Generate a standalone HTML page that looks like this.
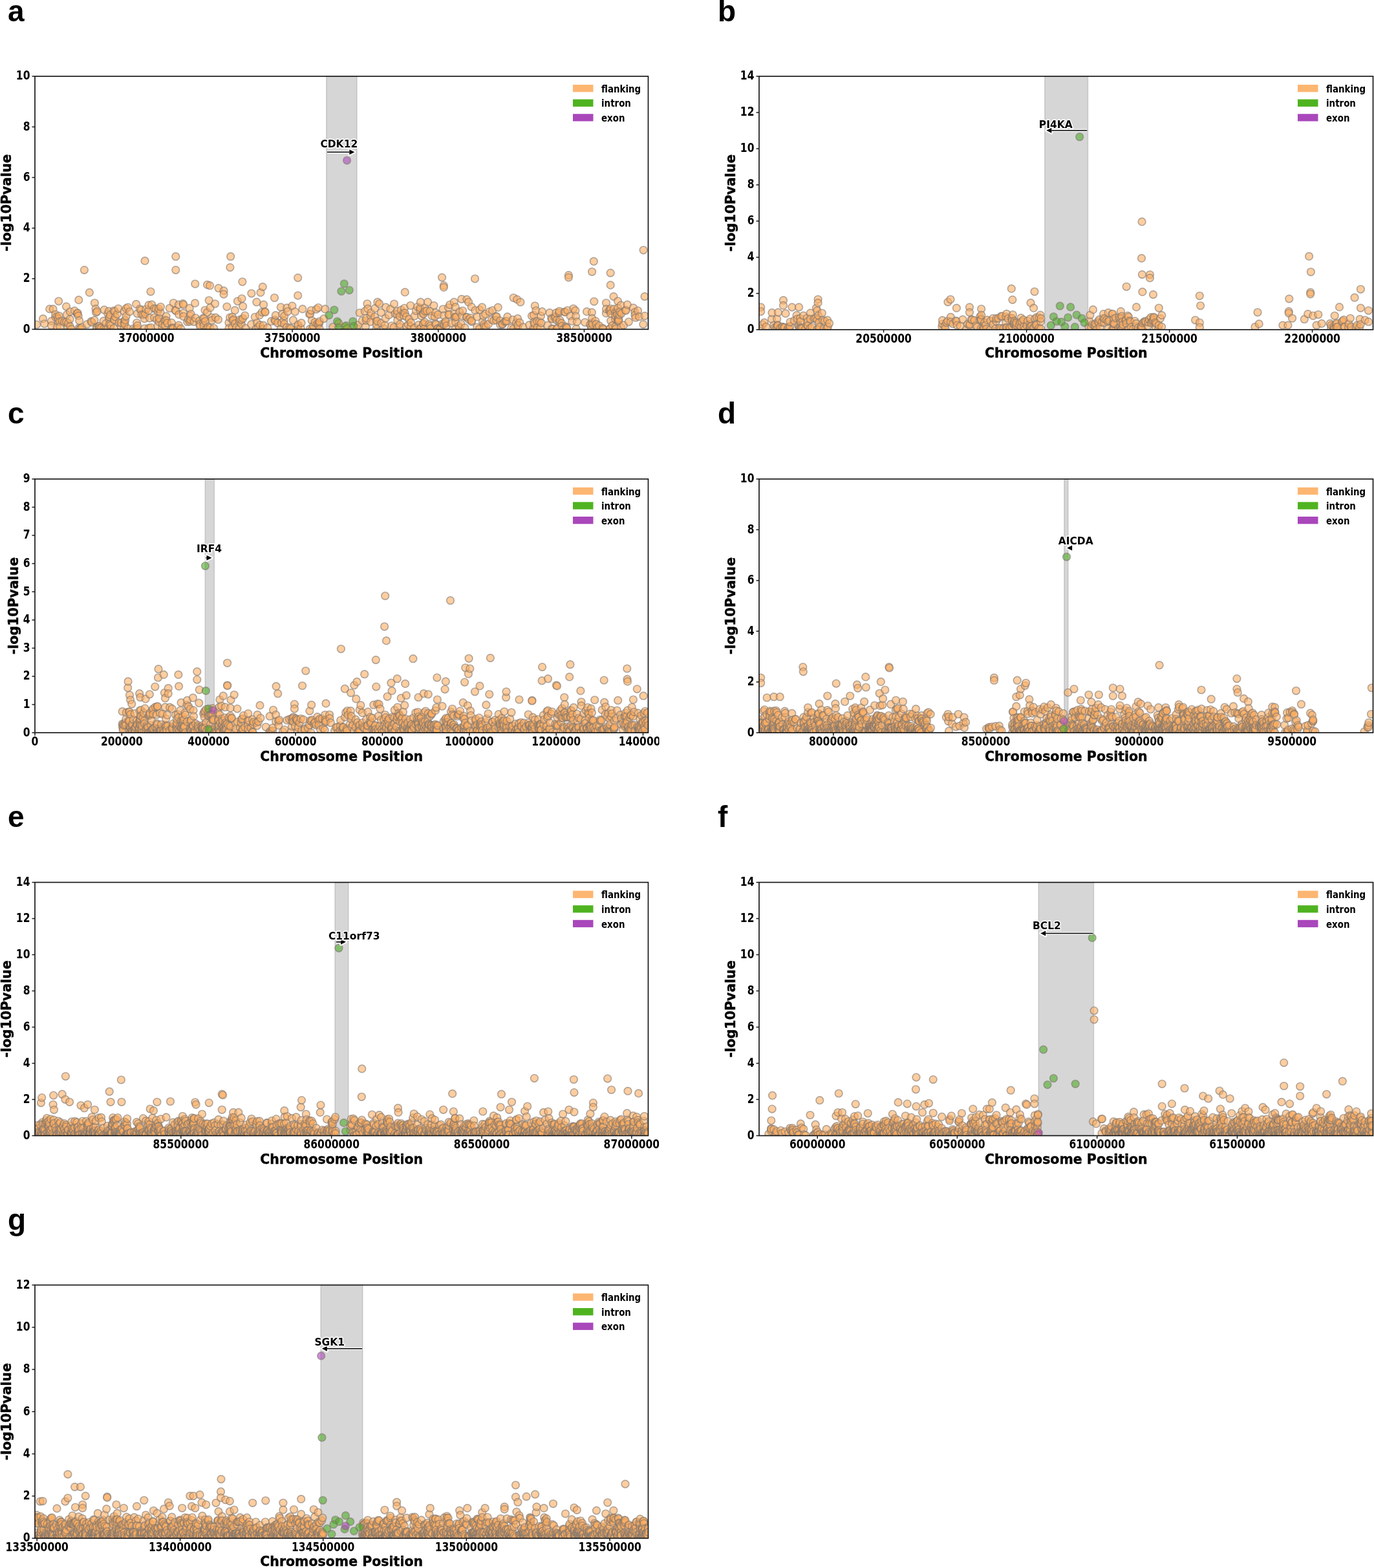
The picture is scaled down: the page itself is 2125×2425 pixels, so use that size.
<!DOCTYPE html>
<html><head><meta charset="utf-8"><title>Regional association plots</title>
<style>html,body{margin:0;padding:0;background:#fff;} svg{display:block;}</style>
</head><body>
<svg width="2125" height="2425" viewBox="0 0 2125 2425">
<defs>
<clipPath id="clipa"><rect x="54" y="118" width="948.5" height="391.3"/></clipPath>
<clipPath id="clipb"><rect x="1174" y="118" width="949.5" height="391.8"/></clipPath>
<clipPath id="clipc"><rect x="54" y="740.8" width="948.5" height="392.4"/></clipPath>
<clipPath id="clipd"><rect x="1174" y="740.8" width="949.5" height="392.4"/></clipPath>
<clipPath id="clipe"><rect x="54" y="1364.6" width="948.5" height="391.8"/></clipPath>
<clipPath id="clipf"><rect x="1174" y="1364.6" width="949.5" height="391.8"/></clipPath>
<clipPath id="clipg"><rect x="54" y="1987.4" width="948.5" height="391.6"/></clipPath>
<clipPath id="clipL"><rect x="0" y="0" width="1019.5" height="2425"/></clipPath>
</defs>
<rect width="2125" height="2425" fill="#fff"/>
<g id="panel-a">
<rect x="504.8" y="118.0" width="47.2" height="391.3" fill="rgb(128,128,128)" fill-opacity="0.32" stroke="rgb(128,128,128)" stroke-opacity="0.32" stroke-width="1.5"/>
<g clip-path="url(#clipa)" stroke="rgb(128,118,110)" stroke-opacity="0.6" stroke-width="1.65">
<g fill="#fdae61" fill-opacity="0.6">
<circle cx="56.7" cy="502" r="5.8"/>
<circle cx="66.5" cy="492.9" r="5.8"/>
<circle cx="68.8" cy="500.8" r="5.8"/>
<circle cx="76.8" cy="477.9" r="5.8"/>
<circle cx="79.5" cy="496.6" r="5.8"/>
<circle cx="79.6" cy="503.5" r="5.8"/>
<circle cx="82.1" cy="477.9" r="5.8"/>
<circle cx="85.7" cy="490.4" r="5.8"/>
<circle cx="85.8" cy="486.3" r="5.8"/>
<circle cx="88.2" cy="506" r="5.8"/>
<circle cx="88.6" cy="489.8" r="5.8"/>
<circle cx="89.9" cy="496.9" r="5.8"/>
<circle cx="90" cy="492.7" r="5.8"/>
<circle cx="90.7" cy="465.8" r="5.8"/>
<circle cx="91.4" cy="488.5" r="5.8"/>
<circle cx="92.3" cy="497.4" r="5.8"/>
<circle cx="92.9" cy="505.3" r="5.8"/>
<circle cx="96.2" cy="496.4" r="5.8"/>
<circle cx="99.6" cy="498.2" r="5.8"/>
<circle cx="102.5" cy="474.1" r="5.8"/>
<circle cx="102.7" cy="498.1" r="5.8"/>
<circle cx="103.4" cy="486.7" r="5.8"/>
<circle cx="105.1" cy="505.3" r="5.8"/>
<circle cx="105.6" cy="499.7" r="5.8"/>
<circle cx="108.1" cy="493.7" r="5.8"/>
<circle cx="108.4" cy="482" r="5.8"/>
<circle cx="108.4" cy="504.9" r="5.8"/>
<circle cx="110.3" cy="509.1" r="5.8"/>
<circle cx="115.3" cy="480.6" r="5.8"/>
<circle cx="119.4" cy="485.2" r="5.8"/>
<circle cx="119.5" cy="484.9" r="5.8"/>
<circle cx="120.1" cy="484.1" r="5.8"/>
<circle cx="121.1" cy="488.4" r="5.8"/>
<circle cx="121.8" cy="463.9" r="5.8"/>
<circle cx="122" cy="507.2" r="5.8"/>
<circle cx="122.7" cy="496" r="5.8"/>
<circle cx="123.5" cy="509" r="5.8"/>
<circle cx="124.3" cy="508" r="5.8"/>
<circle cx="126.9" cy="506.5" r="5.8"/>
<circle cx="130.4" cy="417.6" r="5.8"/>
<circle cx="134.6" cy="501.5" r="5.8"/>
<circle cx="138.4" cy="452.4" r="5.8"/>
<circle cx="140.8" cy="497.1" r="5.8"/>
<circle cx="142" cy="498.3" r="5.8"/>
<circle cx="146" cy="495.3" r="5.8"/>
<circle cx="146.4" cy="468.5" r="5.8"/>
<circle cx="148" cy="477.6" r="5.8"/>
<circle cx="148.4" cy="483.1" r="5.8"/>
<circle cx="149.5" cy="507.2" r="5.8"/>
<circle cx="149.8" cy="506.5" r="5.8"/>
<circle cx="150.2" cy="481.7" r="5.8"/>
<circle cx="152.3" cy="504.8" r="5.8"/>
<circle cx="153.7" cy="504.5" r="5.8"/>
<circle cx="154.4" cy="507" r="5.8"/>
<circle cx="156.8" cy="506.9" r="5.8"/>
<circle cx="160.1" cy="496.4" r="5.8"/>
<circle cx="160.5" cy="508.3" r="5.8"/>
<circle cx="161.2" cy="479.2" r="5.8"/>
<circle cx="163.7" cy="508.3" r="5.8"/>
<circle cx="164" cy="500.1" r="5.8"/>
<circle cx="166.5" cy="508.3" r="5.8"/>
<circle cx="166.8" cy="485.4" r="5.8"/>
<circle cx="168.2" cy="481.4" r="5.8"/>
<circle cx="168.6" cy="493.3" r="5.8"/>
<circle cx="169.2" cy="490.1" r="5.8"/>
<circle cx="169.6" cy="501.3" r="5.8"/>
<circle cx="170.4" cy="487.2" r="5.8"/>
<circle cx="171.1" cy="508.4" r="5.8"/>
<circle cx="171.4" cy="502.8" r="5.8"/>
<circle cx="175.9" cy="480.5" r="5.8"/>
<circle cx="176.1" cy="507.8" r="5.8"/>
<circle cx="176.4" cy="494" r="5.8"/>
<circle cx="176.9" cy="495.1" r="5.8"/>
<circle cx="177.4" cy="481.7" r="5.8"/>
<circle cx="178.4" cy="490.1" r="5.8"/>
<circle cx="181.3" cy="485.9" r="5.8"/>
<circle cx="183" cy="477.3" r="5.8"/>
<circle cx="184.1" cy="498.8" r="5.8"/>
<circle cx="187.1" cy="504.2" r="5.8"/>
<circle cx="187.5" cy="499.2" r="5.8"/>
<circle cx="191.8" cy="508.3" r="5.8"/>
<circle cx="192" cy="481.5" r="5.8"/>
<circle cx="192.5" cy="496.2" r="5.8"/>
<circle cx="192.6" cy="499.8" r="5.8"/>
<circle cx="192.9" cy="501.7" r="5.8"/>
<circle cx="193.8" cy="494.9" r="5.8"/>
<circle cx="195.1" cy="489" r="5.8"/>
<circle cx="195.1" cy="476.9" r="5.8"/>
<circle cx="197.7" cy="508.1" r="5.8"/>
<circle cx="197.9" cy="475.3" r="5.8"/>
<circle cx="200.4" cy="482" r="5.8"/>
<circle cx="206.2" cy="508.4" r="5.8"/>
<circle cx="209.5" cy="509.3" r="5.8"/>
<circle cx="210.7" cy="470.4" r="5.8"/>
<circle cx="211.6" cy="499.3" r="5.8"/>
<circle cx="212.1" cy="507.9" r="5.8"/>
<circle cx="212.4" cy="485" r="5.8"/>
<circle cx="212.6" cy="503.6" r="5.8"/>
<circle cx="216.3" cy="477.8" r="5.8"/>
<circle cx="218.2" cy="479.7" r="5.8"/>
<circle cx="218.9" cy="486.6" r="5.8"/>
<circle cx="221.6" cy="487" r="5.8"/>
<circle cx="223.4" cy="492.8" r="5.8"/>
<circle cx="223.6" cy="508" r="5.8"/>
<circle cx="224.1" cy="403.4" r="5.8"/>
<circle cx="224.8" cy="485.6" r="5.8"/>
<circle cx="225.9" cy="478" r="5.8"/>
<circle cx="230" cy="480.2" r="5.8"/>
<circle cx="230" cy="471.9" r="5.8"/>
<circle cx="230.1" cy="507.4" r="5.8"/>
<circle cx="231.5" cy="492" r="5.8"/>
<circle cx="233" cy="451" r="5.8"/>
<circle cx="233.2" cy="506.6" r="5.8"/>
<circle cx="234.8" cy="471.2" r="5.8"/>
<circle cx="238.5" cy="477.1" r="5.8"/>
<circle cx="238.6" cy="491.2" r="5.8"/>
<circle cx="241.2" cy="477.9" r="5.8"/>
<circle cx="242.6" cy="494.1" r="5.8"/>
<circle cx="243.8" cy="504.5" r="5.8"/>
<circle cx="244.2" cy="481.4" r="5.8"/>
<circle cx="245.4" cy="477.5" r="5.8"/>
<circle cx="245.8" cy="497.5" r="5.8"/>
<circle cx="246.1" cy="492.2" r="5.8"/>
<circle cx="248" cy="483.1" r="5.8"/>
<circle cx="248.4" cy="474.5" r="5.8"/>
<circle cx="251" cy="506.2" r="5.8"/>
<circle cx="251.3" cy="501" r="5.8"/>
<circle cx="254.7" cy="494.6" r="5.8"/>
<circle cx="254.9" cy="496.2" r="5.8"/>
<circle cx="255.3" cy="503.2" r="5.8"/>
<circle cx="257.1" cy="489.2" r="5.8"/>
<circle cx="257.4" cy="495.8" r="5.8"/>
<circle cx="258.7" cy="499.5" r="5.8"/>
<circle cx="262.3" cy="476.7" r="5.8"/>
<circle cx="264.8" cy="508.4" r="5.8"/>
<circle cx="265.4" cy="499.1" r="5.8"/>
<circle cx="266" cy="507.4" r="5.8"/>
<circle cx="267.5" cy="507.2" r="5.8"/>
<circle cx="267.8" cy="508.1" r="5.8"/>
<circle cx="268.3" cy="468.5" r="5.8"/>
<circle cx="271.2" cy="480" r="5.8"/>
<circle cx="271.8" cy="396.7" r="5.8"/>
<circle cx="271.8" cy="417.6" r="5.8"/>
<circle cx="272" cy="480.5" r="5.8"/>
<circle cx="274.6" cy="506.7" r="5.8"/>
<circle cx="276.3" cy="503.1" r="5.8"/>
<circle cx="276.4" cy="471.2" r="5.8"/>
<circle cx="276.7" cy="486.4" r="5.8"/>
<circle cx="279.7" cy="508.4" r="5.8"/>
<circle cx="282.8" cy="469.6" r="5.8"/>
<circle cx="283.5" cy="484.2" r="5.8"/>
<circle cx="283.7" cy="489.3" r="5.8"/>
<circle cx="283.8" cy="471.2" r="5.8"/>
<circle cx="289.7" cy="497.7" r="5.8"/>
<circle cx="291.2" cy="494.1" r="5.8"/>
<circle cx="293.1" cy="476.7" r="5.8"/>
<circle cx="293.4" cy="497.4" r="5.8"/>
<circle cx="294.2" cy="488.8" r="5.8"/>
<circle cx="294.7" cy="494.7" r="5.8"/>
<circle cx="295.3" cy="485.8" r="5.8"/>
<circle cx="299.9" cy="497.6" r="5.8"/>
<circle cx="301.6" cy="468.9" r="5.8"/>
<circle cx="301.8" cy="439" r="5.8"/>
<circle cx="302.4" cy="491.8" r="5.8"/>
<circle cx="308.4" cy="496" r="5.8"/>
<circle cx="308.8" cy="501.8" r="5.8"/>
<circle cx="309.4" cy="504.3" r="5.8"/>
<circle cx="314.1" cy="492.1" r="5.8"/>
<circle cx="314.6" cy="499" r="5.8"/>
<circle cx="315.1" cy="503.7" r="5.8"/>
<circle cx="315.6" cy="492.6" r="5.8"/>
<circle cx="317" cy="479.8" r="5.8"/>
<circle cx="317.4" cy="496.8" r="5.8"/>
<circle cx="319.4" cy="509.1" r="5.8"/>
<circle cx="320.6" cy="440.4" r="5.8"/>
<circle cx="320.7" cy="483" r="5.8"/>
<circle cx="321.7" cy="505.9" r="5.8"/>
<circle cx="323.2" cy="464.5" r="5.8"/>
<circle cx="324.6" cy="441.7" r="5.8"/>
<circle cx="324.7" cy="507.3" r="5.8"/>
<circle cx="325.1" cy="475.9" r="5.8"/>
<circle cx="327.5" cy="491.2" r="5.8"/>
<circle cx="327.8" cy="495.2" r="5.8"/>
<circle cx="330.6" cy="507.5" r="5.8"/>
<circle cx="332.6" cy="469.8" r="5.8"/>
<circle cx="333.4" cy="491.1" r="5.8"/>
<circle cx="337.5" cy="494.2" r="5.8"/>
<circle cx="338" cy="445.7" r="5.8"/>
<circle cx="346" cy="449.7" r="5.8"/>
<circle cx="346" cy="455" r="5.8"/>
<circle cx="350.9" cy="474.3" r="5.8"/>
<circle cx="353.9" cy="499" r="5.8"/>
<circle cx="354" cy="507.7" r="5.8"/>
<circle cx="355.6" cy="491" r="5.8"/>
<circle cx="355.9" cy="413.6" r="5.8"/>
<circle cx="356.7" cy="396.7" r="5.8"/>
<circle cx="359.2" cy="506.1" r="5.8"/>
<circle cx="359.4" cy="490.2" r="5.8"/>
<circle cx="360" cy="495.9" r="5.8"/>
<circle cx="360.9" cy="494.4" r="5.8"/>
<circle cx="363.3" cy="479.9" r="5.8"/>
<circle cx="363.6" cy="500.4" r="5.8"/>
<circle cx="365.5" cy="506.7" r="5.8"/>
<circle cx="367.4" cy="465.8" r="5.8"/>
<circle cx="370.1" cy="507.6" r="5.8"/>
<circle cx="370.4" cy="497.5" r="5.8"/>
<circle cx="370.9" cy="494.3" r="5.8"/>
<circle cx="373.3" cy="501" r="5.8"/>
<circle cx="373.7" cy="494.6" r="5.8"/>
<circle cx="374" cy="461.8" r="5.8"/>
<circle cx="374.9" cy="435.8" r="5.8"/>
<circle cx="375.7" cy="492.4" r="5.8"/>
<circle cx="375.7" cy="473.8" r="5.8"/>
<circle cx="378.8" cy="488" r="5.8"/>
<circle cx="379.7" cy="507.7" r="5.8"/>
<circle cx="388.7" cy="501.7" r="5.8"/>
<circle cx="388.9" cy="453.8" r="5.8"/>
<circle cx="394.3" cy="490.3" r="5.8"/>
<circle cx="396.1" cy="508.2" r="5.8"/>
<circle cx="396.9" cy="467.2" r="5.8"/>
<circle cx="397.5" cy="499.3" r="5.8"/>
<circle cx="399.7" cy="505.7" r="5.8"/>
<circle cx="401.5" cy="487.4" r="5.8"/>
<circle cx="401.9" cy="502.7" r="5.8"/>
<circle cx="403" cy="452.4" r="5.8"/>
<circle cx="405.3" cy="482.8" r="5.8"/>
<circle cx="406" cy="508.8" r="5.8"/>
<circle cx="406.3" cy="443.6" r="5.8"/>
<circle cx="407.1" cy="503.2" r="5.8"/>
<circle cx="407.6" cy="471.2" r="5.8"/>
<circle cx="409.6" cy="481.9" r="5.8"/>
<circle cx="410.2" cy="482.8" r="5.8"/>
<circle cx="413.8" cy="507.1" r="5.8"/>
<circle cx="419.5" cy="496.9" r="5.8"/>
<circle cx="424.5" cy="460.5" r="5.8"/>
<circle cx="424.9" cy="494.6" r="5.8"/>
<circle cx="425.9" cy="496.6" r="5.8"/>
<circle cx="426.3" cy="487.7" r="5.8"/>
<circle cx="429.4" cy="499.6" r="5.8"/>
<circle cx="434.1" cy="508.5" r="5.8"/>
<circle cx="434.3" cy="475" r="5.8"/>
<circle cx="435.5" cy="499.1" r="5.8"/>
<circle cx="436.6" cy="485.9" r="5.8"/>
<circle cx="438.9" cy="495.5" r="5.8"/>
<circle cx="439.6" cy="501" r="5.8"/>
<circle cx="439.8" cy="488.6" r="5.8"/>
<circle cx="443.3" cy="506.5" r="5.8"/>
<circle cx="443.8" cy="476.1" r="5.8"/>
<circle cx="444.8" cy="481.8" r="5.8"/>
<circle cx="447.8" cy="506.6" r="5.8"/>
<circle cx="449.6" cy="508.2" r="5.8"/>
<circle cx="451.9" cy="473.1" r="5.8"/>
<circle cx="453.4" cy="495.2" r="5.8"/>
<circle cx="456.3" cy="482" r="5.8"/>
<circle cx="460.6" cy="504.4" r="5.8"/>
<circle cx="460.7" cy="429.6" r="5.8"/>
<circle cx="460.7" cy="457" r="5.8"/>
<circle cx="460.9" cy="509.2" r="5.8"/>
<circle cx="460.9" cy="502.1" r="5.8"/>
<circle cx="465.2" cy="507.7" r="5.8"/>
<circle cx="466.1" cy="499.4" r="5.8"/>
<circle cx="467.9" cy="477.9" r="5.8"/>
<circle cx="478.6" cy="485.9" r="5.8"/>
<circle cx="479.3" cy="508.7" r="5.8"/>
<circle cx="479.8" cy="485.6" r="5.8"/>
<circle cx="481.2" cy="480" r="5.8"/>
<circle cx="482.3" cy="495.8" r="5.8"/>
<circle cx="482.6" cy="509.2" r="5.8"/>
<circle cx="484.6" cy="503.9" r="5.8"/>
<circle cx="487.1" cy="498.3" r="5.8"/>
<circle cx="489.2" cy="478.3" r="5.8"/>
<circle cx="490.4" cy="500.9" r="5.8"/>
<circle cx="492.3" cy="475.8" r="5.8"/>
<circle cx="492.5" cy="502.3" r="5.8"/>
<circle cx="493.6" cy="499.8" r="5.8"/>
<circle cx="494.3" cy="497.2" r="5.8"/>
<circle cx="494.3" cy="508.8" r="5.8"/>
<circle cx="501" cy="492.8" r="5.8"/>
<circle cx="502.7" cy="477.9" r="5.8"/>
<circle cx="515" cy="505.8" r="5.8"/>
<circle cx="523.8" cy="499.9" r="5.8"/>
<circle cx="533.2" cy="505" r="5.8"/>
<circle cx="536.3" cy="508.3" r="5.8"/>
<circle cx="537.2" cy="507.7" r="5.8"/>
<circle cx="552" cy="507.5" r="5.8"/>
<circle cx="553.7" cy="502.8" r="5.8"/>
<circle cx="556.2" cy="483.8" r="5.8"/>
<circle cx="560.2" cy="496" r="5.8"/>
<circle cx="564.2" cy="481.4" r="5.8"/>
<circle cx="565.4" cy="505.1" r="5.8"/>
<circle cx="566.1" cy="495.5" r="5.8"/>
<circle cx="566.6" cy="492.2" r="5.8"/>
<circle cx="567.9" cy="469.8" r="5.8"/>
<circle cx="568.7" cy="477.4" r="5.8"/>
<circle cx="573.3" cy="488.7" r="5.8"/>
<circle cx="573.3" cy="497.5" r="5.8"/>
<circle cx="573.9" cy="483.6" r="5.8"/>
<circle cx="579.7" cy="490" r="5.8"/>
<circle cx="579.9" cy="476.9" r="5.8"/>
<circle cx="581.8" cy="509" r="5.8"/>
<circle cx="582" cy="496.8" r="5.8"/>
<circle cx="582.3" cy="502.2" r="5.8"/>
<circle cx="583.5" cy="496.4" r="5.8"/>
<circle cx="583.9" cy="467.2" r="5.8"/>
<circle cx="586.6" cy="469.8" r="5.8"/>
<circle cx="589.4" cy="483.2" r="5.8"/>
<circle cx="589.7" cy="499.7" r="5.8"/>
<circle cx="593.5" cy="508.4" r="5.8"/>
<circle cx="595.2" cy="503.1" r="5.8"/>
<circle cx="596.2" cy="492.4" r="5.8"/>
<circle cx="596.8" cy="475.2" r="5.8"/>
<circle cx="601.3" cy="487.3" r="5.8"/>
<circle cx="603.9" cy="477.9" r="5.8"/>
<circle cx="605.7" cy="503.8" r="5.8"/>
<circle cx="609.2" cy="506.2" r="5.8"/>
<circle cx="609.6" cy="470" r="5.8"/>
<circle cx="611.1" cy="485.2" r="5.8"/>
<circle cx="614.2" cy="486.3" r="5.8"/>
<circle cx="614.5" cy="481.3" r="5.8"/>
<circle cx="614.9" cy="495.2" r="5.8"/>
<circle cx="618.2" cy="489.1" r="5.8"/>
<circle cx="618.4" cy="505.9" r="5.8"/>
<circle cx="618.6" cy="501.6" r="5.8"/>
<circle cx="620.3" cy="479.4" r="5.8"/>
<circle cx="624.1" cy="483.7" r="5.8"/>
<circle cx="624.3" cy="488" r="5.8"/>
<circle cx="625.5" cy="476.5" r="5.8"/>
<circle cx="626.2" cy="484.2" r="5.8"/>
<circle cx="626.3" cy="451.9" r="5.8"/>
<circle cx="628.4" cy="489.8" r="5.8"/>
<circle cx="628.6" cy="504.6" r="5.8"/>
<circle cx="631.5" cy="502.2" r="5.8"/>
<circle cx="632.7" cy="493.5" r="5.8"/>
<circle cx="634.8" cy="472.5" r="5.8"/>
<circle cx="635.2" cy="504.9" r="5.8"/>
<circle cx="635.6" cy="498.9" r="5.8"/>
<circle cx="641.1" cy="507.2" r="5.8"/>
<circle cx="641.2" cy="488.7" r="5.8"/>
<circle cx="643.4" cy="480.7" r="5.8"/>
<circle cx="645.7" cy="474.6" r="5.8"/>
<circle cx="647.6" cy="502.4" r="5.8"/>
<circle cx="648.7" cy="509.1" r="5.8"/>
<circle cx="649.6" cy="479.5" r="5.8"/>
<circle cx="649.9" cy="476.4" r="5.8"/>
<circle cx="650.4" cy="467.2" r="5.8"/>
<circle cx="651.5" cy="507" r="5.8"/>
<circle cx="651.6" cy="488.6" r="5.8"/>
<circle cx="654.2" cy="484.7" r="5.8"/>
<circle cx="654.7" cy="500.4" r="5.8"/>
<circle cx="654.8" cy="501.1" r="5.8"/>
<circle cx="655.2" cy="485.7" r="5.8"/>
<circle cx="655.9" cy="508.7" r="5.8"/>
<circle cx="656.9" cy="498.1" r="5.8"/>
<circle cx="657.4" cy="476.2" r="5.8"/>
<circle cx="657.4" cy="481.5" r="5.8"/>
<circle cx="660.1" cy="480.7" r="5.8"/>
<circle cx="661.6" cy="467.2" r="5.8"/>
<circle cx="663.5" cy="501.6" r="5.8"/>
<circle cx="665.1" cy="481.1" r="5.8"/>
<circle cx="665.6" cy="504.2" r="5.8"/>
<circle cx="665.9" cy="507.9" r="5.8"/>
<circle cx="668.1" cy="488.8" r="5.8"/>
<circle cx="671" cy="472.5" r="5.8"/>
<circle cx="672.3" cy="489.8" r="5.8"/>
<circle cx="673.6" cy="500.4" r="5.8"/>
<circle cx="673.6" cy="483.4" r="5.8"/>
<circle cx="674.3" cy="502.1" r="5.8"/>
<circle cx="676.7" cy="508.2" r="5.8"/>
<circle cx="676.9" cy="508.1" r="5.8"/>
<circle cx="677.4" cy="486.7" r="5.8"/>
<circle cx="679.7" cy="508.7" r="5.8"/>
<circle cx="680.7" cy="508.8" r="5.8"/>
<circle cx="683.6" cy="429.1" r="5.8"/>
<circle cx="684" cy="500.9" r="5.8"/>
<circle cx="685.1" cy="478" r="5.8"/>
<circle cx="686.3" cy="488.1" r="5.8"/>
<circle cx="686.3" cy="441.7" r="5.8"/>
<circle cx="686.3" cy="444.4" r="5.8"/>
<circle cx="686.4" cy="501.8" r="5.8"/>
<circle cx="686.7" cy="501.4" r="5.8"/>
<circle cx="688.8" cy="499.8" r="5.8"/>
<circle cx="689.3" cy="497.3" r="5.8"/>
<circle cx="690.7" cy="503.8" r="5.8"/>
<circle cx="693.5" cy="475.8" r="5.8"/>
<circle cx="694.1" cy="487.1" r="5.8"/>
<circle cx="694.3" cy="486.4" r="5.8"/>
<circle cx="695.8" cy="471.3" r="5.8"/>
<circle cx="698.5" cy="500" r="5.8"/>
<circle cx="702.3" cy="467.2" r="5.8"/>
<circle cx="703" cy="485.1" r="5.8"/>
<circle cx="703.1" cy="490.9" r="5.8"/>
<circle cx="704.2" cy="507.8" r="5.8"/>
<circle cx="704.3" cy="490" r="5.8"/>
<circle cx="704.4" cy="474.9" r="5.8"/>
<circle cx="704.5" cy="498.3" r="5.8"/>
<circle cx="705.9" cy="490.1" r="5.8"/>
<circle cx="709.5" cy="504.4" r="5.8"/>
<circle cx="710.7" cy="507.2" r="5.8"/>
<circle cx="710.8" cy="482.2" r="5.8"/>
<circle cx="713.1" cy="501.3" r="5.8"/>
<circle cx="713.9" cy="462.6" r="5.8"/>
<circle cx="714.5" cy="488.5" r="5.8"/>
<circle cx="715.6" cy="480.5" r="5.8"/>
<circle cx="718.9" cy="506.9" r="5.8"/>
<circle cx="721.3" cy="490.7" r="5.8"/>
<circle cx="721.9" cy="463.1" r="5.8"/>
<circle cx="722.2" cy="490.6" r="5.8"/>
<circle cx="724.6" cy="467.2" r="5.8"/>
<circle cx="725.2" cy="494.3" r="5.8"/>
<circle cx="727.4" cy="491.5" r="5.8"/>
<circle cx="729.2" cy="474.6" r="5.8"/>
<circle cx="729.4" cy="497.6" r="5.8"/>
<circle cx="729.5" cy="495.9" r="5.8"/>
<circle cx="734.5" cy="431" r="5.8"/>
<circle cx="734.9" cy="480" r="5.8"/>
<circle cx="737.8" cy="489.9" r="5.8"/>
<circle cx="737.8" cy="506.1" r="5.8"/>
<circle cx="741.3" cy="508.7" r="5.8"/>
<circle cx="741.8" cy="478.9" r="5.8"/>
<circle cx="745.5" cy="475.2" r="5.8"/>
<circle cx="746.4" cy="497.7" r="5.8"/>
<circle cx="747.6" cy="488.5" r="5.8"/>
<circle cx="748.2" cy="501.6" r="5.8"/>
<circle cx="749" cy="504.8" r="5.8"/>
<circle cx="750.8" cy="485.9" r="5.8"/>
<circle cx="751.7" cy="505.4" r="5.8"/>
<circle cx="755.2" cy="501.4" r="5.8"/>
<circle cx="757.1" cy="482" r="5.8"/>
<circle cx="760.4" cy="494.4" r="5.8"/>
<circle cx="761.6" cy="480" r="5.8"/>
<circle cx="763.4" cy="495.9" r="5.8"/>
<circle cx="767.1" cy="489.2" r="5.8"/>
<circle cx="767.6" cy="495.4" r="5.8"/>
<circle cx="768.1" cy="489.9" r="5.8"/>
<circle cx="770.2" cy="475.4" r="5.8"/>
<circle cx="773.4" cy="496" r="5.8"/>
<circle cx="773.8" cy="502.4" r="5.8"/>
<circle cx="776.9" cy="501.9" r="5.8"/>
<circle cx="777.2" cy="501" r="5.8"/>
<circle cx="780.5" cy="497.5" r="5.8"/>
<circle cx="782.2" cy="496.6" r="5.8"/>
<circle cx="783.6" cy="496.6" r="5.8"/>
<circle cx="784.8" cy="489.9" r="5.8"/>
<circle cx="790.9" cy="506.9" r="5.8"/>
<circle cx="793" cy="494.5" r="5.8"/>
<circle cx="794.1" cy="508.5" r="5.8"/>
<circle cx="794.2" cy="460.5" r="5.8"/>
<circle cx="798.5" cy="499.3" r="5.8"/>
<circle cx="799.6" cy="463.1" r="5.8"/>
<circle cx="800.6" cy="492.7" r="5.8"/>
<circle cx="800.8" cy="506.9" r="5.8"/>
<circle cx="801" cy="503" r="5.8"/>
<circle cx="803.8" cy="498.9" r="5.8"/>
<circle cx="804.9" cy="467.2" r="5.8"/>
<circle cx="809" cy="505.9" r="5.8"/>
<circle cx="818.6" cy="502.7" r="5.8"/>
<circle cx="822.4" cy="488.6" r="5.8"/>
<circle cx="824.2" cy="508.6" r="5.8"/>
<circle cx="825.5" cy="487.4" r="5.8"/>
<circle cx="825.7" cy="498.2" r="5.8"/>
<circle cx="826.7" cy="508" r="5.8"/>
<circle cx="826.8" cy="500.4" r="5.8"/>
<circle cx="827.3" cy="473" r="5.8"/>
<circle cx="829" cy="480.3" r="5.8"/>
<circle cx="830.6" cy="496.7" r="5.8"/>
<circle cx="831" cy="506.7" r="5.8"/>
<circle cx="834.2" cy="497.4" r="5.8"/>
<circle cx="835.7" cy="507.7" r="5.8"/>
<circle cx="836.5" cy="488.7" r="5.8"/>
<circle cx="837.1" cy="499.5" r="5.8"/>
<circle cx="838.4" cy="481.9" r="5.8"/>
<circle cx="847" cy="503.2" r="5.8"/>
<circle cx="850" cy="483.7" r="5.8"/>
<circle cx="852.7" cy="492.3" r="5.8"/>
<circle cx="853.5" cy="508.2" r="5.8"/>
<circle cx="853.9" cy="493.4" r="5.8"/>
<circle cx="854.8" cy="508.9" r="5.8"/>
<circle cx="857.9" cy="491" r="5.8"/>
<circle cx="859.2" cy="489.7" r="5.8"/>
<circle cx="859.9" cy="483.9" r="5.8"/>
<circle cx="860.9" cy="495.3" r="5.8"/>
<circle cx="861.1" cy="508.2" r="5.8"/>
<circle cx="862.2" cy="507.7" r="5.8"/>
<circle cx="864.5" cy="483.6" r="5.8"/>
<circle cx="865.1" cy="481.3" r="5.8"/>
<circle cx="865.2" cy="498.5" r="5.8"/>
<circle cx="865.8" cy="495.2" r="5.8"/>
<circle cx="868.5" cy="499.8" r="5.8"/>
<circle cx="869.1" cy="504.2" r="5.8"/>
<circle cx="871.3" cy="508.9" r="5.8"/>
<circle cx="872.9" cy="482.4" r="5.8"/>
<circle cx="874.2" cy="482.8" r="5.8"/>
<circle cx="875" cy="505" r="5.8"/>
<circle cx="876.1" cy="506.1" r="5.8"/>
<circle cx="876.5" cy="507.4" r="5.8"/>
<circle cx="877.8" cy="480" r="5.8"/>
<circle cx="879.4" cy="425.6" r="5.8"/>
<circle cx="879.4" cy="429.1" r="5.8"/>
<circle cx="882.1" cy="488.8" r="5.8"/>
<circle cx="884.8" cy="496.7" r="5.8"/>
<circle cx="886.8" cy="477.3" r="5.8"/>
<circle cx="889.9" cy="480.3" r="5.8"/>
<circle cx="890.6" cy="489" r="5.8"/>
<circle cx="891.1" cy="508.6" r="5.8"/>
<circle cx="892.4" cy="497.6" r="5.8"/>
<circle cx="904.6" cy="498.5" r="5.8"/>
<circle cx="907.5" cy="481.9" r="5.8"/>
<circle cx="912.6" cy="501.9" r="5.8"/>
<circle cx="914.1" cy="505.3" r="5.8"/>
<circle cx="914.6" cy="509.3" r="5.8"/>
<circle cx="915.4" cy="483.1" r="5.8"/>
<circle cx="915.5" cy="498.9" r="5.8"/>
<circle cx="915.6" cy="420.3" r="5.8"/>
<circle cx="915.7" cy="492.4" r="5.8"/>
<circle cx="916.2" cy="501.7" r="5.8"/>
<circle cx="918.3" cy="404.2" r="5.8"/>
<circle cx="918.8" cy="466.3" r="5.8"/>
<circle cx="920.9" cy="496.5" r="5.8"/>
<circle cx="922" cy="501.4" r="5.8"/>
<circle cx="923.4" cy="507" r="5.8"/>
<circle cx="926.6" cy="503.7" r="5.8"/>
<circle cx="932" cy="507.3" r="5.8"/>
<circle cx="932.6" cy="509.1" r="5.8"/>
<circle cx="937.4" cy="484.4" r="5.8"/>
<circle cx="937.5" cy="468.5" r="5.8"/>
<circle cx="937.5" cy="477.9" r="5.8"/>
<circle cx="942.2" cy="480.1" r="5.8"/>
<circle cx="943.2" cy="508.4" r="5.8"/>
<circle cx="943.7" cy="480.6" r="5.8"/>
<circle cx="943.7" cy="508.3" r="5.8"/>
<circle cx="944.2" cy="422.1" r="5.8"/>
<circle cx="944.2" cy="440.9" r="5.8"/>
<circle cx="944.3" cy="477.5" r="5.8"/>
<circle cx="944.7" cy="496.1" r="5.8"/>
<circle cx="944.8" cy="484.9" r="5.8"/>
<circle cx="947.1" cy="503.4" r="5.8"/>
<circle cx="949" cy="458.6" r="5.8"/>
<circle cx="949.3" cy="477.8" r="5.8"/>
<circle cx="951.7" cy="483.4" r="5.8"/>
<circle cx="951.7" cy="493.8" r="5.8"/>
<circle cx="951.8" cy="488.3" r="5.8"/>
<circle cx="951.9" cy="505.5" r="5.8"/>
<circle cx="952.4" cy="508.4" r="5.8"/>
<circle cx="954.4" cy="484" r="5.8"/>
<circle cx="954.7" cy="487.3" r="5.8"/>
<circle cx="955.2" cy="495.9" r="5.8"/>
<circle cx="955.5" cy="465.8" r="5.8"/>
<circle cx="955.7" cy="493.9" r="5.8"/>
<circle cx="955.7" cy="476.5" r="5.8"/>
<circle cx="956.3" cy="495.8" r="5.8"/>
<circle cx="956.6" cy="493.3" r="5.8"/>
<circle cx="956.9" cy="496.1" r="5.8"/>
<circle cx="958" cy="487.1" r="5.8"/>
<circle cx="958.7" cy="482" r="5.8"/>
<circle cx="960.3" cy="472.1" r="5.8"/>
<circle cx="960.4" cy="506.3" r="5.8"/>
<circle cx="961.1" cy="484.7" r="5.8"/>
<circle cx="964.5" cy="502.9" r="5.8"/>
<circle cx="967.6" cy="479.6" r="5.8"/>
<circle cx="968" cy="480.2" r="5.8"/>
<circle cx="970.2" cy="471.2" r="5.8"/>
<circle cx="972.3" cy="497.8" r="5.8"/>
<circle cx="979.6" cy="476.1" r="5.8"/>
<circle cx="981.8" cy="482.9" r="5.8"/>
<circle cx="982" cy="487.7" r="5.8"/>
<circle cx="983" cy="491.2" r="5.8"/>
<circle cx="986.5" cy="480.5" r="5.8"/>
<circle cx="988.6" cy="489.7" r="5.8"/>
<circle cx="994.8" cy="501.6" r="5.8"/>
<circle cx="995.1" cy="386.8" r="5.8"/>
<circle cx="997" cy="458.6" r="5.8"/>
<circle cx="997" cy="488.6" r="5.8"/>
</g>
<g fill="#4dac26" fill-opacity="0.6">
<circle cx="532.3" cy="438.8" r="5.8"/>
<circle cx="527.9" cy="450.5" r="5.8"/>
<circle cx="540.3" cy="448.8" r="5.8"/>
<circle cx="516.9" cy="479.3" r="5.8"/>
<circle cx="508.8" cy="487.6" r="5.8"/>
<circle cx="521.6" cy="497" r="5.8"/>
<circle cx="535.3" cy="503.7" r="5.8"/>
<circle cx="545.7" cy="497" r="5.8"/>
<circle cx="523.6" cy="506.4" r="5.8"/>
<circle cx="547" cy="504.4" r="5.8"/>
</g>
<g fill="#ab47bc" fill-opacity="0.6">
<circle cx="536.6" cy="248" r="5.8"/>
</g>
</g>
<rect x="54" y="118" width="948.5" height="391.3" fill="none" stroke="#1a1a1a" stroke-width="1.7"/>
<line x1="49.5" y1="509.3" x2="54" y2="509.3" stroke="#1a1a1a" stroke-width="1.5"/>
<line x1="49.5" y1="431.0" x2="54" y2="431.0" stroke="#1a1a1a" stroke-width="1.5"/>
<line x1="49.5" y1="352.8" x2="54" y2="352.8" stroke="#1a1a1a" stroke-width="1.5"/>
<line x1="49.5" y1="274.5" x2="54" y2="274.5" stroke="#1a1a1a" stroke-width="1.5"/>
<line x1="49.5" y1="196.3" x2="54" y2="196.3" stroke="#1a1a1a" stroke-width="1.5"/>
<line x1="49.5" y1="118.0" x2="54" y2="118.0" stroke="#1a1a1a" stroke-width="1.5"/>
<line x1="226.4" y1="509.3" x2="226.4" y2="513.8" stroke="#1a1a1a" stroke-width="1.5"/>
<line x1="452.1" y1="509.3" x2="452.1" y2="513.8" stroke="#1a1a1a" stroke-width="1.5"/>
<line x1="677.8" y1="509.3" x2="677.8" y2="513.8" stroke="#1a1a1a" stroke-width="1.5"/>
<line x1="903.5" y1="509.3" x2="903.5" y2="513.8" stroke="#1a1a1a" stroke-width="1.5"/>
<g font-family="DejaVu Sans Condensed, DejaVu Sans, sans-serif" font-weight="bold" font-stretch="condensed" font-size="17.3" fill="#000" clip-path="url(#clipL)"><text transform="translate(46.5,514.7) scale(1,1.1)" text-anchor="end">0</text><text transform="translate(46.5,436.4) scale(1,1.1)" text-anchor="end">2</text><text transform="translate(46.5,358.2) scale(1,1.1)" text-anchor="end">4</text><text transform="translate(46.5,279.9) scale(1,1.1)" text-anchor="end">6</text><text transform="translate(46.5,201.7) scale(1,1.1)" text-anchor="end">8</text><text transform="translate(46.5,123.4) scale(1,1.1)" text-anchor="end">10</text><text transform="translate(226.4,529.3) scale(1,1.1)" text-anchor="middle">37000000</text><text transform="translate(452.1,529.3) scale(1,1.1)" text-anchor="middle">37500000</text><text transform="translate(677.8,529.3) scale(1,1.1)" text-anchor="middle">38000000</text><text transform="translate(903.5,529.3) scale(1,1.1)" text-anchor="middle">38500000</text></g>
<text font-family="DejaVu Sans, sans-serif" font-weight="bold" font-size="20.5" x="528.2" y="552.6" text-anchor="middle" stroke="#000" stroke-width="0.4">Chromosome Position</text>
<text font-family="DejaVu Sans, sans-serif" font-weight="bold" font-size="20.5" transform="translate(17.0,313.6) rotate(-90)" text-anchor="middle" stroke="#000" stroke-width="0.4">-log10Pvalue</text>
<rect x="886.0" y="131.0" width="31.5" height="11.3" fill="#fdb672"/>
<text font-family="DejaVu Sans Condensed, DejaVu Sans, sans-serif" font-weight="bold" font-stretch="condensed" font-size="14.9" transform="translate(930.0,142.8) scale(1,1.1)">flanking</text>
<rect x="886.0" y="153.6" width="31.5" height="11.3" fill="#4fb320"/>
<text font-family="DejaVu Sans Condensed, DejaVu Sans, sans-serif" font-weight="bold" font-stretch="condensed" font-size="14.9" transform="translate(930.0,165.4) scale(1,1.1)">intron</text>
<rect x="886.0" y="176.2" width="31.5" height="11.3" fill="#a947bb"/>
<text font-family="DejaVu Sans Condensed, DejaVu Sans, sans-serif" font-weight="bold" font-stretch="condensed" font-size="14.9" transform="translate(930.0,188.0) scale(1,1.1)">exon</text>
<g stroke="#fff" stroke-width="4" fill="#fff" stroke-linejoin="round"><line x1="506.0" y1="235.2" x2="540.4" y2="235.2"/><path d="M548.4,235.2 L540.4,231.2 L540.4,239.2 Z"/></g>
<line x1="506.0" y1="235.2" x2="540.4" y2="235.2" stroke="#000" stroke-width="1.6"/>
<path d="M548.4,235.2 L540.4,231.2 L540.4,239.2 Z" fill="#000"/>
<text font-family="DejaVu Sans, sans-serif" font-weight="bold" font-size="15.5" x="524.3" y="228.0" text-anchor="middle" stroke="#fff" stroke-width="3" paint-order="stroke" stroke-linejoin="round">CDK12</text>
<text font-family="Liberation Sans, Arial, sans-serif" font-weight="bold" font-size="46" x="12" y="33.2">a</text>
</g>
<g id="panel-b">
<rect x="1615.8" y="118.0" width="66.7" height="391.8" fill="rgb(128,128,128)" fill-opacity="0.32" stroke="rgb(128,128,128)" stroke-opacity="0.32" stroke-width="1.5"/>
<g clip-path="url(#clipb)" stroke="rgb(128,118,110)" stroke-opacity="0.6" stroke-width="1.65">
<g fill="#fdae61" fill-opacity="0.6">
<circle cx="1176.7" cy="475.1" r="5.8"/>
<circle cx="1176.7" cy="481.8" r="5.8"/>
<circle cx="1177.3" cy="508.4" r="5.8"/>
<circle cx="1179.4" cy="501.9" r="5.8"/>
<circle cx="1182" cy="498.9" r="5.8"/>
<circle cx="1184.9" cy="505.4" r="5.8"/>
<circle cx="1193.5" cy="493.5" r="5.8"/>
<circle cx="1194" cy="483.7" r="5.8"/>
<circle cx="1196.7" cy="503" r="5.8"/>
<circle cx="1197.8" cy="506.9" r="5.8"/>
<circle cx="1199.9" cy="508.6" r="5.8"/>
<circle cx="1201.5" cy="505.5" r="5.8"/>
<circle cx="1201.7" cy="493.5" r="5.8"/>
<circle cx="1202.7" cy="502.5" r="5.8"/>
<circle cx="1203" cy="503.7" r="5.8"/>
<circle cx="1203.5" cy="483.1" r="5.8"/>
<circle cx="1206.9" cy="507.2" r="5.8"/>
<circle cx="1209.7" cy="505.6" r="5.8"/>
<circle cx="1210.1" cy="505.5" r="5.8"/>
<circle cx="1211.5" cy="464.4" r="5.8"/>
<circle cx="1211.5" cy="472.4" r="5.8"/>
<circle cx="1212.4" cy="506.3" r="5.8"/>
<circle cx="1213.4" cy="506.5" r="5.8"/>
<circle cx="1215" cy="484.9" r="5.8"/>
<circle cx="1217.9" cy="509.8" r="5.8"/>
<circle cx="1219.5" cy="505.9" r="5.8"/>
<circle cx="1221.1" cy="509.1" r="5.8"/>
<circle cx="1221.9" cy="504.6" r="5.8"/>
<circle cx="1222.1" cy="498" r="5.8"/>
<circle cx="1224.9" cy="475.1" r="5.8"/>
<circle cx="1228.3" cy="495.9" r="5.8"/>
<circle cx="1232.1" cy="487.6" r="5.8"/>
<circle cx="1233.2" cy="493.1" r="5.8"/>
<circle cx="1234.7" cy="502.8" r="5.8"/>
<circle cx="1235.4" cy="504.9" r="5.8"/>
<circle cx="1235.6" cy="475.1" r="5.8"/>
<circle cx="1237.1" cy="506.4" r="5.8"/>
<circle cx="1237.4" cy="492.4" r="5.8"/>
<circle cx="1238" cy="497.1" r="5.8"/>
<circle cx="1238.4" cy="506.9" r="5.8"/>
<circle cx="1238.8" cy="508.5" r="5.8"/>
<circle cx="1241" cy="507.5" r="5.8"/>
<circle cx="1242.5" cy="488.2" r="5.8"/>
<circle cx="1245.3" cy="509.1" r="5.8"/>
<circle cx="1248.1" cy="502.6" r="5.8"/>
<circle cx="1248.2" cy="492" r="5.8"/>
<circle cx="1249.1" cy="497.8" r="5.8"/>
<circle cx="1249.5" cy="504" r="5.8"/>
<circle cx="1253.1" cy="507.4" r="5.8"/>
<circle cx="1253.3" cy="484.1" r="5.8"/>
<circle cx="1253.4" cy="493.5" r="5.8"/>
<circle cx="1255.8" cy="505.8" r="5.8"/>
<circle cx="1259.1" cy="492.7" r="5.8"/>
<circle cx="1261.3" cy="492.4" r="5.8"/>
<circle cx="1262.4" cy="476.4" r="5.8"/>
<circle cx="1263.7" cy="509.5" r="5.8"/>
<circle cx="1263.8" cy="480.5" r="5.8"/>
<circle cx="1263.8" cy="494.5" r="5.8"/>
<circle cx="1265.1" cy="463" r="5.8"/>
<circle cx="1265.1" cy="468.4" r="5.8"/>
<circle cx="1265.6" cy="488.1" r="5.8"/>
<circle cx="1266.3" cy="509.4" r="5.8"/>
<circle cx="1266.4" cy="498.9" r="5.8"/>
<circle cx="1267.3" cy="506.2" r="5.8"/>
<circle cx="1271.3" cy="484.3" r="5.8"/>
<circle cx="1272.4" cy="495.1" r="5.8"/>
<circle cx="1274.1" cy="508.5" r="5.8"/>
<circle cx="1275.5" cy="496.8" r="5.8"/>
<circle cx="1278.8" cy="508.2" r="5.8"/>
<circle cx="1279.6" cy="495.2" r="5.8"/>
<circle cx="1280.4" cy="505.4" r="5.8"/>
<circle cx="1282.6" cy="500" r="5.8"/>
<circle cx="1457" cy="505.2" r="5.8"/>
<circle cx="1457.4" cy="501" r="5.8"/>
<circle cx="1457.5" cy="495.4" r="5.8"/>
<circle cx="1461" cy="504.4" r="5.8"/>
<circle cx="1461.9" cy="508.1" r="5.8"/>
<circle cx="1463.8" cy="499" r="5.8"/>
<circle cx="1465.7" cy="496.4" r="5.8"/>
<circle cx="1466" cy="467.1" r="5.8"/>
<circle cx="1470" cy="463" r="5.8"/>
<circle cx="1470.3" cy="490.4" r="5.8"/>
<circle cx="1470.4" cy="497.9" r="5.8"/>
<circle cx="1473.6" cy="500.7" r="5.8"/>
<circle cx="1478.1" cy="496" r="5.8"/>
<circle cx="1479.4" cy="476.4" r="5.8"/>
<circle cx="1479.5" cy="497" r="5.8"/>
<circle cx="1480.1" cy="503" r="5.8"/>
<circle cx="1485.2" cy="504.1" r="5.8"/>
<circle cx="1488.9" cy="494.1" r="5.8"/>
<circle cx="1494.6" cy="509.1" r="5.8"/>
<circle cx="1496.6" cy="501.2" r="5.8"/>
<circle cx="1499.5" cy="475.1" r="5.8"/>
<circle cx="1499.5" cy="483.1" r="5.8"/>
<circle cx="1499.5" cy="503.2" r="5.8"/>
<circle cx="1499.8" cy="501.4" r="5.8"/>
<circle cx="1502.2" cy="494.1" r="5.8"/>
<circle cx="1503.4" cy="494.8" r="5.8"/>
<circle cx="1506.9" cy="495.5" r="5.8"/>
<circle cx="1509.3" cy="504" r="5.8"/>
<circle cx="1511.6" cy="505.5" r="5.8"/>
<circle cx="1515.5" cy="490" r="5.8"/>
<circle cx="1515.7" cy="495.1" r="5.8"/>
<circle cx="1517.1" cy="493.1" r="5.8"/>
<circle cx="1517.3" cy="507.6" r="5.8"/>
<circle cx="1517.5" cy="494.6" r="5.8"/>
<circle cx="1517.7" cy="477.8" r="5.8"/>
<circle cx="1517.7" cy="487.2" r="5.8"/>
<circle cx="1520.5" cy="508.1" r="5.8"/>
<circle cx="1520.8" cy="507.4" r="5.8"/>
<circle cx="1521.3" cy="509.5" r="5.8"/>
<circle cx="1522.8" cy="499" r="5.8"/>
<circle cx="1524.5" cy="502.7" r="5.8"/>
<circle cx="1525.5" cy="508.5" r="5.8"/>
<circle cx="1527" cy="494.9" r="5.8"/>
<circle cx="1531.9" cy="496.3" r="5.8"/>
<circle cx="1532" cy="509.3" r="5.8"/>
<circle cx="1535.9" cy="501.7" r="5.8"/>
<circle cx="1535.9" cy="492.3" r="5.8"/>
<circle cx="1539.5" cy="508.4" r="5.8"/>
<circle cx="1540.7" cy="496.7" r="5.8"/>
<circle cx="1541" cy="492.5" r="5.8"/>
<circle cx="1544.1" cy="492.2" r="5.8"/>
<circle cx="1545.9" cy="507.3" r="5.8"/>
<circle cx="1547.9" cy="508.3" r="5.8"/>
<circle cx="1548.1" cy="489.2" r="5.8"/>
<circle cx="1550" cy="489" r="5.8"/>
<circle cx="1552.1" cy="507.4" r="5.8"/>
<circle cx="1555.7" cy="489.8" r="5.8"/>
<circle cx="1555.7" cy="499.2" r="5.8"/>
<circle cx="1555.9" cy="506.6" r="5.8"/>
<circle cx="1556.8" cy="485.4" r="5.8"/>
<circle cx="1557.3" cy="506.7" r="5.8"/>
<circle cx="1559" cy="492.7" r="5.8"/>
<circle cx="1561.1" cy="508.1" r="5.8"/>
<circle cx="1561.8" cy="506.3" r="5.8"/>
<circle cx="1564.3" cy="446.4" r="5.8"/>
<circle cx="1564.9" cy="492.2" r="5.8"/>
<circle cx="1564.9" cy="504.8" r="5.8"/>
<circle cx="1565" cy="492.4" r="5.8"/>
<circle cx="1565.2" cy="496.5" r="5.8"/>
<circle cx="1565.9" cy="463.6" r="5.8"/>
<circle cx="1566.4" cy="486.8" r="5.8"/>
<circle cx="1567.8" cy="501.3" r="5.8"/>
<circle cx="1568.1" cy="501.2" r="5.8"/>
<circle cx="1568.7" cy="496.4" r="5.8"/>
<circle cx="1568.8" cy="499.3" r="5.8"/>
<circle cx="1570.1" cy="501.8" r="5.8"/>
<circle cx="1571.1" cy="506.8" r="5.8"/>
<circle cx="1571.9" cy="502.8" r="5.8"/>
<circle cx="1571.9" cy="499.2" r="5.8"/>
<circle cx="1576.3" cy="502.8" r="5.8"/>
<circle cx="1577.7" cy="498.4" r="5.8"/>
<circle cx="1579" cy="491.7" r="5.8"/>
<circle cx="1579.1" cy="505.5" r="5.8"/>
<circle cx="1580.4" cy="497.3" r="5.8"/>
<circle cx="1582.9" cy="494.6" r="5.8"/>
<circle cx="1583.6" cy="505.1" r="5.8"/>
<circle cx="1585" cy="509.2" r="5.8"/>
<circle cx="1588.1" cy="503.4" r="5.8"/>
<circle cx="1589.4" cy="496.4" r="5.8"/>
<circle cx="1592.6" cy="507.6" r="5.8"/>
<circle cx="1593" cy="505" r="5.8"/>
<circle cx="1593.3" cy="500.9" r="5.8"/>
<circle cx="1593.3" cy="493.1" r="5.8"/>
<circle cx="1593.6" cy="505" r="5.8"/>
<circle cx="1594" cy="468.4" r="5.8"/>
<circle cx="1595.7" cy="504" r="5.8"/>
<circle cx="1597.3" cy="508.3" r="5.8"/>
<circle cx="1598.6" cy="476.4" r="5.8"/>
<circle cx="1599.1" cy="506.2" r="5.8"/>
<circle cx="1600" cy="451" r="5.8"/>
<circle cx="1600.8" cy="492.8" r="5.8"/>
<circle cx="1601.5" cy="502.7" r="5.8"/>
<circle cx="1603.2" cy="502.2" r="5.8"/>
<circle cx="1603.2" cy="490.9" r="5.8"/>
<circle cx="1606.6" cy="491.1" r="5.8"/>
<circle cx="1606.7" cy="507.4" r="5.8"/>
<circle cx="1608.9" cy="487.2" r="5.8"/>
<circle cx="1609.5" cy="508.2" r="5.8"/>
<circle cx="1609.5" cy="497.4" r="5.8"/>
<circle cx="1609.8" cy="492.6" r="5.8"/>
<circle cx="1683.8" cy="505.2" r="5.8"/>
<circle cx="1684.8" cy="496.7" r="5.8"/>
<circle cx="1685.9" cy="487.2" r="5.8"/>
<circle cx="1687.8" cy="506.7" r="5.8"/>
<circle cx="1689.8" cy="501.8" r="5.8"/>
<circle cx="1690.5" cy="478.9" r="5.8"/>
<circle cx="1692.4" cy="502.7" r="5.8"/>
<circle cx="1694.1" cy="505.2" r="5.8"/>
<circle cx="1694.2" cy="500.6" r="5.8"/>
<circle cx="1696.1" cy="509.4" r="5.8"/>
<circle cx="1698" cy="497.1" r="5.8"/>
<circle cx="1699.4" cy="499.3" r="5.8"/>
<circle cx="1700.3" cy="494.1" r="5.8"/>
<circle cx="1701.2" cy="505.7" r="5.8"/>
<circle cx="1704" cy="498.6" r="5.8"/>
<circle cx="1706.5" cy="492.1" r="5.8"/>
<circle cx="1706.6" cy="485.6" r="5.8"/>
<circle cx="1707.5" cy="498.9" r="5.8"/>
<circle cx="1708.2" cy="492.9" r="5.8"/>
<circle cx="1711.3" cy="494.9" r="5.8"/>
<circle cx="1713.5" cy="497.5" r="5.8"/>
<circle cx="1713.9" cy="508.3" r="5.8"/>
<circle cx="1714.1" cy="483.6" r="5.8"/>
<circle cx="1715.5" cy="496" r="5.8"/>
<circle cx="1720" cy="485.6" r="5.8"/>
<circle cx="1720" cy="509.6" r="5.8"/>
<circle cx="1720.8" cy="485.5" r="5.8"/>
<circle cx="1721.3" cy="498.9" r="5.8"/>
<circle cx="1721.9" cy="509.3" r="5.8"/>
<circle cx="1722.4" cy="508.6" r="5.8"/>
<circle cx="1722.6" cy="501" r="5.8"/>
<circle cx="1722.7" cy="493.1" r="5.8"/>
<circle cx="1723.5" cy="500.2" r="5.8"/>
<circle cx="1725.5" cy="491.6" r="5.8"/>
<circle cx="1729.9" cy="507.2" r="5.8"/>
<circle cx="1730.8" cy="490.6" r="5.8"/>
<circle cx="1732" cy="492.7" r="5.8"/>
<circle cx="1732.5" cy="506.2" r="5.8"/>
<circle cx="1733.2" cy="498.2" r="5.8"/>
<circle cx="1733.4" cy="481.6" r="5.8"/>
<circle cx="1733.5" cy="509.1" r="5.8"/>
<circle cx="1734.3" cy="509.8" r="5.8"/>
<circle cx="1734.5" cy="492.7" r="5.8"/>
<circle cx="1735" cy="489.1" r="5.8"/>
<circle cx="1736.3" cy="505.3" r="5.8"/>
<circle cx="1736.5" cy="497.1" r="5.8"/>
<circle cx="1736.7" cy="502.1" r="5.8"/>
<circle cx="1740.7" cy="495.7" r="5.8"/>
<circle cx="1741.6" cy="494.9" r="5.8"/>
<circle cx="1742.1" cy="500.3" r="5.8"/>
<circle cx="1742.2" cy="443.3" r="5.8"/>
<circle cx="1744" cy="488.3" r="5.8"/>
<circle cx="1745.3" cy="509.3" r="5.8"/>
<circle cx="1745.4" cy="490.1" r="5.8"/>
<circle cx="1747.2" cy="496.2" r="5.8"/>
<circle cx="1748.4" cy="497.6" r="5.8"/>
<circle cx="1749.3" cy="505.9" r="5.8"/>
<circle cx="1752.3" cy="509.2" r="5.8"/>
<circle cx="1755.1" cy="496.5" r="5.8"/>
<circle cx="1757.2" cy="505" r="5.8"/>
<circle cx="1757.4" cy="500.4" r="5.8"/>
<circle cx="1757.5" cy="474.9" r="5.8"/>
<circle cx="1760.5" cy="506.8" r="5.8"/>
<circle cx="1764.3" cy="507" r="5.8"/>
<circle cx="1764.9" cy="506.3" r="5.8"/>
<circle cx="1765.1" cy="504.2" r="5.8"/>
<circle cx="1765.5" cy="399.4" r="5.8"/>
<circle cx="1766.1" cy="342.9" r="5.8"/>
<circle cx="1766.1" cy="506.8" r="5.8"/>
<circle cx="1766.4" cy="424.6" r="5.8"/>
<circle cx="1766.9" cy="451.4" r="5.8"/>
<circle cx="1767.4" cy="499.5" r="5.8"/>
<circle cx="1769.3" cy="497.9" r="5.8"/>
<circle cx="1770.8" cy="496.8" r="5.8"/>
<circle cx="1772.2" cy="497.8" r="5.8"/>
<circle cx="1775.5" cy="504" r="5.8"/>
<circle cx="1775.9" cy="498.3" r="5.8"/>
<circle cx="1777.1" cy="494" r="5.8"/>
<circle cx="1778.4" cy="424.8" r="5.8"/>
<circle cx="1778.4" cy="429.9" r="5.8"/>
<circle cx="1779.9" cy="490.9" r="5.8"/>
<circle cx="1780.2" cy="499.5" r="5.8"/>
<circle cx="1781.8" cy="497.4" r="5.8"/>
<circle cx="1782.9" cy="495.7" r="5.8"/>
<circle cx="1783.5" cy="455.6" r="5.8"/>
<circle cx="1784.2" cy="490.3" r="5.8"/>
<circle cx="1784.3" cy="494.6" r="5.8"/>
<circle cx="1784.6" cy="491.4" r="5.8"/>
<circle cx="1786.9" cy="498.5" r="5.8"/>
<circle cx="1787.7" cy="507.2" r="5.8"/>
<circle cx="1788.2" cy="500.2" r="5.8"/>
<circle cx="1791.7" cy="509.2" r="5.8"/>
<circle cx="1792.3" cy="476.3" r="5.8"/>
<circle cx="1792.3" cy="503" r="5.8"/>
<circle cx="1794.5" cy="492.6" r="5.8"/>
<circle cx="1796.6" cy="505.5" r="5.8"/>
<circle cx="1796.8" cy="487.6" r="5.8"/>
<circle cx="1848.6" cy="495" r="5.8"/>
<circle cx="1855.3" cy="457.5" r="5.8"/>
<circle cx="1855.3" cy="499" r="5.8"/>
<circle cx="1855.3" cy="506.3" r="5.8"/>
<circle cx="1856.6" cy="472.8" r="5.8"/>
<circle cx="1941" cy="505.7" r="5.8"/>
<circle cx="1945" cy="483" r="5.8"/>
<circle cx="1947.2" cy="500.9" r="5.8"/>
<circle cx="1983.9" cy="503.1" r="5.8"/>
<circle cx="1991.9" cy="503.1" r="5.8"/>
<circle cx="1993.2" cy="481.6" r="5.8"/>
<circle cx="1993.2" cy="484.3" r="5.8"/>
<circle cx="1993.8" cy="462.1" r="5.8"/>
<circle cx="1998.6" cy="492.3" r="5.8"/>
<circle cx="2017.3" cy="493.7" r="5.8"/>
<circle cx="2022.7" cy="485.6" r="5.8"/>
<circle cx="2024.6" cy="396.4" r="5.8"/>
<circle cx="2026.7" cy="452.2" r="5.8"/>
<circle cx="2026.7" cy="454.8" r="5.8"/>
<circle cx="2027.3" cy="420.5" r="5.8"/>
<circle cx="2030.7" cy="488.3" r="5.8"/>
<circle cx="2036.1" cy="503.1" r="5.8"/>
<circle cx="2038.8" cy="486.5" r="5.8"/>
<circle cx="2044.1" cy="500.4" r="5.8"/>
<circle cx="2057.1" cy="500.4" r="5.8"/>
<circle cx="2058.6" cy="507.5" r="5.8"/>
<circle cx="2058.9" cy="503.1" r="5.8"/>
<circle cx="2062.5" cy="507.4" r="5.8"/>
<circle cx="2062.7" cy="504.8" r="5.8"/>
<circle cx="2063.9" cy="507.9" r="5.8"/>
<circle cx="2064.2" cy="488.3" r="5.8"/>
<circle cx="2066.1" cy="501.4" r="5.8"/>
<circle cx="2066.5" cy="506" r="5.8"/>
<circle cx="2067.3" cy="499.9" r="5.8"/>
<circle cx="2068.3" cy="505.7" r="5.8"/>
<circle cx="2071.5" cy="474.9" r="5.8"/>
<circle cx="2075.5" cy="497.8" r="5.8"/>
<circle cx="2076.3" cy="496.4" r="5.8"/>
<circle cx="2078.2" cy="494.6" r="5.8"/>
<circle cx="2079" cy="505.7" r="5.8"/>
<circle cx="2079.8" cy="505.4" r="5.8"/>
<circle cx="2085.4" cy="505.9" r="5.8"/>
<circle cx="2086" cy="500.8" r="5.8"/>
<circle cx="2088.3" cy="492.3" r="5.8"/>
<circle cx="2089.7" cy="505.7" r="5.8"/>
<circle cx="2095" cy="460.2" r="5.8"/>
<circle cx="2097.4" cy="506" r="5.8"/>
<circle cx="2098.7" cy="503.1" r="5.8"/>
<circle cx="2102.5" cy="506.5" r="5.8"/>
<circle cx="2103.1" cy="493.7" r="5.8"/>
<circle cx="2104.3" cy="501.8" r="5.8"/>
<circle cx="2104.4" cy="447.3" r="5.8"/>
<circle cx="2104.4" cy="476.3" r="5.8"/>
<circle cx="2111.1" cy="495" r="5.8"/>
<circle cx="2116.5" cy="480.3" r="5.8"/>
<circle cx="2116.5" cy="497.7" r="5.8"/>
</g>
<g fill="#4dac26" fill-opacity="0.6">
<circle cx="1669.7" cy="211.7" r="5.8"/>
<circle cx="1639.3" cy="473.2" r="5.8"/>
<circle cx="1629.4" cy="489.8" r="5.8"/>
<circle cx="1625.4" cy="503.2" r="5.8"/>
<circle cx="1641.5" cy="497.9" r="5.8"/>
<circle cx="1655.7" cy="474.9" r="5.8"/>
<circle cx="1651.7" cy="491" r="5.8"/>
<circle cx="1665.1" cy="487" r="5.8"/>
<circle cx="1673.1" cy="492.3" r="5.8"/>
<circle cx="1677.1" cy="499" r="5.8"/>
<circle cx="1662.4" cy="505.7" r="5.8"/>
<circle cx="1634" cy="497" r="5.8"/>
<circle cx="1647" cy="505" r="5.8"/>
</g>
</g>
<rect x="1174" y="118" width="949.5" height="391.8" fill="none" stroke="#1a1a1a" stroke-width="1.7"/>
<line x1="1169.5" y1="509.8" x2="1174" y2="509.8" stroke="#1a1a1a" stroke-width="1.5"/>
<line x1="1169.5" y1="453.8" x2="1174" y2="453.8" stroke="#1a1a1a" stroke-width="1.5"/>
<line x1="1169.5" y1="397.9" x2="1174" y2="397.9" stroke="#1a1a1a" stroke-width="1.5"/>
<line x1="1169.5" y1="341.9" x2="1174" y2="341.9" stroke="#1a1a1a" stroke-width="1.5"/>
<line x1="1169.5" y1="285.9" x2="1174" y2="285.9" stroke="#1a1a1a" stroke-width="1.5"/>
<line x1="1169.5" y1="229.9" x2="1174" y2="229.9" stroke="#1a1a1a" stroke-width="1.5"/>
<line x1="1169.5" y1="174.0" x2="1174" y2="174.0" stroke="#1a1a1a" stroke-width="1.5"/>
<line x1="1169.5" y1="118.0" x2="1174" y2="118.0" stroke="#1a1a1a" stroke-width="1.5"/>
<line x1="1366.6" y1="509.8" x2="1366.6" y2="514.3" stroke="#1a1a1a" stroke-width="1.5"/>
<line x1="1587.6" y1="509.8" x2="1587.6" y2="514.3" stroke="#1a1a1a" stroke-width="1.5"/>
<line x1="1808.6" y1="509.8" x2="1808.6" y2="514.3" stroke="#1a1a1a" stroke-width="1.5"/>
<line x1="2029.6" y1="509.8" x2="2029.6" y2="514.3" stroke="#1a1a1a" stroke-width="1.5"/>
<g font-family="DejaVu Sans Condensed, DejaVu Sans, sans-serif" font-weight="bold" font-stretch="condensed" font-size="17.3" fill="#000"><text transform="translate(1166.5,515.2) scale(1,1.1)" text-anchor="end">0</text><text transform="translate(1166.5,459.2) scale(1,1.1)" text-anchor="end">2</text><text transform="translate(1166.5,403.3) scale(1,1.1)" text-anchor="end">4</text><text transform="translate(1166.5,347.3) scale(1,1.1)" text-anchor="end">6</text><text transform="translate(1166.5,291.3) scale(1,1.1)" text-anchor="end">8</text><text transform="translate(1166.5,235.3) scale(1,1.1)" text-anchor="end">10</text><text transform="translate(1166.5,179.4) scale(1,1.1)" text-anchor="end">12</text><text transform="translate(1166.5,123.4) scale(1,1.1)" text-anchor="end">14</text><text transform="translate(1366.6,529.8) scale(1,1.1)" text-anchor="middle">20500000</text><text transform="translate(1587.6,529.8) scale(1,1.1)" text-anchor="middle">21000000</text><text transform="translate(1808.6,529.8) scale(1,1.1)" text-anchor="middle">21500000</text><text transform="translate(2029.6,529.8) scale(1,1.1)" text-anchor="middle">22000000</text></g>
<text font-family="DejaVu Sans, sans-serif" font-weight="bold" font-size="20.5" x="1648.8" y="553.1" text-anchor="middle" stroke="#000" stroke-width="0.4">Chromosome Position</text>
<text font-family="DejaVu Sans, sans-serif" font-weight="bold" font-size="20.5" transform="translate(1137.0,313.9) rotate(-90)" text-anchor="middle" stroke="#000" stroke-width="0.4">-log10Pvalue</text>
<rect x="2007.0" y="131.0" width="31.5" height="11.3" fill="#fdb672"/>
<text font-family="DejaVu Sans Condensed, DejaVu Sans, sans-serif" font-weight="bold" font-stretch="condensed" font-size="14.9" transform="translate(2051.0,142.8) scale(1,1.1)">flanking</text>
<rect x="2007.0" y="153.6" width="31.5" height="11.3" fill="#4fb320"/>
<text font-family="DejaVu Sans Condensed, DejaVu Sans, sans-serif" font-weight="bold" font-stretch="condensed" font-size="14.9" transform="translate(2051.0,165.4) scale(1,1.1)">intron</text>
<rect x="2007.0" y="176.2" width="31.5" height="11.3" fill="#a947bb"/>
<text font-family="DejaVu Sans Condensed, DejaVu Sans, sans-serif" font-weight="bold" font-stretch="condensed" font-size="14.9" transform="translate(2051.0,188.0) scale(1,1.1)">exon</text>
<g stroke="#fff" stroke-width="4" fill="#fff" stroke-linejoin="round"><line x1="1681.4" y1="201.8" x2="1626.3" y2="201.8"/><path d="M1618.3,201.8 L1626.3,197.8 L1626.3,205.8 Z"/></g>
<line x1="1681.4" y1="201.8" x2="1626.3" y2="201.8" stroke="#000" stroke-width="1.6"/>
<path d="M1618.3,201.8 L1626.3,197.8 L1626.3,205.8 Z" fill="#000"/>
<text font-family="DejaVu Sans, sans-serif" font-weight="bold" font-size="15.5" x="1632.8" y="198.3" text-anchor="middle" stroke="#fff" stroke-width="3" paint-order="stroke" stroke-linejoin="round">PI4KA</text>
<text font-family="Liberation Sans, Arial, sans-serif" font-weight="bold" font-size="46" x="1110" y="33.2">b</text>
</g>
<g id="panel-c">
<rect x="317.3" y="740.8" width="14.1" height="392.4" fill="rgb(128,128,128)" fill-opacity="0.32" stroke="rgb(128,128,128)" stroke-opacity="0.32" stroke-width="1.5"/>
<g clip-path="url(#clipc)" stroke="rgb(128,118,110)" stroke-opacity="0.6" stroke-width="1.65">
<g fill="#fdae61" fill-opacity="0.6">
<circle cx="189.2" cy="1119.5" r="5.8"/>
<circle cx="189.2" cy="1100.4" r="5.8"/>
<circle cx="189.5" cy="1123.2" r="5.8"/>
<circle cx="190" cy="1126.2" r="5.8"/>
<circle cx="190.3" cy="1129.4" r="5.8"/>
<circle cx="190.6" cy="1120.4" r="5.8"/>
<circle cx="192.3" cy="1122" r="5.8"/>
<circle cx="193.8" cy="1117.7" r="5.8"/>
<circle cx="194.5" cy="1121.3" r="5.8"/>
<circle cx="194.8" cy="1112" r="5.8"/>
<circle cx="195.3" cy="1101.9" r="5.8"/>
<circle cx="197.7" cy="1063.7" r="5.8"/>
<circle cx="198.1" cy="1053.9" r="5.8"/>
<circle cx="198.9" cy="1114.6" r="5.8"/>
<circle cx="199.3" cy="1100.8" r="5.8"/>
<circle cx="199.6" cy="1128.3" r="5.8"/>
<circle cx="200.1" cy="1123.1" r="5.8"/>
<circle cx="200.2" cy="1115.3" r="5.8"/>
<circle cx="200.3" cy="1101.1" r="5.8"/>
<circle cx="200.5" cy="1075" r="5.8"/>
<circle cx="201.5" cy="1124.4" r="5.8"/>
<circle cx="201.6" cy="1082.5" r="5.8"/>
<circle cx="201.7" cy="1104.9" r="5.8"/>
<circle cx="202.1" cy="1131.2" r="5.8"/>
<circle cx="202.1" cy="1125.9" r="5.8"/>
<circle cx="203.8" cy="1088.8" r="5.8"/>
<circle cx="203.8" cy="1130.1" r="5.8"/>
<circle cx="204.4" cy="1128" r="5.8"/>
<circle cx="204.7" cy="1122.9" r="5.8"/>
<circle cx="204.7" cy="1120.1" r="5.8"/>
<circle cx="205.2" cy="1130.9" r="5.8"/>
<circle cx="206.2" cy="1112.7" r="5.8"/>
<circle cx="207.6" cy="1127.9" r="5.8"/>
<circle cx="208.2" cy="1103.6" r="5.8"/>
<circle cx="208.5" cy="1128.5" r="5.8"/>
<circle cx="208.6" cy="1127.4" r="5.8"/>
<circle cx="209.3" cy="1131.4" r="5.8"/>
<circle cx="209.9" cy="1123.6" r="5.8"/>
<circle cx="210.1" cy="1125.2" r="5.8"/>
<circle cx="211.7" cy="1114.6" r="5.8"/>
<circle cx="211.8" cy="1120.3" r="5.8"/>
<circle cx="212.4" cy="1121.7" r="5.8"/>
<circle cx="213.5" cy="1131.7" r="5.8"/>
<circle cx="214.6" cy="1126.3" r="5.8"/>
<circle cx="215.2" cy="1132.9" r="5.8"/>
<circle cx="215.7" cy="1125.9" r="5.8"/>
<circle cx="215.7" cy="1072.7" r="5.8"/>
<circle cx="216" cy="1099.2" r="5.8"/>
<circle cx="216.1" cy="1113.7" r="5.8"/>
<circle cx="216.2" cy="1120.1" r="5.8"/>
<circle cx="216.3" cy="1114.8" r="5.8"/>
<circle cx="216.8" cy="1121.5" r="5.8"/>
<circle cx="216.9" cy="1078.5" r="5.8"/>
<circle cx="217" cy="1111.7" r="5.8"/>
<circle cx="217.1" cy="1106.9" r="5.8"/>
<circle cx="218" cy="1098.1" r="5.8"/>
<circle cx="218.1" cy="1107.9" r="5.8"/>
<circle cx="218.4" cy="1121.9" r="5.8"/>
<circle cx="218.5" cy="1130.6" r="5.8"/>
<circle cx="219.2" cy="1127.7" r="5.8"/>
<circle cx="219.9" cy="1132.9" r="5.8"/>
<circle cx="220.2" cy="1122.9" r="5.8"/>
<circle cx="220.9" cy="1110.5" r="5.8"/>
<circle cx="222.2" cy="1102.7" r="5.8"/>
<circle cx="222.9" cy="1114.8" r="5.8"/>
<circle cx="223.4" cy="1119.2" r="5.8"/>
<circle cx="223.4" cy="1131.6" r="5.8"/>
<circle cx="224.2" cy="1095.6" r="5.8"/>
<circle cx="225.1" cy="1080.9" r="5.8"/>
<circle cx="226.2" cy="1130.9" r="5.8"/>
<circle cx="226.3" cy="1126.2" r="5.8"/>
<circle cx="227.1" cy="1122.3" r="5.8"/>
<circle cx="228" cy="1124.8" r="5.8"/>
<circle cx="229.2" cy="1125.2" r="5.8"/>
<circle cx="229.7" cy="1133.2" r="5.8"/>
<circle cx="229.8" cy="1133.1" r="5.8"/>
<circle cx="229.9" cy="1107.1" r="5.8"/>
<circle cx="231.4" cy="1073.8" r="5.8"/>
<circle cx="231.4" cy="1106" r="5.8"/>
<circle cx="231.7" cy="1105" r="5.8"/>
<circle cx="232" cy="1102.8" r="5.8"/>
<circle cx="232.6" cy="1131.8" r="5.8"/>
<circle cx="233.2" cy="1121.6" r="5.8"/>
<circle cx="233.7" cy="1132.5" r="5.8"/>
<circle cx="234.5" cy="1114.7" r="5.8"/>
<circle cx="234.8" cy="1129.4" r="5.8"/>
<circle cx="235.3" cy="1127.6" r="5.8"/>
<circle cx="235.7" cy="1098.3" r="5.8"/>
<circle cx="236.5" cy="1127.7" r="5.8"/>
<circle cx="236.8" cy="1096.1" r="5.8"/>
<circle cx="236.9" cy="1104.6" r="5.8"/>
<circle cx="237.4" cy="1127" r="5.8"/>
<circle cx="239.8" cy="1062.1" r="5.8"/>
<circle cx="239.9" cy="1125.7" r="5.8"/>
<circle cx="240.2" cy="1093.4" r="5.8"/>
<circle cx="242.2" cy="1105.4" r="5.8"/>
<circle cx="242.4" cy="1128" r="5.8"/>
<circle cx="242.5" cy="1118.8" r="5.8"/>
<circle cx="242.5" cy="1126.3" r="5.8"/>
<circle cx="242.9" cy="1133" r="5.8"/>
<circle cx="243" cy="1092.8" r="5.8"/>
<circle cx="243" cy="1120.7" r="5.8"/>
<circle cx="243.8" cy="1092.6" r="5.8"/>
<circle cx="244.5" cy="1048" r="5.8"/>
<circle cx="245" cy="1034.7" r="5.8"/>
<circle cx="245.1" cy="1127.6" r="5.8"/>
<circle cx="246.3" cy="1130.7" r="5.8"/>
<circle cx="247.5" cy="1103" r="5.8"/>
<circle cx="247.7" cy="1129" r="5.8"/>
<circle cx="248.3" cy="1132.9" r="5.8"/>
<circle cx="248.3" cy="1131.4" r="5.8"/>
<circle cx="248.4" cy="1128.8" r="5.8"/>
<circle cx="249.1" cy="1130" r="5.8"/>
<circle cx="249.6" cy="1120.5" r="5.8"/>
<circle cx="251" cy="1104.3" r="5.8"/>
<circle cx="251.8" cy="1129.9" r="5.8"/>
<circle cx="252.7" cy="1132.5" r="5.8"/>
<circle cx="253.2" cy="1043.4" r="5.8"/>
<circle cx="254.4" cy="1131.8" r="5.8"/>
<circle cx="254.4" cy="1071.5" r="5.8"/>
<circle cx="255.5" cy="1121.2" r="5.8"/>
<circle cx="255.5" cy="1079.7" r="5.8"/>
<circle cx="255.5" cy="1093.7" r="5.8"/>
<circle cx="256.3" cy="1123.8" r="5.8"/>
<circle cx="256.7" cy="1111.5" r="5.8"/>
<circle cx="257.3" cy="1132.4" r="5.8"/>
<circle cx="257.3" cy="1123" r="5.8"/>
<circle cx="257.5" cy="1129.3" r="5.8"/>
<circle cx="258.7" cy="1105.9" r="5.8"/>
<circle cx="259.4" cy="1122.4" r="5.8"/>
<circle cx="260.2" cy="1064.4" r="5.8"/>
<circle cx="260.2" cy="1072.7" r="5.8"/>
<circle cx="262.2" cy="1129.8" r="5.8"/>
<circle cx="262.6" cy="1093.9" r="5.8"/>
<circle cx="265.5" cy="1126.8" r="5.8"/>
<circle cx="266.1" cy="1096.2" r="5.8"/>
<circle cx="266.7" cy="1123.9" r="5.8"/>
<circle cx="266.8" cy="1126.9" r="5.8"/>
<circle cx="268" cy="1119.1" r="5.8"/>
<circle cx="271.7" cy="1105.5" r="5.8"/>
<circle cx="272.8" cy="1124.4" r="5.8"/>
<circle cx="272.9" cy="1125.5" r="5.8"/>
<circle cx="273.2" cy="1121.3" r="5.8"/>
<circle cx="273.3" cy="1129" r="5.8"/>
<circle cx="273.3" cy="1117.8" r="5.8"/>
<circle cx="273.4" cy="1111.9" r="5.8"/>
<circle cx="275.2" cy="1104.8" r="5.8"/>
<circle cx="275.8" cy="1127.7" r="5.8"/>
<circle cx="275.9" cy="1043.4" r="5.8"/>
<circle cx="276" cy="1109.8" r="5.8"/>
<circle cx="276.6" cy="1061.4" r="5.8"/>
<circle cx="277.6" cy="1129.9" r="5.8"/>
<circle cx="278.2" cy="1123.5" r="5.8"/>
<circle cx="278.9" cy="1098.8" r="5.8"/>
<circle cx="279.6" cy="1115.3" r="5.8"/>
<circle cx="280.1" cy="1125.8" r="5.8"/>
<circle cx="280.1" cy="1086.7" r="5.8"/>
<circle cx="280.3" cy="1128.8" r="5.8"/>
<circle cx="280.7" cy="1124.6" r="5.8"/>
<circle cx="280.9" cy="1126.3" r="5.8"/>
<circle cx="282" cy="1116.9" r="5.8"/>
<circle cx="282.2" cy="1120.6" r="5.8"/>
<circle cx="282.5" cy="1113.8" r="5.8"/>
<circle cx="282.6" cy="1108.6" r="5.8"/>
<circle cx="282.9" cy="1126.7" r="5.8"/>
<circle cx="283.3" cy="1127.9" r="5.8"/>
<circle cx="284.1" cy="1121.1" r="5.8"/>
<circle cx="284.4" cy="1126.8" r="5.8"/>
<circle cx="284.6" cy="1113.2" r="5.8"/>
<circle cx="285.2" cy="1123" r="5.8"/>
<circle cx="285.2" cy="1124.2" r="5.8"/>
<circle cx="286.1" cy="1102.4" r="5.8"/>
<circle cx="286.6" cy="1132.8" r="5.8"/>
<circle cx="286.7" cy="1105.5" r="5.8"/>
<circle cx="289" cy="1090.1" r="5.8"/>
<circle cx="289.3" cy="1116.2" r="5.8"/>
<circle cx="289.5" cy="1083.2" r="5.8"/>
<circle cx="291.5" cy="1092.4" r="5.8"/>
<circle cx="293.7" cy="1127.8" r="5.8"/>
<circle cx="294.1" cy="1096.6" r="5.8"/>
<circle cx="294.4" cy="1126.9" r="5.8"/>
<circle cx="295" cy="1115.1" r="5.8"/>
<circle cx="295.2" cy="1129.6" r="5.8"/>
<circle cx="295.6" cy="1130.3" r="5.8"/>
<circle cx="295.8" cy="1113.9" r="5.8"/>
<circle cx="297.3" cy="1126.2" r="5.8"/>
<circle cx="297.9" cy="1122.1" r="5.8"/>
<circle cx="297.9" cy="1133" r="5.8"/>
<circle cx="298.4" cy="1079.2" r="5.8"/>
<circle cx="298.9" cy="1123" r="5.8"/>
<circle cx="299" cy="1123.1" r="5.8"/>
<circle cx="299.1" cy="1098.6" r="5.8"/>
<circle cx="299.5" cy="1107.8" r="5.8"/>
<circle cx="300.3" cy="1132.5" r="5.8"/>
<circle cx="301" cy="1132" r="5.8"/>
<circle cx="301" cy="1130.1" r="5.8"/>
<circle cx="301.3" cy="1133" r="5.8"/>
<circle cx="302.4" cy="1119.2" r="5.8"/>
<circle cx="304.8" cy="1038.7" r="5.8"/>
<circle cx="304.8" cy="1051.1" r="5.8"/>
<circle cx="305.8" cy="1129.3" r="5.8"/>
<circle cx="305.8" cy="1121.5" r="5.8"/>
<circle cx="306.3" cy="1123.8" r="5.8"/>
<circle cx="307.1" cy="1126.2" r="5.8"/>
<circle cx="307.8" cy="1087.2" r="5.8"/>
<circle cx="308.3" cy="1066.8" r="5.8"/>
<circle cx="309.2" cy="1128.7" r="5.8"/>
<circle cx="311.2" cy="1124" r="5.8"/>
<circle cx="312.1" cy="1131.9" r="5.8"/>
<circle cx="312.3" cy="1127.6" r="5.8"/>
<circle cx="313.2" cy="1127.8" r="5.8"/>
<circle cx="313.3" cy="1126.1" r="5.8"/>
<circle cx="313.5" cy="1121.7" r="5.8"/>
<circle cx="313.7" cy="1125.2" r="5.8"/>
<circle cx="314.3" cy="1125.9" r="5.8"/>
<circle cx="314.6" cy="1103.8" r="5.8"/>
<circle cx="315.8" cy="1101.6" r="5.8"/>
<circle cx="316.2" cy="1109.3" r="5.8"/>
<circle cx="316.7" cy="1125.9" r="5.8"/>
<circle cx="316.8" cy="1099.7" r="5.8"/>
<circle cx="317" cy="1126.5" r="5.8"/>
<circle cx="318.7" cy="1117.4" r="5.8"/>
<circle cx="318.8" cy="1097.1" r="5.8"/>
<circle cx="319.8" cy="1129.4" r="5.8"/>
<circle cx="322.2" cy="1107.1" r="5.8"/>
<circle cx="322.3" cy="1101.9" r="5.8"/>
<circle cx="322.9" cy="1106.7" r="5.8"/>
<circle cx="323.6" cy="1132.8" r="5.8"/>
<circle cx="324.1" cy="1129.6" r="5.8"/>
<circle cx="324.1" cy="1131.5" r="5.8"/>
<circle cx="324.7" cy="1105.3" r="5.8"/>
<circle cx="325.3" cy="1127.3" r="5.8"/>
<circle cx="325.6" cy="1119.7" r="5.8"/>
<circle cx="326" cy="1105.5" r="5.8"/>
<circle cx="327.3" cy="1129" r="5.8"/>
<circle cx="327.4" cy="1105.5" r="5.8"/>
<circle cx="328.5" cy="1113" r="5.8"/>
<circle cx="328.7" cy="1095.4" r="5.8"/>
<circle cx="329.3" cy="1105.2" r="5.8"/>
<circle cx="329.7" cy="1111.9" r="5.8"/>
<circle cx="330.1" cy="1132.9" r="5.8"/>
<circle cx="330.2" cy="1113.7" r="5.8"/>
<circle cx="331.7" cy="1133.2" r="5.8"/>
<circle cx="333" cy="1124.8" r="5.8"/>
<circle cx="334.1" cy="1131.3" r="5.8"/>
<circle cx="335.3" cy="1132.2" r="5.8"/>
<circle cx="336.3" cy="1124.5" r="5.8"/>
<circle cx="337.1" cy="1101.5" r="5.8"/>
<circle cx="337.5" cy="1112.6" r="5.8"/>
<circle cx="338.1" cy="1113.9" r="5.8"/>
<circle cx="338.1" cy="1123.8" r="5.8"/>
<circle cx="338.4" cy="1128" r="5.8"/>
<circle cx="338.6" cy="1128.6" r="5.8"/>
<circle cx="338.7" cy="1121.9" r="5.8"/>
<circle cx="339.1" cy="1132.1" r="5.8"/>
<circle cx="339.2" cy="1093.4" r="5.8"/>
<circle cx="339.8" cy="1132.9" r="5.8"/>
<circle cx="339.9" cy="1105.3" r="5.8"/>
<circle cx="339.9" cy="1082" r="5.8"/>
<circle cx="340.8" cy="1117.7" r="5.8"/>
<circle cx="342.4" cy="1091.8" r="5.8"/>
<circle cx="342.7" cy="1122.8" r="5.8"/>
<circle cx="343.5" cy="1112.1" r="5.8"/>
<circle cx="343.7" cy="1126.7" r="5.8"/>
<circle cx="344.2" cy="1121.1" r="5.8"/>
<circle cx="344.3" cy="1115" r="5.8"/>
<circle cx="345.3" cy="1076.2" r="5.8"/>
<circle cx="345.6" cy="1125.2" r="5.8"/>
<circle cx="345.7" cy="1130.3" r="5.8"/>
<circle cx="345.8" cy="1133.2" r="5.8"/>
<circle cx="346.2" cy="1125.2" r="5.8"/>
<circle cx="347.2" cy="1128.2" r="5.8"/>
<circle cx="347.6" cy="1110" r="5.8"/>
<circle cx="348.1" cy="1093.7" r="5.8"/>
<circle cx="348.4" cy="1128.3" r="5.8"/>
<circle cx="348.6" cy="1117.9" r="5.8"/>
<circle cx="349.1" cy="1122" r="5.8"/>
<circle cx="349.4" cy="1120.8" r="5.8"/>
<circle cx="349.9" cy="1126" r="5.8"/>
<circle cx="350.2" cy="1128.1" r="5.8"/>
<circle cx="351.5" cy="1118.9" r="5.8"/>
<circle cx="351.6" cy="1025.3" r="5.8"/>
<circle cx="351.6" cy="1059.8" r="5.8"/>
<circle cx="351.6" cy="1060.5" r="5.8"/>
<circle cx="353.3" cy="1130.6" r="5.8"/>
<circle cx="353.4" cy="1121.9" r="5.8"/>
<circle cx="353.4" cy="1133" r="5.8"/>
<circle cx="354" cy="1109.4" r="5.8"/>
<circle cx="356.3" cy="1107.1" r="5.8"/>
<circle cx="356.3" cy="1094.9" r="5.8"/>
<circle cx="356.4" cy="1123.2" r="5.8"/>
<circle cx="357" cy="1082.5" r="5.8"/>
<circle cx="357.9" cy="1110.9" r="5.8"/>
<circle cx="358.5" cy="1110.5" r="5.8"/>
<circle cx="362.2" cy="1074.5" r="5.8"/>
<circle cx="362.7" cy="1133.1" r="5.8"/>
<circle cx="364.6" cy="1119" r="5.8"/>
<circle cx="364.8" cy="1127" r="5.8"/>
<circle cx="366.9" cy="1096.1" r="5.8"/>
<circle cx="367.3" cy="1116.4" r="5.8"/>
<circle cx="371.3" cy="1124.9" r="5.8"/>
<circle cx="372.9" cy="1117.7" r="5.8"/>
<circle cx="373.4" cy="1112.4" r="5.8"/>
<circle cx="373.5" cy="1131.3" r="5.8"/>
<circle cx="374.8" cy="1111.7" r="5.8"/>
<circle cx="375" cy="1128.9" r="5.8"/>
<circle cx="375.6" cy="1127.2" r="5.8"/>
<circle cx="376.5" cy="1106.6" r="5.8"/>
<circle cx="378.6" cy="1124.8" r="5.8"/>
<circle cx="383.3" cy="1114.8" r="5.8"/>
<circle cx="383.7" cy="1121.3" r="5.8"/>
<circle cx="383.8" cy="1103.6" r="5.8"/>
<circle cx="383.8" cy="1127.4" r="5.8"/>
<circle cx="385.3" cy="1114.6" r="5.8"/>
<circle cx="388.1" cy="1126.2" r="5.8"/>
<circle cx="390.2" cy="1132" r="5.8"/>
<circle cx="390.4" cy="1112.7" r="5.8"/>
<circle cx="391" cy="1132.4" r="5.8"/>
<circle cx="391.4" cy="1120" r="5.8"/>
<circle cx="392.2" cy="1116.9" r="5.8"/>
<circle cx="396.6" cy="1117.6" r="5.8"/>
<circle cx="397.7" cy="1122.3" r="5.8"/>
<circle cx="398.1" cy="1105.4" r="5.8"/>
<circle cx="399.6" cy="1116" r="5.8"/>
<circle cx="402" cy="1090.9" r="5.8"/>
<circle cx="402.9" cy="1110.5" r="5.8"/>
<circle cx="411.2" cy="1124.3" r="5.8"/>
<circle cx="416.4" cy="1132.7" r="5.8"/>
<circle cx="417.1" cy="1107.7" r="5.8"/>
<circle cx="418.2" cy="1130.6" r="5.8"/>
<circle cx="419.4" cy="1132.8" r="5.8"/>
<circle cx="421.6" cy="1130.2" r="5.8"/>
<circle cx="421.9" cy="1125.7" r="5.8"/>
<circle cx="422.6" cy="1098" r="5.8"/>
<circle cx="426.6" cy="1105.5" r="5.8"/>
<circle cx="426.7" cy="1115.9" r="5.8"/>
<circle cx="427.1" cy="1061.4" r="5.8"/>
<circle cx="429.7" cy="1072.7" r="5.8"/>
<circle cx="430.5" cy="1115" r="5.8"/>
<circle cx="430.8" cy="1121.9" r="5.8"/>
<circle cx="432" cy="1113.5" r="5.8"/>
<circle cx="437.5" cy="1131.5" r="5.8"/>
<circle cx="440.1" cy="1128.6" r="5.8"/>
<circle cx="443.8" cy="1113.9" r="5.8"/>
<circle cx="447.5" cy="1112.4" r="5.8"/>
<circle cx="449.9" cy="1132.3" r="5.8"/>
<circle cx="451.1" cy="1111.3" r="5.8"/>
<circle cx="451.5" cy="1123.4" r="5.8"/>
<circle cx="452" cy="1115.3" r="5.8"/>
<circle cx="453.6" cy="1109" r="5.8"/>
<circle cx="453.6" cy="1110.5" r="5.8"/>
<circle cx="453.7" cy="1116.1" r="5.8"/>
<circle cx="455.4" cy="1089.1" r="5.8"/>
<circle cx="455.4" cy="1096.1" r="5.8"/>
<circle cx="456.4" cy="1123.1" r="5.8"/>
<circle cx="457.9" cy="1112.2" r="5.8"/>
<circle cx="457.9" cy="1111.3" r="5.8"/>
<circle cx="459.2" cy="1114.6" r="5.8"/>
<circle cx="459.7" cy="1113.2" r="5.8"/>
<circle cx="459.9" cy="1132.2" r="5.8"/>
<circle cx="461.3" cy="1125.4" r="5.8"/>
<circle cx="463.1" cy="1117.6" r="5.8"/>
<circle cx="465.2" cy="1111.5" r="5.8"/>
<circle cx="466.7" cy="1130.1" r="5.8"/>
<circle cx="467.6" cy="1060.5" r="5.8"/>
<circle cx="469.1" cy="1112.9" r="5.8"/>
<circle cx="471.3" cy="1126.5" r="5.8"/>
<circle cx="471.4" cy="1128.2" r="5.8"/>
<circle cx="472.8" cy="1037.5" r="5.8"/>
<circle cx="476.4" cy="1126.1" r="5.8"/>
<circle cx="478.6" cy="1121.3" r="5.8"/>
<circle cx="478.9" cy="1099.6" r="5.8"/>
<circle cx="479.6" cy="1114.3" r="5.8"/>
<circle cx="481" cy="1133.1" r="5.8"/>
<circle cx="481.4" cy="1115.5" r="5.8"/>
<circle cx="481.7" cy="1090.2" r="5.8"/>
<circle cx="482.8" cy="1113.4" r="5.8"/>
<circle cx="485.2" cy="1119.6" r="5.8"/>
<circle cx="486.8" cy="1118.2" r="5.8"/>
<circle cx="487.2" cy="1116.7" r="5.8"/>
<circle cx="488.7" cy="1121.6" r="5.8"/>
<circle cx="490.8" cy="1108.7" r="5.8"/>
<circle cx="492.7" cy="1114" r="5.8"/>
<circle cx="493.2" cy="1121.1" r="5.8"/>
<circle cx="494.8" cy="1111.6" r="5.8"/>
<circle cx="495.6" cy="1128.2" r="5.8"/>
<circle cx="498.2" cy="1111.5" r="5.8"/>
<circle cx="499.8" cy="1126.4" r="5.8"/>
<circle cx="502.2" cy="1129.1" r="5.8"/>
<circle cx="502.8" cy="1105.5" r="5.8"/>
<circle cx="503" cy="1113.5" r="5.8"/>
<circle cx="503.1" cy="1117" r="5.8"/>
<circle cx="504" cy="1087.9" r="5.8"/>
<circle cx="504.1" cy="1115.5" r="5.8"/>
<circle cx="509.6" cy="1105.3" r="5.8"/>
<circle cx="510" cy="1110.9" r="5.8"/>
<circle cx="511.4" cy="1117.7" r="5.8"/>
<circle cx="517.6" cy="1130.3" r="5.8"/>
<circle cx="519.5" cy="1125" r="5.8"/>
<circle cx="521.7" cy="1124.4" r="5.8"/>
<circle cx="522.8" cy="1133" r="5.8"/>
<circle cx="526.3" cy="1122.5" r="5.8"/>
<circle cx="526.4" cy="1129.7" r="5.8"/>
<circle cx="526.7" cy="1114" r="5.8"/>
<circle cx="527.4" cy="1003.5" r="5.8"/>
<circle cx="529.4" cy="1129.7" r="5.8"/>
<circle cx="530.6" cy="1127.5" r="5.8"/>
<circle cx="530.7" cy="1124.8" r="5.8"/>
<circle cx="530.8" cy="1124.9" r="5.8"/>
<circle cx="533.3" cy="1065.2" r="5.8"/>
<circle cx="533.4" cy="1109.1" r="5.8"/>
<circle cx="533.7" cy="1132.9" r="5.8"/>
<circle cx="534.7" cy="1102" r="5.8"/>
<circle cx="536.1" cy="1127.4" r="5.8"/>
<circle cx="536.6" cy="1130" r="5.8"/>
<circle cx="537.2" cy="1099.3" r="5.8"/>
<circle cx="538.2" cy="1105.9" r="5.8"/>
<circle cx="541.3" cy="1120.1" r="5.8"/>
<circle cx="542.3" cy="1099.4" r="5.8"/>
<circle cx="542.6" cy="1071.5" r="5.8"/>
<circle cx="543.1" cy="1112" r="5.8"/>
<circle cx="543.4" cy="1107.4" r="5.8"/>
<circle cx="544" cy="1124.3" r="5.8"/>
<circle cx="545.8" cy="1120.9" r="5.8"/>
<circle cx="547.5" cy="1130.9" r="5.8"/>
<circle cx="547.8" cy="1059.8" r="5.8"/>
<circle cx="550.1" cy="1124.4" r="5.8"/>
<circle cx="550.1" cy="1112.9" r="5.8"/>
<circle cx="550.8" cy="1080.9" r="5.8"/>
<circle cx="552" cy="1054.4" r="5.8"/>
<circle cx="552.9" cy="1117.5" r="5.8"/>
<circle cx="553.3" cy="1132.2" r="5.8"/>
<circle cx="554.3" cy="1132.7" r="5.8"/>
<circle cx="555.8" cy="1122.6" r="5.8"/>
<circle cx="556.2" cy="1097.9" r="5.8"/>
<circle cx="556.2" cy="1121" r="5.8"/>
<circle cx="556.3" cy="1130.2" r="5.8"/>
<circle cx="557.9" cy="1090.7" r="5.8"/>
<circle cx="560.3" cy="1102.4" r="5.8"/>
<circle cx="560.4" cy="1123.4" r="5.8"/>
<circle cx="560.4" cy="1117.8" r="5.8"/>
<circle cx="562.2" cy="1124.9" r="5.8"/>
<circle cx="563.7" cy="1042.7" r="5.8"/>
<circle cx="563.9" cy="1127" r="5.8"/>
<circle cx="566.7" cy="1112.7" r="5.8"/>
<circle cx="567.4" cy="1129.1" r="5.8"/>
<circle cx="567.8" cy="1122.4" r="5.8"/>
<circle cx="568.7" cy="1121.9" r="5.8"/>
<circle cx="569" cy="1100.9" r="5.8"/>
<circle cx="572.5" cy="1115.2" r="5.8"/>
<circle cx="572.8" cy="1109.1" r="5.8"/>
<circle cx="573.1" cy="1119.6" r="5.8"/>
<circle cx="573.9" cy="1117.5" r="5.8"/>
<circle cx="575.6" cy="1128" r="5.8"/>
<circle cx="575.8" cy="1110.4" r="5.8"/>
<circle cx="577.4" cy="1127.5" r="5.8"/>
<circle cx="577.8" cy="1090.2" r="5.8"/>
<circle cx="578.8" cy="1130.3" r="5.8"/>
<circle cx="580" cy="1127" r="5.8"/>
<circle cx="580.1" cy="1122.5" r="5.8"/>
<circle cx="580.4" cy="1121.9" r="5.8"/>
<circle cx="580.7" cy="1132.9" r="5.8"/>
<circle cx="581.2" cy="1128.3" r="5.8"/>
<circle cx="581.2" cy="1133.2" r="5.8"/>
<circle cx="581.3" cy="1020.6" r="5.8"/>
<circle cx="581.8" cy="1062.1" r="5.8"/>
<circle cx="583.6" cy="1088.6" r="5.8"/>
<circle cx="584.8" cy="1128.2" r="5.8"/>
<circle cx="585.3" cy="1107.5" r="5.8"/>
<circle cx="585.7" cy="1133.1" r="5.8"/>
<circle cx="586.2" cy="1089.1" r="5.8"/>
<circle cx="587.2" cy="1122.8" r="5.8"/>
<circle cx="588" cy="1096.2" r="5.8"/>
<circle cx="589.4" cy="1113.3" r="5.8"/>
<circle cx="590.1" cy="1128.5" r="5.8"/>
<circle cx="591.5" cy="1131.9" r="5.8"/>
<circle cx="593.5" cy="1122.7" r="5.8"/>
<circle cx="593.6" cy="1113.1" r="5.8"/>
<circle cx="594.4" cy="1130.3" r="5.8"/>
<circle cx="594.6" cy="969" r="5.8"/>
<circle cx="595.7" cy="1119.5" r="5.8"/>
<circle cx="595.7" cy="1105.5" r="5.8"/>
<circle cx="595.7" cy="921.5" r="5.8"/>
<circle cx="596.4" cy="1109.7" r="5.8"/>
<circle cx="596.8" cy="1126.6" r="5.8"/>
<circle cx="597.4" cy="1124.4" r="5.8"/>
<circle cx="597.5" cy="990.9" r="5.8"/>
<circle cx="599.1" cy="1119" r="5.8"/>
<circle cx="599.1" cy="1077.3" r="5.8"/>
<circle cx="600.1" cy="1114.4" r="5.8"/>
<circle cx="601.1" cy="1128.4" r="5.8"/>
<circle cx="601.8" cy="1121.5" r="5.8"/>
<circle cx="601.8" cy="1111.4" r="5.8"/>
<circle cx="604.9" cy="1056.2" r="5.8"/>
<circle cx="604.9" cy="1126.7" r="5.8"/>
<circle cx="605.2" cy="1129.1" r="5.8"/>
<circle cx="605.6" cy="1123.4" r="5.8"/>
<circle cx="606.1" cy="1127.5" r="5.8"/>
<circle cx="606.1" cy="1068.4" r="5.8"/>
<circle cx="606.4" cy="1126.2" r="5.8"/>
<circle cx="607.4" cy="1108.5" r="5.8"/>
<circle cx="607.6" cy="1132.1" r="5.8"/>
<circle cx="609" cy="1132.8" r="5.8"/>
<circle cx="609.7" cy="1109.9" r="5.8"/>
<circle cx="609.8" cy="1119.4" r="5.8"/>
<circle cx="610.3" cy="1098.2" r="5.8"/>
<circle cx="611.1" cy="1129" r="5.8"/>
<circle cx="612.9" cy="1123.9" r="5.8"/>
<circle cx="613.7" cy="1113" r="5.8"/>
<circle cx="614" cy="1112.8" r="5.8"/>
<circle cx="614.3" cy="1049.7" r="5.8"/>
<circle cx="614.5" cy="1108.3" r="5.8"/>
<circle cx="614.8" cy="1093.8" r="5.8"/>
<circle cx="616.5" cy="1103.2" r="5.8"/>
<circle cx="617.6" cy="1106.2" r="5.8"/>
<circle cx="617.7" cy="1130.3" r="5.8"/>
<circle cx="618.2" cy="1115.9" r="5.8"/>
<circle cx="618.3" cy="1132.9" r="5.8"/>
<circle cx="618.3" cy="1107.2" r="5.8"/>
<circle cx="620.2" cy="1079.7" r="5.8"/>
<circle cx="620.6" cy="1112.5" r="5.8"/>
<circle cx="620.8" cy="1130.7" r="5.8"/>
<circle cx="622.2" cy="1110" r="5.8"/>
<circle cx="622.6" cy="1118" r="5.8"/>
<circle cx="623.2" cy="1125.8" r="5.8"/>
<circle cx="623.5" cy="1101" r="5.8"/>
<circle cx="623.9" cy="1124.7" r="5.8"/>
<circle cx="623.9" cy="1129.7" r="5.8"/>
<circle cx="625.1" cy="1127.9" r="5.8"/>
<circle cx="625.8" cy="1090.7" r="5.8"/>
<circle cx="626.2" cy="1123" r="5.8"/>
<circle cx="626.6" cy="1120.6" r="5.8"/>
<circle cx="626.7" cy="1057.4" r="5.8"/>
<circle cx="627.2" cy="1111.8" r="5.8"/>
<circle cx="628.4" cy="1075.5" r="5.8"/>
<circle cx="629.7" cy="1128.5" r="5.8"/>
<circle cx="630.3" cy="1125.2" r="5.8"/>
<circle cx="630.4" cy="1132.7" r="5.8"/>
<circle cx="630.5" cy="1118" r="5.8"/>
<circle cx="632.2" cy="1128.1" r="5.8"/>
<circle cx="632.5" cy="1127.5" r="5.8"/>
<circle cx="632.6" cy="1130.5" r="5.8"/>
<circle cx="634.5" cy="1112.6" r="5.8"/>
<circle cx="634.8" cy="1122.5" r="5.8"/>
<circle cx="634.8" cy="1128.9" r="5.8"/>
<circle cx="636.4" cy="1121.4" r="5.8"/>
<circle cx="636.4" cy="1120.1" r="5.8"/>
<circle cx="636.7" cy="1131.9" r="5.8"/>
<circle cx="636.9" cy="1129.1" r="5.8"/>
<circle cx="637" cy="1130.1" r="5.8"/>
<circle cx="638.9" cy="1018.7" r="5.8"/>
<circle cx="639.5" cy="1122.4" r="5.8"/>
<circle cx="639.6" cy="1109.8" r="5.8"/>
<circle cx="640.3" cy="1125.6" r="5.8"/>
<circle cx="642.9" cy="1102.3" r="5.8"/>
<circle cx="643.2" cy="1120.4" r="5.8"/>
<circle cx="645" cy="1112.7" r="5.8"/>
<circle cx="645.9" cy="1116.4" r="5.8"/>
<circle cx="646.3" cy="1119.2" r="5.8"/>
<circle cx="646.3" cy="1101.3" r="5.8"/>
<circle cx="646.8" cy="1125.2" r="5.8"/>
<circle cx="647.1" cy="1078.5" r="5.8"/>
<circle cx="647.3" cy="1108.3" r="5.8"/>
<circle cx="647.5" cy="1119" r="5.8"/>
<circle cx="648.6" cy="1127.2" r="5.8"/>
<circle cx="648.7" cy="1111.6" r="5.8"/>
<circle cx="648.7" cy="1124.9" r="5.8"/>
<circle cx="651.2" cy="1111.7" r="5.8"/>
<circle cx="651.4" cy="1109.4" r="5.8"/>
<circle cx="652.1" cy="1122.5" r="5.8"/>
<circle cx="652.4" cy="1124.5" r="5.8"/>
<circle cx="653.3" cy="1131.2" r="5.8"/>
<circle cx="653.5" cy="1116" r="5.8"/>
<circle cx="654.4" cy="1121.3" r="5.8"/>
<circle cx="654.6" cy="1118.1" r="5.8"/>
<circle cx="654.9" cy="1130.1" r="5.8"/>
<circle cx="655.3" cy="1072.7" r="5.8"/>
<circle cx="656" cy="1125.1" r="5.8"/>
<circle cx="656.1" cy="1102.1" r="5.8"/>
<circle cx="657.4" cy="1115.7" r="5.8"/>
<circle cx="658" cy="1128.5" r="5.8"/>
<circle cx="658.2" cy="1099.8" r="5.8"/>
<circle cx="658.2" cy="1121.9" r="5.8"/>
<circle cx="660.2" cy="1125.7" r="5.8"/>
<circle cx="661.3" cy="1129.4" r="5.8"/>
<circle cx="661.5" cy="1116" r="5.8"/>
<circle cx="662.3" cy="1103.2" r="5.8"/>
<circle cx="662.3" cy="1073.8" r="5.8"/>
<circle cx="662.5" cy="1126.3" r="5.8"/>
<circle cx="662.6" cy="1120.6" r="5.8"/>
<circle cx="663.6" cy="1119.8" r="5.8"/>
<circle cx="663.9" cy="1121.6" r="5.8"/>
<circle cx="664.9" cy="1107.8" r="5.8"/>
<circle cx="666.2" cy="1133.1" r="5.8"/>
<circle cx="666.7" cy="1121.6" r="5.8"/>
<circle cx="666.8" cy="1122.2" r="5.8"/>
<circle cx="667.5" cy="1104.8" r="5.8"/>
<circle cx="667.6" cy="1126.3" r="5.8"/>
<circle cx="667.8" cy="1103.5" r="5.8"/>
<circle cx="668.3" cy="1124.2" r="5.8"/>
<circle cx="670.7" cy="1125.9" r="5.8"/>
<circle cx="671.3" cy="1121" r="5.8"/>
<circle cx="672.3" cy="1127.8" r="5.8"/>
<circle cx="673.4" cy="1098.9" r="5.8"/>
<circle cx="673.7" cy="1120.4" r="5.8"/>
<circle cx="674.7" cy="1129.6" r="5.8"/>
<circle cx="674.9" cy="1094.2" r="5.8"/>
<circle cx="675" cy="1127.1" r="5.8"/>
<circle cx="675.3" cy="1128.4" r="5.8"/>
<circle cx="675.5" cy="1122.3" r="5.8"/>
<circle cx="675.7" cy="1129.4" r="5.8"/>
<circle cx="675.9" cy="1048" r="5.8"/>
<circle cx="676.4" cy="1082" r="5.8"/>
<circle cx="677.1" cy="1121.9" r="5.8"/>
<circle cx="684" cy="1092.2" r="5.8"/>
<circle cx="685.8" cy="1126.1" r="5.8"/>
<circle cx="686.2" cy="1115.5" r="5.8"/>
<circle cx="688.1" cy="1066.1" r="5.8"/>
<circle cx="688.5" cy="1112.6" r="5.8"/>
<circle cx="688.6" cy="1123.9" r="5.8"/>
<circle cx="689.2" cy="1130.5" r="5.8"/>
<circle cx="689.3" cy="1053.9" r="5.8"/>
<circle cx="689.6" cy="1122.2" r="5.8"/>
<circle cx="689.8" cy="1128.8" r="5.8"/>
<circle cx="689.9" cy="1110.6" r="5.8"/>
<circle cx="690" cy="1123.9" r="5.8"/>
<circle cx="690.1" cy="1116.5" r="5.8"/>
<circle cx="690.6" cy="1131.6" r="5.8"/>
<circle cx="692.1" cy="1117.4" r="5.8"/>
<circle cx="692.5" cy="1120.9" r="5.8"/>
<circle cx="693" cy="1110.8" r="5.8"/>
<circle cx="695" cy="1124.7" r="5.8"/>
<circle cx="696.5" cy="928.7" r="5.8"/>
<circle cx="696.9" cy="1121.5" r="5.8"/>
<circle cx="697.3" cy="1123.1" r="5.8"/>
<circle cx="697.3" cy="1100.9" r="5.8"/>
<circle cx="697.3" cy="1131" r="5.8"/>
<circle cx="697.4" cy="1118.6" r="5.8"/>
<circle cx="698.1" cy="1118.4" r="5.8"/>
<circle cx="699.5" cy="1096.3" r="5.8"/>
<circle cx="699.7" cy="1105.2" r="5.8"/>
<circle cx="699.8" cy="1133" r="5.8"/>
<circle cx="700.7" cy="1121.8" r="5.8"/>
<circle cx="701.7" cy="1106.9" r="5.8"/>
<circle cx="702.2" cy="1120.5" r="5.8"/>
<circle cx="703.1" cy="1124.4" r="5.8"/>
<circle cx="705.7" cy="1126.3" r="5.8"/>
<circle cx="705.9" cy="1126.2" r="5.8"/>
<circle cx="707" cy="1131.3" r="5.8"/>
<circle cx="707.1" cy="1126.8" r="5.8"/>
<circle cx="707.4" cy="1107.7" r="5.8"/>
<circle cx="708.6" cy="1105" r="5.8"/>
<circle cx="709.1" cy="1128.6" r="5.8"/>
<circle cx="709.6" cy="1129.6" r="5.8"/>
<circle cx="710" cy="1105.2" r="5.8"/>
<circle cx="711.6" cy="1099.6" r="5.8"/>
<circle cx="712.6" cy="1132" r="5.8"/>
<circle cx="713.9" cy="1125.2" r="5.8"/>
<circle cx="716.2" cy="1086.7" r="5.8"/>
<circle cx="716.5" cy="1110.7" r="5.8"/>
<circle cx="716.8" cy="1133" r="5.8"/>
<circle cx="716.9" cy="1124.4" r="5.8"/>
<circle cx="717.1" cy="1107.3" r="5.8"/>
<circle cx="717.8" cy="1128.6" r="5.8"/>
<circle cx="718" cy="1123" r="5.8"/>
<circle cx="718.1" cy="1131.5" r="5.8"/>
<circle cx="718.3" cy="1121.8" r="5.8"/>
<circle cx="718.4" cy="1112" r="5.8"/>
<circle cx="718.6" cy="1055.1" r="5.8"/>
<circle cx="719.5" cy="1118.3" r="5.8"/>
<circle cx="719.8" cy="1032.8" r="5.8"/>
<circle cx="720.8" cy="1130.8" r="5.8"/>
<circle cx="721.5" cy="1132.7" r="5.8"/>
<circle cx="722.4" cy="1123.4" r="5.8"/>
<circle cx="723.3" cy="1121.9" r="5.8"/>
<circle cx="723.4" cy="1091.3" r="5.8"/>
<circle cx="723.9" cy="1133" r="5.8"/>
<circle cx="724.4" cy="1042.2" r="5.8"/>
<circle cx="725.1" cy="1018.3" r="5.8"/>
<circle cx="726.8" cy="1034" r="5.8"/>
<circle cx="727.4" cy="1130.2" r="5.8"/>
<circle cx="727.6" cy="1099.4" r="5.8"/>
<circle cx="728.1" cy="1106.5" r="5.8"/>
<circle cx="729" cy="1114.4" r="5.8"/>
<circle cx="731.9" cy="1130.8" r="5.8"/>
<circle cx="734.5" cy="1069.8" r="5.8"/>
<circle cx="734.5" cy="1122.9" r="5.8"/>
<circle cx="735.6" cy="1114.8" r="5.8"/>
<circle cx="735.6" cy="1112.1" r="5.8"/>
<circle cx="736.3" cy="1122.6" r="5.8"/>
<circle cx="736.5" cy="1131.4" r="5.8"/>
<circle cx="738.1" cy="1129.3" r="5.8"/>
<circle cx="738.3" cy="1129.5" r="5.8"/>
<circle cx="738.3" cy="1120.6" r="5.8"/>
<circle cx="741" cy="1110.1" r="5.8"/>
<circle cx="741.4" cy="1131.4" r="5.8"/>
<circle cx="742" cy="1060.9" r="5.8"/>
<circle cx="742" cy="1120.2" r="5.8"/>
<circle cx="742.5" cy="1123" r="5.8"/>
<circle cx="743.2" cy="1120.4" r="5.8"/>
<circle cx="744.2" cy="1116.2" r="5.8"/>
<circle cx="745" cy="1121" r="5.8"/>
<circle cx="745.8" cy="1130.4" r="5.8"/>
<circle cx="746" cy="1123.3" r="5.8"/>
<circle cx="746.1" cy="1129.5" r="5.8"/>
<circle cx="751" cy="1117" r="5.8"/>
<circle cx="751.8" cy="1127.5" r="5.8"/>
<circle cx="751.9" cy="1090.2" r="5.8"/>
<circle cx="752.7" cy="1111.5" r="5.8"/>
<circle cx="753" cy="1133" r="5.8"/>
<circle cx="753.3" cy="1129.2" r="5.8"/>
<circle cx="754.1" cy="1125.3" r="5.8"/>
<circle cx="755" cy="1103.8" r="5.8"/>
<circle cx="756.8" cy="1073.8" r="5.8"/>
<circle cx="757.4" cy="1128.4" r="5.8"/>
<circle cx="757.8" cy="1123.8" r="5.8"/>
<circle cx="758.3" cy="1132.9" r="5.8"/>
<circle cx="758.4" cy="1017.6" r="5.8"/>
<circle cx="760" cy="1130.9" r="5.8"/>
<circle cx="761.6" cy="1116.3" r="5.8"/>
<circle cx="761.9" cy="1116.7" r="5.8"/>
<circle cx="762.1" cy="1132.5" r="5.8"/>
<circle cx="765.5" cy="1122" r="5.8"/>
<circle cx="765.6" cy="1113.5" r="5.8"/>
<circle cx="765.8" cy="1126.9" r="5.8"/>
<circle cx="771.1" cy="1104.7" r="5.8"/>
<circle cx="771.2" cy="1124.7" r="5.8"/>
<circle cx="771.3" cy="1114" r="5.8"/>
<circle cx="772.8" cy="1118.4" r="5.8"/>
<circle cx="773.5" cy="1121.5" r="5.8"/>
<circle cx="773.9" cy="1124.1" r="5.8"/>
<circle cx="774" cy="1120.3" r="5.8"/>
<circle cx="775.1" cy="1132" r="5.8"/>
<circle cx="775.3" cy="1128.3" r="5.8"/>
<circle cx="775.8" cy="1110.7" r="5.8"/>
<circle cx="776.6" cy="1132.4" r="5.8"/>
<circle cx="776.7" cy="1120.7" r="5.8"/>
<circle cx="777.3" cy="1116.9" r="5.8"/>
<circle cx="778.2" cy="1115.1" r="5.8"/>
<circle cx="778.8" cy="1125.3" r="5.8"/>
<circle cx="779.1" cy="1122.1" r="5.8"/>
<circle cx="779.4" cy="1120.4" r="5.8"/>
<circle cx="779.8" cy="1100.5" r="5.8"/>
<circle cx="780.2" cy="1114" r="5.8"/>
<circle cx="782.1" cy="1132.8" r="5.8"/>
<circle cx="782.6" cy="1078.5" r="5.8"/>
<circle cx="783" cy="1122.8" r="5.8"/>
<circle cx="783" cy="1069.8" r="5.8"/>
<circle cx="783.4" cy="1126" r="5.8"/>
<circle cx="783.8" cy="1115.1" r="5.8"/>
<circle cx="784.8" cy="1131.7" r="5.8"/>
<circle cx="788" cy="1123.8" r="5.8"/>
<circle cx="788.8" cy="1111.9" r="5.8"/>
<circle cx="791" cy="1129" r="5.8"/>
<circle cx="791" cy="1101.8" r="5.8"/>
<circle cx="791.2" cy="1124.4" r="5.8"/>
<circle cx="792.6" cy="1129" r="5.8"/>
<circle cx="792.8" cy="1122.7" r="5.8"/>
<circle cx="796.2" cy="1132.6" r="5.8"/>
<circle cx="796.8" cy="1131" r="5.8"/>
<circle cx="797.4" cy="1119.5" r="5.8"/>
<circle cx="798.5" cy="1127.9" r="5.8"/>
<circle cx="800" cy="1131.5" r="5.8"/>
<circle cx="800.6" cy="1130.7" r="5.8"/>
<circle cx="801.2" cy="1125.6" r="5.8"/>
<circle cx="801.4" cy="1126.5" r="5.8"/>
<circle cx="802.1" cy="1132.3" r="5.8"/>
<circle cx="802.7" cy="1118.7" r="5.8"/>
<circle cx="803" cy="1082" r="5.8"/>
<circle cx="805.7" cy="1117.3" r="5.8"/>
<circle cx="806" cy="1124.1" r="5.8"/>
<circle cx="806.5" cy="1122.9" r="5.8"/>
<circle cx="810.3" cy="1118.2" r="5.8"/>
<circle cx="810.4" cy="1129.4" r="5.8"/>
<circle cx="810.7" cy="1127.2" r="5.8"/>
<circle cx="813.6" cy="1124.1" r="5.8"/>
<circle cx="815.3" cy="1133.1" r="5.8"/>
<circle cx="817.1" cy="1105" r="5.8"/>
<circle cx="817.8" cy="1117.8" r="5.8"/>
<circle cx="817.9" cy="1121.9" r="5.8"/>
<circle cx="818.9" cy="1122.2" r="5.8"/>
<circle cx="819.2" cy="1121" r="5.8"/>
<circle cx="820" cy="1131.3" r="5.8"/>
<circle cx="821.9" cy="1124.5" r="5.8"/>
<circle cx="822.5" cy="1126.5" r="5.8"/>
<circle cx="822.9" cy="1083.2" r="5.8"/>
<circle cx="822.9" cy="1084" r="5.8"/>
<circle cx="822.9" cy="1131.2" r="5.8"/>
<circle cx="823" cy="1125.6" r="5.8"/>
<circle cx="823.3" cy="1124.3" r="5.8"/>
<circle cx="823.4" cy="1120.1" r="5.8"/>
<circle cx="823.7" cy="1132.6" r="5.8"/>
<circle cx="824.2" cy="1109.4" r="5.8"/>
<circle cx="825.5" cy="1121.2" r="5.8"/>
<circle cx="827.1" cy="1126.6" r="5.8"/>
<circle cx="827.4" cy="1113.2" r="5.8"/>
<circle cx="831.6" cy="1121.2" r="5.8"/>
<circle cx="832.7" cy="1112.5" r="5.8"/>
<circle cx="833.1" cy="1126.9" r="5.8"/>
<circle cx="833.2" cy="1122.9" r="5.8"/>
<circle cx="833.9" cy="1121.7" r="5.8"/>
<circle cx="834.1" cy="1127.9" r="5.8"/>
<circle cx="835.7" cy="1119.9" r="5.8"/>
<circle cx="835.8" cy="1121.4" r="5.8"/>
<circle cx="836" cy="1120.2" r="5.8"/>
<circle cx="836.1" cy="1123.2" r="5.8"/>
<circle cx="836.2" cy="1130.3" r="5.8"/>
<circle cx="836.3" cy="1129.3" r="5.8"/>
<circle cx="836.9" cy="1128.2" r="5.8"/>
<circle cx="838.1" cy="1052.7" r="5.8"/>
<circle cx="838.6" cy="1031.6" r="5.8"/>
<circle cx="840.4" cy="1106.2" r="5.8"/>
<circle cx="841" cy="1121.1" r="5.8"/>
<circle cx="841.4" cy="1112.9" r="5.8"/>
<circle cx="843.6" cy="1129.8" r="5.8"/>
<circle cx="844.7" cy="1132.8" r="5.8"/>
<circle cx="845.3" cy="1123.3" r="5.8"/>
<circle cx="845.8" cy="1133" r="5.8"/>
<circle cx="845.8" cy="1100.2" r="5.8"/>
<circle cx="845.9" cy="1132.9" r="5.8"/>
<circle cx="846.5" cy="1109.9" r="5.8"/>
<circle cx="847.4" cy="1098.9" r="5.8"/>
<circle cx="847.5" cy="1049.7" r="5.8"/>
<circle cx="847.6" cy="1107.4" r="5.8"/>
<circle cx="849.7" cy="1128.1" r="5.8"/>
<circle cx="850.1" cy="1126.8" r="5.8"/>
<circle cx="850.3" cy="1117.7" r="5.8"/>
<circle cx="852.6" cy="1103.9" r="5.8"/>
<circle cx="853.6" cy="1100.8" r="5.8"/>
<circle cx="854.5" cy="1132.6" r="5.8"/>
<circle cx="858.8" cy="1119.9" r="5.8"/>
<circle cx="860.4" cy="1059.8" r="5.8"/>
<circle cx="861" cy="1122.6" r="5.8"/>
<circle cx="861.2" cy="1132.5" r="5.8"/>
<circle cx="861.3" cy="1120.6" r="5.8"/>
<circle cx="861.5" cy="1060.9" r="5.8"/>
<circle cx="862.1" cy="1110.3" r="5.8"/>
<circle cx="862.8" cy="1122.4" r="5.8"/>
<circle cx="863.6" cy="1104.2" r="5.8"/>
<circle cx="865.8" cy="1106.1" r="5.8"/>
<circle cx="866.5" cy="1099.2" r="5.8"/>
<circle cx="867.5" cy="1131.5" r="5.8"/>
<circle cx="867.6" cy="1117.1" r="5.8"/>
<circle cx="868.3" cy="1106.3" r="5.8"/>
<circle cx="868.8" cy="1110.3" r="5.8"/>
<circle cx="869.2" cy="1095.5" r="5.8"/>
<circle cx="870.8" cy="1131.8" r="5.8"/>
<circle cx="870.9" cy="1110.6" r="5.8"/>
<circle cx="871.3" cy="1124.4" r="5.8"/>
<circle cx="872.3" cy="1126.3" r="5.8"/>
<circle cx="872.8" cy="1078.5" r="5.8"/>
<circle cx="873.3" cy="1101.8" r="5.8"/>
<circle cx="873.3" cy="1102.8" r="5.8"/>
<circle cx="873.3" cy="1089.5" r="5.8"/>
<circle cx="874.1" cy="1109.1" r="5.8"/>
<circle cx="875.7" cy="1105.8" r="5.8"/>
<circle cx="876.2" cy="1109.3" r="5.8"/>
<circle cx="877.4" cy="1123.5" r="5.8"/>
<circle cx="877.5" cy="1128.9" r="5.8"/>
<circle cx="878.2" cy="1109" r="5.8"/>
<circle cx="879.4" cy="1125.5" r="5.8"/>
<circle cx="880.7" cy="1130.4" r="5.8"/>
<circle cx="880.7" cy="1046.9" r="5.8"/>
<circle cx="880.9" cy="1129.5" r="5.8"/>
<circle cx="881.1" cy="1131.5" r="5.8"/>
<circle cx="881.9" cy="1027.7" r="5.8"/>
<circle cx="881.9" cy="1106.2" r="5.8"/>
<circle cx="882.1" cy="1110.5" r="5.8"/>
<circle cx="882.5" cy="1103.6" r="5.8"/>
<circle cx="882.6" cy="1098.4" r="5.8"/>
<circle cx="882.8" cy="1109.3" r="5.8"/>
<circle cx="883" cy="1122.1" r="5.8"/>
<circle cx="883.9" cy="1099.3" r="5.8"/>
<circle cx="885.2" cy="1104.9" r="5.8"/>
<circle cx="885.3" cy="1124.6" r="5.8"/>
<circle cx="886.1" cy="1126.6" r="5.8"/>
<circle cx="886.4" cy="1113.5" r="5.8"/>
<circle cx="887.1" cy="1094.2" r="5.8"/>
<circle cx="887.8" cy="1133" r="5.8"/>
<circle cx="888" cy="1130.4" r="5.8"/>
<circle cx="888.4" cy="1131.5" r="5.8"/>
<circle cx="889.1" cy="1132.1" r="5.8"/>
<circle cx="889.6" cy="1132" r="5.8"/>
<circle cx="891.3" cy="1125.4" r="5.8"/>
<circle cx="891.4" cy="1127.9" r="5.8"/>
<circle cx="892.4" cy="1104.3" r="5.8"/>
<circle cx="893.2" cy="1115.1" r="5.8"/>
<circle cx="894.8" cy="1125.8" r="5.8"/>
<circle cx="894.9" cy="1132.7" r="5.8"/>
<circle cx="895.1" cy="1124.6" r="5.8"/>
<circle cx="895.2" cy="1110.5" r="5.8"/>
<circle cx="897.9" cy="1068.4" r="5.8"/>
<circle cx="898.2" cy="1111.9" r="5.8"/>
<circle cx="898.3" cy="1132.8" r="5.8"/>
<circle cx="898.7" cy="1133" r="5.8"/>
<circle cx="899" cy="1085.5" r="5.8"/>
<circle cx="899.1" cy="1091.4" r="5.8"/>
<circle cx="901.7" cy="1123.6" r="5.8"/>
<circle cx="902.2" cy="1127.6" r="5.8"/>
<circle cx="902.3" cy="1129" r="5.8"/>
<circle cx="902.8" cy="1103.8" r="5.8"/>
<circle cx="903" cy="1126.2" r="5.8"/>
<circle cx="905" cy="1114.1" r="5.8"/>
<circle cx="905.5" cy="1118.5" r="5.8"/>
<circle cx="906.3" cy="1099" r="5.8"/>
<circle cx="907.1" cy="1126.3" r="5.8"/>
<circle cx="908" cy="1126.4" r="5.8"/>
<circle cx="908.1" cy="1126" r="5.8"/>
<circle cx="908.8" cy="1094.2" r="5.8"/>
<circle cx="909.5" cy="1102.8" r="5.8"/>
<circle cx="909.7" cy="1132.4" r="5.8"/>
<circle cx="910.9" cy="1104.5" r="5.8"/>
<circle cx="911.2" cy="1122.3" r="5.8"/>
<circle cx="911.4" cy="1110.4" r="5.8"/>
<circle cx="911.7" cy="1126" r="5.8"/>
<circle cx="912.7" cy="1126.3" r="5.8"/>
<circle cx="912.9" cy="1122.1" r="5.8"/>
<circle cx="913.6" cy="1122.6" r="5.8"/>
<circle cx="914.1" cy="1095.9" r="5.8"/>
<circle cx="914.9" cy="1126" r="5.8"/>
<circle cx="915" cy="1113.8" r="5.8"/>
<circle cx="915.4" cy="1102.2" r="5.8"/>
<circle cx="916.8" cy="1115" r="5.8"/>
<circle cx="917.7" cy="1125.2" r="5.8"/>
<circle cx="918" cy="1114" r="5.8"/>
<circle cx="919.7" cy="1082.5" r="5.8"/>
<circle cx="919.7" cy="1128.1" r="5.8"/>
<circle cx="921.3" cy="1131" r="5.8"/>
<circle cx="922.5" cy="1122.5" r="5.8"/>
<circle cx="924.7" cy="1130.3" r="5.8"/>
<circle cx="926.7" cy="1124" r="5.8"/>
<circle cx="928" cy="1113" r="5.8"/>
<circle cx="928.7" cy="1115" r="5.8"/>
<circle cx="929" cy="1130" r="5.8"/>
<circle cx="930.3" cy="1113.9" r="5.8"/>
<circle cx="931.1" cy="1130.7" r="5.8"/>
<circle cx="931.2" cy="1097.9" r="5.8"/>
<circle cx="931.6" cy="1127.8" r="5.8"/>
<circle cx="932.8" cy="1128.5" r="5.8"/>
<circle cx="934.2" cy="1052" r="5.8"/>
<circle cx="934.3" cy="1127.2" r="5.8"/>
<circle cx="934.7" cy="1086.2" r="5.8"/>
<circle cx="936.1" cy="1104.9" r="5.8"/>
<circle cx="936.6" cy="1093" r="5.8"/>
<circle cx="938.1" cy="1124.3" r="5.8"/>
<circle cx="939.1" cy="1108.4" r="5.8"/>
<circle cx="939.4" cy="1126.1" r="5.8"/>
<circle cx="939.6" cy="1130.6" r="5.8"/>
<circle cx="939.8" cy="1133.1" r="5.8"/>
<circle cx="940.8" cy="1103.4" r="5.8"/>
<circle cx="941.4" cy="1132.1" r="5.8"/>
<circle cx="941.5" cy="1127.5" r="5.8"/>
<circle cx="942.2" cy="1130.8" r="5.8"/>
<circle cx="943.1" cy="1132.3" r="5.8"/>
<circle cx="943.1" cy="1112.5" r="5.8"/>
<circle cx="943.3" cy="1120.8" r="5.8"/>
<circle cx="945.2" cy="1108.3" r="5.8"/>
<circle cx="945.4" cy="1098.3" r="5.8"/>
<circle cx="945.8" cy="1131.5" r="5.8"/>
<circle cx="946.5" cy="1103.5" r="5.8"/>
<circle cx="949.1" cy="1127.2" r="5.8"/>
<circle cx="949.6" cy="1127.7" r="5.8"/>
<circle cx="949.8" cy="1126.2" r="5.8"/>
<circle cx="950" cy="1114.9" r="5.8"/>
<circle cx="950.4" cy="1124.3" r="5.8"/>
<circle cx="952.9" cy="1111" r="5.8"/>
<circle cx="954.4" cy="1098.8" r="5.8"/>
<circle cx="955.7" cy="1083.2" r="5.8"/>
<circle cx="959.4" cy="1105.7" r="5.8"/>
<circle cx="960.7" cy="1120.2" r="5.8"/>
<circle cx="960.9" cy="1111" r="5.8"/>
<circle cx="963.2" cy="1128.8" r="5.8"/>
<circle cx="963.2" cy="1118.3" r="5.8"/>
<circle cx="965.7" cy="1107.6" r="5.8"/>
<circle cx="966" cy="1122.8" r="5.8"/>
<circle cx="966" cy="1119.8" r="5.8"/>
<circle cx="967.2" cy="1107.2" r="5.8"/>
<circle cx="967.3" cy="1102.7" r="5.8"/>
<circle cx="968.6" cy="1119.3" r="5.8"/>
<circle cx="969" cy="1108" r="5.8"/>
<circle cx="969.8" cy="1034" r="5.8"/>
<circle cx="969.9" cy="1115.9" r="5.8"/>
<circle cx="970" cy="1050.4" r="5.8"/>
<circle cx="970.5" cy="1098.7" r="5.8"/>
<circle cx="970.5" cy="1053.9" r="5.8"/>
<circle cx="970.6" cy="1130" r="5.8"/>
<circle cx="971.6" cy="1127.4" r="5.8"/>
<circle cx="972" cy="1125.1" r="5.8"/>
<circle cx="972" cy="1123.5" r="5.8"/>
<circle cx="973" cy="1132.9" r="5.8"/>
<circle cx="973.9" cy="1128.2" r="5.8"/>
<circle cx="973.9" cy="1109.6" r="5.8"/>
<circle cx="975.4" cy="1124.3" r="5.8"/>
<circle cx="975.7" cy="1106.5" r="5.8"/>
<circle cx="976.1" cy="1105.9" r="5.8"/>
<circle cx="976.2" cy="1129" r="5.8"/>
<circle cx="976.8" cy="1121" r="5.8"/>
<circle cx="977.3" cy="1093.8" r="5.8"/>
<circle cx="978.7" cy="1122.1" r="5.8"/>
<circle cx="979.2" cy="1107.9" r="5.8"/>
<circle cx="979.4" cy="1082" r="5.8"/>
<circle cx="980.7" cy="1101" r="5.8"/>
<circle cx="981.7" cy="1121.3" r="5.8"/>
<circle cx="981.9" cy="1129.9" r="5.8"/>
<circle cx="985.3" cy="1065.6" r="5.8"/>
<circle cx="985.7" cy="1123.7" r="5.8"/>
<circle cx="987" cy="1102.9" r="5.8"/>
<circle cx="987" cy="1125.1" r="5.8"/>
<circle cx="987.2" cy="1129.1" r="5.8"/>
<circle cx="988.3" cy="1125.4" r="5.8"/>
<circle cx="988.5" cy="1129.2" r="5.8"/>
<circle cx="988.6" cy="1132.3" r="5.8"/>
<circle cx="989.5" cy="1127.7" r="5.8"/>
<circle cx="989.8" cy="1111.9" r="5.8"/>
<circle cx="990.2" cy="1130" r="5.8"/>
<circle cx="991.2" cy="1125.5" r="5.8"/>
<circle cx="991.9" cy="1106.3" r="5.8"/>
<circle cx="992.5" cy="1118.5" r="5.8"/>
<circle cx="992.9" cy="1131.7" r="5.8"/>
<circle cx="994.1" cy="1115.7" r="5.8"/>
<circle cx="994.2" cy="1129.4" r="5.8"/>
<circle cx="994.5" cy="1117.8" r="5.8"/>
<circle cx="995.1" cy="1076.2" r="5.8"/>
<circle cx="995.9" cy="1103.2" r="5.8"/>
<circle cx="996.5" cy="1124.6" r="5.8"/>
<circle cx="997.1" cy="1128.1" r="5.8"/>
<circle cx="997.8" cy="1114.9" r="5.8"/>
<circle cx="997.8" cy="1100" r="5.8"/>
<circle cx="999.4" cy="1118.6" r="5.8"/>
<circle cx="1001.2" cy="1102.4" r="5.8"/>
<circle cx="1001.8" cy="1115.6" r="5.8"/>
<circle cx="1002.3" cy="1121.8" r="5.8"/>
</g>
<g fill="#4dac26" fill-opacity="0.6">
<circle cx="317.5" cy="875.3" r="5.8"/>
<circle cx="318.3" cy="1068.4" r="5.8"/>
<circle cx="322.3" cy="1096.1" r="5.8"/>
<circle cx="322.3" cy="1127.7" r="5.8"/>
</g>
<g fill="#ab47bc" fill-opacity="0.6">
<circle cx="329.4" cy="1098.4" r="5.8"/>
</g>
</g>
<rect x="54" y="740.8" width="948.5" height="392.4" fill="none" stroke="#1a1a1a" stroke-width="1.7"/>
<line x1="49.5" y1="1133.2" x2="54" y2="1133.2" stroke="#1a1a1a" stroke-width="1.5"/>
<line x1="49.5" y1="1089.6" x2="54" y2="1089.6" stroke="#1a1a1a" stroke-width="1.5"/>
<line x1="49.5" y1="1046.0" x2="54" y2="1046.0" stroke="#1a1a1a" stroke-width="1.5"/>
<line x1="49.5" y1="1002.4" x2="54" y2="1002.4" stroke="#1a1a1a" stroke-width="1.5"/>
<line x1="49.5" y1="958.8" x2="54" y2="958.8" stroke="#1a1a1a" stroke-width="1.5"/>
<line x1="49.5" y1="915.2" x2="54" y2="915.2" stroke="#1a1a1a" stroke-width="1.5"/>
<line x1="49.5" y1="871.6" x2="54" y2="871.6" stroke="#1a1a1a" stroke-width="1.5"/>
<line x1="49.5" y1="828.0" x2="54" y2="828.0" stroke="#1a1a1a" stroke-width="1.5"/>
<line x1="49.5" y1="784.4" x2="54" y2="784.4" stroke="#1a1a1a" stroke-width="1.5"/>
<line x1="49.5" y1="740.8" x2="54" y2="740.8" stroke="#1a1a1a" stroke-width="1.5"/>
<line x1="54.0" y1="1133.2" x2="54.0" y2="1137.7" stroke="#1a1a1a" stroke-width="1.5"/>
<line x1="188.4" y1="1133.2" x2="188.4" y2="1137.7" stroke="#1a1a1a" stroke-width="1.5"/>
<line x1="322.7" y1="1133.2" x2="322.7" y2="1137.7" stroke="#1a1a1a" stroke-width="1.5"/>
<line x1="457.1" y1="1133.2" x2="457.1" y2="1137.7" stroke="#1a1a1a" stroke-width="1.5"/>
<line x1="591.4" y1="1133.2" x2="591.4" y2="1137.7" stroke="#1a1a1a" stroke-width="1.5"/>
<line x1="725.8" y1="1133.2" x2="725.8" y2="1137.7" stroke="#1a1a1a" stroke-width="1.5"/>
<line x1="860.2" y1="1133.2" x2="860.2" y2="1137.7" stroke="#1a1a1a" stroke-width="1.5"/>
<line x1="994.5" y1="1133.2" x2="994.5" y2="1137.7" stroke="#1a1a1a" stroke-width="1.5"/>
<g font-family="DejaVu Sans Condensed, DejaVu Sans, sans-serif" font-weight="bold" font-stretch="condensed" font-size="17.3" fill="#000" clip-path="url(#clipL)"><text transform="translate(46.5,1138.6) scale(1,1.1)" text-anchor="end">0</text><text transform="translate(46.5,1095.0) scale(1,1.1)" text-anchor="end">1</text><text transform="translate(46.5,1051.4) scale(1,1.1)" text-anchor="end">2</text><text transform="translate(46.5,1007.8) scale(1,1.1)" text-anchor="end">3</text><text transform="translate(46.5,964.2) scale(1,1.1)" text-anchor="end">4</text><text transform="translate(46.5,920.6) scale(1,1.1)" text-anchor="end">5</text><text transform="translate(46.5,877.0) scale(1,1.1)" text-anchor="end">6</text><text transform="translate(46.5,833.4) scale(1,1.1)" text-anchor="end">7</text><text transform="translate(46.5,789.8) scale(1,1.1)" text-anchor="end">8</text><text transform="translate(46.5,746.2) scale(1,1.1)" text-anchor="end">9</text><text transform="translate(54.0,1153.2) scale(1,1.1)" text-anchor="middle">0</text><text transform="translate(188.4,1153.2) scale(1,1.1)" text-anchor="middle">200000</text><text transform="translate(322.7,1153.2) scale(1,1.1)" text-anchor="middle">400000</text><text transform="translate(457.1,1153.2) scale(1,1.1)" text-anchor="middle">600000</text><text transform="translate(591.4,1153.2) scale(1,1.1)" text-anchor="middle">800000</text><text transform="translate(725.8,1153.2) scale(1,1.1)" text-anchor="middle">1000000</text><text transform="translate(860.2,1153.2) scale(1,1.1)" text-anchor="middle">1200000</text><text transform="translate(994.5,1153.2) scale(1,1.1)" text-anchor="middle">1400000</text></g>
<text font-family="DejaVu Sans, sans-serif" font-weight="bold" font-size="20.5" x="528.2" y="1176.5" text-anchor="middle" stroke="#000" stroke-width="0.4">Chromosome Position</text>
<text font-family="DejaVu Sans, sans-serif" font-weight="bold" font-size="20.5" transform="translate(27.7,937.0) rotate(-90)" text-anchor="middle" stroke="#000" stroke-width="0.4">-log10Pvalue</text>
<rect x="886.0" y="753.8" width="31.5" height="11.3" fill="#fdb672"/>
<text font-family="DejaVu Sans Condensed, DejaVu Sans, sans-serif" font-weight="bold" font-stretch="condensed" font-size="14.9" transform="translate(930.0,765.6) scale(1,1.1)">flanking</text>
<rect x="886.0" y="776.4" width="31.5" height="11.3" fill="#4fb320"/>
<text font-family="DejaVu Sans Condensed, DejaVu Sans, sans-serif" font-weight="bold" font-stretch="condensed" font-size="14.9" transform="translate(930.0,788.2) scale(1,1.1)">intron</text>
<rect x="886.0" y="799.0" width="31.5" height="11.3" fill="#a947bb"/>
<text font-family="DejaVu Sans Condensed, DejaVu Sans, sans-serif" font-weight="bold" font-stretch="condensed" font-size="14.9" transform="translate(930.0,810.8) scale(1,1.1)">exon</text>
<g stroke="#fff" stroke-width="4" fill="#fff" stroke-linejoin="round"><line x1="318.3" y1="862.8" x2="319.5" y2="862.8"/><path d="M327.5,862.8 L319.5,858.8 L319.5,866.8 Z"/></g>
<line x1="318.3" y1="862.8" x2="319.5" y2="862.8" stroke="#000" stroke-width="1.6"/>
<path d="M327.5,862.8 L319.5,858.8 L319.5,866.8 Z" fill="#000"/>
<text font-family="DejaVu Sans, sans-serif" font-weight="bold" font-size="15.5" x="323.5" y="854.4" text-anchor="middle" stroke="#fff" stroke-width="3" paint-order="stroke" stroke-linejoin="round">IRF4</text>
<text font-family="Liberation Sans, Arial, sans-serif" font-weight="bold" font-size="46" x="12" y="655.3">c</text>
</g>
<g id="panel-d">
<rect x="1645.9" y="740.8" width="6.0" height="392.4" fill="rgb(128,128,128)" fill-opacity="0.32" stroke="rgb(128,128,128)" stroke-opacity="0.32" stroke-width="1.5"/>
<g clip-path="url(#clipd)" stroke="rgb(128,118,110)" stroke-opacity="0.6" stroke-width="1.65">
<g fill="#fdae61" fill-opacity="0.6">
<circle cx="1174.3" cy="1112.7" r="5.8"/>
<circle cx="1174.7" cy="1132.9" r="5.8"/>
<circle cx="1174.9" cy="1130.3" r="5.8"/>
<circle cx="1175.4" cy="1125.7" r="5.8"/>
<circle cx="1175.6" cy="1131.7" r="5.8"/>
<circle cx="1176" cy="1131.4" r="5.8"/>
<circle cx="1176" cy="1131.9" r="5.8"/>
<circle cx="1176.1" cy="1117.2" r="5.8"/>
<circle cx="1176.7" cy="1048.2" r="5.8"/>
<circle cx="1176.7" cy="1056.3" r="5.8"/>
<circle cx="1176.7" cy="1118.5" r="5.8"/>
<circle cx="1178.1" cy="1131.3" r="5.8"/>
<circle cx="1178.2" cy="1128.9" r="5.8"/>
<circle cx="1179.3" cy="1129.8" r="5.8"/>
<circle cx="1179.8" cy="1117.5" r="5.8"/>
<circle cx="1179.8" cy="1127.4" r="5.8"/>
<circle cx="1180.7" cy="1099.9" r="5.8"/>
<circle cx="1180.9" cy="1126.6" r="5.8"/>
<circle cx="1181" cy="1123.4" r="5.8"/>
<circle cx="1181.2" cy="1122.5" r="5.8"/>
<circle cx="1182.3" cy="1097.6" r="5.8"/>
<circle cx="1182.4" cy="1131.9" r="5.8"/>
<circle cx="1182.4" cy="1108.9" r="5.8"/>
<circle cx="1183" cy="1117.7" r="5.8"/>
<circle cx="1183.2" cy="1128.5" r="5.8"/>
<circle cx="1183.5" cy="1131.1" r="5.8"/>
<circle cx="1183.6" cy="1118.2" r="5.8"/>
<circle cx="1185.6" cy="1133" r="5.8"/>
<circle cx="1185.6" cy="1116.9" r="5.8"/>
<circle cx="1185.8" cy="1105.1" r="5.8"/>
<circle cx="1186.1" cy="1079" r="5.8"/>
<circle cx="1187.2" cy="1130.4" r="5.8"/>
<circle cx="1188.4" cy="1128.3" r="5.8"/>
<circle cx="1188.9" cy="1127.2" r="5.8"/>
<circle cx="1189.7" cy="1112.1" r="5.8"/>
<circle cx="1190" cy="1102.1" r="5.8"/>
<circle cx="1190.4" cy="1107.2" r="5.8"/>
<circle cx="1190.7" cy="1132.7" r="5.8"/>
<circle cx="1190.8" cy="1099.6" r="5.8"/>
<circle cx="1191.5" cy="1131" r="5.8"/>
<circle cx="1192.4" cy="1101.1" r="5.8"/>
<circle cx="1193.1" cy="1125.6" r="5.8"/>
<circle cx="1193.1" cy="1130.6" r="5.8"/>
<circle cx="1194.2" cy="1110.2" r="5.8"/>
<circle cx="1194.3" cy="1128.4" r="5.8"/>
<circle cx="1194.4" cy="1131.6" r="5.8"/>
<circle cx="1195" cy="1122.4" r="5.8"/>
<circle cx="1195.1" cy="1112.4" r="5.8"/>
<circle cx="1195.4" cy="1129" r="5.8"/>
<circle cx="1195.7" cy="1123.5" r="5.8"/>
<circle cx="1195.7" cy="1130.8" r="5.8"/>
<circle cx="1195.9" cy="1128.3" r="5.8"/>
<circle cx="1196.3" cy="1125.9" r="5.8"/>
<circle cx="1196.5" cy="1120.2" r="5.8"/>
<circle cx="1196.8" cy="1077.7" r="5.8"/>
<circle cx="1196.9" cy="1126.2" r="5.8"/>
<circle cx="1197.2" cy="1128" r="5.8"/>
<circle cx="1197.4" cy="1116.4" r="5.8"/>
<circle cx="1197.5" cy="1099.4" r="5.8"/>
<circle cx="1197.5" cy="1130.6" r="5.8"/>
<circle cx="1197.7" cy="1112.3" r="5.8"/>
<circle cx="1198.3" cy="1132.7" r="5.8"/>
<circle cx="1200.4" cy="1099.1" r="5.8"/>
<circle cx="1200.9" cy="1114.6" r="5.8"/>
<circle cx="1201.3" cy="1101.9" r="5.8"/>
<circle cx="1202" cy="1121.4" r="5.8"/>
<circle cx="1202.4" cy="1132.6" r="5.8"/>
<circle cx="1203.5" cy="1106.1" r="5.8"/>
<circle cx="1204" cy="1120.4" r="5.8"/>
<circle cx="1204.1" cy="1121.9" r="5.8"/>
<circle cx="1204.3" cy="1117.3" r="5.8"/>
<circle cx="1204.6" cy="1127.9" r="5.8"/>
<circle cx="1204.8" cy="1129.9" r="5.8"/>
<circle cx="1205.2" cy="1117.7" r="5.8"/>
<circle cx="1205.7" cy="1124.2" r="5.8"/>
<circle cx="1205.9" cy="1131.7" r="5.8"/>
<circle cx="1206.2" cy="1077.7" r="5.8"/>
<circle cx="1206.4" cy="1123.5" r="5.8"/>
<circle cx="1209.5" cy="1109.9" r="5.8"/>
<circle cx="1210.1" cy="1120.4" r="5.8"/>
<circle cx="1211.3" cy="1128.2" r="5.8"/>
<circle cx="1212" cy="1128" r="5.8"/>
<circle cx="1212.6" cy="1129.4" r="5.8"/>
<circle cx="1213.7" cy="1099.9" r="5.8"/>
<circle cx="1213.8" cy="1132.7" r="5.8"/>
<circle cx="1214.2" cy="1109.1" r="5.8"/>
<circle cx="1214.4" cy="1102.9" r="5.8"/>
<circle cx="1215.6" cy="1131.3" r="5.8"/>
<circle cx="1216" cy="1132.4" r="5.8"/>
<circle cx="1216.4" cy="1128.3" r="5.8"/>
<circle cx="1216.6" cy="1131.7" r="5.8"/>
<circle cx="1216.9" cy="1132.6" r="5.8"/>
<circle cx="1217" cy="1120.8" r="5.8"/>
<circle cx="1217.4" cy="1132" r="5.8"/>
<circle cx="1217.4" cy="1124.9" r="5.8"/>
<circle cx="1218.8" cy="1119" r="5.8"/>
<circle cx="1219.9" cy="1115.8" r="5.8"/>
<circle cx="1220" cy="1128.2" r="5.8"/>
<circle cx="1221" cy="1123.9" r="5.8"/>
<circle cx="1221.5" cy="1119.5" r="5.8"/>
<circle cx="1223.2" cy="1124.4" r="5.8"/>
<circle cx="1223.8" cy="1131.2" r="5.8"/>
<circle cx="1224.5" cy="1116" r="5.8"/>
<circle cx="1224.8" cy="1103.2" r="5.8"/>
<circle cx="1225.2" cy="1128.6" r="5.8"/>
<circle cx="1225.9" cy="1113.3" r="5.8"/>
<circle cx="1228.1" cy="1116.9" r="5.8"/>
<circle cx="1230.1" cy="1112" r="5.8"/>
<circle cx="1230.6" cy="1112.6" r="5.8"/>
<circle cx="1232.9" cy="1126.4" r="5.8"/>
<circle cx="1236.6" cy="1128.4" r="5.8"/>
<circle cx="1237.2" cy="1126.6" r="5.8"/>
<circle cx="1238.7" cy="1118" r="5.8"/>
<circle cx="1240.5" cy="1131.8" r="5.8"/>
<circle cx="1241.8" cy="1031.6" r="5.8"/>
<circle cx="1242.3" cy="1038.8" r="5.8"/>
<circle cx="1242.9" cy="1119.2" r="5.8"/>
<circle cx="1242.9" cy="1129.1" r="5.8"/>
<circle cx="1242.9" cy="1109.1" r="5.8"/>
<circle cx="1243.2" cy="1115.5" r="5.8"/>
<circle cx="1243.3" cy="1117.6" r="5.8"/>
<circle cx="1244.2" cy="1125" r="5.8"/>
<circle cx="1245.9" cy="1124" r="5.8"/>
<circle cx="1246" cy="1113.7" r="5.8"/>
<circle cx="1247.2" cy="1131.7" r="5.8"/>
<circle cx="1247.4" cy="1108.7" r="5.8"/>
<circle cx="1248" cy="1131.7" r="5.8"/>
<circle cx="1248.7" cy="1123.4" r="5.8"/>
<circle cx="1249.5" cy="1128" r="5.8"/>
<circle cx="1249.5" cy="1101.6" r="5.8"/>
<circle cx="1249.6" cy="1128" r="5.8"/>
<circle cx="1249.6" cy="1094.3" r="5.8"/>
<circle cx="1249.8" cy="1133" r="5.8"/>
<circle cx="1250" cy="1121.4" r="5.8"/>
<circle cx="1250.1" cy="1130.2" r="5.8"/>
<circle cx="1251.3" cy="1131" r="5.8"/>
<circle cx="1251.5" cy="1132.8" r="5.8"/>
<circle cx="1252.3" cy="1125.2" r="5.8"/>
<circle cx="1252.7" cy="1131" r="5.8"/>
<circle cx="1252.7" cy="1117" r="5.8"/>
<circle cx="1253.9" cy="1122.8" r="5.8"/>
<circle cx="1254" cy="1118.4" r="5.8"/>
<circle cx="1254" cy="1129.2" r="5.8"/>
<circle cx="1254.2" cy="1103" r="5.8"/>
<circle cx="1254.4" cy="1128.1" r="5.8"/>
<circle cx="1255.4" cy="1129.4" r="5.8"/>
<circle cx="1255.4" cy="1125.7" r="5.8"/>
<circle cx="1255.7" cy="1101.9" r="5.8"/>
<circle cx="1255.9" cy="1131.8" r="5.8"/>
<circle cx="1256.1" cy="1129" r="5.8"/>
<circle cx="1256.4" cy="1133.2" r="5.8"/>
<circle cx="1257.2" cy="1132.2" r="5.8"/>
<circle cx="1258.7" cy="1110.5" r="5.8"/>
<circle cx="1258.9" cy="1132.4" r="5.8"/>
<circle cx="1259.4" cy="1116.4" r="5.8"/>
<circle cx="1261" cy="1121.9" r="5.8"/>
<circle cx="1262.6" cy="1129.5" r="5.8"/>
<circle cx="1263.5" cy="1112.8" r="5.8"/>
<circle cx="1264.4" cy="1109.9" r="5.8"/>
<circle cx="1265" cy="1114.4" r="5.8"/>
<circle cx="1265.6" cy="1103.3" r="5.8"/>
<circle cx="1265.6" cy="1115" r="5.8"/>
<circle cx="1266" cy="1104.3" r="5.8"/>
<circle cx="1266.7" cy="1117.8" r="5.8"/>
<circle cx="1266.8" cy="1120.2" r="5.8"/>
<circle cx="1267" cy="1088.4" r="5.8"/>
<circle cx="1267.5" cy="1128" r="5.8"/>
<circle cx="1267.9" cy="1130.2" r="5.8"/>
<circle cx="1268.5" cy="1119.3" r="5.8"/>
<circle cx="1268.7" cy="1132.3" r="5.8"/>
<circle cx="1269" cy="1130.2" r="5.8"/>
<circle cx="1269.8" cy="1129.5" r="5.8"/>
<circle cx="1270.3" cy="1097.8" r="5.8"/>
<circle cx="1270.4" cy="1133" r="5.8"/>
<circle cx="1271.1" cy="1126" r="5.8"/>
<circle cx="1271.7" cy="1132.9" r="5.8"/>
<circle cx="1272.3" cy="1106.4" r="5.8"/>
<circle cx="1273.9" cy="1106.4" r="5.8"/>
<circle cx="1274.1" cy="1125.1" r="5.8"/>
<circle cx="1274.9" cy="1123.4" r="5.8"/>
<circle cx="1276.1" cy="1131.2" r="5.8"/>
<circle cx="1277.4" cy="1125.8" r="5.8"/>
<circle cx="1277.4" cy="1118" r="5.8"/>
<circle cx="1278.2" cy="1133" r="5.8"/>
<circle cx="1278.4" cy="1111.7" r="5.8"/>
<circle cx="1279.1" cy="1121.6" r="5.8"/>
<circle cx="1279.3" cy="1132.9" r="5.8"/>
<circle cx="1279.6" cy="1098.4" r="5.8"/>
<circle cx="1279.8" cy="1125.4" r="5.8"/>
<circle cx="1279.8" cy="1076.3" r="5.8"/>
<circle cx="1281.3" cy="1101" r="5.8"/>
<circle cx="1282.1" cy="1126.8" r="5.8"/>
<circle cx="1282.2" cy="1130.9" r="5.8"/>
<circle cx="1283.9" cy="1131.9" r="5.8"/>
<circle cx="1284.5" cy="1129.2" r="5.8"/>
<circle cx="1285.1" cy="1114.4" r="5.8"/>
<circle cx="1286" cy="1132.8" r="5.8"/>
<circle cx="1286" cy="1125.8" r="5.8"/>
<circle cx="1286.3" cy="1111.4" r="5.8"/>
<circle cx="1286.6" cy="1131.3" r="5.8"/>
<circle cx="1286.7" cy="1112.6" r="5.8"/>
<circle cx="1287.9" cy="1124.8" r="5.8"/>
<circle cx="1288.1" cy="1109.3" r="5.8"/>
<circle cx="1289" cy="1127.5" r="5.8"/>
<circle cx="1289.6" cy="1128.2" r="5.8"/>
<circle cx="1290.3" cy="1123.7" r="5.8"/>
<circle cx="1290.6" cy="1124.9" r="5.8"/>
<circle cx="1290.8" cy="1121.7" r="5.8"/>
<circle cx="1291.4" cy="1112.1" r="5.8"/>
<circle cx="1291.5" cy="1131" r="5.8"/>
<circle cx="1291.9" cy="1088.4" r="5.8"/>
<circle cx="1292.3" cy="1095.4" r="5.8"/>
<circle cx="1292.6" cy="1128.2" r="5.8"/>
<circle cx="1293.2" cy="1106.5" r="5.8"/>
<circle cx="1293.2" cy="1057.1" r="5.8"/>
<circle cx="1293.4" cy="1132.1" r="5.8"/>
<circle cx="1295.2" cy="1121.8" r="5.8"/>
<circle cx="1296.2" cy="1109.3" r="5.8"/>
<circle cx="1296.5" cy="1126.8" r="5.8"/>
<circle cx="1297.4" cy="1131.7" r="5.8"/>
<circle cx="1297.5" cy="1121.6" r="5.8"/>
<circle cx="1297.7" cy="1130" r="5.8"/>
<circle cx="1298.1" cy="1121.6" r="5.8"/>
<circle cx="1298.8" cy="1125.5" r="5.8"/>
<circle cx="1299.1" cy="1133.1" r="5.8"/>
<circle cx="1299.6" cy="1122.6" r="5.8"/>
<circle cx="1299.7" cy="1128.2" r="5.8"/>
<circle cx="1299.7" cy="1127.5" r="5.8"/>
<circle cx="1300.3" cy="1132.4" r="5.8"/>
<circle cx="1300.6" cy="1125.8" r="5.8"/>
<circle cx="1300.8" cy="1122.9" r="5.8"/>
<circle cx="1301.9" cy="1123.9" r="5.8"/>
<circle cx="1302.2" cy="1126.8" r="5.8"/>
<circle cx="1302.3" cy="1120.5" r="5.8"/>
<circle cx="1302.7" cy="1111.2" r="5.8"/>
<circle cx="1303.3" cy="1131.1" r="5.8"/>
<circle cx="1303.8" cy="1128.6" r="5.8"/>
<circle cx="1304.8" cy="1131.2" r="5.8"/>
<circle cx="1305.7" cy="1116.1" r="5.8"/>
<circle cx="1306.6" cy="1085.2" r="5.8"/>
<circle cx="1307" cy="1121.7" r="5.8"/>
<circle cx="1307.7" cy="1128.5" r="5.8"/>
<circle cx="1308.5" cy="1130.4" r="5.8"/>
<circle cx="1308.9" cy="1122.8" r="5.8"/>
<circle cx="1309.3" cy="1115.2" r="5.8"/>
<circle cx="1309.7" cy="1118.7" r="5.8"/>
<circle cx="1310.2" cy="1130.1" r="5.8"/>
<circle cx="1310.8" cy="1106.7" r="5.8"/>
<circle cx="1312.7" cy="1120.5" r="5.8"/>
<circle cx="1313.7" cy="1126.4" r="5.8"/>
<circle cx="1313.7" cy="1122.9" r="5.8"/>
<circle cx="1314.7" cy="1122.5" r="5.8"/>
<circle cx="1314.7" cy="1076.3" r="5.8"/>
<circle cx="1314.7" cy="1131.6" r="5.8"/>
<circle cx="1315.1" cy="1126.8" r="5.8"/>
<circle cx="1315.5" cy="1132.9" r="5.8"/>
<circle cx="1316.6" cy="1130.7" r="5.8"/>
<circle cx="1318" cy="1117.5" r="5.8"/>
<circle cx="1318" cy="1120.7" r="5.8"/>
<circle cx="1318.4" cy="1131" r="5.8"/>
<circle cx="1318.6" cy="1096.6" r="5.8"/>
<circle cx="1318.9" cy="1127.8" r="5.8"/>
<circle cx="1318.9" cy="1131.2" r="5.8"/>
<circle cx="1319.5" cy="1132.2" r="5.8"/>
<circle cx="1319.7" cy="1132.8" r="5.8"/>
<circle cx="1320.7" cy="1107.8" r="5.8"/>
<circle cx="1321.1" cy="1103.3" r="5.8"/>
<circle cx="1321.1" cy="1132.5" r="5.8"/>
<circle cx="1321.5" cy="1133.2" r="5.8"/>
<circle cx="1321.7" cy="1120.8" r="5.8"/>
<circle cx="1321.8" cy="1124.4" r="5.8"/>
<circle cx="1322.3" cy="1116.9" r="5.8"/>
<circle cx="1322.7" cy="1094.4" r="5.8"/>
<circle cx="1322.7" cy="1129.1" r="5.8"/>
<circle cx="1323.3" cy="1120.4" r="5.8"/>
<circle cx="1323.8" cy="1113.8" r="5.8"/>
<circle cx="1324" cy="1131.4" r="5.8"/>
<circle cx="1324.1" cy="1097.8" r="5.8"/>
<circle cx="1324.4" cy="1111.1" r="5.8"/>
<circle cx="1324.9" cy="1124.5" r="5.8"/>
<circle cx="1325.4" cy="1058.9" r="5.8"/>
<circle cx="1325.5" cy="1133.2" r="5.8"/>
<circle cx="1325.9" cy="1130.9" r="5.8"/>
<circle cx="1326.7" cy="1064.3" r="5.8"/>
<circle cx="1326.8" cy="1133.1" r="5.8"/>
<circle cx="1326.9" cy="1105.9" r="5.8"/>
<circle cx="1327.6" cy="1108.4" r="5.8"/>
<circle cx="1327.6" cy="1131.1" r="5.8"/>
<circle cx="1328.3" cy="1123.8" r="5.8"/>
<circle cx="1328.3" cy="1109.1" r="5.8"/>
<circle cx="1329.1" cy="1125" r="5.8"/>
<circle cx="1331.3" cy="1114.2" r="5.8"/>
<circle cx="1331.9" cy="1094.6" r="5.8"/>
<circle cx="1332.1" cy="1114.1" r="5.8"/>
<circle cx="1332.8" cy="1119.7" r="5.8"/>
<circle cx="1333.5" cy="1130.6" r="5.8"/>
<circle cx="1334.4" cy="1100.6" r="5.8"/>
<circle cx="1334.5" cy="1103.3" r="5.8"/>
<circle cx="1335.2" cy="1101.5" r="5.8"/>
<circle cx="1335.8" cy="1132.1" r="5.8"/>
<circle cx="1336.2" cy="1132.6" r="5.8"/>
<circle cx="1336.6" cy="1085.2" r="5.8"/>
<circle cx="1337" cy="1114.4" r="5.8"/>
<circle cx="1337.9" cy="1132.8" r="5.8"/>
<circle cx="1338.7" cy="1130.4" r="5.8"/>
<circle cx="1338.8" cy="1046.9" r="5.8"/>
<circle cx="1339.3" cy="1063" r="5.8"/>
<circle cx="1339.3" cy="1131.6" r="5.8"/>
<circle cx="1339.5" cy="1120.7" r="5.8"/>
<circle cx="1340.3" cy="1113.4" r="5.8"/>
<circle cx="1340.8" cy="1110.2" r="5.8"/>
<circle cx="1342.9" cy="1127.9" r="5.8"/>
<circle cx="1343.2" cy="1129.6" r="5.8"/>
<circle cx="1344.2" cy="1123.3" r="5.8"/>
<circle cx="1344.6" cy="1130.8" r="5.8"/>
<circle cx="1344.7" cy="1124.6" r="5.8"/>
<circle cx="1345.4" cy="1097.9" r="5.8"/>
<circle cx="1345.6" cy="1122.6" r="5.8"/>
<circle cx="1345.7" cy="1129.9" r="5.8"/>
<circle cx="1345.7" cy="1124.1" r="5.8"/>
<circle cx="1345.7" cy="1130.1" r="5.8"/>
<circle cx="1345.9" cy="1119.5" r="5.8"/>
<circle cx="1346.2" cy="1131" r="5.8"/>
<circle cx="1346.9" cy="1122.9" r="5.8"/>
<circle cx="1347.2" cy="1127" r="5.8"/>
<circle cx="1347.6" cy="1126.9" r="5.8"/>
<circle cx="1347.8" cy="1129.6" r="5.8"/>
<circle cx="1348.1" cy="1131.3" r="5.8"/>
<circle cx="1348.5" cy="1116.4" r="5.8"/>
<circle cx="1348.7" cy="1122.8" r="5.8"/>
<circle cx="1349.3" cy="1128.5" r="5.8"/>
<circle cx="1349.7" cy="1123" r="5.8"/>
<circle cx="1349.9" cy="1112" r="5.8"/>
<circle cx="1350.5" cy="1123.3" r="5.8"/>
<circle cx="1351.4" cy="1124.4" r="5.8"/>
<circle cx="1351.6" cy="1122.2" r="5.8"/>
<circle cx="1352" cy="1133.2" r="5.8"/>
<circle cx="1352.3" cy="1133.1" r="5.8"/>
<circle cx="1352.7" cy="1091" r="5.8"/>
<circle cx="1352.9" cy="1121.7" r="5.8"/>
<circle cx="1352.9" cy="1126.3" r="5.8"/>
<circle cx="1353.9" cy="1117.3" r="5.8"/>
<circle cx="1354.6" cy="1111.5" r="5.8"/>
<circle cx="1355" cy="1132.2" r="5.8"/>
<circle cx="1355" cy="1120.8" r="5.8"/>
<circle cx="1355.2" cy="1121.5" r="5.8"/>
<circle cx="1355.6" cy="1122.4" r="5.8"/>
<circle cx="1355.8" cy="1109.4" r="5.8"/>
<circle cx="1356" cy="1130.3" r="5.8"/>
<circle cx="1356.1" cy="1127.9" r="5.8"/>
<circle cx="1356.5" cy="1113.8" r="5.8"/>
<circle cx="1356.8" cy="1106.4" r="5.8"/>
<circle cx="1357.3" cy="1107.3" r="5.8"/>
<circle cx="1357.8" cy="1131.5" r="5.8"/>
<circle cx="1358.4" cy="1124.4" r="5.8"/>
<circle cx="1358.4" cy="1125.2" r="5.8"/>
<circle cx="1358.4" cy="1130.1" r="5.8"/>
<circle cx="1358.6" cy="1115.5" r="5.8"/>
<circle cx="1359.3" cy="1123.1" r="5.8"/>
<circle cx="1359.5" cy="1111.2" r="5.8"/>
<circle cx="1359.6" cy="1126.1" r="5.8"/>
<circle cx="1360.2" cy="1072.3" r="5.8"/>
<circle cx="1361.1" cy="1091.4" r="5.8"/>
<circle cx="1361.6" cy="1107.9" r="5.8"/>
<circle cx="1361.9" cy="1129.5" r="5.8"/>
<circle cx="1362.3" cy="1054.4" r="5.8"/>
<circle cx="1362.9" cy="1107.5" r="5.8"/>
<circle cx="1363.3" cy="1133.1" r="5.8"/>
<circle cx="1364.1" cy="1121.8" r="5.8"/>
<circle cx="1364.6" cy="1090.5" r="5.8"/>
<circle cx="1365.6" cy="1080.4" r="5.8"/>
<circle cx="1365.8" cy="1111.9" r="5.8"/>
<circle cx="1366.6" cy="1109.5" r="5.8"/>
<circle cx="1368.1" cy="1113.1" r="5.8"/>
<circle cx="1368.8" cy="1067" r="5.8"/>
<circle cx="1368.9" cy="1132.8" r="5.8"/>
<circle cx="1369.6" cy="1132.1" r="5.8"/>
<circle cx="1369.8" cy="1130.7" r="5.8"/>
<circle cx="1371.7" cy="1133.1" r="5.8"/>
<circle cx="1373" cy="1121.2" r="5.8"/>
<circle cx="1373.2" cy="1133.2" r="5.8"/>
<circle cx="1373.3" cy="1117.3" r="5.8"/>
<circle cx="1373.3" cy="1124.5" r="5.8"/>
<circle cx="1374.6" cy="1106.5" r="5.8"/>
<circle cx="1374.8" cy="1129.3" r="5.8"/>
<circle cx="1374.9" cy="1031.6" r="5.8"/>
<circle cx="1375" cy="1119.1" r="5.8"/>
<circle cx="1375.5" cy="1125.1" r="5.8"/>
<circle cx="1375.5" cy="1033" r="5.8"/>
<circle cx="1375.6" cy="1125.1" r="5.8"/>
<circle cx="1377" cy="1131.4" r="5.8"/>
<circle cx="1377.5" cy="1128.4" r="5.8"/>
<circle cx="1377.6" cy="1089.2" r="5.8"/>
<circle cx="1377.8" cy="1125.5" r="5.8"/>
<circle cx="1378.4" cy="1125.3" r="5.8"/>
<circle cx="1378.7" cy="1126" r="5.8"/>
<circle cx="1379" cy="1126" r="5.8"/>
<circle cx="1379.6" cy="1129.6" r="5.8"/>
<circle cx="1380.6" cy="1132.4" r="5.8"/>
<circle cx="1380.8" cy="1109.4" r="5.8"/>
<circle cx="1383" cy="1116.1" r="5.8"/>
<circle cx="1383.7" cy="1123.1" r="5.8"/>
<circle cx="1384" cy="1131.8" r="5.8"/>
<circle cx="1384.1" cy="1123.4" r="5.8"/>
<circle cx="1384.5" cy="1131.2" r="5.8"/>
<circle cx="1385" cy="1129.8" r="5.8"/>
<circle cx="1385.2" cy="1098.3" r="5.8"/>
<circle cx="1385.2" cy="1126.2" r="5.8"/>
<circle cx="1385.6" cy="1083" r="5.8"/>
<circle cx="1385.8" cy="1108.4" r="5.8"/>
<circle cx="1387.1" cy="1096.3" r="5.8"/>
<circle cx="1387.5" cy="1125.5" r="5.8"/>
<circle cx="1387.7" cy="1116.7" r="5.8"/>
<circle cx="1388" cy="1127.1" r="5.8"/>
<circle cx="1388.7" cy="1095.5" r="5.8"/>
<circle cx="1389.1" cy="1127.4" r="5.8"/>
<circle cx="1389.8" cy="1123.8" r="5.8"/>
<circle cx="1389.9" cy="1121.5" r="5.8"/>
<circle cx="1390.1" cy="1109.7" r="5.8"/>
<circle cx="1392.2" cy="1131.5" r="5.8"/>
<circle cx="1392.2" cy="1129" r="5.8"/>
<circle cx="1393.4" cy="1126.6" r="5.8"/>
<circle cx="1394.1" cy="1103.8" r="5.8"/>
<circle cx="1394.3" cy="1127.3" r="5.8"/>
<circle cx="1394.6" cy="1120.7" r="5.8"/>
<circle cx="1395" cy="1121.5" r="5.8"/>
<circle cx="1396.4" cy="1085.2" r="5.8"/>
<circle cx="1396.7" cy="1126.8" r="5.8"/>
<circle cx="1397.2" cy="1096.4" r="5.8"/>
<circle cx="1398.3" cy="1113" r="5.8"/>
<circle cx="1398.6" cy="1129.1" r="5.8"/>
<circle cx="1398.7" cy="1116.4" r="5.8"/>
<circle cx="1400.3" cy="1108.6" r="5.8"/>
<circle cx="1400.7" cy="1115.2" r="5.8"/>
<circle cx="1400.7" cy="1110.7" r="5.8"/>
<circle cx="1400.8" cy="1122.8" r="5.8"/>
<circle cx="1401.8" cy="1110.1" r="5.8"/>
<circle cx="1404.1" cy="1124.3" r="5.8"/>
<circle cx="1404.5" cy="1128.4" r="5.8"/>
<circle cx="1405.3" cy="1122.4" r="5.8"/>
<circle cx="1406.5" cy="1126.8" r="5.8"/>
<circle cx="1407.1" cy="1104" r="5.8"/>
<circle cx="1407.9" cy="1127.8" r="5.8"/>
<circle cx="1408.1" cy="1131.4" r="5.8"/>
<circle cx="1408.4" cy="1108.7" r="5.8"/>
<circle cx="1408.8" cy="1132.3" r="5.8"/>
<circle cx="1409.1" cy="1123.2" r="5.8"/>
<circle cx="1409.2" cy="1131.2" r="5.8"/>
<circle cx="1409.6" cy="1127.1" r="5.8"/>
<circle cx="1410.7" cy="1128.8" r="5.8"/>
<circle cx="1411" cy="1104.4" r="5.8"/>
<circle cx="1411.7" cy="1129.5" r="5.8"/>
<circle cx="1412.1" cy="1126.5" r="5.8"/>
<circle cx="1414.7" cy="1130" r="5.8"/>
<circle cx="1414.7" cy="1128.6" r="5.8"/>
<circle cx="1415.7" cy="1111.6" r="5.8"/>
<circle cx="1416.1" cy="1131" r="5.8"/>
<circle cx="1416.2" cy="1131.5" r="5.8"/>
<circle cx="1416.4" cy="1096.4" r="5.8"/>
<circle cx="1416.7" cy="1131.6" r="5.8"/>
<circle cx="1418" cy="1132.5" r="5.8"/>
<circle cx="1418" cy="1131.9" r="5.8"/>
<circle cx="1418.5" cy="1107.1" r="5.8"/>
<circle cx="1418.9" cy="1122.2" r="5.8"/>
<circle cx="1419.2" cy="1128.3" r="5.8"/>
<circle cx="1419.3" cy="1110.9" r="5.8"/>
<circle cx="1420.2" cy="1127" r="5.8"/>
<circle cx="1420.7" cy="1114.8" r="5.8"/>
<circle cx="1421.2" cy="1130.5" r="5.8"/>
<circle cx="1421.5" cy="1115.1" r="5.8"/>
<circle cx="1421.9" cy="1129.3" r="5.8"/>
<circle cx="1424.6" cy="1111.7" r="5.8"/>
<circle cx="1424.8" cy="1132.7" r="5.8"/>
<circle cx="1425.2" cy="1106.7" r="5.8"/>
<circle cx="1425.5" cy="1111.4" r="5.8"/>
<circle cx="1426.6" cy="1115.1" r="5.8"/>
<circle cx="1426.9" cy="1117.5" r="5.8"/>
<circle cx="1428.7" cy="1116.1" r="5.8"/>
<circle cx="1430" cy="1122.5" r="5.8"/>
<circle cx="1430.6" cy="1119.3" r="5.8"/>
<circle cx="1432.6" cy="1126.3" r="5.8"/>
<circle cx="1432.8" cy="1111.1" r="5.8"/>
<circle cx="1432.8" cy="1128.6" r="5.8"/>
<circle cx="1433" cy="1121.7" r="5.8"/>
<circle cx="1433.1" cy="1127.1" r="5.8"/>
<circle cx="1433.4" cy="1115" r="5.8"/>
<circle cx="1433.9" cy="1103.1" r="5.8"/>
<circle cx="1434.5" cy="1124.6" r="5.8"/>
<circle cx="1435.2" cy="1130.7" r="5.8"/>
<circle cx="1435.9" cy="1101.5" r="5.8"/>
<circle cx="1436" cy="1131.1" r="5.8"/>
<circle cx="1437.2" cy="1129.5" r="5.8"/>
<circle cx="1439.1" cy="1104.5" r="5.8"/>
<circle cx="1439.5" cy="1125.8" r="5.8"/>
<circle cx="1463.4" cy="1109.2" r="5.8"/>
<circle cx="1466" cy="1104.5" r="5.8"/>
<circle cx="1466.7" cy="1115.5" r="5.8"/>
<circle cx="1467.3" cy="1108.5" r="5.8"/>
<circle cx="1467.5" cy="1130.7" r="5.8"/>
<circle cx="1472.3" cy="1119.4" r="5.8"/>
<circle cx="1473.2" cy="1109.3" r="5.8"/>
<circle cx="1478.3" cy="1124" r="5.8"/>
<circle cx="1482.1" cy="1104.5" r="5.8"/>
<circle cx="1484" cy="1122.7" r="5.8"/>
<circle cx="1490.1" cy="1118.2" r="5.8"/>
<circle cx="1490.9" cy="1109.3" r="5.8"/>
<circle cx="1491.4" cy="1125.4" r="5.8"/>
<circle cx="1493.6" cy="1116.9" r="5.8"/>
<circle cx="1525.6" cy="1127.1" r="5.8"/>
<circle cx="1529" cy="1125.9" r="5.8"/>
<circle cx="1529.8" cy="1124.5" r="5.8"/>
<circle cx="1530.3" cy="1127" r="5.8"/>
<circle cx="1534.1" cy="1124.1" r="5.8"/>
<circle cx="1537.5" cy="1048.2" r="5.8"/>
<circle cx="1537.5" cy="1052.2" r="5.8"/>
<circle cx="1539.7" cy="1123.2" r="5.8"/>
<circle cx="1545.4" cy="1122.7" r="5.8"/>
<circle cx="1546.2" cy="1128.6" r="5.8"/>
<circle cx="1549" cy="1130" r="5.8"/>
<circle cx="1565.6" cy="1123.5" r="5.8"/>
<circle cx="1565.7" cy="1132.7" r="5.8"/>
<circle cx="1565.9" cy="1119.9" r="5.8"/>
<circle cx="1566.4" cy="1100.8" r="5.8"/>
<circle cx="1566.8" cy="1101.1" r="5.8"/>
<circle cx="1566.8" cy="1126.7" r="5.8"/>
<circle cx="1567.9" cy="1110.7" r="5.8"/>
<circle cx="1569" cy="1128.6" r="5.8"/>
<circle cx="1569.2" cy="1127" r="5.8"/>
<circle cx="1569.2" cy="1117.1" r="5.8"/>
<circle cx="1569.2" cy="1122.1" r="5.8"/>
<circle cx="1569.5" cy="1128" r="5.8"/>
<circle cx="1571.3" cy="1132.3" r="5.8"/>
<circle cx="1571.8" cy="1077.7" r="5.8"/>
<circle cx="1571.8" cy="1092.4" r="5.8"/>
<circle cx="1572.4" cy="1109.9" r="5.8"/>
<circle cx="1572.7" cy="1129.1" r="5.8"/>
<circle cx="1572.8" cy="1115.1" r="5.8"/>
<circle cx="1572.9" cy="1123.4" r="5.8"/>
<circle cx="1572.9" cy="1122.5" r="5.8"/>
<circle cx="1573" cy="1119.2" r="5.8"/>
<circle cx="1573.2" cy="1052.2" r="5.8"/>
<circle cx="1573.2" cy="1124.6" r="5.8"/>
<circle cx="1574.5" cy="1121" r="5.8"/>
<circle cx="1574.5" cy="1109.9" r="5.8"/>
<circle cx="1575.2" cy="1115.9" r="5.8"/>
<circle cx="1575.2" cy="1128.5" r="5.8"/>
<circle cx="1575.3" cy="1113.5" r="5.8"/>
<circle cx="1575.4" cy="1123" r="5.8"/>
<circle cx="1576.7" cy="1129.8" r="5.8"/>
<circle cx="1576.7" cy="1131.1" r="5.8"/>
<circle cx="1577.2" cy="1075" r="5.8"/>
<circle cx="1577.4" cy="1130.8" r="5.8"/>
<circle cx="1577.8" cy="1129.4" r="5.8"/>
<circle cx="1578.3" cy="1109.2" r="5.8"/>
<circle cx="1578.5" cy="1065.6" r="5.8"/>
<circle cx="1578.7" cy="1109.5" r="5.8"/>
<circle cx="1579.1" cy="1131.1" r="5.8"/>
<circle cx="1579.5" cy="1130.3" r="5.8"/>
<circle cx="1581.4" cy="1122.4" r="5.8"/>
<circle cx="1581.4" cy="1127.4" r="5.8"/>
<circle cx="1582.6" cy="1126.7" r="5.8"/>
<circle cx="1583.9" cy="1123.5" r="5.8"/>
<circle cx="1583.9" cy="1127.8" r="5.8"/>
<circle cx="1584.1" cy="1128.9" r="5.8"/>
<circle cx="1584.3" cy="1115.2" r="5.8"/>
<circle cx="1584.3" cy="1128.7" r="5.8"/>
<circle cx="1584.3" cy="1100.5" r="5.8"/>
<circle cx="1584.9" cy="1118.4" r="5.8"/>
<circle cx="1585.2" cy="1060.3" r="5.8"/>
<circle cx="1586.3" cy="1118.4" r="5.8"/>
<circle cx="1586.6" cy="1056.3" r="5.8"/>
<circle cx="1587" cy="1131.5" r="5.8"/>
<circle cx="1587.2" cy="1131.7" r="5.8"/>
<circle cx="1588" cy="1127" r="5.8"/>
<circle cx="1588.9" cy="1128.4" r="5.8"/>
<circle cx="1589.2" cy="1099.9" r="5.8"/>
<circle cx="1589.6" cy="1126.2" r="5.8"/>
<circle cx="1589.6" cy="1103.7" r="5.8"/>
<circle cx="1590.3" cy="1124.6" r="5.8"/>
<circle cx="1590.7" cy="1131" r="5.8"/>
<circle cx="1591.9" cy="1081.7" r="5.8"/>
<circle cx="1592.7" cy="1091.1" r="5.8"/>
<circle cx="1592.8" cy="1129.7" r="5.8"/>
<circle cx="1594" cy="1117.8" r="5.8"/>
<circle cx="1594.8" cy="1123.1" r="5.8"/>
<circle cx="1595.5" cy="1122.7" r="5.8"/>
<circle cx="1596.1" cy="1131.4" r="5.8"/>
<circle cx="1596.1" cy="1131.2" r="5.8"/>
<circle cx="1596.2" cy="1099.4" r="5.8"/>
<circle cx="1596.5" cy="1103.1" r="5.8"/>
<circle cx="1598.3" cy="1093.5" r="5.8"/>
<circle cx="1598.9" cy="1129.8" r="5.8"/>
<circle cx="1600.7" cy="1123.3" r="5.8"/>
<circle cx="1601.3" cy="1101.5" r="5.8"/>
<circle cx="1602.2" cy="1128.1" r="5.8"/>
<circle cx="1602.7" cy="1125.4" r="5.8"/>
<circle cx="1604" cy="1121.8" r="5.8"/>
<circle cx="1604.2" cy="1113.8" r="5.8"/>
<circle cx="1605.9" cy="1132.1" r="5.8"/>
<circle cx="1606.3" cy="1131.7" r="5.8"/>
<circle cx="1607.6" cy="1132.5" r="5.8"/>
<circle cx="1607.8" cy="1130.8" r="5.8"/>
<circle cx="1607.9" cy="1097.1" r="5.8"/>
<circle cx="1608.3" cy="1123.3" r="5.8"/>
<circle cx="1608.7" cy="1127" r="5.8"/>
<circle cx="1609.3" cy="1127" r="5.8"/>
<circle cx="1609.3" cy="1104.5" r="5.8"/>
<circle cx="1612.7" cy="1097.5" r="5.8"/>
<circle cx="1614.3" cy="1120.2" r="5.8"/>
<circle cx="1614.5" cy="1125.5" r="5.8"/>
<circle cx="1614.7" cy="1093.2" r="5.8"/>
<circle cx="1614.8" cy="1127.3" r="5.8"/>
<circle cx="1616.4" cy="1124.1" r="5.8"/>
<circle cx="1616.5" cy="1128.7" r="5.8"/>
<circle cx="1616.6" cy="1100.3" r="5.8"/>
<circle cx="1617.4" cy="1118.3" r="5.8"/>
<circle cx="1618.1" cy="1117.4" r="5.8"/>
<circle cx="1618.1" cy="1121.7" r="5.8"/>
<circle cx="1618.9" cy="1111" r="5.8"/>
<circle cx="1620.3" cy="1094.5" r="5.8"/>
<circle cx="1621.7" cy="1125.5" r="5.8"/>
<circle cx="1622" cy="1112.9" r="5.8"/>
<circle cx="1622.1" cy="1131.1" r="5.8"/>
<circle cx="1623.3" cy="1114.8" r="5.8"/>
<circle cx="1623.3" cy="1130.6" r="5.8"/>
<circle cx="1623.6" cy="1126.5" r="5.8"/>
<circle cx="1623.9" cy="1129.8" r="5.8"/>
<circle cx="1624.7" cy="1115" r="5.8"/>
<circle cx="1625.1" cy="1105.6" r="5.8"/>
<circle cx="1625.4" cy="1089.7" r="5.8"/>
<circle cx="1625.9" cy="1108.2" r="5.8"/>
<circle cx="1627.6" cy="1114.5" r="5.8"/>
<circle cx="1627.9" cy="1128.2" r="5.8"/>
<circle cx="1628" cy="1122.8" r="5.8"/>
<circle cx="1628.5" cy="1131" r="5.8"/>
<circle cx="1630.1" cy="1126" r="5.8"/>
<circle cx="1631.3" cy="1120.9" r="5.8"/>
<circle cx="1631.8" cy="1105.2" r="5.8"/>
<circle cx="1632.2" cy="1125.5" r="5.8"/>
<circle cx="1632.6" cy="1106.3" r="5.8"/>
<circle cx="1633.4" cy="1130" r="5.8"/>
<circle cx="1633.4" cy="1095.1" r="5.8"/>
<circle cx="1633.7" cy="1119.3" r="5.8"/>
<circle cx="1633.8" cy="1130.1" r="5.8"/>
<circle cx="1633.8" cy="1099.2" r="5.8"/>
<circle cx="1633.8" cy="1125.4" r="5.8"/>
<circle cx="1634.6" cy="1132.4" r="5.8"/>
<circle cx="1634.8" cy="1122.3" r="5.8"/>
<circle cx="1635.1" cy="1131" r="5.8"/>
<circle cx="1635.2" cy="1111.5" r="5.8"/>
<circle cx="1636.7" cy="1129.3" r="5.8"/>
<circle cx="1637.5" cy="1100.5" r="5.8"/>
<circle cx="1638.1" cy="1131.3" r="5.8"/>
<circle cx="1639.9" cy="1121.6" r="5.8"/>
<circle cx="1640.6" cy="1120.4" r="5.8"/>
<circle cx="1641.2" cy="1111" r="5.8"/>
<circle cx="1642.2" cy="1131.1" r="5.8"/>
<circle cx="1644.4" cy="1103.3" r="5.8"/>
<circle cx="1644.4" cy="1112.9" r="5.8"/>
<circle cx="1644.5" cy="1127.6" r="5.8"/>
<circle cx="1651.7" cy="1071" r="5.8"/>
<circle cx="1652" cy="1129.8" r="5.8"/>
<circle cx="1653.5" cy="1133" r="5.8"/>
<circle cx="1654.1" cy="1127.5" r="5.8"/>
<circle cx="1654.4" cy="1121.8" r="5.8"/>
<circle cx="1654.6" cy="1132.6" r="5.8"/>
<circle cx="1654.8" cy="1130.2" r="5.8"/>
<circle cx="1654.9" cy="1122.8" r="5.8"/>
<circle cx="1655" cy="1128.2" r="5.8"/>
<circle cx="1655.5" cy="1118.2" r="5.8"/>
<circle cx="1657.2" cy="1108.3" r="5.8"/>
<circle cx="1657.5" cy="1113.5" r="5.8"/>
<circle cx="1658.1" cy="1120.7" r="5.8"/>
<circle cx="1659" cy="1126.4" r="5.8"/>
<circle cx="1659.1" cy="1121.9" r="5.8"/>
<circle cx="1659.5" cy="1101.1" r="5.8"/>
<circle cx="1660.3" cy="1123.4" r="5.8"/>
<circle cx="1660.4" cy="1101" r="5.8"/>
<circle cx="1661.1" cy="1065.6" r="5.8"/>
<circle cx="1661.6" cy="1131" r="5.8"/>
<circle cx="1661.8" cy="1130.6" r="5.8"/>
<circle cx="1662.8" cy="1109.6" r="5.8"/>
<circle cx="1663.6" cy="1100" r="5.8"/>
<circle cx="1664.8" cy="1133.2" r="5.8"/>
<circle cx="1665.1" cy="1123.6" r="5.8"/>
<circle cx="1665.3" cy="1127.8" r="5.8"/>
<circle cx="1666.4" cy="1132.7" r="5.8"/>
<circle cx="1666.6" cy="1098.1" r="5.8"/>
<circle cx="1667.4" cy="1125.2" r="5.8"/>
<circle cx="1668.4" cy="1106.2" r="5.8"/>
<circle cx="1668.5" cy="1130.4" r="5.8"/>
<circle cx="1668.6" cy="1127.1" r="5.8"/>
<circle cx="1668.8" cy="1108.9" r="5.8"/>
<circle cx="1668.9" cy="1118.8" r="5.8"/>
<circle cx="1670.6" cy="1108.5" r="5.8"/>
<circle cx="1670.7" cy="1127.9" r="5.8"/>
<circle cx="1670.9" cy="1126.6" r="5.8"/>
<circle cx="1671.3" cy="1083" r="5.8"/>
<circle cx="1671.3" cy="1110.4" r="5.8"/>
<circle cx="1671.4" cy="1124.3" r="5.8"/>
<circle cx="1672" cy="1096.7" r="5.8"/>
<circle cx="1672.5" cy="1122.6" r="5.8"/>
<circle cx="1673.3" cy="1099.3" r="5.8"/>
<circle cx="1673.6" cy="1108.8" r="5.8"/>
<circle cx="1674.1" cy="1118.5" r="5.8"/>
<circle cx="1674.1" cy="1130.1" r="5.8"/>
<circle cx="1674.7" cy="1133.2" r="5.8"/>
<circle cx="1676" cy="1126.8" r="5.8"/>
<circle cx="1676.5" cy="1123" r="5.8"/>
<circle cx="1676.6" cy="1120.5" r="5.8"/>
<circle cx="1677.2" cy="1132.9" r="5.8"/>
<circle cx="1677.9" cy="1099.7" r="5.8"/>
<circle cx="1678.2" cy="1125.8" r="5.8"/>
<circle cx="1678.7" cy="1125.5" r="5.8"/>
<circle cx="1678.8" cy="1127.6" r="5.8"/>
<circle cx="1679.9" cy="1128.3" r="5.8"/>
<circle cx="1680.9" cy="1133" r="5.8"/>
<circle cx="1681.1" cy="1127.7" r="5.8"/>
<circle cx="1681.4" cy="1131.4" r="5.8"/>
<circle cx="1683.8" cy="1074.5" r="5.8"/>
<circle cx="1684" cy="1111" r="5.8"/>
<circle cx="1684.4" cy="1100.4" r="5.8"/>
<circle cx="1685.6" cy="1132.6" r="5.8"/>
<circle cx="1685.7" cy="1130.5" r="5.8"/>
<circle cx="1686.8" cy="1118.8" r="5.8"/>
<circle cx="1687" cy="1128.7" r="5.8"/>
<circle cx="1687.4" cy="1122.6" r="5.8"/>
<circle cx="1687.9" cy="1085.7" r="5.8"/>
<circle cx="1687.9" cy="1121.1" r="5.8"/>
<circle cx="1688" cy="1102.1" r="5.8"/>
<circle cx="1688.1" cy="1101.3" r="5.8"/>
<circle cx="1688.2" cy="1125.2" r="5.8"/>
<circle cx="1689.1" cy="1096.8" r="5.8"/>
<circle cx="1689.7" cy="1114.9" r="5.8"/>
<circle cx="1690.4" cy="1125.6" r="5.8"/>
<circle cx="1690.8" cy="1113.1" r="5.8"/>
<circle cx="1691.9" cy="1128.2" r="5.8"/>
<circle cx="1692.1" cy="1105.9" r="5.8"/>
<circle cx="1692.2" cy="1130.3" r="5.8"/>
<circle cx="1692.8" cy="1106" r="5.8"/>
<circle cx="1693.8" cy="1101.1" r="5.8"/>
<circle cx="1695" cy="1095.1" r="5.8"/>
<circle cx="1695.5" cy="1130.4" r="5.8"/>
<circle cx="1695.7" cy="1132.4" r="5.8"/>
<circle cx="1696.5" cy="1132.3" r="5.8"/>
<circle cx="1697.1" cy="1128.4" r="5.8"/>
<circle cx="1697.3" cy="1105.5" r="5.8"/>
<circle cx="1698.6" cy="1089.7" r="5.8"/>
<circle cx="1699.2" cy="1132.5" r="5.8"/>
<circle cx="1699.4" cy="1074.5" r="5.8"/>
<circle cx="1701.5" cy="1130.8" r="5.8"/>
<circle cx="1702.5" cy="1111.5" r="5.8"/>
<circle cx="1702.8" cy="1131" r="5.8"/>
<circle cx="1703" cy="1094.2" r="5.8"/>
<circle cx="1704" cy="1132.9" r="5.8"/>
<circle cx="1704.1" cy="1129.4" r="5.8"/>
<circle cx="1704.6" cy="1114.7" r="5.8"/>
<circle cx="1706.4" cy="1113.2" r="5.8"/>
<circle cx="1707.2" cy="1124.2" r="5.8"/>
<circle cx="1707.9" cy="1126.7" r="5.8"/>
<circle cx="1709.3" cy="1097" r="5.8"/>
<circle cx="1710.2" cy="1122.7" r="5.8"/>
<circle cx="1710.9" cy="1117.8" r="5.8"/>
<circle cx="1712.7" cy="1133" r="5.8"/>
<circle cx="1713.2" cy="1106.1" r="5.8"/>
<circle cx="1714" cy="1126.1" r="5.8"/>
<circle cx="1715.3" cy="1124.6" r="5.8"/>
<circle cx="1715.3" cy="1132.4" r="5.8"/>
<circle cx="1715.8" cy="1126.9" r="5.8"/>
<circle cx="1716.5" cy="1110.2" r="5.8"/>
<circle cx="1717" cy="1133" r="5.8"/>
<circle cx="1717.5" cy="1101" r="5.8"/>
<circle cx="1717.6" cy="1131.3" r="5.8"/>
<circle cx="1718.6" cy="1106.8" r="5.8"/>
<circle cx="1718.7" cy="1097" r="5.8"/>
<circle cx="1719.2" cy="1119.5" r="5.8"/>
<circle cx="1720" cy="1109" r="5.8"/>
<circle cx="1721.3" cy="1063.8" r="5.8"/>
<circle cx="1721.3" cy="1076.3" r="5.8"/>
<circle cx="1721.6" cy="1122.9" r="5.8"/>
<circle cx="1721.7" cy="1123.8" r="5.8"/>
<circle cx="1724" cy="1133.2" r="5.8"/>
<circle cx="1724.3" cy="1125.2" r="5.8"/>
<circle cx="1726.1" cy="1108.8" r="5.8"/>
<circle cx="1726.2" cy="1123.3" r="5.8"/>
<circle cx="1727.5" cy="1129.5" r="5.8"/>
<circle cx="1727.8" cy="1131.9" r="5.8"/>
<circle cx="1728.4" cy="1118.4" r="5.8"/>
<circle cx="1728.8" cy="1123.3" r="5.8"/>
<circle cx="1730.4" cy="1125.2" r="5.8"/>
<circle cx="1730.8" cy="1132.3" r="5.8"/>
<circle cx="1730.9" cy="1115.1" r="5.8"/>
<circle cx="1731.5" cy="1125.9" r="5.8"/>
<circle cx="1731.7" cy="1096.7" r="5.8"/>
<circle cx="1732.1" cy="1065.6" r="5.8"/>
<circle cx="1732.1" cy="1091.1" r="5.8"/>
<circle cx="1732.1" cy="1132.1" r="5.8"/>
<circle cx="1735.3" cy="1119.6" r="5.8"/>
<circle cx="1735.5" cy="1076.3" r="5.8"/>
<circle cx="1735.7" cy="1125" r="5.8"/>
<circle cx="1735.7" cy="1124.3" r="5.8"/>
<circle cx="1735.8" cy="1119.4" r="5.8"/>
<circle cx="1736.3" cy="1129.4" r="5.8"/>
<circle cx="1738.3" cy="1133" r="5.8"/>
<circle cx="1738.5" cy="1132.2" r="5.8"/>
<circle cx="1738.7" cy="1105.1" r="5.8"/>
<circle cx="1739" cy="1132.5" r="5.8"/>
<circle cx="1739.4" cy="1122.5" r="5.8"/>
<circle cx="1739.7" cy="1110.8" r="5.8"/>
<circle cx="1739.7" cy="1129.6" r="5.8"/>
<circle cx="1740.7" cy="1117.8" r="5.8"/>
<circle cx="1740.8" cy="1098.8" r="5.8"/>
<circle cx="1741.4" cy="1113.9" r="5.8"/>
<circle cx="1742.1" cy="1128.9" r="5.8"/>
<circle cx="1742.6" cy="1122.1" r="5.8"/>
<circle cx="1742.8" cy="1125.2" r="5.8"/>
<circle cx="1742.8" cy="1095.1" r="5.8"/>
<circle cx="1744.5" cy="1115.8" r="5.8"/>
<circle cx="1745" cy="1126.5" r="5.8"/>
<circle cx="1745.2" cy="1121.4" r="5.8"/>
<circle cx="1746" cy="1102.7" r="5.8"/>
<circle cx="1746.4" cy="1100.1" r="5.8"/>
<circle cx="1746.6" cy="1107.5" r="5.8"/>
<circle cx="1746.7" cy="1130.2" r="5.8"/>
<circle cx="1746.8" cy="1120.3" r="5.8"/>
<circle cx="1746.9" cy="1115.4" r="5.8"/>
<circle cx="1748.6" cy="1122" r="5.8"/>
<circle cx="1748.9" cy="1123.8" r="5.8"/>
<circle cx="1749.4" cy="1131.9" r="5.8"/>
<circle cx="1749.6" cy="1129.3" r="5.8"/>
<circle cx="1750.7" cy="1128.1" r="5.8"/>
<circle cx="1751" cy="1125.2" r="5.8"/>
<circle cx="1751.5" cy="1131.9" r="5.8"/>
<circle cx="1752.2" cy="1130.4" r="5.8"/>
<circle cx="1752.3" cy="1130.4" r="5.8"/>
<circle cx="1752.7" cy="1110.3" r="5.8"/>
<circle cx="1753.5" cy="1132.8" r="5.8"/>
<circle cx="1753.5" cy="1130.7" r="5.8"/>
<circle cx="1754.2" cy="1126.5" r="5.8"/>
<circle cx="1754.5" cy="1124" r="5.8"/>
<circle cx="1755.9" cy="1105.1" r="5.8"/>
<circle cx="1756.3" cy="1124.3" r="5.8"/>
<circle cx="1756.4" cy="1118" r="5.8"/>
<circle cx="1756.7" cy="1108.6" r="5.8"/>
<circle cx="1757" cy="1092.6" r="5.8"/>
<circle cx="1758.4" cy="1132.6" r="5.8"/>
<circle cx="1758.6" cy="1126.8" r="5.8"/>
<circle cx="1759.7" cy="1131" r="5.8"/>
<circle cx="1759.7" cy="1119.4" r="5.8"/>
<circle cx="1759.9" cy="1132.4" r="5.8"/>
<circle cx="1760.2" cy="1085.7" r="5.8"/>
<circle cx="1761" cy="1100.6" r="5.8"/>
<circle cx="1761.3" cy="1122.6" r="5.8"/>
<circle cx="1761.3" cy="1120.3" r="5.8"/>
<circle cx="1761.3" cy="1116.1" r="5.8"/>
<circle cx="1762.9" cy="1102.5" r="5.8"/>
<circle cx="1763.1" cy="1114.9" r="5.8"/>
<circle cx="1763.7" cy="1121.1" r="5.8"/>
<circle cx="1764.2" cy="1088.4" r="5.8"/>
<circle cx="1764.6" cy="1118.1" r="5.8"/>
<circle cx="1765.1" cy="1127.6" r="5.8"/>
<circle cx="1766.7" cy="1130.3" r="5.8"/>
<circle cx="1767.2" cy="1121.2" r="5.8"/>
<circle cx="1768.2" cy="1120.3" r="5.8"/>
<circle cx="1769" cy="1127" r="5.8"/>
<circle cx="1770.2" cy="1110.2" r="5.8"/>
<circle cx="1770.3" cy="1130.3" r="5.8"/>
<circle cx="1771.2" cy="1129.3" r="5.8"/>
<circle cx="1771.4" cy="1125.8" r="5.8"/>
<circle cx="1771.5" cy="1126.9" r="5.8"/>
<circle cx="1771.8" cy="1130.5" r="5.8"/>
<circle cx="1772.1" cy="1132.4" r="5.8"/>
<circle cx="1772.2" cy="1122.6" r="5.8"/>
<circle cx="1772.3" cy="1122" r="5.8"/>
<circle cx="1772.5" cy="1109.1" r="5.8"/>
<circle cx="1773.6" cy="1133.1" r="5.8"/>
<circle cx="1773.7" cy="1129.6" r="5.8"/>
<circle cx="1774.4" cy="1122" r="5.8"/>
<circle cx="1775.1" cy="1091.5" r="5.8"/>
<circle cx="1775.1" cy="1127.4" r="5.8"/>
<circle cx="1775.3" cy="1121.7" r="5.8"/>
<circle cx="1776.4" cy="1125.2" r="5.8"/>
<circle cx="1776.5" cy="1130.9" r="5.8"/>
<circle cx="1776.7" cy="1131.9" r="5.8"/>
<circle cx="1776.9" cy="1131.9" r="5.8"/>
<circle cx="1777.1" cy="1133.2" r="5.8"/>
<circle cx="1777.2" cy="1121.1" r="5.8"/>
<circle cx="1777.4" cy="1115.1" r="5.8"/>
<circle cx="1777.5" cy="1120.6" r="5.8"/>
<circle cx="1777.6" cy="1121.6" r="5.8"/>
<circle cx="1778.5" cy="1130.6" r="5.8"/>
<circle cx="1779.2" cy="1119.1" r="5.8"/>
<circle cx="1779.6" cy="1097" r="5.8"/>
<circle cx="1779.7" cy="1132.3" r="5.8"/>
<circle cx="1780.2" cy="1132.7" r="5.8"/>
<circle cx="1781" cy="1133.1" r="5.8"/>
<circle cx="1781.8" cy="1122.3" r="5.8"/>
<circle cx="1782.9" cy="1123.8" r="5.8"/>
<circle cx="1784.2" cy="1132" r="5.8"/>
<circle cx="1786.2" cy="1127.1" r="5.8"/>
<circle cx="1786.9" cy="1129.2" r="5.8"/>
<circle cx="1786.9" cy="1125.5" r="5.8"/>
<circle cx="1787.3" cy="1123.8" r="5.8"/>
<circle cx="1788.3" cy="1132.6" r="5.8"/>
<circle cx="1789.3" cy="1128.3" r="5.8"/>
<circle cx="1790.2" cy="1106.1" r="5.8"/>
<circle cx="1790.3" cy="1123.1" r="5.8"/>
<circle cx="1790.7" cy="1126.1" r="5.8"/>
<circle cx="1791.3" cy="1110.2" r="5.8"/>
<circle cx="1791.6" cy="1124" r="5.8"/>
<circle cx="1791.7" cy="1094.2" r="5.8"/>
<circle cx="1791.9" cy="1132.4" r="5.8"/>
<circle cx="1792.2" cy="1116.2" r="5.8"/>
<circle cx="1792.3" cy="1126.9" r="5.8"/>
<circle cx="1792.3" cy="1127.5" r="5.8"/>
<circle cx="1792.5" cy="1115.4" r="5.8"/>
<circle cx="1793.1" cy="1028.7" r="5.8"/>
<circle cx="1793.2" cy="1128.6" r="5.8"/>
<circle cx="1793.4" cy="1130.1" r="5.8"/>
<circle cx="1793.5" cy="1119.6" r="5.8"/>
<circle cx="1794.8" cy="1130.7" r="5.8"/>
<circle cx="1794.8" cy="1128.9" r="5.8"/>
<circle cx="1795.2" cy="1127" r="5.8"/>
<circle cx="1795.6" cy="1111.2" r="5.8"/>
<circle cx="1795.9" cy="1108" r="5.8"/>
<circle cx="1796.6" cy="1123.6" r="5.8"/>
<circle cx="1796.6" cy="1130.8" r="5.8"/>
<circle cx="1797.7" cy="1124.6" r="5.8"/>
<circle cx="1797.8" cy="1131.6" r="5.8"/>
<circle cx="1797.8" cy="1110.7" r="5.8"/>
<circle cx="1797.9" cy="1126.2" r="5.8"/>
<circle cx="1798.3" cy="1126.7" r="5.8"/>
<circle cx="1798.6" cy="1102.7" r="5.8"/>
<circle cx="1798.6" cy="1127.3" r="5.8"/>
<circle cx="1799" cy="1103.4" r="5.8"/>
<circle cx="1799.6" cy="1132.5" r="5.8"/>
<circle cx="1800.3" cy="1120.1" r="5.8"/>
<circle cx="1800.7" cy="1126.9" r="5.8"/>
<circle cx="1800.7" cy="1123.1" r="5.8"/>
<circle cx="1800.9" cy="1123.7" r="5.8"/>
<circle cx="1801.7" cy="1100.5" r="5.8"/>
<circle cx="1802" cy="1118.4" r="5.8"/>
<circle cx="1802.1" cy="1122.5" r="5.8"/>
<circle cx="1802.4" cy="1114.3" r="5.8"/>
<circle cx="1802.5" cy="1113.8" r="5.8"/>
<circle cx="1802.5" cy="1131.7" r="5.8"/>
<circle cx="1802.8" cy="1094.3" r="5.8"/>
<circle cx="1802.9" cy="1127.6" r="5.8"/>
<circle cx="1802.9" cy="1125.9" r="5.8"/>
<circle cx="1803.5" cy="1116.3" r="5.8"/>
<circle cx="1803.6" cy="1124.9" r="5.8"/>
<circle cx="1804" cy="1132.5" r="5.8"/>
<circle cx="1804.1" cy="1098.7" r="5.8"/>
<circle cx="1804.2" cy="1110.1" r="5.8"/>
<circle cx="1804.4" cy="1099.5" r="5.8"/>
<circle cx="1804.5" cy="1112.1" r="5.8"/>
<circle cx="1804.6" cy="1132.5" r="5.8"/>
<circle cx="1805.3" cy="1121.7" r="5.8"/>
<circle cx="1807.3" cy="1123.7" r="5.8"/>
<circle cx="1808.4" cy="1129.7" r="5.8"/>
<circle cx="1808.9" cy="1131.6" r="5.8"/>
<circle cx="1809.7" cy="1114.9" r="5.8"/>
<circle cx="1810.2" cy="1123.2" r="5.8"/>
<circle cx="1810.4" cy="1127.9" r="5.8"/>
<circle cx="1811.4" cy="1130.9" r="5.8"/>
<circle cx="1812.6" cy="1110.8" r="5.8"/>
<circle cx="1812.8" cy="1127.8" r="5.8"/>
<circle cx="1813.1" cy="1132.6" r="5.8"/>
<circle cx="1813.5" cy="1124.7" r="5.8"/>
<circle cx="1813.9" cy="1128.9" r="5.8"/>
<circle cx="1814.6" cy="1132.2" r="5.8"/>
<circle cx="1814.6" cy="1127.6" r="5.8"/>
<circle cx="1816.1" cy="1122.5" r="5.8"/>
<circle cx="1817" cy="1127.2" r="5.8"/>
<circle cx="1817" cy="1126.7" r="5.8"/>
<circle cx="1817.5" cy="1132.2" r="5.8"/>
<circle cx="1817.9" cy="1121.7" r="5.8"/>
<circle cx="1818.2" cy="1123.1" r="5.8"/>
<circle cx="1818.7" cy="1128.7" r="5.8"/>
<circle cx="1819" cy="1121" r="5.8"/>
<circle cx="1819" cy="1128.2" r="5.8"/>
<circle cx="1819" cy="1104.9" r="5.8"/>
<circle cx="1819.1" cy="1131.5" r="5.8"/>
<circle cx="1819.2" cy="1112.1" r="5.8"/>
<circle cx="1819.6" cy="1126.4" r="5.8"/>
<circle cx="1821.9" cy="1114.7" r="5.8"/>
<circle cx="1822.4" cy="1097.1" r="5.8"/>
<circle cx="1823.1" cy="1089.7" r="5.8"/>
<circle cx="1823.4" cy="1115.4" r="5.8"/>
<circle cx="1823.7" cy="1093.5" r="5.8"/>
<circle cx="1824.7" cy="1132.1" r="5.8"/>
<circle cx="1825.1" cy="1131.1" r="5.8"/>
<circle cx="1826.1" cy="1126" r="5.8"/>
<circle cx="1826.9" cy="1124.9" r="5.8"/>
<circle cx="1827.3" cy="1133.2" r="5.8"/>
<circle cx="1828.6" cy="1095.7" r="5.8"/>
<circle cx="1829.6" cy="1105.2" r="5.8"/>
<circle cx="1829.8" cy="1093.8" r="5.8"/>
<circle cx="1830.9" cy="1103.7" r="5.8"/>
<circle cx="1830.9" cy="1106" r="5.8"/>
<circle cx="1831.1" cy="1119.5" r="5.8"/>
<circle cx="1831.1" cy="1126" r="5.8"/>
<circle cx="1831.2" cy="1129.8" r="5.8"/>
<circle cx="1831.4" cy="1114" r="5.8"/>
<circle cx="1832.1" cy="1110.4" r="5.8"/>
<circle cx="1832.1" cy="1127.1" r="5.8"/>
<circle cx="1832.3" cy="1112.2" r="5.8"/>
<circle cx="1835.5" cy="1102" r="5.8"/>
<circle cx="1836" cy="1104.8" r="5.8"/>
<circle cx="1836.4" cy="1126.3" r="5.8"/>
<circle cx="1836.5" cy="1133" r="5.8"/>
<circle cx="1836.8" cy="1124.5" r="5.8"/>
<circle cx="1837.3" cy="1132.4" r="5.8"/>
<circle cx="1837.4" cy="1105.9" r="5.8"/>
<circle cx="1837.5" cy="1123" r="5.8"/>
<circle cx="1837.7" cy="1100.5" r="5.8"/>
<circle cx="1837.7" cy="1106" r="5.8"/>
<circle cx="1837.9" cy="1116.3" r="5.8"/>
<circle cx="1839.1" cy="1110.7" r="5.8"/>
<circle cx="1839.2" cy="1101.5" r="5.8"/>
<circle cx="1839.5" cy="1127.5" r="5.8"/>
<circle cx="1840" cy="1124.8" r="5.8"/>
<circle cx="1840.4" cy="1130" r="5.8"/>
<circle cx="1841.4" cy="1128.4" r="5.8"/>
<circle cx="1842.5" cy="1125.9" r="5.8"/>
<circle cx="1842.5" cy="1125.1" r="5.8"/>
<circle cx="1843.2" cy="1097" r="5.8"/>
<circle cx="1843.3" cy="1125.5" r="5.8"/>
<circle cx="1845.3" cy="1128.6" r="5.8"/>
<circle cx="1845.6" cy="1129.8" r="5.8"/>
<circle cx="1846.2" cy="1119.4" r="5.8"/>
<circle cx="1846.2" cy="1106.8" r="5.8"/>
<circle cx="1846.4" cy="1126.7" r="5.8"/>
<circle cx="1847.4" cy="1113.8" r="5.8"/>
<circle cx="1847.4" cy="1132.4" r="5.8"/>
<circle cx="1848.2" cy="1125.4" r="5.8"/>
<circle cx="1848.8" cy="1116.3" r="5.8"/>
<circle cx="1848.8" cy="1100.1" r="5.8"/>
<circle cx="1848.9" cy="1132.6" r="5.8"/>
<circle cx="1849" cy="1109.4" r="5.8"/>
<circle cx="1849.8" cy="1114" r="5.8"/>
<circle cx="1850.1" cy="1126.5" r="5.8"/>
<circle cx="1850.8" cy="1099.8" r="5.8"/>
<circle cx="1852.2" cy="1132" r="5.8"/>
<circle cx="1852.2" cy="1122.3" r="5.8"/>
<circle cx="1852.4" cy="1106.1" r="5.8"/>
<circle cx="1852.9" cy="1098.2" r="5.8"/>
<circle cx="1853" cy="1121.4" r="5.8"/>
<circle cx="1853" cy="1131.8" r="5.8"/>
<circle cx="1853.1" cy="1112.7" r="5.8"/>
<circle cx="1853.7" cy="1131.3" r="5.8"/>
<circle cx="1853.8" cy="1114.5" r="5.8"/>
<circle cx="1855.4" cy="1132.2" r="5.8"/>
<circle cx="1855.8" cy="1124.5" r="5.8"/>
<circle cx="1856" cy="1108.7" r="5.8"/>
<circle cx="1856.4" cy="1129.5" r="5.8"/>
<circle cx="1857.5" cy="1106.8" r="5.8"/>
<circle cx="1857.6" cy="1108.7" r="5.8"/>
<circle cx="1858" cy="1067" r="5.8"/>
<circle cx="1858" cy="1131.4" r="5.8"/>
<circle cx="1858.2" cy="1116.5" r="5.8"/>
<circle cx="1858.2" cy="1096.2" r="5.8"/>
<circle cx="1859.3" cy="1122.2" r="5.8"/>
<circle cx="1859.4" cy="1132.3" r="5.8"/>
<circle cx="1859.4" cy="1124.3" r="5.8"/>
<circle cx="1859.6" cy="1119.6" r="5.8"/>
<circle cx="1860.6" cy="1114.6" r="5.8"/>
<circle cx="1861.4" cy="1120" r="5.8"/>
<circle cx="1863.5" cy="1129.3" r="5.8"/>
<circle cx="1864.7" cy="1129.1" r="5.8"/>
<circle cx="1864.8" cy="1118.5" r="5.8"/>
<circle cx="1864.8" cy="1132.9" r="5.8"/>
<circle cx="1865.3" cy="1122.4" r="5.8"/>
<circle cx="1866.3" cy="1130.7" r="5.8"/>
<circle cx="1866.9" cy="1098.5" r="5.8"/>
<circle cx="1866.9" cy="1133.1" r="5.8"/>
<circle cx="1867" cy="1107.3" r="5.8"/>
<circle cx="1867.9" cy="1121.5" r="5.8"/>
<circle cx="1867.9" cy="1131" r="5.8"/>
<circle cx="1868.2" cy="1112.9" r="5.8"/>
<circle cx="1869.3" cy="1132.9" r="5.8"/>
<circle cx="1869.7" cy="1107.4" r="5.8"/>
<circle cx="1869.8" cy="1132" r="5.8"/>
<circle cx="1870.2" cy="1126.1" r="5.8"/>
<circle cx="1870.5" cy="1129.9" r="5.8"/>
<circle cx="1870.7" cy="1106.4" r="5.8"/>
<circle cx="1871" cy="1127.1" r="5.8"/>
<circle cx="1871.4" cy="1128.5" r="5.8"/>
<circle cx="1871.9" cy="1131.7" r="5.8"/>
<circle cx="1872.2" cy="1097.6" r="5.8"/>
<circle cx="1872.4" cy="1132.4" r="5.8"/>
<circle cx="1873.2" cy="1081.2" r="5.8"/>
<circle cx="1873.3" cy="1122.2" r="5.8"/>
<circle cx="1874" cy="1112.5" r="5.8"/>
<circle cx="1874.2" cy="1130.3" r="5.8"/>
<circle cx="1874.3" cy="1126.4" r="5.8"/>
<circle cx="1874.5" cy="1125.9" r="5.8"/>
<circle cx="1874.6" cy="1126.4" r="5.8"/>
<circle cx="1875" cy="1123.7" r="5.8"/>
<circle cx="1875.3" cy="1132.9" r="5.8"/>
<circle cx="1875.7" cy="1132.1" r="5.8"/>
<circle cx="1876.7" cy="1100" r="5.8"/>
<circle cx="1877.1" cy="1122.8" r="5.8"/>
<circle cx="1877.4" cy="1108.5" r="5.8"/>
<circle cx="1877.9" cy="1132.6" r="5.8"/>
<circle cx="1878.1" cy="1130.9" r="5.8"/>
<circle cx="1879.5" cy="1119.4" r="5.8"/>
<circle cx="1879.9" cy="1124.8" r="5.8"/>
<circle cx="1881.3" cy="1128.8" r="5.8"/>
<circle cx="1881.5" cy="1131" r="5.8"/>
<circle cx="1881.6" cy="1118.1" r="5.8"/>
<circle cx="1881.9" cy="1114.3" r="5.8"/>
<circle cx="1882.1" cy="1130.2" r="5.8"/>
<circle cx="1882.2" cy="1126.3" r="5.8"/>
<circle cx="1882.5" cy="1114.5" r="5.8"/>
<circle cx="1882.7" cy="1129.3" r="5.8"/>
<circle cx="1882.8" cy="1109.4" r="5.8"/>
<circle cx="1883.3" cy="1109.4" r="5.8"/>
<circle cx="1885.4" cy="1125.6" r="5.8"/>
<circle cx="1885.5" cy="1132.7" r="5.8"/>
<circle cx="1885.8" cy="1127.7" r="5.8"/>
<circle cx="1885.9" cy="1123.1" r="5.8"/>
<circle cx="1888.3" cy="1103.2" r="5.8"/>
<circle cx="1888.9" cy="1109" r="5.8"/>
<circle cx="1889.4" cy="1126.9" r="5.8"/>
<circle cx="1890.6" cy="1133.2" r="5.8"/>
<circle cx="1891.1" cy="1125.3" r="5.8"/>
<circle cx="1892" cy="1131.2" r="5.8"/>
<circle cx="1892.9" cy="1110" r="5.8"/>
<circle cx="1893.7" cy="1128.5" r="5.8"/>
<circle cx="1894" cy="1125.4" r="5.8"/>
<circle cx="1894.1" cy="1093.8" r="5.8"/>
<circle cx="1894.2" cy="1116.6" r="5.8"/>
<circle cx="1895" cy="1116.3" r="5.8"/>
<circle cx="1895" cy="1118.9" r="5.8"/>
<circle cx="1895.5" cy="1115.5" r="5.8"/>
<circle cx="1895.9" cy="1123.6" r="5.8"/>
<circle cx="1896" cy="1128.4" r="5.8"/>
<circle cx="1896.3" cy="1120.3" r="5.8"/>
<circle cx="1896.4" cy="1126.4" r="5.8"/>
<circle cx="1897.2" cy="1096.9" r="5.8"/>
<circle cx="1897.8" cy="1118.5" r="5.8"/>
<circle cx="1898" cy="1126.4" r="5.8"/>
<circle cx="1898.6" cy="1123.7" r="5.8"/>
<circle cx="1898.6" cy="1132.9" r="5.8"/>
<circle cx="1898.8" cy="1123.2" r="5.8"/>
<circle cx="1900.8" cy="1130.1" r="5.8"/>
<circle cx="1901.2" cy="1122" r="5.8"/>
<circle cx="1901.8" cy="1132.8" r="5.8"/>
<circle cx="1904.3" cy="1103" r="5.8"/>
<circle cx="1905.1" cy="1131.4" r="5.8"/>
<circle cx="1907.5" cy="1092.4" r="5.8"/>
<circle cx="1908.2" cy="1123.7" r="5.8"/>
<circle cx="1908.6" cy="1128" r="5.8"/>
<circle cx="1909.7" cy="1102.1" r="5.8"/>
<circle cx="1911.2" cy="1126.6" r="5.8"/>
<circle cx="1912.8" cy="1130.3" r="5.8"/>
<circle cx="1912.9" cy="1049.6" r="5.8"/>
<circle cx="1912.9" cy="1065.6" r="5.8"/>
<circle cx="1913.2" cy="1103.2" r="5.8"/>
<circle cx="1913.3" cy="1128.4" r="5.8"/>
<circle cx="1914.2" cy="1071" r="5.8"/>
<circle cx="1914.5" cy="1130.4" r="5.8"/>
<circle cx="1915.4" cy="1104.2" r="5.8"/>
<circle cx="1915.9" cy="1111.4" r="5.8"/>
<circle cx="1916.2" cy="1128.8" r="5.8"/>
<circle cx="1917.4" cy="1130.6" r="5.8"/>
<circle cx="1918.1" cy="1124.2" r="5.8"/>
<circle cx="1919" cy="1132" r="5.8"/>
<circle cx="1920.4" cy="1120.4" r="5.8"/>
<circle cx="1920.7" cy="1125.2" r="5.8"/>
<circle cx="1920.9" cy="1101.6" r="5.8"/>
<circle cx="1921.7" cy="1123.5" r="5.8"/>
<circle cx="1922.6" cy="1100.1" r="5.8"/>
<circle cx="1923.6" cy="1080.4" r="5.8"/>
<circle cx="1923.9" cy="1104.2" r="5.8"/>
<circle cx="1925.5" cy="1125.8" r="5.8"/>
<circle cx="1925.8" cy="1129.7" r="5.8"/>
<circle cx="1926.1" cy="1132.3" r="5.8"/>
<circle cx="1926.6" cy="1113.8" r="5.8"/>
<circle cx="1926.6" cy="1114.6" r="5.8"/>
<circle cx="1926.9" cy="1132" r="5.8"/>
<circle cx="1927.1" cy="1110.2" r="5.8"/>
<circle cx="1927.7" cy="1124.5" r="5.8"/>
<circle cx="1928.3" cy="1121.8" r="5.8"/>
<circle cx="1928.6" cy="1131.2" r="5.8"/>
<circle cx="1929" cy="1130.5" r="5.8"/>
<circle cx="1929.5" cy="1129.5" r="5.8"/>
<circle cx="1930.3" cy="1085.2" r="5.8"/>
<circle cx="1930.3" cy="1123.8" r="5.8"/>
<circle cx="1930.4" cy="1114.5" r="5.8"/>
<circle cx="1930.9" cy="1128.7" r="5.8"/>
<circle cx="1931.1" cy="1095.5" r="5.8"/>
<circle cx="1931.4" cy="1120.5" r="5.8"/>
<circle cx="1932.3" cy="1124.3" r="5.8"/>
<circle cx="1932.7" cy="1112.3" r="5.8"/>
<circle cx="1933.6" cy="1122.7" r="5.8"/>
<circle cx="1934" cy="1127.8" r="5.8"/>
<circle cx="1934.2" cy="1114.6" r="5.8"/>
<circle cx="1934.4" cy="1107.9" r="5.8"/>
<circle cx="1934.9" cy="1125.8" r="5.8"/>
<circle cx="1935.4" cy="1104.1" r="5.8"/>
<circle cx="1936.4" cy="1113.8" r="5.8"/>
<circle cx="1937" cy="1119.4" r="5.8"/>
<circle cx="1937.2" cy="1124.4" r="5.8"/>
<circle cx="1937.3" cy="1133" r="5.8"/>
<circle cx="1937.3" cy="1102.7" r="5.8"/>
<circle cx="1937.5" cy="1125.1" r="5.8"/>
<circle cx="1937.8" cy="1129.4" r="5.8"/>
<circle cx="1938.1" cy="1115.9" r="5.8"/>
<circle cx="1938.6" cy="1127.1" r="5.8"/>
<circle cx="1939.2" cy="1124.8" r="5.8"/>
<circle cx="1939.6" cy="1126.9" r="5.8"/>
<circle cx="1939.6" cy="1105.9" r="5.8"/>
<circle cx="1940.6" cy="1125.8" r="5.8"/>
<circle cx="1941.7" cy="1128.2" r="5.8"/>
<circle cx="1941.8" cy="1128.4" r="5.8"/>
<circle cx="1942.9" cy="1112.9" r="5.8"/>
<circle cx="1942.9" cy="1121.4" r="5.8"/>
<circle cx="1947" cy="1122.1" r="5.8"/>
<circle cx="1947.9" cy="1124.6" r="5.8"/>
<circle cx="1949.3" cy="1120.8" r="5.8"/>
<circle cx="1950.1" cy="1122.2" r="5.8"/>
<circle cx="1950.2" cy="1124.5" r="5.8"/>
<circle cx="1950.5" cy="1131.1" r="5.8"/>
<circle cx="1950.5" cy="1123.9" r="5.8"/>
<circle cx="1951" cy="1105.7" r="5.8"/>
<circle cx="1951.1" cy="1123.2" r="5.8"/>
<circle cx="1951.4" cy="1112.6" r="5.8"/>
<circle cx="1951.5" cy="1126.3" r="5.8"/>
<circle cx="1951.8" cy="1116.1" r="5.8"/>
<circle cx="1952.7" cy="1128.8" r="5.8"/>
<circle cx="1952.7" cy="1116.1" r="5.8"/>
<circle cx="1952.9" cy="1127.8" r="5.8"/>
<circle cx="1953.7" cy="1131.6" r="5.8"/>
<circle cx="1953.9" cy="1121.9" r="5.8"/>
<circle cx="1954.2" cy="1118.6" r="5.8"/>
<circle cx="1955.1" cy="1124.6" r="5.8"/>
<circle cx="1955.6" cy="1130.8" r="5.8"/>
<circle cx="1957.7" cy="1123" r="5.8"/>
<circle cx="1958.1" cy="1123.5" r="5.8"/>
<circle cx="1958.3" cy="1131.6" r="5.8"/>
<circle cx="1959" cy="1114.9" r="5.8"/>
<circle cx="1960.3" cy="1121.9" r="5.8"/>
<circle cx="1961" cy="1109.5" r="5.8"/>
<circle cx="1961.4" cy="1130.2" r="5.8"/>
<circle cx="1961.8" cy="1102.6" r="5.8"/>
<circle cx="1962.8" cy="1114.2" r="5.8"/>
<circle cx="1963.3" cy="1133.2" r="5.8"/>
<circle cx="1964" cy="1131" r="5.8"/>
<circle cx="1964.6" cy="1125.2" r="5.8"/>
<circle cx="1965.3" cy="1128.9" r="5.8"/>
<circle cx="1966.1" cy="1128.9" r="5.8"/>
<circle cx="1966.7" cy="1115.3" r="5.8"/>
<circle cx="1966.8" cy="1123.3" r="5.8"/>
<circle cx="1966.8" cy="1112" r="5.8"/>
<circle cx="1967.8" cy="1093.2" r="5.8"/>
<circle cx="1967.8" cy="1103.1" r="5.8"/>
<circle cx="1967.8" cy="1123.5" r="5.8"/>
<circle cx="1969.2" cy="1120.3" r="5.8"/>
<circle cx="1969.5" cy="1129.3" r="5.8"/>
<circle cx="1969.8" cy="1121.7" r="5.8"/>
<circle cx="1970.5" cy="1103" r="5.8"/>
<circle cx="1971.6" cy="1132.7" r="5.8"/>
<circle cx="1971.6" cy="1093.8" r="5.8"/>
<circle cx="1971.6" cy="1100.7" r="5.8"/>
<circle cx="1971.8" cy="1119.5" r="5.8"/>
<circle cx="1972" cy="1102.1" r="5.8"/>
<circle cx="1974.3" cy="1108.4" r="5.8"/>
<circle cx="1974.7" cy="1120.3" r="5.8"/>
<circle cx="1986.5" cy="1121.5" r="5.8"/>
<circle cx="1987.4" cy="1133" r="5.8"/>
<circle cx="1990" cy="1111.2" r="5.8"/>
<circle cx="1990.6" cy="1102.2" r="5.8"/>
<circle cx="1990.8" cy="1131.4" r="5.8"/>
<circle cx="1991.1" cy="1132.3" r="5.8"/>
<circle cx="1992.2" cy="1128.8" r="5.8"/>
<circle cx="1992.6" cy="1110.2" r="5.8"/>
<circle cx="1995" cy="1101.2" r="5.8"/>
<circle cx="1997.8" cy="1126.9" r="5.8"/>
<circle cx="1998.6" cy="1099.1" r="5.8"/>
<circle cx="1998.6" cy="1101.8" r="5.8"/>
<circle cx="2000.6" cy="1128.4" r="5.8"/>
<circle cx="2001.5" cy="1104" r="5.8"/>
<circle cx="2001.5" cy="1105.2" r="5.8"/>
<circle cx="2002.9" cy="1130" r="5.8"/>
<circle cx="2003.6" cy="1116.6" r="5.8"/>
<circle cx="2004.5" cy="1068.3" r="5.8"/>
<circle cx="2005.1" cy="1114.2" r="5.8"/>
<circle cx="2006.5" cy="1128.5" r="5.8"/>
<circle cx="2007.4" cy="1121.6" r="5.8"/>
<circle cx="2008.3" cy="1124.2" r="5.8"/>
<circle cx="2012.5" cy="1089.2" r="5.8"/>
<circle cx="2018.9" cy="1123.1" r="5.8"/>
<circle cx="2020.9" cy="1132.9" r="5.8"/>
<circle cx="2022" cy="1129.5" r="5.8"/>
<circle cx="2022.8" cy="1121.7" r="5.8"/>
<circle cx="2026.6" cy="1102.9" r="5.8"/>
<circle cx="2028.4" cy="1118.7" r="5.8"/>
<circle cx="2029.4" cy="1105.8" r="5.8"/>
<circle cx="2030.5" cy="1115.3" r="5.8"/>
<circle cx="2030.7" cy="1115.2" r="5.8"/>
<circle cx="2030.7" cy="1130.5" r="5.8"/>
<circle cx="2030.7" cy="1113" r="5.8"/>
<circle cx="2033.9" cy="1131.4" r="5.8"/>
<circle cx="2110.1" cy="1131.5" r="5.8"/>
<circle cx="2114.7" cy="1124.8" r="5.8"/>
<circle cx="2115.9" cy="1121.5" r="5.8"/>
<circle cx="2116.5" cy="1124.6" r="5.8"/>
<circle cx="2116.9" cy="1117.5" r="5.8"/>
<circle cx="2120.5" cy="1104.5" r="5.8"/>
<circle cx="2121.3" cy="1063.8" r="5.8"/>
</g>
<g fill="#4dac26" fill-opacity="0.6">
<circle cx="1649.6" cy="861.2" r="5.8"/>
<circle cx="1645.5" cy="1127.2" r="5.8"/>
</g>
<g fill="#ab47bc" fill-opacity="0.6">
<circle cx="1645.5" cy="1115.2" r="5.8"/>
</g>
</g>
<rect x="1174" y="740.8" width="949.5" height="392.4" fill="none" stroke="#1a1a1a" stroke-width="1.7"/>
<line x1="1169.5" y1="1133.2" x2="1174" y2="1133.2" stroke="#1a1a1a" stroke-width="1.5"/>
<line x1="1169.5" y1="1054.7" x2="1174" y2="1054.7" stroke="#1a1a1a" stroke-width="1.5"/>
<line x1="1169.5" y1="976.2" x2="1174" y2="976.2" stroke="#1a1a1a" stroke-width="1.5"/>
<line x1="1169.5" y1="897.8" x2="1174" y2="897.8" stroke="#1a1a1a" stroke-width="1.5"/>
<line x1="1169.5" y1="819.3" x2="1174" y2="819.3" stroke="#1a1a1a" stroke-width="1.5"/>
<line x1="1169.5" y1="740.8" x2="1174" y2="740.8" stroke="#1a1a1a" stroke-width="1.5"/>
<line x1="1288.8" y1="1133.2" x2="1288.8" y2="1137.7" stroke="#1a1a1a" stroke-width="1.5"/>
<line x1="1524.5" y1="1133.2" x2="1524.5" y2="1137.7" stroke="#1a1a1a" stroke-width="1.5"/>
<line x1="1761.9" y1="1133.2" x2="1761.9" y2="1137.7" stroke="#1a1a1a" stroke-width="1.5"/>
<line x1="1998.2" y1="1133.2" x2="1998.2" y2="1137.7" stroke="#1a1a1a" stroke-width="1.5"/>
<g font-family="DejaVu Sans Condensed, DejaVu Sans, sans-serif" font-weight="bold" font-stretch="condensed" font-size="17.3" fill="#000"><text transform="translate(1166.5,1138.6) scale(1,1.1)" text-anchor="end">0</text><text transform="translate(1166.5,1060.1) scale(1,1.1)" text-anchor="end">2</text><text transform="translate(1166.5,981.6) scale(1,1.1)" text-anchor="end">4</text><text transform="translate(1166.5,903.2) scale(1,1.1)" text-anchor="end">6</text><text transform="translate(1166.5,824.7) scale(1,1.1)" text-anchor="end">8</text><text transform="translate(1166.5,746.2) scale(1,1.1)" text-anchor="end">10</text><text transform="translate(1288.8,1153.2) scale(1,1.1)" text-anchor="middle">8000000</text><text transform="translate(1524.5,1153.2) scale(1,1.1)" text-anchor="middle">8500000</text><text transform="translate(1761.9,1153.2) scale(1,1.1)" text-anchor="middle">9000000</text><text transform="translate(1998.2,1153.2) scale(1,1.1)" text-anchor="middle">9500000</text></g>
<text font-family="DejaVu Sans, sans-serif" font-weight="bold" font-size="20.5" x="1648.8" y="1176.5" text-anchor="middle" stroke="#000" stroke-width="0.4">Chromosome Position</text>
<text font-family="DejaVu Sans, sans-serif" font-weight="bold" font-size="20.5" transform="translate(1137.0,937.0) rotate(-90)" text-anchor="middle" stroke="#000" stroke-width="0.4">-log10Pvalue</text>
<rect x="2007.0" y="753.8" width="31.5" height="11.3" fill="#fdb672"/>
<text font-family="DejaVu Sans Condensed, DejaVu Sans, sans-serif" font-weight="bold" font-stretch="condensed" font-size="14.9" transform="translate(2051.0,765.6) scale(1,1.1)">flanking</text>
<rect x="2007.0" y="776.4" width="31.5" height="11.3" fill="#4fb320"/>
<text font-family="DejaVu Sans Condensed, DejaVu Sans, sans-serif" font-weight="bold" font-stretch="condensed" font-size="14.9" transform="translate(2051.0,788.2) scale(1,1.1)">intron</text>
<rect x="2007.0" y="799.0" width="31.5" height="11.3" fill="#a947bb"/>
<text font-family="DejaVu Sans Condensed, DejaVu Sans, sans-serif" font-weight="bold" font-stretch="condensed" font-size="14.9" transform="translate(2051.0,810.8) scale(1,1.1)">exon</text>
<g stroke="#fff" stroke-width="4" fill="#fff" stroke-linejoin="round"><line x1="1657.7" y1="847.4" x2="1658.1" y2="847.4"/><path d="M1650.1,847.4 L1658.1,843.4 L1658.1,851.4 Z"/></g>
<line x1="1657.7" y1="847.4" x2="1658.1" y2="847.4" stroke="#000" stroke-width="1.6"/>
<path d="M1650.1,847.4 L1658.1,843.4 L1658.1,851.4 Z" fill="#000"/>
<text font-family="DejaVu Sans, sans-serif" font-weight="bold" font-size="15.5" x="1663.7" y="842.4" text-anchor="middle" stroke="#fff" stroke-width="3" paint-order="stroke" stroke-linejoin="round">AICDA</text>
<text font-family="Liberation Sans, Arial, sans-serif" font-weight="bold" font-size="46" x="1110" y="655.3">d</text>
</g>
<g id="panel-e">
<rect x="518.1" y="1364.6" width="20.7" height="391.8" fill="rgb(128,128,128)" fill-opacity="0.32" stroke="rgb(128,128,128)" stroke-opacity="0.32" stroke-width="1.5"/>
<g clip-path="url(#clipe)" stroke="rgb(128,118,110)" stroke-opacity="0.6" stroke-width="1.65">
<g fill="#fdae61" fill-opacity="0.6">
<circle cx="54.5" cy="1753.5" r="5.8"/>
<circle cx="54.5" cy="1748.9" r="5.8"/>
<circle cx="54.9" cy="1749.1" r="5.8"/>
<circle cx="56.4" cy="1740.8" r="5.8"/>
<circle cx="56.5" cy="1751.5" r="5.8"/>
<circle cx="56.5" cy="1753.9" r="5.8"/>
<circle cx="56.7" cy="1748.4" r="5.8"/>
<circle cx="57.6" cy="1753.6" r="5.8"/>
<circle cx="58.5" cy="1745.8" r="5.8"/>
<circle cx="58.5" cy="1752.2" r="5.8"/>
<circle cx="58.8" cy="1745.2" r="5.8"/>
<circle cx="58.9" cy="1754.5" r="5.8"/>
<circle cx="59.1" cy="1750.5" r="5.8"/>
<circle cx="59.9" cy="1752.7" r="5.8"/>
<circle cx="61.3" cy="1751.4" r="5.8"/>
<circle cx="61.9" cy="1755.9" r="5.8"/>
<circle cx="62.1" cy="1738.9" r="5.8"/>
<circle cx="63.4" cy="1705.6" r="5.8"/>
<circle cx="63.6" cy="1753.3" r="5.8"/>
<circle cx="64.3" cy="1753.9" r="5.8"/>
<circle cx="64.6" cy="1750.1" r="5.8"/>
<circle cx="64.7" cy="1697.6" r="5.8"/>
<circle cx="65.8" cy="1754.5" r="5.8"/>
<circle cx="65.9" cy="1735.5" r="5.8"/>
<circle cx="66" cy="1738.7" r="5.8"/>
<circle cx="66.5" cy="1748" r="5.8"/>
<circle cx="66.9" cy="1748.7" r="5.8"/>
<circle cx="66.9" cy="1746" r="5.8"/>
<circle cx="67.4" cy="1746.6" r="5.8"/>
<circle cx="68.5" cy="1754.5" r="5.8"/>
<circle cx="69" cy="1750.2" r="5.8"/>
<circle cx="69.1" cy="1756.2" r="5.8"/>
<circle cx="69.2" cy="1747.1" r="5.8"/>
<circle cx="69.3" cy="1737.9" r="5.8"/>
<circle cx="69.9" cy="1754.3" r="5.8"/>
<circle cx="71.4" cy="1737.2" r="5.8"/>
<circle cx="71.4" cy="1732.8" r="5.8"/>
<circle cx="72.5" cy="1729.3" r="5.8"/>
<circle cx="72.6" cy="1751.6" r="5.8"/>
<circle cx="72.7" cy="1736.1" r="5.8"/>
<circle cx="74" cy="1751.9" r="5.8"/>
<circle cx="74.3" cy="1756.2" r="5.8"/>
<circle cx="74.8" cy="1738.2" r="5.8"/>
<circle cx="74.8" cy="1734.3" r="5.8"/>
<circle cx="75" cy="1743.4" r="5.8"/>
<circle cx="76" cy="1741.9" r="5.8"/>
<circle cx="76.1" cy="1748.4" r="5.8"/>
<circle cx="76.1" cy="1754.6" r="5.8"/>
<circle cx="76.5" cy="1737.1" r="5.8"/>
<circle cx="77.3" cy="1748.1" r="5.8"/>
<circle cx="77.5" cy="1754.1" r="5.8"/>
<circle cx="77.8" cy="1756.4" r="5.8"/>
<circle cx="78" cy="1751.3" r="5.8"/>
<circle cx="78.5" cy="1730.8" r="5.8"/>
<circle cx="79.2" cy="1748.3" r="5.8"/>
<circle cx="80.9" cy="1744.2" r="5.8"/>
<circle cx="81" cy="1753.7" r="5.8"/>
<circle cx="82.1" cy="1708.3" r="5.8"/>
<circle cx="82.5" cy="1756.4" r="5.8"/>
<circle cx="82.7" cy="1737.2" r="5.8"/>
<circle cx="82.7" cy="1694.1" r="5.8"/>
<circle cx="83.2" cy="1732" r="5.8"/>
<circle cx="83.4" cy="1737.6" r="5.8"/>
<circle cx="83.5" cy="1716.3" r="5.8"/>
<circle cx="85.8" cy="1744.3" r="5.8"/>
<circle cx="86.7" cy="1754.4" r="5.8"/>
<circle cx="87.4" cy="1748" r="5.8"/>
<circle cx="88" cy="1755.8" r="5.8"/>
<circle cx="88.6" cy="1755.2" r="5.8"/>
<circle cx="90.2" cy="1733.8" r="5.8"/>
<circle cx="90.7" cy="1747.2" r="5.8"/>
<circle cx="91.3" cy="1752" r="5.8"/>
<circle cx="91.4" cy="1752.5" r="5.8"/>
<circle cx="91.5" cy="1738.4" r="5.8"/>
<circle cx="92" cy="1756.1" r="5.8"/>
<circle cx="92.7" cy="1746.1" r="5.8"/>
<circle cx="93.1" cy="1736" r="5.8"/>
<circle cx="93.1" cy="1749.1" r="5.8"/>
<circle cx="93.6" cy="1753.2" r="5.8"/>
<circle cx="94.5" cy="1751.1" r="5.8"/>
<circle cx="94.6" cy="1746.3" r="5.8"/>
<circle cx="96.1" cy="1692.2" r="5.8"/>
<circle cx="97.3" cy="1752.6" r="5.8"/>
<circle cx="97.6" cy="1742.8" r="5.8"/>
<circle cx="97.7" cy="1740.4" r="5.8"/>
<circle cx="98.4" cy="1755.8" r="5.8"/>
<circle cx="99.2" cy="1753.4" r="5.8"/>
<circle cx="99.5" cy="1737.6" r="5.8"/>
<circle cx="99.7" cy="1746.5" r="5.8"/>
<circle cx="100.9" cy="1700.3" r="5.8"/>
<circle cx="101.4" cy="1751.8" r="5.8"/>
<circle cx="101.4" cy="1664.6" r="5.8"/>
<circle cx="101.4" cy="1756.3" r="5.8"/>
<circle cx="102.3" cy="1739.9" r="5.8"/>
<circle cx="102.8" cy="1742.6" r="5.8"/>
<circle cx="104.1" cy="1753.2" r="5.8"/>
<circle cx="104.6" cy="1752.4" r="5.8"/>
<circle cx="104.9" cy="1752.7" r="5.8"/>
<circle cx="105.3" cy="1747.7" r="5.8"/>
<circle cx="105.8" cy="1746.9" r="5.8"/>
<circle cx="107.6" cy="1704.3" r="5.8"/>
<circle cx="109.1" cy="1752" r="5.8"/>
<circle cx="109.4" cy="1754.8" r="5.8"/>
<circle cx="109.7" cy="1741" r="5.8"/>
<circle cx="109.7" cy="1755.5" r="5.8"/>
<circle cx="110.7" cy="1756.2" r="5.8"/>
<circle cx="110.9" cy="1751.8" r="5.8"/>
<circle cx="111" cy="1734.8" r="5.8"/>
<circle cx="111" cy="1754.9" r="5.8"/>
<circle cx="111.3" cy="1752.2" r="5.8"/>
<circle cx="111.4" cy="1745.5" r="5.8"/>
<circle cx="113.1" cy="1746.9" r="5.8"/>
<circle cx="113.8" cy="1749.9" r="5.8"/>
<circle cx="114.2" cy="1754.4" r="5.8"/>
<circle cx="115.3" cy="1743.8" r="5.8"/>
<circle cx="115.8" cy="1755.3" r="5.8"/>
<circle cx="115.9" cy="1734.2" r="5.8"/>
<circle cx="116.1" cy="1753.1" r="5.8"/>
<circle cx="117.8" cy="1755.8" r="5.8"/>
<circle cx="118.7" cy="1735.7" r="5.8"/>
<circle cx="119.8" cy="1743.5" r="5.8"/>
<circle cx="120.5" cy="1749" r="5.8"/>
<circle cx="120.5" cy="1751.9" r="5.8"/>
<circle cx="120.7" cy="1753.6" r="5.8"/>
<circle cx="121" cy="1742.8" r="5.8"/>
<circle cx="121.2" cy="1756.2" r="5.8"/>
<circle cx="121.8" cy="1749.3" r="5.8"/>
<circle cx="121.9" cy="1747.2" r="5.8"/>
<circle cx="122.1" cy="1754.8" r="5.8"/>
<circle cx="123.7" cy="1754.9" r="5.8"/>
<circle cx="125" cy="1709.6" r="5.8"/>
<circle cx="125.3" cy="1737.6" r="5.8"/>
<circle cx="126.1" cy="1744.2" r="5.8"/>
<circle cx="127" cy="1756.1" r="5.8"/>
<circle cx="127.3" cy="1754.1" r="5.8"/>
<circle cx="127.6" cy="1734" r="5.8"/>
<circle cx="127.6" cy="1753.5" r="5.8"/>
<circle cx="128.9" cy="1744.8" r="5.8"/>
<circle cx="129.9" cy="1755.3" r="5.8"/>
<circle cx="130.1" cy="1755.3" r="5.8"/>
<circle cx="130.4" cy="1713.7" r="5.8"/>
<circle cx="130.8" cy="1752.8" r="5.8"/>
<circle cx="131.1" cy="1750.6" r="5.8"/>
<circle cx="131.9" cy="1753.5" r="5.8"/>
<circle cx="132" cy="1754.7" r="5.8"/>
<circle cx="132.4" cy="1755.5" r="5.8"/>
<circle cx="133.3" cy="1734.2" r="5.8"/>
<circle cx="134.1" cy="1756.2" r="5.8"/>
<circle cx="134.6" cy="1739.8" r="5.8"/>
<circle cx="134.7" cy="1749.7" r="5.8"/>
<circle cx="135.3" cy="1744" r="5.8"/>
<circle cx="135.7" cy="1708.3" r="5.8"/>
<circle cx="136.1" cy="1750.7" r="5.8"/>
<circle cx="136.1" cy="1740.4" r="5.8"/>
<circle cx="136.8" cy="1739" r="5.8"/>
<circle cx="137" cy="1736.7" r="5.8"/>
<circle cx="137.6" cy="1756" r="5.8"/>
<circle cx="138.2" cy="1755.1" r="5.8"/>
<circle cx="138.4" cy="1750.5" r="5.8"/>
<circle cx="138.4" cy="1753.7" r="5.8"/>
<circle cx="138.8" cy="1750.2" r="5.8"/>
<circle cx="139.1" cy="1755" r="5.8"/>
<circle cx="139.3" cy="1747.7" r="5.8"/>
<circle cx="139.9" cy="1750.4" r="5.8"/>
<circle cx="140.1" cy="1752.5" r="5.8"/>
<circle cx="140.2" cy="1754.1" r="5.8"/>
<circle cx="140.2" cy="1753" r="5.8"/>
<circle cx="140.3" cy="1746" r="5.8"/>
<circle cx="141.9" cy="1756.1" r="5.8"/>
<circle cx="142.1" cy="1727.6" r="5.8"/>
<circle cx="143.5" cy="1731.8" r="5.8"/>
<circle cx="143.6" cy="1749.1" r="5.8"/>
<circle cx="143.7" cy="1750" r="5.8"/>
<circle cx="144.1" cy="1753.2" r="5.8"/>
<circle cx="144.3" cy="1751.8" r="5.8"/>
<circle cx="144.8" cy="1743.7" r="5.8"/>
<circle cx="144.9" cy="1751" r="5.8"/>
<circle cx="146.2" cy="1748.6" r="5.8"/>
<circle cx="146.4" cy="1716.3" r="5.8"/>
<circle cx="146.5" cy="1751.8" r="5.8"/>
<circle cx="146.8" cy="1749.2" r="5.8"/>
<circle cx="147.2" cy="1754" r="5.8"/>
<circle cx="147.9" cy="1755.1" r="5.8"/>
<circle cx="147.9" cy="1743" r="5.8"/>
<circle cx="147.9" cy="1753.6" r="5.8"/>
<circle cx="148.4" cy="1733.5" r="5.8"/>
<circle cx="150.8" cy="1755.2" r="5.8"/>
<circle cx="151.3" cy="1750.9" r="5.8"/>
<circle cx="151.3" cy="1753.7" r="5.8"/>
<circle cx="151.6" cy="1754.6" r="5.8"/>
<circle cx="151.6" cy="1748.9" r="5.8"/>
<circle cx="152.9" cy="1753.8" r="5.8"/>
<circle cx="152.9" cy="1728.9" r="5.8"/>
<circle cx="153" cy="1747" r="5.8"/>
<circle cx="153.3" cy="1755.1" r="5.8"/>
<circle cx="153.7" cy="1752.3" r="5.8"/>
<circle cx="154" cy="1754" r="5.8"/>
<circle cx="155.8" cy="1749.3" r="5.8"/>
<circle cx="156.5" cy="1728.2" r="5.8"/>
<circle cx="157.3" cy="1734.5" r="5.8"/>
<circle cx="157.4" cy="1752.4" r="5.8"/>
<circle cx="158.8" cy="1756.4" r="5.8"/>
<circle cx="159.8" cy="1744.6" r="5.8"/>
<circle cx="160.6" cy="1754.9" r="5.8"/>
<circle cx="163.2" cy="1754.2" r="5.8"/>
<circle cx="164.2" cy="1752.9" r="5.8"/>
<circle cx="166" cy="1751.1" r="5.8"/>
<circle cx="166.2" cy="1753.2" r="5.8"/>
<circle cx="166.3" cy="1741.4" r="5.8"/>
<circle cx="166.6" cy="1755.6" r="5.8"/>
<circle cx="167.1" cy="1753.1" r="5.8"/>
<circle cx="167.1" cy="1748.6" r="5.8"/>
<circle cx="167.5" cy="1755.6" r="5.8"/>
<circle cx="169.2" cy="1688.2" r="5.8"/>
<circle cx="169.3" cy="1755.6" r="5.8"/>
<circle cx="169.6" cy="1752.9" r="5.8"/>
<circle cx="169.9" cy="1748.6" r="5.8"/>
<circle cx="170.4" cy="1754.5" r="5.8"/>
<circle cx="170.6" cy="1754.9" r="5.8"/>
<circle cx="171.1" cy="1704.3" r="5.8"/>
<circle cx="171.5" cy="1754.7" r="5.8"/>
<circle cx="172.3" cy="1750.3" r="5.8"/>
<circle cx="172.5" cy="1755.2" r="5.8"/>
<circle cx="172.6" cy="1741.7" r="5.8"/>
<circle cx="172.6" cy="1752.5" r="5.8"/>
<circle cx="173" cy="1751.9" r="5.8"/>
<circle cx="173.6" cy="1741.7" r="5.8"/>
<circle cx="173.7" cy="1741.3" r="5.8"/>
<circle cx="173.9" cy="1737.9" r="5.8"/>
<circle cx="174.4" cy="1738.1" r="5.8"/>
<circle cx="174.6" cy="1728.6" r="5.8"/>
<circle cx="175.3" cy="1733.1" r="5.8"/>
<circle cx="176.7" cy="1735.3" r="5.8"/>
<circle cx="176.8" cy="1732.1" r="5.8"/>
<circle cx="177.1" cy="1754.6" r="5.8"/>
<circle cx="177.3" cy="1744.7" r="5.8"/>
<circle cx="177.7" cy="1750.1" r="5.8"/>
<circle cx="178.2" cy="1751.6" r="5.8"/>
<circle cx="178.4" cy="1744.5" r="5.8"/>
<circle cx="178.5" cy="1750.1" r="5.8"/>
<circle cx="178.5" cy="1731.6" r="5.8"/>
<circle cx="178.6" cy="1744.1" r="5.8"/>
<circle cx="179.4" cy="1755.4" r="5.8"/>
<circle cx="179.5" cy="1750.5" r="5.8"/>
<circle cx="179.8" cy="1731.3" r="5.8"/>
<circle cx="180" cy="1753" r="5.8"/>
<circle cx="180.8" cy="1740.7" r="5.8"/>
<circle cx="181" cy="1751.4" r="5.8"/>
<circle cx="181.3" cy="1753.7" r="5.8"/>
<circle cx="181.3" cy="1755.7" r="5.8"/>
<circle cx="181.9" cy="1728.5" r="5.8"/>
<circle cx="182.4" cy="1755.7" r="5.8"/>
<circle cx="182.9" cy="1756.2" r="5.8"/>
<circle cx="183.7" cy="1751.8" r="5.8"/>
<circle cx="184.6" cy="1756.2" r="5.8"/>
<circle cx="184.6" cy="1753.6" r="5.8"/>
<circle cx="185.3" cy="1753.5" r="5.8"/>
<circle cx="185.3" cy="1755.6" r="5.8"/>
<circle cx="186" cy="1747" r="5.8"/>
<circle cx="186.5" cy="1754.4" r="5.8"/>
<circle cx="186.9" cy="1752.7" r="5.8"/>
<circle cx="187.4" cy="1748.7" r="5.8"/>
<circle cx="187.4" cy="1670" r="5.8"/>
<circle cx="188" cy="1704.3" r="5.8"/>
<circle cx="188.6" cy="1747.3" r="5.8"/>
<circle cx="188.7" cy="1745.4" r="5.8"/>
<circle cx="190.6" cy="1749.7" r="5.8"/>
<circle cx="192.2" cy="1740.5" r="5.8"/>
<circle cx="192.4" cy="1734.6" r="5.8"/>
<circle cx="193.7" cy="1739.9" r="5.8"/>
<circle cx="194.3" cy="1736.2" r="5.8"/>
<circle cx="194.8" cy="1755.2" r="5.8"/>
<circle cx="195.8" cy="1754.6" r="5.8"/>
<circle cx="196.2" cy="1754.8" r="5.8"/>
<circle cx="196.5" cy="1738.1" r="5.8"/>
<circle cx="196.7" cy="1730.1" r="5.8"/>
<circle cx="196.8" cy="1750.7" r="5.8"/>
<circle cx="196.8" cy="1746.2" r="5.8"/>
<circle cx="197.2" cy="1744.9" r="5.8"/>
<circle cx="197.5" cy="1753.4" r="5.8"/>
<circle cx="197.6" cy="1754.7" r="5.8"/>
<circle cx="199" cy="1752.5" r="5.8"/>
<circle cx="201.5" cy="1753.4" r="5.8"/>
<circle cx="201.9" cy="1751.9" r="5.8"/>
<circle cx="203" cy="1751" r="5.8"/>
<circle cx="206.7" cy="1751" r="5.8"/>
<circle cx="207.8" cy="1754.9" r="5.8"/>
<circle cx="209.2" cy="1756.1" r="5.8"/>
<circle cx="209.5" cy="1749.8" r="5.8"/>
<circle cx="210.5" cy="1756.3" r="5.8"/>
<circle cx="211.4" cy="1735.4" r="5.8"/>
<circle cx="211.8" cy="1748.6" r="5.8"/>
<circle cx="211.8" cy="1751.7" r="5.8"/>
<circle cx="213.7" cy="1737.8" r="5.8"/>
<circle cx="213.7" cy="1746.9" r="5.8"/>
<circle cx="215.4" cy="1756" r="5.8"/>
<circle cx="215.6" cy="1741.8" r="5.8"/>
<circle cx="215.8" cy="1749.4" r="5.8"/>
<circle cx="216" cy="1750.3" r="5.8"/>
<circle cx="216" cy="1755.7" r="5.8"/>
<circle cx="216.1" cy="1746" r="5.8"/>
<circle cx="216.4" cy="1743.7" r="5.8"/>
<circle cx="217" cy="1753.1" r="5.8"/>
<circle cx="218.7" cy="1755.7" r="5.8"/>
<circle cx="219.5" cy="1752.5" r="5.8"/>
<circle cx="220" cy="1752.9" r="5.8"/>
<circle cx="221.3" cy="1751.4" r="5.8"/>
<circle cx="221.4" cy="1729.6" r="5.8"/>
<circle cx="221.8" cy="1755.7" r="5.8"/>
<circle cx="222.4" cy="1754" r="5.8"/>
<circle cx="225.1" cy="1754.1" r="5.8"/>
<circle cx="225.1" cy="1755.3" r="5.8"/>
<circle cx="225.7" cy="1733.4" r="5.8"/>
<circle cx="225.7" cy="1755" r="5.8"/>
<circle cx="225.9" cy="1754.7" r="5.8"/>
<circle cx="228.5" cy="1741.9" r="5.8"/>
<circle cx="228.7" cy="1747.8" r="5.8"/>
<circle cx="228.8" cy="1738.7" r="5.8"/>
<circle cx="229.9" cy="1755.4" r="5.8"/>
<circle cx="230" cy="1747.8" r="5.8"/>
<circle cx="230" cy="1734.3" r="5.8"/>
<circle cx="230.8" cy="1748.3" r="5.8"/>
<circle cx="231.5" cy="1739.4" r="5.8"/>
<circle cx="232.2" cy="1752.7" r="5.8"/>
<circle cx="232.2" cy="1715" r="5.8"/>
<circle cx="232.7" cy="1744.1" r="5.8"/>
<circle cx="233" cy="1754.7" r="5.8"/>
<circle cx="233.8" cy="1751.7" r="5.8"/>
<circle cx="234.4" cy="1752.4" r="5.8"/>
<circle cx="234.4" cy="1745.7" r="5.8"/>
<circle cx="235" cy="1756.2" r="5.8"/>
<circle cx="235.7" cy="1729.2" r="5.8"/>
<circle cx="237.4" cy="1754.7" r="5.8"/>
<circle cx="237.5" cy="1717.7" r="5.8"/>
<circle cx="237.9" cy="1748.5" r="5.8"/>
<circle cx="238.6" cy="1748.7" r="5.8"/>
<circle cx="239.1" cy="1745.4" r="5.8"/>
<circle cx="239.2" cy="1747.8" r="5.8"/>
<circle cx="239.6" cy="1744.7" r="5.8"/>
<circle cx="239.7" cy="1752.6" r="5.8"/>
<circle cx="241.2" cy="1745.2" r="5.8"/>
<circle cx="241.4" cy="1740.3" r="5.8"/>
<circle cx="241.8" cy="1732.3" r="5.8"/>
<circle cx="242.5" cy="1742.1" r="5.8"/>
<circle cx="242.9" cy="1704.3" r="5.8"/>
<circle cx="244.3" cy="1737.2" r="5.8"/>
<circle cx="244.6" cy="1748.3" r="5.8"/>
<circle cx="245" cy="1741.8" r="5.8"/>
<circle cx="245.3" cy="1749" r="5.8"/>
<circle cx="245.3" cy="1749.6" r="5.8"/>
<circle cx="245.4" cy="1742.8" r="5.8"/>
<circle cx="245.6" cy="1749.8" r="5.8"/>
<circle cx="246.9" cy="1753.9" r="5.8"/>
<circle cx="246.9" cy="1745.6" r="5.8"/>
<circle cx="246.9" cy="1754.9" r="5.8"/>
<circle cx="247.8" cy="1752.1" r="5.8"/>
<circle cx="248.4" cy="1756.3" r="5.8"/>
<circle cx="248.5" cy="1747.5" r="5.8"/>
<circle cx="248.7" cy="1730.6" r="5.8"/>
<circle cx="249.9" cy="1754.9" r="5.8"/>
<circle cx="252.9" cy="1749.7" r="5.8"/>
<circle cx="254.1" cy="1749" r="5.8"/>
<circle cx="254.6" cy="1754" r="5.8"/>
<circle cx="257" cy="1727.9" r="5.8"/>
<circle cx="260.8" cy="1750.2" r="5.8"/>
<circle cx="260.9" cy="1744.3" r="5.8"/>
<circle cx="261" cy="1752.3" r="5.8"/>
<circle cx="261.1" cy="1750.4" r="5.8"/>
<circle cx="261.9" cy="1746.7" r="5.8"/>
<circle cx="262.3" cy="1753.2" r="5.8"/>
<circle cx="263.5" cy="1703.5" r="5.8"/>
<circle cx="263.9" cy="1749.4" r="5.8"/>
<circle cx="264.2" cy="1753.3" r="5.8"/>
<circle cx="264.6" cy="1752.3" r="5.8"/>
<circle cx="264.9" cy="1754.3" r="5.8"/>
<circle cx="265" cy="1745.1" r="5.8"/>
<circle cx="265.3" cy="1749.1" r="5.8"/>
<circle cx="267.3" cy="1735.9" r="5.8"/>
<circle cx="267.4" cy="1751.4" r="5.8"/>
<circle cx="268.4" cy="1750.5" r="5.8"/>
<circle cx="270.1" cy="1739" r="5.8"/>
<circle cx="270.9" cy="1749.9" r="5.8"/>
<circle cx="271.1" cy="1750.5" r="5.8"/>
<circle cx="272.2" cy="1754" r="5.8"/>
<circle cx="272.4" cy="1749.3" r="5.8"/>
<circle cx="272.6" cy="1751.5" r="5.8"/>
<circle cx="272.9" cy="1756.4" r="5.8"/>
<circle cx="273.2" cy="1755.1" r="5.8"/>
<circle cx="273.5" cy="1752" r="5.8"/>
<circle cx="273.9" cy="1755.3" r="5.8"/>
<circle cx="274.4" cy="1734.9" r="5.8"/>
<circle cx="275.2" cy="1739.8" r="5.8"/>
<circle cx="275.5" cy="1749.9" r="5.8"/>
<circle cx="275.7" cy="1753.6" r="5.8"/>
<circle cx="276.3" cy="1733.7" r="5.8"/>
<circle cx="276.7" cy="1751.4" r="5.8"/>
<circle cx="276.8" cy="1746.7" r="5.8"/>
<circle cx="277.7" cy="1744.7" r="5.8"/>
<circle cx="278.8" cy="1755.7" r="5.8"/>
<circle cx="279.3" cy="1752.5" r="5.8"/>
<circle cx="279.6" cy="1752.4" r="5.8"/>
<circle cx="279.8" cy="1733.2" r="5.8"/>
<circle cx="280.4" cy="1735.4" r="5.8"/>
<circle cx="281.7" cy="1749.2" r="5.8"/>
<circle cx="281.9" cy="1738.1" r="5.8"/>
<circle cx="282.4" cy="1726.3" r="5.8"/>
<circle cx="282.5" cy="1752" r="5.8"/>
<circle cx="282.5" cy="1754.9" r="5.8"/>
<circle cx="282.6" cy="1737.8" r="5.8"/>
<circle cx="282.9" cy="1743.5" r="5.8"/>
<circle cx="283.7" cy="1751" r="5.8"/>
<circle cx="284.1" cy="1742.6" r="5.8"/>
<circle cx="284.2" cy="1749.3" r="5.8"/>
<circle cx="284.7" cy="1753.2" r="5.8"/>
<circle cx="285.5" cy="1749.5" r="5.8"/>
<circle cx="285.8" cy="1739.6" r="5.8"/>
<circle cx="285.8" cy="1749.7" r="5.8"/>
<circle cx="286" cy="1731" r="5.8"/>
<circle cx="286.2" cy="1754.5" r="5.8"/>
<circle cx="286.3" cy="1753.1" r="5.8"/>
<circle cx="286.4" cy="1755.9" r="5.8"/>
<circle cx="287.1" cy="1733.8" r="5.8"/>
<circle cx="287.3" cy="1753" r="5.8"/>
<circle cx="287.7" cy="1753" r="5.8"/>
<circle cx="287.7" cy="1750.1" r="5.8"/>
<circle cx="289.7" cy="1739" r="5.8"/>
<circle cx="289.9" cy="1753.4" r="5.8"/>
<circle cx="290.7" cy="1754.6" r="5.8"/>
<circle cx="291.5" cy="1737.6" r="5.8"/>
<circle cx="292.8" cy="1753.6" r="5.8"/>
<circle cx="293.1" cy="1749.6" r="5.8"/>
<circle cx="293.6" cy="1753.4" r="5.8"/>
<circle cx="294" cy="1751.6" r="5.8"/>
<circle cx="294" cy="1751.5" r="5.8"/>
<circle cx="294.8" cy="1735.5" r="5.8"/>
<circle cx="295.9" cy="1755.1" r="5.8"/>
<circle cx="295.9" cy="1754.2" r="5.8"/>
<circle cx="296" cy="1754.1" r="5.8"/>
<circle cx="296" cy="1756.1" r="5.8"/>
<circle cx="296.3" cy="1741" r="5.8"/>
<circle cx="296.6" cy="1755.4" r="5.8"/>
<circle cx="296.7" cy="1754.7" r="5.8"/>
<circle cx="296.8" cy="1731.8" r="5.8"/>
<circle cx="297.1" cy="1728.7" r="5.8"/>
<circle cx="297.9" cy="1754.4" r="5.8"/>
<circle cx="298.3" cy="1739" r="5.8"/>
<circle cx="298.7" cy="1733.6" r="5.8"/>
<circle cx="299" cy="1749.2" r="5.8"/>
<circle cx="299.2" cy="1740" r="5.8"/>
<circle cx="299.2" cy="1750.8" r="5.8"/>
<circle cx="299.7" cy="1730.3" r="5.8"/>
<circle cx="299.7" cy="1752" r="5.8"/>
<circle cx="299.8" cy="1737.3" r="5.8"/>
<circle cx="300.4" cy="1744.8" r="5.8"/>
<circle cx="300.5" cy="1729.7" r="5.8"/>
<circle cx="300.6" cy="1746.8" r="5.8"/>
<circle cx="300.6" cy="1752.4" r="5.8"/>
<circle cx="301.8" cy="1704.8" r="5.8"/>
<circle cx="303.1" cy="1708.3" r="5.8"/>
<circle cx="303.1" cy="1754.8" r="5.8"/>
<circle cx="303.2" cy="1756.3" r="5.8"/>
<circle cx="304.2" cy="1755.5" r="5.8"/>
<circle cx="304.2" cy="1754.5" r="5.8"/>
<circle cx="304.5" cy="1749.2" r="5.8"/>
<circle cx="305.4" cy="1751.5" r="5.8"/>
<circle cx="305.9" cy="1743.9" r="5.8"/>
<circle cx="306.6" cy="1753.9" r="5.8"/>
<circle cx="306.6" cy="1729.9" r="5.8"/>
<circle cx="306.9" cy="1749.6" r="5.8"/>
<circle cx="308.5" cy="1743" r="5.8"/>
<circle cx="308.6" cy="1746.7" r="5.8"/>
<circle cx="310" cy="1748.8" r="5.8"/>
<circle cx="310.4" cy="1734.1" r="5.8"/>
<circle cx="310.8" cy="1736.8" r="5.8"/>
<circle cx="311.4" cy="1750.9" r="5.8"/>
<circle cx="311.8" cy="1754.5" r="5.8"/>
<circle cx="312.5" cy="1723" r="5.8"/>
<circle cx="313" cy="1755.6" r="5.8"/>
<circle cx="313.7" cy="1738.5" r="5.8"/>
<circle cx="316.6" cy="1740.1" r="5.8"/>
<circle cx="317.2" cy="1753.3" r="5.8"/>
<circle cx="317.2" cy="1748.6" r="5.8"/>
<circle cx="318" cy="1747.4" r="5.8"/>
<circle cx="318.3" cy="1749.4" r="5.8"/>
<circle cx="318.7" cy="1756.1" r="5.8"/>
<circle cx="319" cy="1737.8" r="5.8"/>
<circle cx="319.1" cy="1750" r="5.8"/>
<circle cx="319.9" cy="1743.3" r="5.8"/>
<circle cx="321.3" cy="1738" r="5.8"/>
<circle cx="321.5" cy="1748.4" r="5.8"/>
<circle cx="321.6" cy="1752.4" r="5.8"/>
<circle cx="322" cy="1750.2" r="5.8"/>
<circle cx="322.1" cy="1748.3" r="5.8"/>
<circle cx="322.8" cy="1748" r="5.8"/>
<circle cx="323.1" cy="1746.7" r="5.8"/>
<circle cx="323.2" cy="1705.6" r="5.8"/>
<circle cx="323.4" cy="1749.3" r="5.8"/>
<circle cx="323.8" cy="1753.8" r="5.8"/>
<circle cx="323.8" cy="1751.2" r="5.8"/>
<circle cx="323.9" cy="1745" r="5.8"/>
<circle cx="325.4" cy="1755.8" r="5.8"/>
<circle cx="325.6" cy="1741.7" r="5.8"/>
<circle cx="327.1" cy="1756.4" r="5.8"/>
<circle cx="327.6" cy="1737.7" r="5.8"/>
<circle cx="329.4" cy="1751.8" r="5.8"/>
<circle cx="331.1" cy="1736.2" r="5.8"/>
<circle cx="332.5" cy="1740.7" r="5.8"/>
<circle cx="332.9" cy="1755.4" r="5.8"/>
<circle cx="332.9" cy="1748.6" r="5.8"/>
<circle cx="335.1" cy="1752.8" r="5.8"/>
<circle cx="336.9" cy="1738.5" r="5.8"/>
<circle cx="337.6" cy="1753.5" r="5.8"/>
<circle cx="337.9" cy="1731.4" r="5.8"/>
<circle cx="339" cy="1749.8" r="5.8"/>
<circle cx="339.6" cy="1756.3" r="5.8"/>
<circle cx="340.4" cy="1753.4" r="5.8"/>
<circle cx="341.3" cy="1756.2" r="5.8"/>
<circle cx="341.5" cy="1755.6" r="5.8"/>
<circle cx="341.6" cy="1739.4" r="5.8"/>
<circle cx="343.3" cy="1692.2" r="5.8"/>
<circle cx="343.3" cy="1716.3" r="5.8"/>
<circle cx="343.7" cy="1749.9" r="5.8"/>
<circle cx="344.6" cy="1751.7" r="5.8"/>
<circle cx="344.7" cy="1693.6" r="5.8"/>
<circle cx="345.3" cy="1739.3" r="5.8"/>
<circle cx="345.6" cy="1749.1" r="5.8"/>
<circle cx="345.7" cy="1733.5" r="5.8"/>
<circle cx="345.8" cy="1756.3" r="5.8"/>
<circle cx="348.1" cy="1746.3" r="5.8"/>
<circle cx="349.4" cy="1746.5" r="5.8"/>
<circle cx="349.6" cy="1747.2" r="5.8"/>
<circle cx="349.7" cy="1745.4" r="5.8"/>
<circle cx="350.8" cy="1740.7" r="5.8"/>
<circle cx="352.6" cy="1750.6" r="5.8"/>
<circle cx="353.1" cy="1754.8" r="5.8"/>
<circle cx="353.4" cy="1753.5" r="5.8"/>
<circle cx="353.6" cy="1744.8" r="5.8"/>
<circle cx="353.8" cy="1754.7" r="5.8"/>
<circle cx="354.3" cy="1754.1" r="5.8"/>
<circle cx="354.7" cy="1740.9" r="5.8"/>
<circle cx="354.8" cy="1750.3" r="5.8"/>
<circle cx="355.5" cy="1741.9" r="5.8"/>
<circle cx="356.2" cy="1750.3" r="5.8"/>
<circle cx="356.3" cy="1740.4" r="5.8"/>
<circle cx="356.5" cy="1749.6" r="5.8"/>
<circle cx="356.7" cy="1733.6" r="5.8"/>
<circle cx="356.8" cy="1741.1" r="5.8"/>
<circle cx="357" cy="1745.9" r="5.8"/>
<circle cx="357.2" cy="1752.2" r="5.8"/>
<circle cx="357.5" cy="1751.4" r="5.8"/>
<circle cx="357.8" cy="1749.4" r="5.8"/>
<circle cx="358.5" cy="1731.8" r="5.8"/>
<circle cx="358.9" cy="1732.3" r="5.8"/>
<circle cx="359.1" cy="1727.9" r="5.8"/>
<circle cx="359.9" cy="1739.5" r="5.8"/>
<circle cx="360.7" cy="1720.4" r="5.8"/>
<circle cx="361" cy="1733.1" r="5.8"/>
<circle cx="361.7" cy="1728.4" r="5.8"/>
<circle cx="362.5" cy="1738.1" r="5.8"/>
<circle cx="362.8" cy="1753.3" r="5.8"/>
<circle cx="362.8" cy="1740.2" r="5.8"/>
<circle cx="364" cy="1749.6" r="5.8"/>
<circle cx="364.8" cy="1733" r="5.8"/>
<circle cx="364.8" cy="1751.9" r="5.8"/>
<circle cx="364.8" cy="1747.7" r="5.8"/>
<circle cx="365.2" cy="1745.3" r="5.8"/>
<circle cx="366.2" cy="1739.4" r="5.8"/>
<circle cx="366.2" cy="1749.7" r="5.8"/>
<circle cx="367.6" cy="1749.6" r="5.8"/>
<circle cx="368.8" cy="1720.4" r="5.8"/>
<circle cx="370.7" cy="1747.5" r="5.8"/>
<circle cx="371.2" cy="1749.6" r="5.8"/>
<circle cx="371.5" cy="1736.2" r="5.8"/>
<circle cx="373.2" cy="1728.9" r="5.8"/>
<circle cx="374" cy="1748.8" r="5.8"/>
<circle cx="374.7" cy="1754.8" r="5.8"/>
<circle cx="374.8" cy="1754.2" r="5.8"/>
<circle cx="375.3" cy="1748.6" r="5.8"/>
<circle cx="375.8" cy="1750.4" r="5.8"/>
<circle cx="376.2" cy="1745.5" r="5.8"/>
<circle cx="376.8" cy="1756.4" r="5.8"/>
<circle cx="377.4" cy="1756.2" r="5.8"/>
<circle cx="378" cy="1754" r="5.8"/>
<circle cx="378.4" cy="1744.7" r="5.8"/>
<circle cx="378.8" cy="1751.5" r="5.8"/>
<circle cx="379.4" cy="1749.1" r="5.8"/>
<circle cx="379.7" cy="1747.8" r="5.8"/>
<circle cx="380.3" cy="1739.8" r="5.8"/>
<circle cx="381.8" cy="1755.2" r="5.8"/>
<circle cx="382.4" cy="1748.3" r="5.8"/>
<circle cx="382.9" cy="1756" r="5.8"/>
<circle cx="382.9" cy="1754.5" r="5.8"/>
<circle cx="383.6" cy="1753.2" r="5.8"/>
<circle cx="383.7" cy="1756" r="5.8"/>
<circle cx="385.3" cy="1742" r="5.8"/>
<circle cx="386.9" cy="1735.7" r="5.8"/>
<circle cx="387.4" cy="1754.8" r="5.8"/>
<circle cx="387.5" cy="1748.5" r="5.8"/>
<circle cx="388.2" cy="1749.4" r="5.8"/>
<circle cx="389" cy="1730.3" r="5.8"/>
<circle cx="390.7" cy="1734.5" r="5.8"/>
<circle cx="390.7" cy="1750.1" r="5.8"/>
<circle cx="392.5" cy="1751.8" r="5.8"/>
<circle cx="392.9" cy="1752.8" r="5.8"/>
<circle cx="394.4" cy="1755.9" r="5.8"/>
<circle cx="394.5" cy="1749.3" r="5.8"/>
<circle cx="395.8" cy="1737.6" r="5.8"/>
<circle cx="397.1" cy="1740" r="5.8"/>
<circle cx="397.4" cy="1754.8" r="5.8"/>
<circle cx="397.9" cy="1734.2" r="5.8"/>
<circle cx="398.9" cy="1751.3" r="5.8"/>
<circle cx="399.7" cy="1755.8" r="5.8"/>
<circle cx="400.1" cy="1752.1" r="5.8"/>
<circle cx="400.7" cy="1752.7" r="5.8"/>
<circle cx="400.9" cy="1755.7" r="5.8"/>
<circle cx="401.2" cy="1741.4" r="5.8"/>
<circle cx="401.4" cy="1733.9" r="5.8"/>
<circle cx="401.8" cy="1740.6" r="5.8"/>
<circle cx="402.5" cy="1747.1" r="5.8"/>
<circle cx="402.9" cy="1753.8" r="5.8"/>
<circle cx="405.7" cy="1744.8" r="5.8"/>
<circle cx="405.7" cy="1755" r="5.8"/>
<circle cx="407" cy="1754.1" r="5.8"/>
<circle cx="407.5" cy="1748.1" r="5.8"/>
<circle cx="407.6" cy="1751.2" r="5.8"/>
<circle cx="407.9" cy="1745.5" r="5.8"/>
<circle cx="409.2" cy="1748.5" r="5.8"/>
<circle cx="409.7" cy="1756.4" r="5.8"/>
<circle cx="411.3" cy="1752.1" r="5.8"/>
<circle cx="412.2" cy="1754.2" r="5.8"/>
<circle cx="412.5" cy="1748.8" r="5.8"/>
<circle cx="412.7" cy="1736.4" r="5.8"/>
<circle cx="413.2" cy="1736.9" r="5.8"/>
<circle cx="413.2" cy="1749.4" r="5.8"/>
<circle cx="414.3" cy="1748.1" r="5.8"/>
<circle cx="415.4" cy="1752" r="5.8"/>
<circle cx="416.4" cy="1751.4" r="5.8"/>
<circle cx="416.4" cy="1750.4" r="5.8"/>
<circle cx="417.4" cy="1755" r="5.8"/>
<circle cx="418.5" cy="1749.2" r="5.8"/>
<circle cx="420.1" cy="1755" r="5.8"/>
<circle cx="420.2" cy="1738.2" r="5.8"/>
<circle cx="420.3" cy="1743" r="5.8"/>
<circle cx="420.4" cy="1733.3" r="5.8"/>
<circle cx="420.7" cy="1750.1" r="5.8"/>
<circle cx="421.1" cy="1755.7" r="5.8"/>
<circle cx="421.4" cy="1745.1" r="5.8"/>
<circle cx="422.1" cy="1743.1" r="5.8"/>
<circle cx="423" cy="1755.3" r="5.8"/>
<circle cx="423.9" cy="1749.6" r="5.8"/>
<circle cx="424.1" cy="1749.2" r="5.8"/>
<circle cx="424.9" cy="1753.2" r="5.8"/>
<circle cx="425.2" cy="1750.6" r="5.8"/>
<circle cx="426.5" cy="1748.8" r="5.8"/>
<circle cx="426.8" cy="1753" r="5.8"/>
<circle cx="427.1" cy="1730.6" r="5.8"/>
<circle cx="427.4" cy="1751.8" r="5.8"/>
<circle cx="427.8" cy="1752.5" r="5.8"/>
<circle cx="427.9" cy="1739.7" r="5.8"/>
<circle cx="429.3" cy="1755.9" r="5.8"/>
<circle cx="431.3" cy="1737.9" r="5.8"/>
<circle cx="433.6" cy="1737.4" r="5.8"/>
<circle cx="434.1" cy="1747.1" r="5.8"/>
<circle cx="434.6" cy="1750.2" r="5.8"/>
<circle cx="434.6" cy="1750.7" r="5.8"/>
<circle cx="434.7" cy="1753.2" r="5.8"/>
<circle cx="435.4" cy="1755.9" r="5.8"/>
<circle cx="435.5" cy="1748.6" r="5.8"/>
<circle cx="435.7" cy="1747.9" r="5.8"/>
<circle cx="435.7" cy="1737.5" r="5.8"/>
<circle cx="435.8" cy="1750.2" r="5.8"/>
<circle cx="436.2" cy="1751.9" r="5.8"/>
<circle cx="439.3" cy="1751.1" r="5.8"/>
<circle cx="439.5" cy="1737.8" r="5.8"/>
<circle cx="439.8" cy="1717.7" r="5.8"/>
<circle cx="440.2" cy="1727.4" r="5.8"/>
<circle cx="440.2" cy="1751.4" r="5.8"/>
<circle cx="440.3" cy="1754.5" r="5.8"/>
<circle cx="440.9" cy="1752.4" r="5.8"/>
<circle cx="441.4" cy="1755.8" r="5.8"/>
<circle cx="441.9" cy="1747.8" r="5.8"/>
<circle cx="442.4" cy="1736.5" r="5.8"/>
<circle cx="442.8" cy="1751.7" r="5.8"/>
<circle cx="443.6" cy="1745.2" r="5.8"/>
<circle cx="444" cy="1749.9" r="5.8"/>
<circle cx="444.2" cy="1726.5" r="5.8"/>
<circle cx="445" cy="1752.1" r="5.8"/>
<circle cx="445.4" cy="1749.2" r="5.8"/>
<circle cx="445.5" cy="1746.6" r="5.8"/>
<circle cx="446" cy="1746.8" r="5.8"/>
<circle cx="447.7" cy="1749.1" r="5.8"/>
<circle cx="448" cy="1745.4" r="5.8"/>
<circle cx="448.1" cy="1747.9" r="5.8"/>
<circle cx="448.4" cy="1742" r="5.8"/>
<circle cx="448.4" cy="1752.1" r="5.8"/>
<circle cx="449.1" cy="1752.2" r="5.8"/>
<circle cx="449.1" cy="1751.2" r="5.8"/>
<circle cx="451.5" cy="1729.4" r="5.8"/>
<circle cx="452.4" cy="1752.9" r="5.8"/>
<circle cx="454.2" cy="1739" r="5.8"/>
<circle cx="454.3" cy="1751.5" r="5.8"/>
<circle cx="454.4" cy="1755.2" r="5.8"/>
<circle cx="454.8" cy="1751.6" r="5.8"/>
<circle cx="455.8" cy="1740.9" r="5.8"/>
<circle cx="456.2" cy="1750.4" r="5.8"/>
<circle cx="458.1" cy="1727.7" r="5.8"/>
<circle cx="458.7" cy="1747.4" r="5.8"/>
<circle cx="460.5" cy="1740.5" r="5.8"/>
<circle cx="460.8" cy="1752.5" r="5.8"/>
<circle cx="461.6" cy="1749.2" r="5.8"/>
<circle cx="465" cy="1753.4" r="5.8"/>
<circle cx="465.1" cy="1751.1" r="5.8"/>
<circle cx="465.2" cy="1712.3" r="5.8"/>
<circle cx="465.3" cy="1738.5" r="5.8"/>
<circle cx="465.5" cy="1741.8" r="5.8"/>
<circle cx="465.9" cy="1732.7" r="5.8"/>
<circle cx="466" cy="1754.4" r="5.8"/>
<circle cx="466.5" cy="1701.6" r="5.8"/>
<circle cx="469.4" cy="1748" r="5.8"/>
<circle cx="469.5" cy="1756.4" r="5.8"/>
<circle cx="470.7" cy="1756.3" r="5.8"/>
<circle cx="470.8" cy="1752.9" r="5.8"/>
<circle cx="471.3" cy="1738.2" r="5.8"/>
<circle cx="471.6" cy="1742.4" r="5.8"/>
<circle cx="473.3" cy="1739.4" r="5.8"/>
<circle cx="473.3" cy="1723" r="5.8"/>
<circle cx="473.7" cy="1751.4" r="5.8"/>
<circle cx="473.9" cy="1756.2" r="5.8"/>
<circle cx="474.1" cy="1731.4" r="5.8"/>
<circle cx="474.1" cy="1749.1" r="5.8"/>
<circle cx="474.8" cy="1748.2" r="5.8"/>
<circle cx="475" cy="1752.7" r="5.8"/>
<circle cx="476.6" cy="1748.4" r="5.8"/>
<circle cx="476.7" cy="1752.1" r="5.8"/>
<circle cx="477.1" cy="1754.8" r="5.8"/>
<circle cx="478.6" cy="1732.9" r="5.8"/>
<circle cx="478.9" cy="1754.3" r="5.8"/>
<circle cx="479.1" cy="1738" r="5.8"/>
<circle cx="479.4" cy="1734.4" r="5.8"/>
<circle cx="479.9" cy="1754.3" r="5.8"/>
<circle cx="480.6" cy="1749.6" r="5.8"/>
<circle cx="481" cy="1748.2" r="5.8"/>
<circle cx="481.9" cy="1733.5" r="5.8"/>
<circle cx="483.4" cy="1750" r="5.8"/>
<circle cx="483.9" cy="1737.8" r="5.8"/>
<circle cx="484.9" cy="1755.2" r="5.8"/>
<circle cx="485" cy="1755.9" r="5.8"/>
<circle cx="485.7" cy="1749.7" r="5.8"/>
<circle cx="486.1" cy="1752.7" r="5.8"/>
<circle cx="489.2" cy="1744.7" r="5.8"/>
<circle cx="490.8" cy="1755.1" r="5.8"/>
<circle cx="491.7" cy="1753.6" r="5.8"/>
<circle cx="492.3" cy="1751.9" r="5.8"/>
<circle cx="494.3" cy="1754.9" r="5.8"/>
<circle cx="495.2" cy="1720.4" r="5.8"/>
<circle cx="495.6" cy="1753.5" r="5.8"/>
<circle cx="496" cy="1709.1" r="5.8"/>
<circle cx="496.9" cy="1751.7" r="5.8"/>
<circle cx="498.5" cy="1747.6" r="5.8"/>
<circle cx="500.9" cy="1754.3" r="5.8"/>
<circle cx="501.3" cy="1754.7" r="5.8"/>
<circle cx="501.5" cy="1748.7" r="5.8"/>
<circle cx="503.4" cy="1755" r="5.8"/>
<circle cx="505.3" cy="1748.2" r="5.8"/>
<circle cx="505.5" cy="1731" r="5.8"/>
<circle cx="505.9" cy="1752" r="5.8"/>
<circle cx="506.7" cy="1749.2" r="5.8"/>
<circle cx="507.8" cy="1745.8" r="5.8"/>
<circle cx="508.7" cy="1753.4" r="5.8"/>
<circle cx="509.1" cy="1750" r="5.8"/>
<circle cx="510.1" cy="1747.3" r="5.8"/>
<circle cx="513" cy="1735.9" r="5.8"/>
<circle cx="513.2" cy="1735.5" r="5.8"/>
<circle cx="513.7" cy="1743.5" r="5.8"/>
<circle cx="513.8" cy="1734.6" r="5.8"/>
<circle cx="513.9" cy="1749.9" r="5.8"/>
<circle cx="514.2" cy="1747.3" r="5.8"/>
<circle cx="514.4" cy="1738.5" r="5.8"/>
<circle cx="514.5" cy="1750.2" r="5.8"/>
<circle cx="517" cy="1752.6" r="5.8"/>
<circle cx="517.5" cy="1731.1" r="5.8"/>
<circle cx="518.6" cy="1727.6" r="5.8"/>
<circle cx="519" cy="1749.1" r="5.8"/>
<circle cx="519.1" cy="1753.1" r="5.8"/>
<circle cx="541.9" cy="1748.1" r="5.8"/>
<circle cx="542" cy="1741.3" r="5.8"/>
<circle cx="543.2" cy="1738.2" r="5.8"/>
<circle cx="543.2" cy="1730.6" r="5.8"/>
<circle cx="544.5" cy="1740" r="5.8"/>
<circle cx="545.8" cy="1750.9" r="5.8"/>
<circle cx="546.6" cy="1730.1" r="5.8"/>
<circle cx="547.3" cy="1755.9" r="5.8"/>
<circle cx="548" cy="1751.1" r="5.8"/>
<circle cx="548.2" cy="1732.7" r="5.8"/>
<circle cx="548.4" cy="1755.8" r="5.8"/>
<circle cx="550.8" cy="1750.3" r="5.8"/>
<circle cx="551.3" cy="1754.9" r="5.8"/>
<circle cx="551.8" cy="1755" r="5.8"/>
<circle cx="552.9" cy="1743.6" r="5.8"/>
<circle cx="554.3" cy="1743.9" r="5.8"/>
<circle cx="555.6" cy="1737.6" r="5.8"/>
<circle cx="556" cy="1751" r="5.8"/>
<circle cx="557.7" cy="1746" r="5.8"/>
<circle cx="557.8" cy="1735.7" r="5.8"/>
<circle cx="558.8" cy="1736.6" r="5.8"/>
<circle cx="559.3" cy="1696.3" r="5.8"/>
<circle cx="559.6" cy="1732.2" r="5.8"/>
<circle cx="559.8" cy="1652.9" r="5.8"/>
<circle cx="560.2" cy="1748.4" r="5.8"/>
<circle cx="561.1" cy="1753.1" r="5.8"/>
<circle cx="564.4" cy="1747.3" r="5.8"/>
<circle cx="565" cy="1737.8" r="5.8"/>
<circle cx="567" cy="1754.5" r="5.8"/>
<circle cx="567.2" cy="1740.6" r="5.8"/>
<circle cx="567.2" cy="1739" r="5.8"/>
<circle cx="567.3" cy="1744.5" r="5.8"/>
<circle cx="567.6" cy="1748.5" r="5.8"/>
<circle cx="568.3" cy="1753" r="5.8"/>
<circle cx="568.7" cy="1744.1" r="5.8"/>
<circle cx="569.5" cy="1756.2" r="5.8"/>
<circle cx="569.6" cy="1753.6" r="5.8"/>
<circle cx="570" cy="1751" r="5.8"/>
<circle cx="570.1" cy="1745.9" r="5.8"/>
<circle cx="574.2" cy="1755.4" r="5.8"/>
<circle cx="575.4" cy="1723.8" r="5.8"/>
<circle cx="576.1" cy="1753.3" r="5.8"/>
<circle cx="576.8" cy="1750.3" r="5.8"/>
<circle cx="577.5" cy="1755.1" r="5.8"/>
<circle cx="577.7" cy="1736.7" r="5.8"/>
<circle cx="578.1" cy="1750.2" r="5.8"/>
<circle cx="578.2" cy="1739" r="5.8"/>
<circle cx="578.9" cy="1751.6" r="5.8"/>
<circle cx="579.8" cy="1752.9" r="5.8"/>
<circle cx="580.1" cy="1750.5" r="5.8"/>
<circle cx="581.9" cy="1741.2" r="5.8"/>
<circle cx="582" cy="1755.5" r="5.8"/>
<circle cx="582.5" cy="1730.8" r="5.8"/>
<circle cx="583.7" cy="1755.1" r="5.8"/>
<circle cx="584" cy="1753.8" r="5.8"/>
<circle cx="585.1" cy="1738.9" r="5.8"/>
<circle cx="585.9" cy="1751.1" r="5.8"/>
<circle cx="586.6" cy="1724.4" r="5.8"/>
<circle cx="587.5" cy="1753.8" r="5.8"/>
<circle cx="587.8" cy="1755.8" r="5.8"/>
<circle cx="588.4" cy="1753.6" r="5.8"/>
<circle cx="589.1" cy="1754.5" r="5.8"/>
<circle cx="589.4" cy="1727.9" r="5.8"/>
<circle cx="589.7" cy="1751.3" r="5.8"/>
<circle cx="589.7" cy="1753" r="5.8"/>
<circle cx="589.9" cy="1755.3" r="5.8"/>
<circle cx="590.6" cy="1752.1" r="5.8"/>
<circle cx="591.2" cy="1742.3" r="5.8"/>
<circle cx="591.5" cy="1736.8" r="5.8"/>
<circle cx="591.7" cy="1743.4" r="5.8"/>
<circle cx="593.2" cy="1744.3" r="5.8"/>
<circle cx="593.5" cy="1749.5" r="5.8"/>
<circle cx="594.7" cy="1753.8" r="5.8"/>
<circle cx="594.9" cy="1753.7" r="5.8"/>
<circle cx="595" cy="1750.4" r="5.8"/>
<circle cx="595.1" cy="1753.6" r="5.8"/>
<circle cx="595.1" cy="1753.7" r="5.8"/>
<circle cx="595.8" cy="1753.7" r="5.8"/>
<circle cx="595.8" cy="1752.9" r="5.8"/>
<circle cx="596.6" cy="1750.8" r="5.8"/>
<circle cx="597.6" cy="1748.3" r="5.8"/>
<circle cx="597.8" cy="1755.1" r="5.8"/>
<circle cx="598.4" cy="1751.2" r="5.8"/>
<circle cx="598.5" cy="1736.6" r="5.8"/>
<circle cx="598.6" cy="1731" r="5.8"/>
<circle cx="599" cy="1734.2" r="5.8"/>
<circle cx="599.1" cy="1734.3" r="5.8"/>
<circle cx="599.3" cy="1751.6" r="5.8"/>
<circle cx="599.3" cy="1750.3" r="5.8"/>
<circle cx="599.9" cy="1737.1" r="5.8"/>
<circle cx="601.2" cy="1752.7" r="5.8"/>
<circle cx="601.6" cy="1730.3" r="5.8"/>
<circle cx="601.9" cy="1755.6" r="5.8"/>
<circle cx="602.6" cy="1748.8" r="5.8"/>
<circle cx="602.8" cy="1735.1" r="5.8"/>
<circle cx="603.2" cy="1747.9" r="5.8"/>
<circle cx="603.5" cy="1753" r="5.8"/>
<circle cx="603.6" cy="1753.3" r="5.8"/>
<circle cx="604" cy="1743" r="5.8"/>
<circle cx="604.3" cy="1750.8" r="5.8"/>
<circle cx="606.4" cy="1748.7" r="5.8"/>
<circle cx="609.6" cy="1755.9" r="5.8"/>
<circle cx="610.5" cy="1753.1" r="5.8"/>
<circle cx="611" cy="1741.4" r="5.8"/>
<circle cx="612.7" cy="1756.3" r="5.8"/>
<circle cx="613.2" cy="1741.6" r="5.8"/>
<circle cx="613.5" cy="1756.2" r="5.8"/>
<circle cx="614.3" cy="1754.4" r="5.8"/>
<circle cx="615.2" cy="1740" r="5.8"/>
<circle cx="615.3" cy="1737.2" r="5.8"/>
<circle cx="615.5" cy="1713.7" r="5.8"/>
<circle cx="615.6" cy="1754.3" r="5.8"/>
<circle cx="615.8" cy="1754.2" r="5.8"/>
<circle cx="616" cy="1742.9" r="5.8"/>
<circle cx="616.1" cy="1753.8" r="5.8"/>
<circle cx="616.1" cy="1720.4" r="5.8"/>
<circle cx="619.3" cy="1739.7" r="5.8"/>
<circle cx="619.3" cy="1752.1" r="5.8"/>
<circle cx="620.5" cy="1737.7" r="5.8"/>
<circle cx="621.8" cy="1741.1" r="5.8"/>
<circle cx="621.9" cy="1753.2" r="5.8"/>
<circle cx="622.2" cy="1756" r="5.8"/>
<circle cx="623.3" cy="1740.1" r="5.8"/>
<circle cx="623.4" cy="1756.2" r="5.8"/>
<circle cx="623.7" cy="1755.8" r="5.8"/>
<circle cx="624" cy="1744.2" r="5.8"/>
<circle cx="624.4" cy="1747.6" r="5.8"/>
<circle cx="626.1" cy="1755.7" r="5.8"/>
<circle cx="626.3" cy="1755.7" r="5.8"/>
<circle cx="626.3" cy="1752.8" r="5.8"/>
<circle cx="626.6" cy="1755.3" r="5.8"/>
<circle cx="626.9" cy="1751.1" r="5.8"/>
<circle cx="627.3" cy="1752" r="5.8"/>
<circle cx="627.4" cy="1748.2" r="5.8"/>
<circle cx="627.7" cy="1749.2" r="5.8"/>
<circle cx="627.7" cy="1756.3" r="5.8"/>
<circle cx="628.3" cy="1740.8" r="5.8"/>
<circle cx="628.5" cy="1747.2" r="5.8"/>
<circle cx="629" cy="1740.2" r="5.8"/>
<circle cx="629.6" cy="1743.2" r="5.8"/>
<circle cx="630.4" cy="1738.4" r="5.8"/>
<circle cx="630.6" cy="1755.5" r="5.8"/>
<circle cx="630.9" cy="1749.1" r="5.8"/>
<circle cx="631.3" cy="1755.3" r="5.8"/>
<circle cx="632.3" cy="1739.2" r="5.8"/>
<circle cx="632.9" cy="1748.6" r="5.8"/>
<circle cx="633.4" cy="1749" r="5.8"/>
<circle cx="633.6" cy="1748.5" r="5.8"/>
<circle cx="633.8" cy="1746.7" r="5.8"/>
<circle cx="633.9" cy="1741.2" r="5.8"/>
<circle cx="635.1" cy="1747.6" r="5.8"/>
<circle cx="635.3" cy="1750.3" r="5.8"/>
<circle cx="635.6" cy="1754.9" r="5.8"/>
<circle cx="636.4" cy="1735.8" r="5.8"/>
<circle cx="637.5" cy="1744" r="5.8"/>
<circle cx="638.7" cy="1728.6" r="5.8"/>
<circle cx="639.1" cy="1748.8" r="5.8"/>
<circle cx="639.3" cy="1756.2" r="5.8"/>
<circle cx="639.5" cy="1744.9" r="5.8"/>
<circle cx="639.7" cy="1752" r="5.8"/>
<circle cx="640.2" cy="1722.5" r="5.8"/>
<circle cx="640.5" cy="1755" r="5.8"/>
<circle cx="640.5" cy="1752.8" r="5.8"/>
<circle cx="642.8" cy="1756.2" r="5.8"/>
<circle cx="643.2" cy="1752" r="5.8"/>
<circle cx="643.5" cy="1749" r="5.8"/>
<circle cx="645.2" cy="1739.7" r="5.8"/>
<circle cx="645.5" cy="1727.1" r="5.8"/>
<circle cx="645.7" cy="1749.6" r="5.8"/>
<circle cx="645.8" cy="1750.2" r="5.8"/>
<circle cx="646.8" cy="1748.2" r="5.8"/>
<circle cx="647.2" cy="1746.4" r="5.8"/>
<circle cx="648.6" cy="1756.4" r="5.8"/>
<circle cx="650" cy="1749.5" r="5.8"/>
<circle cx="650.1" cy="1752.9" r="5.8"/>
<circle cx="650.4" cy="1745.1" r="5.8"/>
<circle cx="650.4" cy="1748.1" r="5.8"/>
<circle cx="652.1" cy="1731.3" r="5.8"/>
<circle cx="652.6" cy="1750.3" r="5.8"/>
<circle cx="656.1" cy="1753.9" r="5.8"/>
<circle cx="656.3" cy="1734.2" r="5.8"/>
<circle cx="657" cy="1752.1" r="5.8"/>
<circle cx="657.1" cy="1755" r="5.8"/>
<circle cx="657.9" cy="1744.7" r="5.8"/>
<circle cx="658.8" cy="1747.7" r="5.8"/>
<circle cx="659.9" cy="1749.5" r="5.8"/>
<circle cx="661.6" cy="1738.9" r="5.8"/>
<circle cx="662.3" cy="1750.9" r="5.8"/>
<circle cx="662.9" cy="1752.8" r="5.8"/>
<circle cx="663.1" cy="1750" r="5.8"/>
<circle cx="663.2" cy="1756.3" r="5.8"/>
<circle cx="663.6" cy="1747.7" r="5.8"/>
<circle cx="664.4" cy="1752.5" r="5.8"/>
<circle cx="664.8" cy="1744.7" r="5.8"/>
<circle cx="664.8" cy="1723.6" r="5.8"/>
<circle cx="665" cy="1752.9" r="5.8"/>
<circle cx="665.7" cy="1749.7" r="5.8"/>
<circle cx="666.5" cy="1752.5" r="5.8"/>
<circle cx="666.9" cy="1755.9" r="5.8"/>
<circle cx="667.4" cy="1739.2" r="5.8"/>
<circle cx="667.4" cy="1754.1" r="5.8"/>
<circle cx="668.2" cy="1729.7" r="5.8"/>
<circle cx="670" cy="1755.8" r="5.8"/>
<circle cx="670.2" cy="1755.5" r="5.8"/>
<circle cx="670.8" cy="1748.9" r="5.8"/>
<circle cx="671.1" cy="1747.2" r="5.8"/>
<circle cx="672.4" cy="1741.2" r="5.8"/>
<circle cx="672.5" cy="1732" r="5.8"/>
<circle cx="672.6" cy="1749.7" r="5.8"/>
<circle cx="673.2" cy="1756.1" r="5.8"/>
<circle cx="673.9" cy="1755.9" r="5.8"/>
<circle cx="674.1" cy="1752.5" r="5.8"/>
<circle cx="675.4" cy="1754.6" r="5.8"/>
<circle cx="675.5" cy="1748.8" r="5.8"/>
<circle cx="676.1" cy="1749.5" r="5.8"/>
<circle cx="676.4" cy="1751" r="5.8"/>
<circle cx="679" cy="1749.4" r="5.8"/>
<circle cx="679" cy="1754" r="5.8"/>
<circle cx="679.7" cy="1740.5" r="5.8"/>
<circle cx="680.7" cy="1754.6" r="5.8"/>
<circle cx="681.8" cy="1739" r="5.8"/>
<circle cx="683.5" cy="1751.5" r="5.8"/>
<circle cx="683.6" cy="1745.8" r="5.8"/>
<circle cx="684" cy="1754.4" r="5.8"/>
<circle cx="685.6" cy="1755.8" r="5.8"/>
<circle cx="685.7" cy="1716.3" r="5.8"/>
<circle cx="685.8" cy="1744.3" r="5.8"/>
<circle cx="686" cy="1755.5" r="5.8"/>
<circle cx="686.2" cy="1754.5" r="5.8"/>
<circle cx="686.4" cy="1752.1" r="5.8"/>
<circle cx="688.3" cy="1748.7" r="5.8"/>
<circle cx="688.6" cy="1752.4" r="5.8"/>
<circle cx="690.7" cy="1743.6" r="5.8"/>
<circle cx="691.7" cy="1753.8" r="5.8"/>
<circle cx="691.8" cy="1748.4" r="5.8"/>
<circle cx="693.4" cy="1750.7" r="5.8"/>
<circle cx="693.8" cy="1745.5" r="5.8"/>
<circle cx="693.8" cy="1748.6" r="5.8"/>
<circle cx="694" cy="1740.8" r="5.8"/>
<circle cx="694.3" cy="1735.3" r="5.8"/>
<circle cx="696.6" cy="1755.9" r="5.8"/>
<circle cx="697.1" cy="1736.5" r="5.8"/>
<circle cx="699.7" cy="1691.4" r="5.8"/>
<circle cx="700.7" cy="1745.1" r="5.8"/>
<circle cx="701" cy="1748.4" r="5.8"/>
<circle cx="701.3" cy="1719" r="5.8"/>
<circle cx="701.6" cy="1739.9" r="5.8"/>
<circle cx="701.7" cy="1739.6" r="5.8"/>
<circle cx="702.4" cy="1755.3" r="5.8"/>
<circle cx="702.6" cy="1735.8" r="5.8"/>
<circle cx="703" cy="1749.6" r="5.8"/>
<circle cx="703.3" cy="1753" r="5.8"/>
<circle cx="703.5" cy="1729.9" r="5.8"/>
<circle cx="703.7" cy="1749.3" r="5.8"/>
<circle cx="703.9" cy="1741.7" r="5.8"/>
<circle cx="704" cy="1729.2" r="5.8"/>
<circle cx="704.6" cy="1751.2" r="5.8"/>
<circle cx="704.9" cy="1751.8" r="5.8"/>
<circle cx="705" cy="1747.8" r="5.8"/>
<circle cx="705.5" cy="1748.8" r="5.8"/>
<circle cx="705.6" cy="1744" r="5.8"/>
<circle cx="707.6" cy="1753.5" r="5.8"/>
<circle cx="708.1" cy="1751.5" r="5.8"/>
<circle cx="708.6" cy="1749.8" r="5.8"/>
<circle cx="709.5" cy="1755.3" r="5.8"/>
<circle cx="710.8" cy="1729.9" r="5.8"/>
<circle cx="711.3" cy="1748.7" r="5.8"/>
<circle cx="712.8" cy="1738.9" r="5.8"/>
<circle cx="713.4" cy="1750.1" r="5.8"/>
<circle cx="714.1" cy="1751.2" r="5.8"/>
<circle cx="714.3" cy="1754.2" r="5.8"/>
<circle cx="714.8" cy="1748.1" r="5.8"/>
<circle cx="714.9" cy="1749.2" r="5.8"/>
<circle cx="715.9" cy="1751.9" r="5.8"/>
<circle cx="716.4" cy="1745.6" r="5.8"/>
<circle cx="716.6" cy="1753" r="5.8"/>
<circle cx="716.7" cy="1745.8" r="5.8"/>
<circle cx="716.7" cy="1751.5" r="5.8"/>
<circle cx="718.1" cy="1748.4" r="5.8"/>
<circle cx="718.3" cy="1753.6" r="5.8"/>
<circle cx="718.4" cy="1741.1" r="5.8"/>
<circle cx="719.3" cy="1749.9" r="5.8"/>
<circle cx="720.6" cy="1744.7" r="5.8"/>
<circle cx="721" cy="1743.1" r="5.8"/>
<circle cx="721.6" cy="1738.3" r="5.8"/>
<circle cx="721.7" cy="1752.5" r="5.8"/>
<circle cx="722.8" cy="1752.9" r="5.8"/>
<circle cx="722.9" cy="1754.4" r="5.8"/>
<circle cx="724.5" cy="1748.8" r="5.8"/>
<circle cx="724.5" cy="1737.5" r="5.8"/>
<circle cx="724.6" cy="1752.1" r="5.8"/>
<circle cx="725.4" cy="1754.2" r="5.8"/>
<circle cx="725.4" cy="1739.3" r="5.8"/>
<circle cx="726.8" cy="1755.3" r="5.8"/>
<circle cx="727.3" cy="1750.1" r="5.8"/>
<circle cx="727.4" cy="1739.5" r="5.8"/>
<circle cx="727.7" cy="1747.9" r="5.8"/>
<circle cx="728.9" cy="1741" r="5.8"/>
<circle cx="729.4" cy="1753.1" r="5.8"/>
<circle cx="729.9" cy="1753.8" r="5.8"/>
<circle cx="732.7" cy="1754.9" r="5.8"/>
<circle cx="732.9" cy="1733" r="5.8"/>
<circle cx="733.4" cy="1750.4" r="5.8"/>
<circle cx="733.4" cy="1750.4" r="5.8"/>
<circle cx="733.4" cy="1741.1" r="5.8"/>
<circle cx="733.7" cy="1754.5" r="5.8"/>
<circle cx="735" cy="1751.2" r="5.8"/>
<circle cx="735.4" cy="1751" r="5.8"/>
<circle cx="736.2" cy="1749.9" r="5.8"/>
<circle cx="738.8" cy="1750.1" r="5.8"/>
<circle cx="741.1" cy="1749" r="5.8"/>
<circle cx="742.4" cy="1753.4" r="5.8"/>
<circle cx="742.5" cy="1749.1" r="5.8"/>
<circle cx="743.4" cy="1753" r="5.8"/>
<circle cx="745.5" cy="1756.4" r="5.8"/>
<circle cx="745.6" cy="1755.7" r="5.8"/>
<circle cx="745.6" cy="1743.1" r="5.8"/>
<circle cx="746.2" cy="1738.4" r="5.8"/>
<circle cx="746.5" cy="1748.8" r="5.8"/>
<circle cx="746.8" cy="1719" r="5.8"/>
<circle cx="747.2" cy="1748.6" r="5.8"/>
<circle cx="747.3" cy="1753.9" r="5.8"/>
<circle cx="747.6" cy="1756" r="5.8"/>
<circle cx="748.1" cy="1749.4" r="5.8"/>
<circle cx="749.7" cy="1738.8" r="5.8"/>
<circle cx="750.5" cy="1747.9" r="5.8"/>
<circle cx="751.4" cy="1743.3" r="5.8"/>
<circle cx="752.2" cy="1755.7" r="5.8"/>
<circle cx="754.4" cy="1747.3" r="5.8"/>
<circle cx="754.6" cy="1750.5" r="5.8"/>
<circle cx="756.1" cy="1747.9" r="5.8"/>
<circle cx="756.2" cy="1740.4" r="5.8"/>
<circle cx="756.2" cy="1736.1" r="5.8"/>
<circle cx="757.1" cy="1733.9" r="5.8"/>
<circle cx="757.4" cy="1736.4" r="5.8"/>
<circle cx="758" cy="1744.8" r="5.8"/>
<circle cx="760.2" cy="1735.6" r="5.8"/>
<circle cx="760.5" cy="1743.7" r="5.8"/>
<circle cx="760.7" cy="1756.4" r="5.8"/>
<circle cx="761.8" cy="1756.1" r="5.8"/>
<circle cx="762.4" cy="1748.8" r="5.8"/>
<circle cx="763.4" cy="1725.7" r="5.8"/>
<circle cx="764.3" cy="1753.3" r="5.8"/>
<circle cx="765" cy="1739.4" r="5.8"/>
<circle cx="765.6" cy="1750.8" r="5.8"/>
<circle cx="766.5" cy="1754.9" r="5.8"/>
<circle cx="767.3" cy="1741.1" r="5.8"/>
<circle cx="767.9" cy="1753.6" r="5.8"/>
<circle cx="768" cy="1752.3" r="5.8"/>
<circle cx="768.6" cy="1753" r="5.8"/>
<circle cx="768.8" cy="1728.4" r="5.8"/>
<circle cx="769.2" cy="1735.6" r="5.8"/>
<circle cx="770.9" cy="1734.8" r="5.8"/>
<circle cx="771.7" cy="1755.9" r="5.8"/>
<circle cx="771.7" cy="1749.9" r="5.8"/>
<circle cx="771.8" cy="1739.3" r="5.8"/>
<circle cx="772.5" cy="1755.8" r="5.8"/>
<circle cx="772.9" cy="1755.3" r="5.8"/>
<circle cx="772.9" cy="1741.5" r="5.8"/>
<circle cx="774.1" cy="1712.3" r="5.8"/>
<circle cx="774.2" cy="1739.6" r="5.8"/>
<circle cx="774.5" cy="1746.4" r="5.8"/>
<circle cx="774.7" cy="1753.3" r="5.8"/>
<circle cx="775.5" cy="1692.2" r="5.8"/>
<circle cx="777.1" cy="1752.9" r="5.8"/>
<circle cx="778.5" cy="1755.3" r="5.8"/>
<circle cx="779.8" cy="1755.6" r="5.8"/>
<circle cx="781.9" cy="1748.9" r="5.8"/>
<circle cx="782.4" cy="1739" r="5.8"/>
<circle cx="782.7" cy="1737.3" r="5.8"/>
<circle cx="783" cy="1749.1" r="5.8"/>
<circle cx="783.2" cy="1753.5" r="5.8"/>
<circle cx="784.5" cy="1756.1" r="5.8"/>
<circle cx="785.9" cy="1747" r="5.8"/>
<circle cx="786" cy="1754.2" r="5.8"/>
<circle cx="786.5" cy="1747.4" r="5.8"/>
<circle cx="786.5" cy="1755.7" r="5.8"/>
<circle cx="786.9" cy="1755.3" r="5.8"/>
<circle cx="787.5" cy="1716.3" r="5.8"/>
<circle cx="787.8" cy="1737.3" r="5.8"/>
<circle cx="788.1" cy="1737.2" r="5.8"/>
<circle cx="789.2" cy="1733.1" r="5.8"/>
<circle cx="789.8" cy="1738.7" r="5.8"/>
<circle cx="791.5" cy="1704.3" r="5.8"/>
<circle cx="793.1" cy="1755.5" r="5.8"/>
<circle cx="793.5" cy="1753" r="5.8"/>
<circle cx="796.1" cy="1744.1" r="5.8"/>
<circle cx="796.5" cy="1744.7" r="5.8"/>
<circle cx="796.6" cy="1750.6" r="5.8"/>
<circle cx="796.8" cy="1749.7" r="5.8"/>
<circle cx="798" cy="1752.5" r="5.8"/>
<circle cx="798.3" cy="1732.5" r="5.8"/>
<circle cx="798.7" cy="1731.4" r="5.8"/>
<circle cx="799.7" cy="1742.8" r="5.8"/>
<circle cx="800" cy="1745.9" r="5.8"/>
<circle cx="801.3" cy="1752" r="5.8"/>
<circle cx="801.6" cy="1751.1" r="5.8"/>
<circle cx="802.5" cy="1729.6" r="5.8"/>
<circle cx="803.3" cy="1755.5" r="5.8"/>
<circle cx="803.9" cy="1748.2" r="5.8"/>
<circle cx="806" cy="1755.7" r="5.8"/>
<circle cx="806.8" cy="1754.8" r="5.8"/>
<circle cx="807.7" cy="1750.2" r="5.8"/>
<circle cx="808.5" cy="1756.4" r="5.8"/>
<circle cx="808.5" cy="1738.7" r="5.8"/>
<circle cx="809.7" cy="1756.2" r="5.8"/>
<circle cx="810.6" cy="1754.8" r="5.8"/>
<circle cx="810.7" cy="1755.4" r="5.8"/>
<circle cx="811.1" cy="1739.9" r="5.8"/>
<circle cx="811.2" cy="1754.7" r="5.8"/>
<circle cx="811.4" cy="1749.5" r="5.8"/>
<circle cx="811.6" cy="1718.5" r="5.8"/>
<circle cx="811.7" cy="1748.5" r="5.8"/>
<circle cx="812.2" cy="1750" r="5.8"/>
<circle cx="812.7" cy="1741.5" r="5.8"/>
<circle cx="813.8" cy="1740" r="5.8"/>
<circle cx="814" cy="1753.2" r="5.8"/>
<circle cx="814.3" cy="1727.1" r="5.8"/>
<circle cx="814.9" cy="1752.3" r="5.8"/>
<circle cx="815.1" cy="1752.9" r="5.8"/>
<circle cx="815.4" cy="1755.8" r="5.8"/>
<circle cx="815.7" cy="1711" r="5.8"/>
<circle cx="818.1" cy="1752.3" r="5.8"/>
<circle cx="818.8" cy="1755.1" r="5.8"/>
<circle cx="819.2" cy="1749.5" r="5.8"/>
<circle cx="819.7" cy="1755.2" r="5.8"/>
<circle cx="820.9" cy="1747.7" r="5.8"/>
<circle cx="821.4" cy="1737.1" r="5.8"/>
<circle cx="822.2" cy="1752.2" r="5.8"/>
<circle cx="824.1" cy="1747.4" r="5.8"/>
<circle cx="824.3" cy="1753.2" r="5.8"/>
<circle cx="824.7" cy="1748.2" r="5.8"/>
<circle cx="824.7" cy="1753.8" r="5.8"/>
<circle cx="825.4" cy="1745.7" r="5.8"/>
<circle cx="825.6" cy="1751.4" r="5.8"/>
<circle cx="825.8" cy="1734.8" r="5.8"/>
<circle cx="826.4" cy="1667.6" r="5.8"/>
<circle cx="827.4" cy="1754.5" r="5.8"/>
<circle cx="827.6" cy="1752" r="5.8"/>
<circle cx="828" cy="1738" r="5.8"/>
<circle cx="828.7" cy="1738.5" r="5.8"/>
<circle cx="829.2" cy="1751.2" r="5.8"/>
<circle cx="829.6" cy="1754" r="5.8"/>
<circle cx="829.6" cy="1733.3" r="5.8"/>
<circle cx="830.7" cy="1750.2" r="5.8"/>
<circle cx="833" cy="1747.2" r="5.8"/>
<circle cx="833.3" cy="1737.6" r="5.8"/>
<circle cx="834" cy="1753.2" r="5.8"/>
<circle cx="834.8" cy="1746.2" r="5.8"/>
<circle cx="835" cy="1755.7" r="5.8"/>
<circle cx="835.4" cy="1734.7" r="5.8"/>
<circle cx="836.3" cy="1750.2" r="5.8"/>
<circle cx="837.4" cy="1753.8" r="5.8"/>
<circle cx="837.6" cy="1752.4" r="5.8"/>
<circle cx="838.4" cy="1752.3" r="5.8"/>
<circle cx="839.9" cy="1745" r="5.8"/>
<circle cx="840.6" cy="1720.4" r="5.8"/>
<circle cx="842.9" cy="1732.3" r="5.8"/>
<circle cx="845.8" cy="1738" r="5.8"/>
<circle cx="846.6" cy="1753.9" r="5.8"/>
<circle cx="847.7" cy="1754" r="5.8"/>
<circle cx="847.8" cy="1719" r="5.8"/>
<circle cx="848" cy="1745.9" r="5.8"/>
<circle cx="848.7" cy="1748.4" r="5.8"/>
<circle cx="849.1" cy="1729.7" r="5.8"/>
<circle cx="849.2" cy="1755.7" r="5.8"/>
<circle cx="851.3" cy="1751" r="5.8"/>
<circle cx="853.3" cy="1736.4" r="5.8"/>
<circle cx="854" cy="1753.4" r="5.8"/>
<circle cx="854.4" cy="1755.8" r="5.8"/>
<circle cx="854.5" cy="1749" r="5.8"/>
<circle cx="855" cy="1739" r="5.8"/>
<circle cx="855.9" cy="1756.4" r="5.8"/>
<circle cx="856.7" cy="1739.9" r="5.8"/>
<circle cx="856.8" cy="1750.4" r="5.8"/>
<circle cx="857.7" cy="1738.3" r="5.8"/>
<circle cx="857.7" cy="1754" r="5.8"/>
<circle cx="858.1" cy="1750" r="5.8"/>
<circle cx="858.5" cy="1749.1" r="5.8"/>
<circle cx="859.1" cy="1755" r="5.8"/>
<circle cx="859.5" cy="1754" r="5.8"/>
<circle cx="859.6" cy="1747.1" r="5.8"/>
<circle cx="859.8" cy="1753.8" r="5.8"/>
<circle cx="860.6" cy="1753.7" r="5.8"/>
<circle cx="860.8" cy="1751.1" r="5.8"/>
<circle cx="861.5" cy="1743.5" r="5.8"/>
<circle cx="862.2" cy="1754.9" r="5.8"/>
<circle cx="863.5" cy="1744.3" r="5.8"/>
<circle cx="863.5" cy="1755.9" r="5.8"/>
<circle cx="863.9" cy="1737" r="5.8"/>
<circle cx="863.9" cy="1740.2" r="5.8"/>
<circle cx="864" cy="1752.4" r="5.8"/>
<circle cx="866.7" cy="1751.4" r="5.8"/>
<circle cx="867" cy="1752.9" r="5.8"/>
<circle cx="867.4" cy="1733.6" r="5.8"/>
<circle cx="868.4" cy="1743.5" r="5.8"/>
<circle cx="868.8" cy="1755.9" r="5.8"/>
<circle cx="868.8" cy="1754.8" r="5.8"/>
<circle cx="869.6" cy="1753.7" r="5.8"/>
<circle cx="870.6" cy="1723" r="5.8"/>
<circle cx="870.8" cy="1755.7" r="5.8"/>
<circle cx="871.7" cy="1751.9" r="5.8"/>
<circle cx="873" cy="1740.7" r="5.8"/>
<circle cx="873.3" cy="1748.6" r="5.8"/>
<circle cx="873.7" cy="1754.5" r="5.8"/>
<circle cx="874.4" cy="1749" r="5.8"/>
<circle cx="874.7" cy="1754" r="5.8"/>
<circle cx="874.9" cy="1734.2" r="5.8"/>
<circle cx="876.1" cy="1752.3" r="5.8"/>
<circle cx="876.4" cy="1747.5" r="5.8"/>
<circle cx="877.4" cy="1751.8" r="5.8"/>
<circle cx="877.9" cy="1751.8" r="5.8"/>
<circle cx="879.1" cy="1754.8" r="5.8"/>
<circle cx="879.4" cy="1755.1" r="5.8"/>
<circle cx="880" cy="1716.3" r="5.8"/>
<circle cx="880.2" cy="1755.2" r="5.8"/>
<circle cx="880.4" cy="1749.6" r="5.8"/>
<circle cx="880.4" cy="1755.9" r="5.8"/>
<circle cx="880.5" cy="1751.6" r="5.8"/>
<circle cx="881" cy="1748.1" r="5.8"/>
<circle cx="881" cy="1746" r="5.8"/>
<circle cx="882.1" cy="1755.1" r="5.8"/>
<circle cx="882.3" cy="1756.4" r="5.8"/>
<circle cx="884.5" cy="1756.3" r="5.8"/>
<circle cx="884.6" cy="1749.3" r="5.8"/>
<circle cx="885.4" cy="1742" r="5.8"/>
<circle cx="885.7" cy="1754.3" r="5.8"/>
<circle cx="886.9" cy="1742" r="5.8"/>
<circle cx="887.1" cy="1743.6" r="5.8"/>
<circle cx="887.1" cy="1754.5" r="5.8"/>
<circle cx="887.4" cy="1669.5" r="5.8"/>
<circle cx="888" cy="1689.6" r="5.8"/>
<circle cx="888" cy="1719.8" r="5.8"/>
<circle cx="888.2" cy="1742.4" r="5.8"/>
<circle cx="888.9" cy="1748.3" r="5.8"/>
<circle cx="889.4" cy="1755.3" r="5.8"/>
<circle cx="889.6" cy="1746.9" r="5.8"/>
<circle cx="891.4" cy="1750.2" r="5.8"/>
<circle cx="891.8" cy="1747.8" r="5.8"/>
<circle cx="892.6" cy="1746" r="5.8"/>
<circle cx="892.9" cy="1750" r="5.8"/>
<circle cx="894.1" cy="1755.7" r="5.8"/>
<circle cx="894.3" cy="1756.3" r="5.8"/>
<circle cx="894.3" cy="1742.4" r="5.8"/>
<circle cx="895.9" cy="1756" r="5.8"/>
<circle cx="896" cy="1748.7" r="5.8"/>
<circle cx="896.1" cy="1744.7" r="5.8"/>
<circle cx="896.4" cy="1740.1" r="5.8"/>
<circle cx="896.8" cy="1742.8" r="5.8"/>
<circle cx="897.5" cy="1739" r="5.8"/>
<circle cx="897.7" cy="1737.7" r="5.8"/>
<circle cx="899.1" cy="1747.4" r="5.8"/>
<circle cx="900" cy="1737.8" r="5.8"/>
<circle cx="900.2" cy="1756.2" r="5.8"/>
<circle cx="900.3" cy="1751.7" r="5.8"/>
<circle cx="900.5" cy="1745.3" r="5.8"/>
<circle cx="901.5" cy="1745.4" r="5.8"/>
<circle cx="901.8" cy="1749" r="5.8"/>
<circle cx="905.3" cy="1756.2" r="5.8"/>
<circle cx="905.6" cy="1753.5" r="5.8"/>
<circle cx="907.1" cy="1737.6" r="5.8"/>
<circle cx="908.2" cy="1751.5" r="5.8"/>
<circle cx="908.2" cy="1740.5" r="5.8"/>
<circle cx="908.9" cy="1750.1" r="5.8"/>
<circle cx="909.1" cy="1747.2" r="5.8"/>
<circle cx="909.2" cy="1738.5" r="5.8"/>
<circle cx="909.3" cy="1731.9" r="5.8"/>
<circle cx="909.4" cy="1741.1" r="5.8"/>
<circle cx="909.9" cy="1752.3" r="5.8"/>
<circle cx="910.9" cy="1734.4" r="5.8"/>
<circle cx="911.5" cy="1749.2" r="5.8"/>
<circle cx="911.8" cy="1738.7" r="5.8"/>
<circle cx="912.7" cy="1754.3" r="5.8"/>
<circle cx="912.9" cy="1722.5" r="5.8"/>
<circle cx="912.9" cy="1750.4" r="5.8"/>
<circle cx="915" cy="1750.2" r="5.8"/>
<circle cx="915.1" cy="1741" r="5.8"/>
<circle cx="915.3" cy="1737.6" r="5.8"/>
<circle cx="916.6" cy="1743.8" r="5.8"/>
<circle cx="917.2" cy="1755.5" r="5.8"/>
<circle cx="917.4" cy="1705.6" r="5.8"/>
<circle cx="917.4" cy="1712.3" r="5.8"/>
<circle cx="917.4" cy="1750.3" r="5.8"/>
<circle cx="918.5" cy="1745.9" r="5.8"/>
<circle cx="920.7" cy="1753.5" r="5.8"/>
<circle cx="920.7" cy="1751.9" r="5.8"/>
<circle cx="921.3" cy="1752.7" r="5.8"/>
<circle cx="921.5" cy="1751.9" r="5.8"/>
<circle cx="922.3" cy="1750.9" r="5.8"/>
<circle cx="923.4" cy="1747.9" r="5.8"/>
<circle cx="923.7" cy="1749.3" r="5.8"/>
<circle cx="924" cy="1738.9" r="5.8"/>
<circle cx="924.1" cy="1755.7" r="5.8"/>
<circle cx="925.6" cy="1755.6" r="5.8"/>
<circle cx="925.8" cy="1755.3" r="5.8"/>
<circle cx="926" cy="1735.2" r="5.8"/>
<circle cx="926.6" cy="1755.5" r="5.8"/>
<circle cx="927" cy="1745.1" r="5.8"/>
<circle cx="927.8" cy="1736.5" r="5.8"/>
<circle cx="928.2" cy="1737.8" r="5.8"/>
<circle cx="928.4" cy="1750.3" r="5.8"/>
<circle cx="930.7" cy="1750.7" r="5.8"/>
<circle cx="931.2" cy="1749.7" r="5.8"/>
<circle cx="932" cy="1742" r="5.8"/>
<circle cx="932.2" cy="1733.2" r="5.8"/>
<circle cx="932.4" cy="1755.2" r="5.8"/>
<circle cx="932.7" cy="1754.6" r="5.8"/>
<circle cx="932.8" cy="1748.4" r="5.8"/>
<circle cx="932.9" cy="1732.5" r="5.8"/>
<circle cx="933.2" cy="1748.8" r="5.8"/>
<circle cx="933.2" cy="1742.8" r="5.8"/>
<circle cx="934.9" cy="1727.1" r="5.8"/>
<circle cx="935.1" cy="1750.2" r="5.8"/>
<circle cx="935.2" cy="1755.1" r="5.8"/>
<circle cx="936.3" cy="1750" r="5.8"/>
<circle cx="936.6" cy="1756.1" r="5.8"/>
<circle cx="936.9" cy="1752.9" r="5.8"/>
<circle cx="937.5" cy="1754.8" r="5.8"/>
<circle cx="938.2" cy="1734.9" r="5.8"/>
<circle cx="939.1" cy="1751.7" r="5.8"/>
<circle cx="939.7" cy="1668.1" r="5.8"/>
<circle cx="939.9" cy="1755.2" r="5.8"/>
<circle cx="940.2" cy="1754.3" r="5.8"/>
<circle cx="940.7" cy="1748.8" r="5.8"/>
<circle cx="941.4" cy="1747.2" r="5.8"/>
<circle cx="941.5" cy="1752.3" r="5.8"/>
<circle cx="941.7" cy="1753.1" r="5.8"/>
<circle cx="942.5" cy="1747.5" r="5.8"/>
<circle cx="943.8" cy="1754.4" r="5.8"/>
<circle cx="944.2" cy="1732.4" r="5.8"/>
<circle cx="944.3" cy="1744" r="5.8"/>
<circle cx="944.7" cy="1739.8" r="5.8"/>
<circle cx="945.6" cy="1685.5" r="5.8"/>
<circle cx="946.3" cy="1752.6" r="5.8"/>
<circle cx="946.5" cy="1756.3" r="5.8"/>
<circle cx="947.4" cy="1737.6" r="5.8"/>
<circle cx="949.4" cy="1749.1" r="5.8"/>
<circle cx="949.6" cy="1752.1" r="5.8"/>
<circle cx="950.6" cy="1749.4" r="5.8"/>
<circle cx="951.3" cy="1756.4" r="5.8"/>
<circle cx="951.6" cy="1742.8" r="5.8"/>
<circle cx="951.9" cy="1754.5" r="5.8"/>
<circle cx="952.1" cy="1734.5" r="5.8"/>
<circle cx="952.8" cy="1755.7" r="5.8"/>
<circle cx="953" cy="1740.5" r="5.8"/>
<circle cx="953.4" cy="1755.5" r="5.8"/>
<circle cx="954.1" cy="1751.3" r="5.8"/>
<circle cx="954.1" cy="1752.7" r="5.8"/>
<circle cx="954.1" cy="1737" r="5.8"/>
<circle cx="955.3" cy="1754.1" r="5.8"/>
<circle cx="956.2" cy="1754.5" r="5.8"/>
<circle cx="956.4" cy="1751.6" r="5.8"/>
<circle cx="956.8" cy="1754.6" r="5.8"/>
<circle cx="957.4" cy="1751.3" r="5.8"/>
<circle cx="957.9" cy="1737.2" r="5.8"/>
<circle cx="959" cy="1732.4" r="5.8"/>
<circle cx="960.2" cy="1754.9" r="5.8"/>
<circle cx="961" cy="1731" r="5.8"/>
<circle cx="961.5" cy="1746.9" r="5.8"/>
<circle cx="961.6" cy="1748.4" r="5.8"/>
<circle cx="962.7" cy="1738.5" r="5.8"/>
<circle cx="962.9" cy="1750.3" r="5.8"/>
<circle cx="963.3" cy="1752.1" r="5.8"/>
<circle cx="963.3" cy="1750.8" r="5.8"/>
<circle cx="964.1" cy="1741.5" r="5.8"/>
<circle cx="964.2" cy="1739.6" r="5.8"/>
<circle cx="964.4" cy="1753.6" r="5.8"/>
<circle cx="964.8" cy="1736.7" r="5.8"/>
<circle cx="965.2" cy="1745.9" r="5.8"/>
<circle cx="965.9" cy="1750.7" r="5.8"/>
<circle cx="966.7" cy="1748.2" r="5.8"/>
<circle cx="966.8" cy="1746.4" r="5.8"/>
<circle cx="967.9" cy="1753.5" r="5.8"/>
<circle cx="968.3" cy="1756.2" r="5.8"/>
<circle cx="969.7" cy="1721.7" r="5.8"/>
<circle cx="970.2" cy="1731.8" r="5.8"/>
<circle cx="970.5" cy="1751.2" r="5.8"/>
<circle cx="971" cy="1687.4" r="5.8"/>
<circle cx="971.7" cy="1733.9" r="5.8"/>
<circle cx="972" cy="1738.8" r="5.8"/>
<circle cx="972" cy="1750.6" r="5.8"/>
<circle cx="972.6" cy="1745.8" r="5.8"/>
<circle cx="972.8" cy="1748" r="5.8"/>
<circle cx="973.4" cy="1751.5" r="5.8"/>
<circle cx="973.6" cy="1756.3" r="5.8"/>
<circle cx="973.6" cy="1745.6" r="5.8"/>
<circle cx="976" cy="1748.6" r="5.8"/>
<circle cx="976" cy="1749.6" r="5.8"/>
<circle cx="976.5" cy="1749.5" r="5.8"/>
<circle cx="977.4" cy="1752.2" r="5.8"/>
<circle cx="977.7" cy="1750.6" r="5.8"/>
<circle cx="978.9" cy="1749.6" r="5.8"/>
<circle cx="979.1" cy="1725.7" r="5.8"/>
<circle cx="979.3" cy="1735.1" r="5.8"/>
<circle cx="979.4" cy="1750" r="5.8"/>
<circle cx="979.9" cy="1740.2" r="5.8"/>
<circle cx="979.9" cy="1742.8" r="5.8"/>
<circle cx="980.4" cy="1734.8" r="5.8"/>
<circle cx="981.3" cy="1749" r="5.8"/>
<circle cx="982.8" cy="1752.2" r="5.8"/>
<circle cx="984.4" cy="1748.6" r="5.8"/>
<circle cx="984.4" cy="1750.1" r="5.8"/>
<circle cx="984.5" cy="1727.3" r="5.8"/>
<circle cx="984.8" cy="1752.5" r="5.8"/>
<circle cx="985.4" cy="1744.6" r="5.8"/>
<circle cx="986.4" cy="1732.4" r="5.8"/>
<circle cx="987" cy="1736.2" r="5.8"/>
<circle cx="987.1" cy="1755.8" r="5.8"/>
<circle cx="987.6" cy="1690.9" r="5.8"/>
<circle cx="988.8" cy="1752.1" r="5.8"/>
<circle cx="989.3" cy="1738.1" r="5.8"/>
<circle cx="989.9" cy="1739.4" r="5.8"/>
<circle cx="991" cy="1749.3" r="5.8"/>
<circle cx="991.1" cy="1756.1" r="5.8"/>
<circle cx="991.7" cy="1751.8" r="5.8"/>
<circle cx="993.7" cy="1750.8" r="5.8"/>
<circle cx="995.5" cy="1733.6" r="5.8"/>
<circle cx="996.2" cy="1752.9" r="5.8"/>
<circle cx="996.3" cy="1751.7" r="5.8"/>
<circle cx="996.3" cy="1747.5" r="5.8"/>
<circle cx="996.4" cy="1749.3" r="5.8"/>
<circle cx="996.5" cy="1726.3" r="5.8"/>
<circle cx="996.5" cy="1743.6" r="5.8"/>
<circle cx="996.5" cy="1748.7" r="5.8"/>
<circle cx="996.5" cy="1754.9" r="5.8"/>
<circle cx="996.8" cy="1749" r="5.8"/>
<circle cx="997.7" cy="1754.5" r="5.8"/>
<circle cx="998" cy="1752.3" r="5.8"/>
<circle cx="998" cy="1753.6" r="5.8"/>
<circle cx="998.3" cy="1756.1" r="5.8"/>
<circle cx="998.6" cy="1754.7" r="5.8"/>
<circle cx="998.7" cy="1748.7" r="5.8"/>
<circle cx="999.1" cy="1751.4" r="5.8"/>
<circle cx="1000.1" cy="1742.6" r="5.8"/>
<circle cx="1001.3" cy="1751.9" r="5.8"/>
<circle cx="1001.5" cy="1751.1" r="5.8"/>
<circle cx="1001.9" cy="1753.6" r="5.8"/>
</g>
<g fill="#4dac26" fill-opacity="0.6">
<circle cx="524" cy="1466.3" r="5.8"/>
<circle cx="531.7" cy="1736.4" r="5.8"/>
<circle cx="534.4" cy="1749.8" r="5.8"/>
</g>
</g>
<rect x="54" y="1364.6" width="948.5" height="391.8" fill="none" stroke="#1a1a1a" stroke-width="1.7"/>
<line x1="49.5" y1="1756.4" x2="54" y2="1756.4" stroke="#1a1a1a" stroke-width="1.5"/>
<line x1="49.5" y1="1700.4" x2="54" y2="1700.4" stroke="#1a1a1a" stroke-width="1.5"/>
<line x1="49.5" y1="1644.5" x2="54" y2="1644.5" stroke="#1a1a1a" stroke-width="1.5"/>
<line x1="49.5" y1="1588.5" x2="54" y2="1588.5" stroke="#1a1a1a" stroke-width="1.5"/>
<line x1="49.5" y1="1532.5" x2="54" y2="1532.5" stroke="#1a1a1a" stroke-width="1.5"/>
<line x1="49.5" y1="1476.5" x2="54" y2="1476.5" stroke="#1a1a1a" stroke-width="1.5"/>
<line x1="49.5" y1="1420.6" x2="54" y2="1420.6" stroke="#1a1a1a" stroke-width="1.5"/>
<line x1="49.5" y1="1364.6" x2="54" y2="1364.6" stroke="#1a1a1a" stroke-width="1.5"/>
<line x1="279.8" y1="1756.4" x2="279.8" y2="1760.9" stroke="#1a1a1a" stroke-width="1.5"/>
<line x1="512.7" y1="1756.4" x2="512.7" y2="1760.9" stroke="#1a1a1a" stroke-width="1.5"/>
<line x1="745.1" y1="1756.4" x2="745.1" y2="1760.9" stroke="#1a1a1a" stroke-width="1.5"/>
<line x1="976.9" y1="1756.4" x2="976.9" y2="1760.9" stroke="#1a1a1a" stroke-width="1.5"/>
<g font-family="DejaVu Sans Condensed, DejaVu Sans, sans-serif" font-weight="bold" font-stretch="condensed" font-size="17.3" fill="#000" clip-path="url(#clipL)"><text transform="translate(46.5,1761.8) scale(1,1.1)" text-anchor="end">0</text><text transform="translate(46.5,1705.8) scale(1,1.1)" text-anchor="end">2</text><text transform="translate(46.5,1649.9) scale(1,1.1)" text-anchor="end">4</text><text transform="translate(46.5,1593.9) scale(1,1.1)" text-anchor="end">6</text><text transform="translate(46.5,1537.9) scale(1,1.1)" text-anchor="end">8</text><text transform="translate(46.5,1481.9) scale(1,1.1)" text-anchor="end">10</text><text transform="translate(46.5,1426.0) scale(1,1.1)" text-anchor="end">12</text><text transform="translate(46.5,1370.0) scale(1,1.1)" text-anchor="end">14</text><text transform="translate(279.8,1776.4) scale(1,1.1)" text-anchor="middle">85500000</text><text transform="translate(512.7,1776.4) scale(1,1.1)" text-anchor="middle">86000000</text><text transform="translate(745.1,1776.4) scale(1,1.1)" text-anchor="middle">86500000</text><text transform="translate(976.9,1776.4) scale(1,1.1)" text-anchor="middle">87000000</text></g>
<text font-family="DejaVu Sans, sans-serif" font-weight="bold" font-size="20.5" x="528.2" y="1799.7" text-anchor="middle" stroke="#000" stroke-width="0.4">Chromosome Position</text>
<text font-family="DejaVu Sans, sans-serif" font-weight="bold" font-size="20.5" transform="translate(17.0,1560.5) rotate(-90)" text-anchor="middle" stroke="#000" stroke-width="0.4">-log10Pvalue</text>
<rect x="886.0" y="1377.6" width="31.5" height="11.3" fill="#fdb672"/>
<text font-family="DejaVu Sans Condensed, DejaVu Sans, sans-serif" font-weight="bold" font-stretch="condensed" font-size="14.9" transform="translate(930.0,1389.4) scale(1,1.1)">flanking</text>
<rect x="886.0" y="1400.2" width="31.5" height="11.3" fill="#4fb320"/>
<text font-family="DejaVu Sans Condensed, DejaVu Sans, sans-serif" font-weight="bold" font-stretch="condensed" font-size="14.9" transform="translate(930.0,1412.0) scale(1,1.1)">intron</text>
<rect x="886.0" y="1422.8" width="31.5" height="11.3" fill="#a947bb"/>
<text font-family="DejaVu Sans Condensed, DejaVu Sans, sans-serif" font-weight="bold" font-stretch="condensed" font-size="14.9" transform="translate(930.0,1434.6) scale(1,1.1)">exon</text>
<g stroke="#fff" stroke-width="4" fill="#fff" stroke-linejoin="round"><line x1="520.0" y1="1456.8" x2="527.0" y2="1456.8"/><path d="M535.0,1456.8 L527.0,1452.8 L527.0,1460.8 Z"/></g>
<line x1="520.0" y1="1456.8" x2="527.0" y2="1456.8" stroke="#000" stroke-width="1.6"/>
<path d="M535.0,1456.8 L527.0,1452.8 L527.0,1460.8 Z" fill="#000"/>
<text font-family="DejaVu Sans, sans-serif" font-weight="bold" font-size="15.5" x="547.7" y="1453.3" text-anchor="middle" stroke="#fff" stroke-width="3" paint-order="stroke" stroke-linejoin="round">C11orf73</text>
<text font-family="Liberation Sans, Arial, sans-serif" font-weight="bold" font-size="46" x="12" y="1279.2">e</text>
</g>
<g id="panel-f">
<rect x="1606.3" y="1364.6" width="85.2" height="391.8" fill="rgb(128,128,128)" fill-opacity="0.32" stroke="rgb(128,128,128)" stroke-opacity="0.32" stroke-width="1.5"/>
<g clip-path="url(#clipf)" stroke="rgb(128,118,110)" stroke-opacity="0.6" stroke-width="1.65">
<g fill="#fdae61" fill-opacity="0.6">
<circle cx="1188.9" cy="1753.7" r="5.8"/>
<circle cx="1192.5" cy="1745.4" r="5.8"/>
<circle cx="1192.7" cy="1749.2" r="5.8"/>
<circle cx="1192.8" cy="1733" r="5.8"/>
<circle cx="1192.9" cy="1746.2" r="5.8"/>
<circle cx="1194.1" cy="1715.1" r="5.8"/>
<circle cx="1194.6" cy="1694.2" r="5.8"/>
<circle cx="1196.7" cy="1746.7" r="5.8"/>
<circle cx="1198.6" cy="1755.7" r="5.8"/>
<circle cx="1200.5" cy="1752.7" r="5.8"/>
<circle cx="1201" cy="1749.8" r="5.8"/>
<circle cx="1207.6" cy="1748.3" r="5.8"/>
<circle cx="1209" cy="1752.7" r="5.8"/>
<circle cx="1214.1" cy="1750.2" r="5.8"/>
<circle cx="1219.5" cy="1751.6" r="5.8"/>
<circle cx="1221.7" cy="1744.9" r="5.8"/>
<circle cx="1222.8" cy="1747.8" r="5.8"/>
<circle cx="1224.4" cy="1749.5" r="5.8"/>
<circle cx="1225.7" cy="1744.6" r="5.8"/>
<circle cx="1226.1" cy="1751.8" r="5.8"/>
<circle cx="1226.2" cy="1753.2" r="5.8"/>
<circle cx="1226.3" cy="1747.3" r="5.8"/>
<circle cx="1227.1" cy="1751" r="5.8"/>
<circle cx="1231.8" cy="1747.8" r="5.8"/>
<circle cx="1232.8" cy="1751.4" r="5.8"/>
<circle cx="1234.3" cy="1754.9" r="5.8"/>
<circle cx="1235.6" cy="1755" r="5.8"/>
<circle cx="1238.3" cy="1737.9" r="5.8"/>
<circle cx="1239.7" cy="1744.2" r="5.8"/>
<circle cx="1242.7" cy="1746" r="5.8"/>
<circle cx="1243.6" cy="1754.8" r="5.8"/>
<circle cx="1245.9" cy="1755.7" r="5.8"/>
<circle cx="1253" cy="1724.5" r="5.8"/>
<circle cx="1257.7" cy="1755.6" r="5.8"/>
<circle cx="1259.2" cy="1755.5" r="5.8"/>
<circle cx="1261.1" cy="1739.2" r="5.8"/>
<circle cx="1261.1" cy="1752.7" r="5.8"/>
<circle cx="1262.5" cy="1747" r="5.8"/>
<circle cx="1263" cy="1753.2" r="5.8"/>
<circle cx="1264.6" cy="1751" r="5.8"/>
<circle cx="1265" cy="1755.6" r="5.8"/>
<circle cx="1267.8" cy="1701.7" r="5.8"/>
<circle cx="1268.4" cy="1754" r="5.8"/>
<circle cx="1272.5" cy="1755.4" r="5.8"/>
<circle cx="1276" cy="1754.5" r="5.8"/>
<circle cx="1278.2" cy="1746.4" r="5.8"/>
<circle cx="1281.3" cy="1756.1" r="5.8"/>
<circle cx="1285.4" cy="1752.8" r="5.8"/>
<circle cx="1287.2" cy="1753.9" r="5.8"/>
<circle cx="1290.6" cy="1746.3" r="5.8"/>
<circle cx="1291.2" cy="1756.2" r="5.8"/>
<circle cx="1292.5" cy="1753.7" r="5.8"/>
<circle cx="1292.6" cy="1743.3" r="5.8"/>
<circle cx="1293" cy="1725.8" r="5.8"/>
<circle cx="1293.7" cy="1756.1" r="5.8"/>
<circle cx="1294.5" cy="1741.5" r="5.8"/>
<circle cx="1295.2" cy="1752.1" r="5.8"/>
<circle cx="1295.3" cy="1745.8" r="5.8"/>
<circle cx="1295.7" cy="1744.5" r="5.8"/>
<circle cx="1295.9" cy="1720.5" r="5.8"/>
<circle cx="1297.2" cy="1691" r="5.8"/>
<circle cx="1298.1" cy="1755.8" r="5.8"/>
<circle cx="1298.2" cy="1747.7" r="5.8"/>
<circle cx="1299.6" cy="1755.2" r="5.8"/>
<circle cx="1299.9" cy="1750.3" r="5.8"/>
<circle cx="1301.5" cy="1729.9" r="5.8"/>
<circle cx="1302.6" cy="1720.5" r="5.8"/>
<circle cx="1302.7" cy="1749.4" r="5.8"/>
<circle cx="1302.8" cy="1744.7" r="5.8"/>
<circle cx="1303.2" cy="1756.3" r="5.8"/>
<circle cx="1303.2" cy="1749.3" r="5.8"/>
<circle cx="1303.4" cy="1742.4" r="5.8"/>
<circle cx="1304.8" cy="1739.1" r="5.8"/>
<circle cx="1307.4" cy="1755.4" r="5.8"/>
<circle cx="1307.4" cy="1737" r="5.8"/>
<circle cx="1307.4" cy="1730.6" r="5.8"/>
<circle cx="1308.4" cy="1743.8" r="5.8"/>
<circle cx="1309.5" cy="1751.4" r="5.8"/>
<circle cx="1309.8" cy="1752.9" r="5.8"/>
<circle cx="1311" cy="1751.6" r="5.8"/>
<circle cx="1311.8" cy="1755.1" r="5.8"/>
<circle cx="1312.1" cy="1734.5" r="5.8"/>
<circle cx="1312.4" cy="1748.9" r="5.8"/>
<circle cx="1313" cy="1756.3" r="5.8"/>
<circle cx="1313.2" cy="1746.8" r="5.8"/>
<circle cx="1313.2" cy="1748.4" r="5.8"/>
<circle cx="1314.7" cy="1747.9" r="5.8"/>
<circle cx="1315.2" cy="1749.8" r="5.8"/>
<circle cx="1316.2" cy="1737" r="5.8"/>
<circle cx="1316.3" cy="1754.1" r="5.8"/>
<circle cx="1317.8" cy="1752.7" r="5.8"/>
<circle cx="1318.4" cy="1754" r="5.8"/>
<circle cx="1319.1" cy="1731.9" r="5.8"/>
<circle cx="1319.8" cy="1752" r="5.8"/>
<circle cx="1320.4" cy="1737.3" r="5.8"/>
<circle cx="1320.8" cy="1740.1" r="5.8"/>
<circle cx="1321" cy="1746.9" r="5.8"/>
<circle cx="1321.4" cy="1726.6" r="5.8"/>
<circle cx="1321.5" cy="1752.4" r="5.8"/>
<circle cx="1322.1" cy="1737.8" r="5.8"/>
<circle cx="1323.2" cy="1707.6" r="5.8"/>
<circle cx="1323.6" cy="1742.4" r="5.8"/>
<circle cx="1323.8" cy="1747.8" r="5.8"/>
<circle cx="1324.7" cy="1756" r="5.8"/>
<circle cx="1326.1" cy="1750" r="5.8"/>
<circle cx="1326.8" cy="1725.6" r="5.8"/>
<circle cx="1327" cy="1752.7" r="5.8"/>
<circle cx="1328.6" cy="1751.8" r="5.8"/>
<circle cx="1328.7" cy="1754.9" r="5.8"/>
<circle cx="1329.7" cy="1750.3" r="5.8"/>
<circle cx="1330.1" cy="1743.1" r="5.8"/>
<circle cx="1330.4" cy="1749.4" r="5.8"/>
<circle cx="1330.5" cy="1749.4" r="5.8"/>
<circle cx="1330.7" cy="1744.7" r="5.8"/>
<circle cx="1330.8" cy="1753.6" r="5.8"/>
<circle cx="1331.4" cy="1752.2" r="5.8"/>
<circle cx="1331.4" cy="1755.1" r="5.8"/>
<circle cx="1333.6" cy="1755.6" r="5.8"/>
<circle cx="1334.2" cy="1745.3" r="5.8"/>
<circle cx="1334.6" cy="1735" r="5.8"/>
<circle cx="1334.7" cy="1738.3" r="5.8"/>
<circle cx="1335.7" cy="1755.2" r="5.8"/>
<circle cx="1336" cy="1755.8" r="5.8"/>
<circle cx="1336.2" cy="1751.7" r="5.8"/>
<circle cx="1338" cy="1749.2" r="5.8"/>
<circle cx="1338.9" cy="1749.9" r="5.8"/>
<circle cx="1339.8" cy="1754.2" r="5.8"/>
<circle cx="1341.2" cy="1739.2" r="5.8"/>
<circle cx="1341.4" cy="1746.9" r="5.8"/>
<circle cx="1342.2" cy="1721.8" r="5.8"/>
<circle cx="1343" cy="1737" r="5.8"/>
<circle cx="1343.2" cy="1742.5" r="5.8"/>
<circle cx="1343.4" cy="1753.2" r="5.8"/>
<circle cx="1344" cy="1749.9" r="5.8"/>
<circle cx="1344.7" cy="1741.7" r="5.8"/>
<circle cx="1345.3" cy="1749.8" r="5.8"/>
<circle cx="1346.1" cy="1748.6" r="5.8"/>
<circle cx="1347" cy="1752.5" r="5.8"/>
<circle cx="1347.2" cy="1748.2" r="5.8"/>
<circle cx="1347.4" cy="1747.6" r="5.8"/>
<circle cx="1348.4" cy="1752.4" r="5.8"/>
<circle cx="1348.8" cy="1739.7" r="5.8"/>
<circle cx="1351.4" cy="1751" r="5.8"/>
<circle cx="1351.6" cy="1751.4" r="5.8"/>
<circle cx="1351.8" cy="1752.7" r="5.8"/>
<circle cx="1354.2" cy="1743.2" r="5.8"/>
<circle cx="1354.4" cy="1741.3" r="5.8"/>
<circle cx="1355.7" cy="1744.4" r="5.8"/>
<circle cx="1357.2" cy="1756.3" r="5.8"/>
<circle cx="1357.7" cy="1739.6" r="5.8"/>
<circle cx="1360.1" cy="1746.1" r="5.8"/>
<circle cx="1360.6" cy="1755.2" r="5.8"/>
<circle cx="1360.7" cy="1752.6" r="5.8"/>
<circle cx="1361.2" cy="1749.3" r="5.8"/>
<circle cx="1362.9" cy="1753.2" r="5.8"/>
<circle cx="1363.1" cy="1756" r="5.8"/>
<circle cx="1363.4" cy="1741.9" r="5.8"/>
<circle cx="1364.2" cy="1754.8" r="5.8"/>
<circle cx="1365.1" cy="1753.7" r="5.8"/>
<circle cx="1365.2" cy="1754" r="5.8"/>
<circle cx="1366.1" cy="1739.9" r="5.8"/>
<circle cx="1366.3" cy="1754" r="5.8"/>
<circle cx="1366.9" cy="1755.8" r="5.8"/>
<circle cx="1367" cy="1738.6" r="5.8"/>
<circle cx="1367.4" cy="1734.5" r="5.8"/>
<circle cx="1367.4" cy="1751.9" r="5.8"/>
<circle cx="1367.5" cy="1740.6" r="5.8"/>
<circle cx="1369.7" cy="1737.8" r="5.8"/>
<circle cx="1369.8" cy="1746" r="5.8"/>
<circle cx="1370.4" cy="1733.7" r="5.8"/>
<circle cx="1370.8" cy="1751.5" r="5.8"/>
<circle cx="1372.3" cy="1749.1" r="5.8"/>
<circle cx="1373.6" cy="1736.1" r="5.8"/>
<circle cx="1374.5" cy="1744.8" r="5.8"/>
<circle cx="1376.1" cy="1755.2" r="5.8"/>
<circle cx="1376.5" cy="1749.6" r="5.8"/>
<circle cx="1378.3" cy="1756.3" r="5.8"/>
<circle cx="1379.7" cy="1744.5" r="5.8"/>
<circle cx="1380.3" cy="1723.1" r="5.8"/>
<circle cx="1380.4" cy="1736.4" r="5.8"/>
<circle cx="1381.9" cy="1736.5" r="5.8"/>
<circle cx="1382.6" cy="1733.3" r="5.8"/>
<circle cx="1383" cy="1755.9" r="5.8"/>
<circle cx="1383.2" cy="1747.9" r="5.8"/>
<circle cx="1383.3" cy="1744.1" r="5.8"/>
<circle cx="1383.6" cy="1750.7" r="5.8"/>
<circle cx="1384.3" cy="1729.8" r="5.8"/>
<circle cx="1384.3" cy="1755.9" r="5.8"/>
<circle cx="1384.5" cy="1740.9" r="5.8"/>
<circle cx="1384.6" cy="1744.2" r="5.8"/>
<circle cx="1385.4" cy="1753.3" r="5.8"/>
<circle cx="1386" cy="1748.5" r="5.8"/>
<circle cx="1386.6" cy="1741.4" r="5.8"/>
<circle cx="1386.6" cy="1754.1" r="5.8"/>
<circle cx="1387.6" cy="1742.1" r="5.8"/>
<circle cx="1388.6" cy="1732.6" r="5.8"/>
<circle cx="1389.1" cy="1704.9" r="5.8"/>
<circle cx="1390.7" cy="1741.3" r="5.8"/>
<circle cx="1392.1" cy="1746.6" r="5.8"/>
<circle cx="1393" cy="1750.8" r="5.8"/>
<circle cx="1393" cy="1744.2" r="5.8"/>
<circle cx="1394" cy="1751.8" r="5.8"/>
<circle cx="1395" cy="1738.6" r="5.8"/>
<circle cx="1395.2" cy="1747.3" r="5.8"/>
<circle cx="1395.6" cy="1748.6" r="5.8"/>
<circle cx="1397.7" cy="1738.3" r="5.8"/>
<circle cx="1398.3" cy="1749.9" r="5.8"/>
<circle cx="1398.6" cy="1754.1" r="5.8"/>
<circle cx="1399.9" cy="1742.2" r="5.8"/>
<circle cx="1400.1" cy="1745.8" r="5.8"/>
<circle cx="1400.4" cy="1725.8" r="5.8"/>
<circle cx="1401.4" cy="1750.7" r="5.8"/>
<circle cx="1401.6" cy="1742.5" r="5.8"/>
<circle cx="1402.3" cy="1740.8" r="5.8"/>
<circle cx="1403.1" cy="1707.1" r="5.8"/>
<circle cx="1403.5" cy="1738.3" r="5.8"/>
<circle cx="1403.8" cy="1751.8" r="5.8"/>
<circle cx="1403.9" cy="1736.1" r="5.8"/>
<circle cx="1404.5" cy="1736.7" r="5.8"/>
<circle cx="1404.8" cy="1741" r="5.8"/>
<circle cx="1405.4" cy="1751.3" r="5.8"/>
<circle cx="1406" cy="1748.2" r="5.8"/>
<circle cx="1407.7" cy="1745" r="5.8"/>
<circle cx="1408.6" cy="1752.3" r="5.8"/>
<circle cx="1409" cy="1748.1" r="5.8"/>
<circle cx="1409.2" cy="1728" r="5.8"/>
<circle cx="1410.6" cy="1742" r="5.8"/>
<circle cx="1410.6" cy="1749.4" r="5.8"/>
<circle cx="1411.9" cy="1753.2" r="5.8"/>
<circle cx="1412.7" cy="1740.3" r="5.8"/>
<circle cx="1413.3" cy="1753.2" r="5.8"/>
<circle cx="1414.3" cy="1745.5" r="5.8"/>
<circle cx="1416" cy="1743.4" r="5.8"/>
<circle cx="1416.3" cy="1750.1" r="5.8"/>
<circle cx="1416.3" cy="1736.1" r="5.8"/>
<circle cx="1416.4" cy="1684.8" r="5.8"/>
<circle cx="1417" cy="1666.1" r="5.8"/>
<circle cx="1417" cy="1711.1" r="5.8"/>
<circle cx="1417.2" cy="1755.3" r="5.8"/>
<circle cx="1417.3" cy="1750.1" r="5.8"/>
<circle cx="1417.4" cy="1748.7" r="5.8"/>
<circle cx="1417.8" cy="1731.2" r="5.8"/>
<circle cx="1418" cy="1747.3" r="5.8"/>
<circle cx="1418.1" cy="1755.8" r="5.8"/>
<circle cx="1418.2" cy="1744.7" r="5.8"/>
<circle cx="1418.9" cy="1743.9" r="5.8"/>
<circle cx="1420.7" cy="1753.6" r="5.8"/>
<circle cx="1422.2" cy="1742.5" r="5.8"/>
<circle cx="1422.9" cy="1740.7" r="5.8"/>
<circle cx="1424.3" cy="1752.1" r="5.8"/>
<circle cx="1426.1" cy="1753.4" r="5.8"/>
<circle cx="1426.2" cy="1743.7" r="5.8"/>
<circle cx="1426.6" cy="1720.5" r="5.8"/>
<circle cx="1427" cy="1752.6" r="5.8"/>
<circle cx="1427" cy="1755.9" r="5.8"/>
<circle cx="1427.4" cy="1751.1" r="5.8"/>
<circle cx="1429.3" cy="1756.4" r="5.8"/>
<circle cx="1429.8" cy="1748.4" r="5.8"/>
<circle cx="1429.8" cy="1708.4" r="5.8"/>
<circle cx="1430.9" cy="1755.8" r="5.8"/>
<circle cx="1431.1" cy="1741.6" r="5.8"/>
<circle cx="1431.6" cy="1754.9" r="5.8"/>
<circle cx="1432" cy="1749" r="5.8"/>
<circle cx="1432" cy="1755.6" r="5.8"/>
<circle cx="1432.9" cy="1755.2" r="5.8"/>
<circle cx="1433" cy="1752.2" r="5.8"/>
<circle cx="1434.2" cy="1734.1" r="5.8"/>
<circle cx="1434.7" cy="1751.6" r="5.8"/>
<circle cx="1435.2" cy="1741" r="5.8"/>
<circle cx="1435.8" cy="1731.3" r="5.8"/>
<circle cx="1435.9" cy="1751.8" r="5.8"/>
<circle cx="1436" cy="1741.6" r="5.8"/>
<circle cx="1436.5" cy="1706.3" r="5.8"/>
<circle cx="1436.6" cy="1755.6" r="5.8"/>
<circle cx="1439" cy="1751.8" r="5.8"/>
<circle cx="1439.7" cy="1750.4" r="5.8"/>
<circle cx="1440.3" cy="1756" r="5.8"/>
<circle cx="1442" cy="1737" r="5.8"/>
<circle cx="1442.6" cy="1741.3" r="5.8"/>
<circle cx="1443.1" cy="1753.5" r="5.8"/>
<circle cx="1443.2" cy="1669.6" r="5.8"/>
<circle cx="1443.2" cy="1721.3" r="5.8"/>
<circle cx="1443.2" cy="1739.9" r="5.8"/>
<circle cx="1443.6" cy="1752.7" r="5.8"/>
<circle cx="1443.9" cy="1754.1" r="5.8"/>
<circle cx="1444.6" cy="1751.9" r="5.8"/>
<circle cx="1445.4" cy="1755.5" r="5.8"/>
<circle cx="1446.2" cy="1752.2" r="5.8"/>
<circle cx="1446.9" cy="1749.7" r="5.8"/>
<circle cx="1447.1" cy="1738.1" r="5.8"/>
<circle cx="1449.1" cy="1753.4" r="5.8"/>
<circle cx="1450.9" cy="1743.1" r="5.8"/>
<circle cx="1451.2" cy="1749.7" r="5.8"/>
<circle cx="1451.8" cy="1738.8" r="5.8"/>
<circle cx="1452.2" cy="1752.5" r="5.8"/>
<circle cx="1452.4" cy="1754.5" r="5.8"/>
<circle cx="1452.4" cy="1751.8" r="5.8"/>
<circle cx="1453" cy="1755.7" r="5.8"/>
<circle cx="1455.6" cy="1756.3" r="5.8"/>
<circle cx="1455.9" cy="1756.3" r="5.8"/>
<circle cx="1456.4" cy="1744.8" r="5.8"/>
<circle cx="1456.6" cy="1727.2" r="5.8"/>
<circle cx="1456.9" cy="1752.8" r="5.8"/>
<circle cx="1459" cy="1753.6" r="5.8"/>
<circle cx="1460.2" cy="1749.9" r="5.8"/>
<circle cx="1462.7" cy="1749.9" r="5.8"/>
<circle cx="1462.9" cy="1749.5" r="5.8"/>
<circle cx="1464" cy="1753.7" r="5.8"/>
<circle cx="1464.7" cy="1753.5" r="5.8"/>
<circle cx="1465.7" cy="1750" r="5.8"/>
<circle cx="1468.4" cy="1751.3" r="5.8"/>
<circle cx="1468.5" cy="1730.8" r="5.8"/>
<circle cx="1468.6" cy="1733.2" r="5.8"/>
<circle cx="1469.5" cy="1755" r="5.8"/>
<circle cx="1470.7" cy="1756" r="5.8"/>
<circle cx="1471.4" cy="1725.8" r="5.8"/>
<circle cx="1472.2" cy="1755.7" r="5.8"/>
<circle cx="1472.5" cy="1753" r="5.8"/>
<circle cx="1473.2" cy="1746.6" r="5.8"/>
<circle cx="1474.1" cy="1749.9" r="5.8"/>
<circle cx="1474.2" cy="1748.5" r="5.8"/>
<circle cx="1474.7" cy="1752.8" r="5.8"/>
<circle cx="1474.8" cy="1756.2" r="5.8"/>
<circle cx="1475.9" cy="1751.8" r="5.8"/>
<circle cx="1476.3" cy="1754.6" r="5.8"/>
<circle cx="1476.7" cy="1751.9" r="5.8"/>
<circle cx="1480.8" cy="1750.8" r="5.8"/>
<circle cx="1482.1" cy="1750.9" r="5.8"/>
<circle cx="1482.4" cy="1734.7" r="5.8"/>
<circle cx="1482.9" cy="1734.8" r="5.8"/>
<circle cx="1483.7" cy="1731.6" r="5.8"/>
<circle cx="1483.8" cy="1745.7" r="5.8"/>
<circle cx="1487.2" cy="1749.7" r="5.8"/>
<circle cx="1487.4" cy="1748.7" r="5.8"/>
<circle cx="1487.4" cy="1721.8" r="5.8"/>
<circle cx="1487.4" cy="1753.2" r="5.8"/>
<circle cx="1488.4" cy="1740.8" r="5.8"/>
<circle cx="1489.7" cy="1755.6" r="5.8"/>
<circle cx="1491.8" cy="1753" r="5.8"/>
<circle cx="1493.4" cy="1751.9" r="5.8"/>
<circle cx="1493.9" cy="1743.9" r="5.8"/>
<circle cx="1494.2" cy="1749.9" r="5.8"/>
<circle cx="1494.4" cy="1747.3" r="5.8"/>
<circle cx="1494.7" cy="1755.3" r="5.8"/>
<circle cx="1500.1" cy="1756" r="5.8"/>
<circle cx="1501.1" cy="1738.4" r="5.8"/>
<circle cx="1502.1" cy="1738.2" r="5.8"/>
<circle cx="1502.2" cy="1751.2" r="5.8"/>
<circle cx="1502.3" cy="1738.2" r="5.8"/>
<circle cx="1502.6" cy="1728.8" r="5.8"/>
<circle cx="1503" cy="1755.7" r="5.8"/>
<circle cx="1503" cy="1754.1" r="5.8"/>
<circle cx="1503.1" cy="1747.3" r="5.8"/>
<circle cx="1504.7" cy="1733.6" r="5.8"/>
<circle cx="1504.8" cy="1753.4" r="5.8"/>
<circle cx="1504.8" cy="1715.1" r="5.8"/>
<circle cx="1504.9" cy="1736.9" r="5.8"/>
<circle cx="1505.4" cy="1756" r="5.8"/>
<circle cx="1506.3" cy="1738.5" r="5.8"/>
<circle cx="1507.7" cy="1754.6" r="5.8"/>
<circle cx="1507.8" cy="1748.1" r="5.8"/>
<circle cx="1508.3" cy="1734.7" r="5.8"/>
<circle cx="1508.5" cy="1748.5" r="5.8"/>
<circle cx="1509.3" cy="1727.8" r="5.8"/>
<circle cx="1509.6" cy="1741.5" r="5.8"/>
<circle cx="1509.8" cy="1750.3" r="5.8"/>
<circle cx="1510.7" cy="1749.2" r="5.8"/>
<circle cx="1511.5" cy="1750" r="5.8"/>
<circle cx="1512.2" cy="1749.9" r="5.8"/>
<circle cx="1513" cy="1750.7" r="5.8"/>
<circle cx="1513.3" cy="1744.5" r="5.8"/>
<circle cx="1514.6" cy="1751.4" r="5.8"/>
<circle cx="1514.8" cy="1723.9" r="5.8"/>
<circle cx="1515.3" cy="1736.6" r="5.8"/>
<circle cx="1516.7" cy="1755" r="5.8"/>
<circle cx="1517.1" cy="1750.6" r="5.8"/>
<circle cx="1517.3" cy="1753.1" r="5.8"/>
<circle cx="1517.8" cy="1751" r="5.8"/>
<circle cx="1518" cy="1748.3" r="5.8"/>
<circle cx="1518.4" cy="1751.7" r="5.8"/>
<circle cx="1519.6" cy="1754.9" r="5.8"/>
<circle cx="1520.5" cy="1724.6" r="5.8"/>
<circle cx="1520.8" cy="1755.1" r="5.8"/>
<circle cx="1523.2" cy="1731.2" r="5.8"/>
<circle cx="1523.6" cy="1739.7" r="5.8"/>
<circle cx="1523.9" cy="1753.1" r="5.8"/>
<circle cx="1524.8" cy="1751.1" r="5.8"/>
<circle cx="1524.9" cy="1747.2" r="5.8"/>
<circle cx="1526.2" cy="1751.5" r="5.8"/>
<circle cx="1526.3" cy="1738.2" r="5.8"/>
<circle cx="1526.3" cy="1715.1" r="5.8"/>
<circle cx="1529" cy="1754.7" r="5.8"/>
<circle cx="1530.3" cy="1715.1" r="5.8"/>
<circle cx="1530.3" cy="1731.6" r="5.8"/>
<circle cx="1530.6" cy="1731.6" r="5.8"/>
<circle cx="1531.4" cy="1752.7" r="5.8"/>
<circle cx="1531.8" cy="1752.2" r="5.8"/>
<circle cx="1532" cy="1755.2" r="5.8"/>
<circle cx="1532.9" cy="1746.9" r="5.8"/>
<circle cx="1533" cy="1736.5" r="5.8"/>
<circle cx="1533" cy="1750.1" r="5.8"/>
<circle cx="1534.1" cy="1754.1" r="5.8"/>
<circle cx="1534.3" cy="1705.2" r="5.8"/>
<circle cx="1534.9" cy="1736.9" r="5.8"/>
<circle cx="1535.1" cy="1749.1" r="5.8"/>
<circle cx="1535.2" cy="1733" r="5.8"/>
<circle cx="1535.2" cy="1746.1" r="5.8"/>
<circle cx="1535.4" cy="1730.7" r="5.8"/>
<circle cx="1535.6" cy="1754.9" r="5.8"/>
<circle cx="1535.7" cy="1743" r="5.8"/>
<circle cx="1536.4" cy="1755.6" r="5.8"/>
<circle cx="1536.8" cy="1755.6" r="5.8"/>
<circle cx="1539.2" cy="1729.6" r="5.8"/>
<circle cx="1540.7" cy="1737.4" r="5.8"/>
<circle cx="1541" cy="1724.5" r="5.8"/>
<circle cx="1542.2" cy="1754.9" r="5.8"/>
<circle cx="1542.4" cy="1737.8" r="5.8"/>
<circle cx="1544.7" cy="1745.2" r="5.8"/>
<circle cx="1545.4" cy="1753.6" r="5.8"/>
<circle cx="1546.3" cy="1748.6" r="5.8"/>
<circle cx="1546.7" cy="1755.9" r="5.8"/>
<circle cx="1546.8" cy="1755.9" r="5.8"/>
<circle cx="1547.1" cy="1748.8" r="5.8"/>
<circle cx="1548.8" cy="1734" r="5.8"/>
<circle cx="1549.5" cy="1735.7" r="5.8"/>
<circle cx="1550.4" cy="1752.8" r="5.8"/>
<circle cx="1550.7" cy="1736" r="5.8"/>
<circle cx="1551" cy="1755" r="5.8"/>
<circle cx="1551.8" cy="1753.8" r="5.8"/>
<circle cx="1552.2" cy="1743.4" r="5.8"/>
<circle cx="1553.9" cy="1733.4" r="5.8"/>
<circle cx="1554.6" cy="1748.6" r="5.8"/>
<circle cx="1555.2" cy="1713.2" r="5.8"/>
<circle cx="1556.6" cy="1730.9" r="5.8"/>
<circle cx="1556.6" cy="1755.3" r="5.8"/>
<circle cx="1556.8" cy="1756.4" r="5.8"/>
<circle cx="1558.9" cy="1741.4" r="5.8"/>
<circle cx="1560.6" cy="1731.2" r="5.8"/>
<circle cx="1561.4" cy="1753.2" r="5.8"/>
<circle cx="1562.3" cy="1737.7" r="5.8"/>
<circle cx="1562.3" cy="1739.7" r="5.8"/>
<circle cx="1562.4" cy="1720.5" r="5.8"/>
<circle cx="1562.6" cy="1751.9" r="5.8"/>
<circle cx="1562.8" cy="1747.9" r="5.8"/>
<circle cx="1563.2" cy="1686.2" r="5.8"/>
<circle cx="1564.1" cy="1732.6" r="5.8"/>
<circle cx="1564.4" cy="1737.6" r="5.8"/>
<circle cx="1565.3" cy="1753.9" r="5.8"/>
<circle cx="1565.5" cy="1751.8" r="5.8"/>
<circle cx="1566.1" cy="1751.4" r="5.8"/>
<circle cx="1566.3" cy="1755.3" r="5.8"/>
<circle cx="1568.7" cy="1749.3" r="5.8"/>
<circle cx="1568.7" cy="1754.4" r="5.8"/>
<circle cx="1569.2" cy="1750.7" r="5.8"/>
<circle cx="1569.5" cy="1754.5" r="5.8"/>
<circle cx="1570.2" cy="1749.3" r="5.8"/>
<circle cx="1570.7" cy="1749.5" r="5.8"/>
<circle cx="1571.8" cy="1715.9" r="5.8"/>
<circle cx="1572" cy="1737.7" r="5.8"/>
<circle cx="1572.5" cy="1755.8" r="5.8"/>
<circle cx="1572.8" cy="1741.5" r="5.8"/>
<circle cx="1573.5" cy="1753.1" r="5.8"/>
<circle cx="1574.7" cy="1746.2" r="5.8"/>
<circle cx="1574.8" cy="1751.5" r="5.8"/>
<circle cx="1574.9" cy="1755.5" r="5.8"/>
<circle cx="1575.1" cy="1737.1" r="5.8"/>
<circle cx="1575.8" cy="1750.9" r="5.8"/>
<circle cx="1576.9" cy="1729.5" r="5.8"/>
<circle cx="1577.5" cy="1723.8" r="5.8"/>
<circle cx="1577.6" cy="1752.8" r="5.8"/>
<circle cx="1578" cy="1753.5" r="5.8"/>
<circle cx="1578.2" cy="1749" r="5.8"/>
<circle cx="1579.5" cy="1730.8" r="5.8"/>
<circle cx="1579.8" cy="1748.7" r="5.8"/>
<circle cx="1580.2" cy="1755.9" r="5.8"/>
<circle cx="1583.3" cy="1753.2" r="5.8"/>
<circle cx="1584.6" cy="1750" r="5.8"/>
<circle cx="1586.6" cy="1707.1" r="5.8"/>
<circle cx="1587.3" cy="1754.1" r="5.8"/>
<circle cx="1587.9" cy="1708.4" r="5.8"/>
<circle cx="1588.9" cy="1745.8" r="5.8"/>
<circle cx="1589.3" cy="1751.8" r="5.8"/>
<circle cx="1590" cy="1756.2" r="5.8"/>
<circle cx="1590.8" cy="1734.9" r="5.8"/>
<circle cx="1590.8" cy="1744.1" r="5.8"/>
<circle cx="1592" cy="1737" r="5.8"/>
<circle cx="1592.7" cy="1744.1" r="5.8"/>
<circle cx="1594" cy="1756.1" r="5.8"/>
<circle cx="1594.6" cy="1741.7" r="5.8"/>
<circle cx="1594.6" cy="1742.5" r="5.8"/>
<circle cx="1596.8" cy="1755.5" r="5.8"/>
<circle cx="1597.7" cy="1749.1" r="5.8"/>
<circle cx="1599.9" cy="1699" r="5.8"/>
<circle cx="1599.9" cy="1707.1" r="5.8"/>
<circle cx="1600.1" cy="1754.3" r="5.8"/>
<circle cx="1600.2" cy="1734.5" r="5.8"/>
<circle cx="1600.3" cy="1725" r="5.8"/>
<circle cx="1601.1" cy="1741.2" r="5.8"/>
<circle cx="1601.5" cy="1748.3" r="5.8"/>
<circle cx="1601.7" cy="1750.8" r="5.8"/>
<circle cx="1603.1" cy="1730.5" r="5.8"/>
<circle cx="1603.7" cy="1738.2" r="5.8"/>
<circle cx="1603.8" cy="1755.8" r="5.8"/>
<circle cx="1604.3" cy="1750.8" r="5.8"/>
<circle cx="1604.4" cy="1744" r="5.8"/>
<circle cx="1604.5" cy="1755" r="5.8"/>
<circle cx="1604.7" cy="1756.2" r="5.8"/>
<circle cx="1604.9" cy="1750.9" r="5.8"/>
<circle cx="1605" cy="1737" r="5.8"/>
<circle cx="1605" cy="1735" r="5.8"/>
<circle cx="1605.1" cy="1755.3" r="5.8"/>
<circle cx="1605.3" cy="1723.1" r="5.8"/>
<circle cx="1605.3" cy="1724.5" r="5.8"/>
<circle cx="1690.4" cy="1734.7" r="5.8"/>
<circle cx="1692.1" cy="1563.1" r="5.8"/>
<circle cx="1692.1" cy="1576.8" r="5.8"/>
<circle cx="1695.4" cy="1737.9" r="5.8"/>
<circle cx="1703.5" cy="1730.7" r="5.8"/>
<circle cx="1704" cy="1752.6" r="5.8"/>
<circle cx="1704.5" cy="1730.4" r="5.8"/>
<circle cx="1707.3" cy="1745.4" r="5.8"/>
<circle cx="1709.5" cy="1749.2" r="5.8"/>
<circle cx="1710.4" cy="1750.5" r="5.8"/>
<circle cx="1714.7" cy="1745.9" r="5.8"/>
<circle cx="1714.8" cy="1751.8" r="5.8"/>
<circle cx="1716.3" cy="1752.5" r="5.8"/>
<circle cx="1716.4" cy="1748.3" r="5.8"/>
<circle cx="1717.8" cy="1751.7" r="5.8"/>
<circle cx="1718.3" cy="1747.1" r="5.8"/>
<circle cx="1718.7" cy="1742.3" r="5.8"/>
<circle cx="1720.6" cy="1755.6" r="5.8"/>
<circle cx="1720.7" cy="1754.1" r="5.8"/>
<circle cx="1722.1" cy="1734.7" r="5.8"/>
<circle cx="1722.2" cy="1755.4" r="5.8"/>
<circle cx="1722.7" cy="1751" r="5.8"/>
<circle cx="1723.9" cy="1748.8" r="5.8"/>
<circle cx="1724.4" cy="1754.7" r="5.8"/>
<circle cx="1724.8" cy="1749.8" r="5.8"/>
<circle cx="1724.9" cy="1747.6" r="5.8"/>
<circle cx="1725.6" cy="1740.9" r="5.8"/>
<circle cx="1725.7" cy="1749.4" r="5.8"/>
<circle cx="1725.9" cy="1737.3" r="5.8"/>
<circle cx="1726" cy="1756.1" r="5.8"/>
<circle cx="1726.2" cy="1753.3" r="5.8"/>
<circle cx="1726.7" cy="1754" r="5.8"/>
<circle cx="1727.1" cy="1735.9" r="5.8"/>
<circle cx="1727.6" cy="1748.3" r="5.8"/>
<circle cx="1727.9" cy="1747.7" r="5.8"/>
<circle cx="1729.3" cy="1754.1" r="5.8"/>
<circle cx="1729.7" cy="1749.9" r="5.8"/>
<circle cx="1730.1" cy="1752.8" r="5.8"/>
<circle cx="1730.1" cy="1748.1" r="5.8"/>
<circle cx="1731.3" cy="1738.4" r="5.8"/>
<circle cx="1731.3" cy="1754.6" r="5.8"/>
<circle cx="1731.4" cy="1754.6" r="5.8"/>
<circle cx="1731.5" cy="1754" r="5.8"/>
<circle cx="1731.8" cy="1735.4" r="5.8"/>
<circle cx="1733.1" cy="1750.2" r="5.8"/>
<circle cx="1734" cy="1752.5" r="5.8"/>
<circle cx="1734.8" cy="1751.6" r="5.8"/>
<circle cx="1734.9" cy="1743.8" r="5.8"/>
<circle cx="1735" cy="1741.9" r="5.8"/>
<circle cx="1735.2" cy="1751.4" r="5.8"/>
<circle cx="1735.6" cy="1750.9" r="5.8"/>
<circle cx="1735.8" cy="1740.5" r="5.8"/>
<circle cx="1736.2" cy="1748.8" r="5.8"/>
<circle cx="1736.3" cy="1737.9" r="5.8"/>
<circle cx="1736.3" cy="1746.6" r="5.8"/>
<circle cx="1736.7" cy="1751.3" r="5.8"/>
<circle cx="1736.9" cy="1748.4" r="5.8"/>
<circle cx="1737.1" cy="1754.5" r="5.8"/>
<circle cx="1737.1" cy="1753.2" r="5.8"/>
<circle cx="1737.3" cy="1746.4" r="5.8"/>
<circle cx="1738.5" cy="1746.2" r="5.8"/>
<circle cx="1739.7" cy="1752.9" r="5.8"/>
<circle cx="1740.4" cy="1754.9" r="5.8"/>
<circle cx="1740.5" cy="1748.8" r="5.8"/>
<circle cx="1741.2" cy="1753.2" r="5.8"/>
<circle cx="1741.6" cy="1734" r="5.8"/>
<circle cx="1742.3" cy="1754.3" r="5.8"/>
<circle cx="1742.4" cy="1756.3" r="5.8"/>
<circle cx="1743.7" cy="1750.2" r="5.8"/>
<circle cx="1743.8" cy="1744.8" r="5.8"/>
<circle cx="1743.9" cy="1740.3" r="5.8"/>
<circle cx="1743.9" cy="1739.5" r="5.8"/>
<circle cx="1744.1" cy="1733.7" r="5.8"/>
<circle cx="1744.2" cy="1748.4" r="5.8"/>
<circle cx="1744.4" cy="1750.5" r="5.8"/>
<circle cx="1745" cy="1727.2" r="5.8"/>
<circle cx="1745.4" cy="1755.4" r="5.8"/>
<circle cx="1745.8" cy="1752.8" r="5.8"/>
<circle cx="1745.9" cy="1748.4" r="5.8"/>
<circle cx="1746.5" cy="1729.3" r="5.8"/>
<circle cx="1746.5" cy="1750" r="5.8"/>
<circle cx="1747" cy="1756.4" r="5.8"/>
<circle cx="1747.2" cy="1755.4" r="5.8"/>
<circle cx="1748.3" cy="1737.1" r="5.8"/>
<circle cx="1748.9" cy="1741.8" r="5.8"/>
<circle cx="1748.9" cy="1732.2" r="5.8"/>
<circle cx="1749.1" cy="1743.2" r="5.8"/>
<circle cx="1749.1" cy="1755.5" r="5.8"/>
<circle cx="1749.2" cy="1753.4" r="5.8"/>
<circle cx="1749.3" cy="1753.6" r="5.8"/>
<circle cx="1749.3" cy="1751.7" r="5.8"/>
<circle cx="1750.3" cy="1744.4" r="5.8"/>
<circle cx="1750.6" cy="1752.7" r="5.8"/>
<circle cx="1751" cy="1745.5" r="5.8"/>
<circle cx="1751.3" cy="1753.2" r="5.8"/>
<circle cx="1752.1" cy="1748.5" r="5.8"/>
<circle cx="1752.7" cy="1749.1" r="5.8"/>
<circle cx="1752.7" cy="1754.9" r="5.8"/>
<circle cx="1752.9" cy="1752.9" r="5.8"/>
<circle cx="1753" cy="1748.2" r="5.8"/>
<circle cx="1753.5" cy="1719.7" r="5.8"/>
<circle cx="1753.6" cy="1746" r="5.8"/>
<circle cx="1753.7" cy="1728.3" r="5.8"/>
<circle cx="1754.1" cy="1745.8" r="5.8"/>
<circle cx="1754.4" cy="1746.3" r="5.8"/>
<circle cx="1754.9" cy="1738.3" r="5.8"/>
<circle cx="1755" cy="1746.8" r="5.8"/>
<circle cx="1755.1" cy="1751.5" r="5.8"/>
<circle cx="1756.9" cy="1756.1" r="5.8"/>
<circle cx="1757.5" cy="1753" r="5.8"/>
<circle cx="1758" cy="1745.1" r="5.8"/>
<circle cx="1758.4" cy="1752.7" r="5.8"/>
<circle cx="1758.5" cy="1735.5" r="5.8"/>
<circle cx="1759.3" cy="1736.5" r="5.8"/>
<circle cx="1759.7" cy="1751.7" r="5.8"/>
<circle cx="1760.4" cy="1734" r="5.8"/>
<circle cx="1761.2" cy="1743.7" r="5.8"/>
<circle cx="1761.3" cy="1743.5" r="5.8"/>
<circle cx="1761.5" cy="1736.4" r="5.8"/>
<circle cx="1762.3" cy="1755.9" r="5.8"/>
<circle cx="1763.5" cy="1744.2" r="5.8"/>
<circle cx="1764.3" cy="1746.7" r="5.8"/>
<circle cx="1765.6" cy="1749.3" r="5.8"/>
<circle cx="1765.8" cy="1736.8" r="5.8"/>
<circle cx="1765.9" cy="1745.9" r="5.8"/>
<circle cx="1766.2" cy="1751.9" r="5.8"/>
<circle cx="1767" cy="1749.5" r="5.8"/>
<circle cx="1767.7" cy="1751" r="5.8"/>
<circle cx="1768.3" cy="1751.8" r="5.8"/>
<circle cx="1768.4" cy="1733.1" r="5.8"/>
<circle cx="1769.1" cy="1723.7" r="5.8"/>
<circle cx="1769.2" cy="1753.2" r="5.8"/>
<circle cx="1769.5" cy="1750.9" r="5.8"/>
<circle cx="1771.3" cy="1756.1" r="5.8"/>
<circle cx="1772.3" cy="1749.4" r="5.8"/>
<circle cx="1772.4" cy="1753.5" r="5.8"/>
<circle cx="1772.5" cy="1748.5" r="5.8"/>
<circle cx="1773.1" cy="1723.8" r="5.8"/>
<circle cx="1773.3" cy="1751.8" r="5.8"/>
<circle cx="1773.3" cy="1748" r="5.8"/>
<circle cx="1773.5" cy="1753.6" r="5.8"/>
<circle cx="1773.6" cy="1746" r="5.8"/>
<circle cx="1773.7" cy="1754.3" r="5.8"/>
<circle cx="1774.5" cy="1736.6" r="5.8"/>
<circle cx="1775.4" cy="1755.2" r="5.8"/>
<circle cx="1776.3" cy="1722.3" r="5.8"/>
<circle cx="1776.7" cy="1752.8" r="5.8"/>
<circle cx="1777.4" cy="1750.5" r="5.8"/>
<circle cx="1777.5" cy="1731.6" r="5.8"/>
<circle cx="1777.8" cy="1736.9" r="5.8"/>
<circle cx="1779.4" cy="1756.2" r="5.8"/>
<circle cx="1780" cy="1729.9" r="5.8"/>
<circle cx="1780.7" cy="1751.2" r="5.8"/>
<circle cx="1781.2" cy="1737.3" r="5.8"/>
<circle cx="1781.5" cy="1749.9" r="5.8"/>
<circle cx="1781.8" cy="1755.7" r="5.8"/>
<circle cx="1782.1" cy="1752.1" r="5.8"/>
<circle cx="1783" cy="1729.8" r="5.8"/>
<circle cx="1783.9" cy="1756.1" r="5.8"/>
<circle cx="1784.6" cy="1748.9" r="5.8"/>
<circle cx="1784.9" cy="1746.4" r="5.8"/>
<circle cx="1785.9" cy="1737.9" r="5.8"/>
<circle cx="1785.9" cy="1736.5" r="5.8"/>
<circle cx="1786.5" cy="1753.5" r="5.8"/>
<circle cx="1786.5" cy="1742.6" r="5.8"/>
<circle cx="1786.7" cy="1748.5" r="5.8"/>
<circle cx="1786.7" cy="1751.4" r="5.8"/>
<circle cx="1786.7" cy="1734.8" r="5.8"/>
<circle cx="1787.8" cy="1735.5" r="5.8"/>
<circle cx="1788.3" cy="1740.6" r="5.8"/>
<circle cx="1788.6" cy="1735.3" r="5.8"/>
<circle cx="1790.3" cy="1752.9" r="5.8"/>
<circle cx="1790.5" cy="1749.4" r="5.8"/>
<circle cx="1790.7" cy="1749.6" r="5.8"/>
<circle cx="1790.9" cy="1748.4" r="5.8"/>
<circle cx="1790.9" cy="1738" r="5.8"/>
<circle cx="1791.3" cy="1749" r="5.8"/>
<circle cx="1792.2" cy="1749.7" r="5.8"/>
<circle cx="1792.3" cy="1755.8" r="5.8"/>
<circle cx="1792.3" cy="1737.7" r="5.8"/>
<circle cx="1792.5" cy="1748.1" r="5.8"/>
<circle cx="1792.9" cy="1756.2" r="5.8"/>
<circle cx="1793.1" cy="1750.9" r="5.8"/>
<circle cx="1794.1" cy="1756.4" r="5.8"/>
<circle cx="1794.6" cy="1755.3" r="5.8"/>
<circle cx="1794.7" cy="1751.7" r="5.8"/>
<circle cx="1796.4" cy="1732.9" r="5.8"/>
<circle cx="1797.2" cy="1676.3" r="5.8"/>
<circle cx="1797.2" cy="1711.1" r="5.8"/>
<circle cx="1799.4" cy="1752.9" r="5.8"/>
<circle cx="1799.9" cy="1752.5" r="5.8"/>
<circle cx="1799.9" cy="1752.7" r="5.8"/>
<circle cx="1800" cy="1750.6" r="5.8"/>
<circle cx="1800" cy="1750.4" r="5.8"/>
<circle cx="1800.7" cy="1754.2" r="5.8"/>
<circle cx="1801.7" cy="1755.5" r="5.8"/>
<circle cx="1801.7" cy="1723.1" r="5.8"/>
<circle cx="1803" cy="1729.1" r="5.8"/>
<circle cx="1804.7" cy="1731.4" r="5.8"/>
<circle cx="1804.8" cy="1724.7" r="5.8"/>
<circle cx="1805.3" cy="1733.2" r="5.8"/>
<circle cx="1806" cy="1750.2" r="5.8"/>
<circle cx="1806.8" cy="1754.3" r="5.8"/>
<circle cx="1807.8" cy="1739.3" r="5.8"/>
<circle cx="1808.3" cy="1751.5" r="5.8"/>
<circle cx="1808.7" cy="1748" r="5.8"/>
<circle cx="1809.1" cy="1749.4" r="5.8"/>
<circle cx="1809.1" cy="1755" r="5.8"/>
<circle cx="1809.3" cy="1721.7" r="5.8"/>
<circle cx="1810.7" cy="1755.5" r="5.8"/>
<circle cx="1810.9" cy="1751.4" r="5.8"/>
<circle cx="1811.8" cy="1731.1" r="5.8"/>
<circle cx="1811.8" cy="1751.6" r="5.8"/>
<circle cx="1812.4" cy="1707.1" r="5.8"/>
<circle cx="1812.5" cy="1738" r="5.8"/>
<circle cx="1813.1" cy="1729" r="5.8"/>
<circle cx="1813.6" cy="1755.2" r="5.8"/>
<circle cx="1814.6" cy="1751.8" r="5.8"/>
<circle cx="1814.8" cy="1728.7" r="5.8"/>
<circle cx="1815" cy="1744.9" r="5.8"/>
<circle cx="1815.4" cy="1749" r="5.8"/>
<circle cx="1815.7" cy="1742" r="5.8"/>
<circle cx="1816.1" cy="1751.5" r="5.8"/>
<circle cx="1816.3" cy="1748.9" r="5.8"/>
<circle cx="1816.9" cy="1750.9" r="5.8"/>
<circle cx="1817.3" cy="1751.6" r="5.8"/>
<circle cx="1817.9" cy="1748.1" r="5.8"/>
<circle cx="1818.3" cy="1756.4" r="5.8"/>
<circle cx="1820.4" cy="1753" r="5.8"/>
<circle cx="1820.4" cy="1737.8" r="5.8"/>
<circle cx="1821" cy="1755.2" r="5.8"/>
<circle cx="1821.5" cy="1732.8" r="5.8"/>
<circle cx="1821.8" cy="1748.2" r="5.8"/>
<circle cx="1822.4" cy="1750.5" r="5.8"/>
<circle cx="1822.5" cy="1751.5" r="5.8"/>
<circle cx="1822.7" cy="1752.3" r="5.8"/>
<circle cx="1823.6" cy="1728.5" r="5.8"/>
<circle cx="1824.4" cy="1751.3" r="5.8"/>
<circle cx="1824.8" cy="1756.3" r="5.8"/>
<circle cx="1825.1" cy="1752.8" r="5.8"/>
<circle cx="1826.4" cy="1749.1" r="5.8"/>
<circle cx="1826.6" cy="1730.8" r="5.8"/>
<circle cx="1826.7" cy="1746.3" r="5.8"/>
<circle cx="1828.2" cy="1738" r="5.8"/>
<circle cx="1829.9" cy="1755.5" r="5.8"/>
<circle cx="1830.3" cy="1755.2" r="5.8"/>
<circle cx="1831.3" cy="1755.2" r="5.8"/>
<circle cx="1831.4" cy="1750.6" r="5.8"/>
<circle cx="1831.6" cy="1740.6" r="5.8"/>
<circle cx="1831.8" cy="1732.3" r="5.8"/>
<circle cx="1831.9" cy="1746.8" r="5.8"/>
<circle cx="1832" cy="1752.4" r="5.8"/>
<circle cx="1832" cy="1683" r="5.8"/>
<circle cx="1832.1" cy="1756.4" r="5.8"/>
<circle cx="1832.5" cy="1716.4" r="5.8"/>
<circle cx="1832.8" cy="1756.4" r="5.8"/>
<circle cx="1833.3" cy="1751.9" r="5.8"/>
<circle cx="1833.8" cy="1749.1" r="5.8"/>
<circle cx="1833.9" cy="1755.1" r="5.8"/>
<circle cx="1834.4" cy="1751.2" r="5.8"/>
<circle cx="1835.1" cy="1729.4" r="5.8"/>
<circle cx="1836.3" cy="1746.4" r="5.8"/>
<circle cx="1836.6" cy="1752.7" r="5.8"/>
<circle cx="1836.9" cy="1756.1" r="5.8"/>
<circle cx="1837.1" cy="1726.1" r="5.8"/>
<circle cx="1837.8" cy="1737.8" r="5.8"/>
<circle cx="1838.1" cy="1754.4" r="5.8"/>
<circle cx="1838.5" cy="1744.6" r="5.8"/>
<circle cx="1839.1" cy="1754.1" r="5.8"/>
<circle cx="1839.1" cy="1741.4" r="5.8"/>
<circle cx="1839.3" cy="1748.4" r="5.8"/>
<circle cx="1840.1" cy="1737.1" r="5.8"/>
<circle cx="1840.5" cy="1751.5" r="5.8"/>
<circle cx="1840.6" cy="1718.6" r="5.8"/>
<circle cx="1841.1" cy="1752.5" r="5.8"/>
<circle cx="1842.2" cy="1747.4" r="5.8"/>
<circle cx="1843.3" cy="1748.3" r="5.8"/>
<circle cx="1843.5" cy="1748.1" r="5.8"/>
<circle cx="1843.5" cy="1752.7" r="5.8"/>
<circle cx="1844.5" cy="1745" r="5.8"/>
<circle cx="1845.1" cy="1741.6" r="5.8"/>
<circle cx="1845.7" cy="1752.5" r="5.8"/>
<circle cx="1845.7" cy="1755.1" r="5.8"/>
<circle cx="1845.9" cy="1743.5" r="5.8"/>
<circle cx="1846" cy="1755.5" r="5.8"/>
<circle cx="1846.2" cy="1739.1" r="5.8"/>
<circle cx="1846.8" cy="1741" r="5.8"/>
<circle cx="1847.1" cy="1732.6" r="5.8"/>
<circle cx="1847.3" cy="1745.8" r="5.8"/>
<circle cx="1848" cy="1734.4" r="5.8"/>
<circle cx="1848.2" cy="1726.7" r="5.8"/>
<circle cx="1848.5" cy="1753.7" r="5.8"/>
<circle cx="1848.6" cy="1748.4" r="5.8"/>
<circle cx="1848.7" cy="1743.3" r="5.8"/>
<circle cx="1849.1" cy="1739" r="5.8"/>
<circle cx="1849.4" cy="1739.2" r="5.8"/>
<circle cx="1849.6" cy="1749.8" r="5.8"/>
<circle cx="1850.6" cy="1754.9" r="5.8"/>
<circle cx="1851" cy="1748.5" r="5.8"/>
<circle cx="1851" cy="1749.7" r="5.8"/>
<circle cx="1851.3" cy="1750.8" r="5.8"/>
<circle cx="1851.5" cy="1753.8" r="5.8"/>
<circle cx="1851.5" cy="1731.8" r="5.8"/>
<circle cx="1851.7" cy="1747.3" r="5.8"/>
<circle cx="1851.9" cy="1749.1" r="5.8"/>
<circle cx="1852.2" cy="1750.1" r="5.8"/>
<circle cx="1852.5" cy="1741.5" r="5.8"/>
<circle cx="1852.8" cy="1751" r="5.8"/>
<circle cx="1853.8" cy="1740" r="5.8"/>
<circle cx="1854.5" cy="1737.2" r="5.8"/>
<circle cx="1854.8" cy="1755" r="5.8"/>
<circle cx="1854.8" cy="1751.1" r="5.8"/>
<circle cx="1855.3" cy="1742" r="5.8"/>
<circle cx="1856.8" cy="1740" r="5.8"/>
<circle cx="1857" cy="1745.8" r="5.8"/>
<circle cx="1857.8" cy="1746" r="5.8"/>
<circle cx="1858.3" cy="1734.2" r="5.8"/>
<circle cx="1858.7" cy="1723" r="5.8"/>
<circle cx="1859.1" cy="1753.9" r="5.8"/>
<circle cx="1860.2" cy="1752.6" r="5.8"/>
<circle cx="1860.6" cy="1695" r="5.8"/>
<circle cx="1860.8" cy="1725.6" r="5.8"/>
<circle cx="1861.8" cy="1733.6" r="5.8"/>
<circle cx="1862" cy="1753.6" r="5.8"/>
<circle cx="1862" cy="1717.8" r="5.8"/>
<circle cx="1862.3" cy="1745.9" r="5.8"/>
<circle cx="1862.5" cy="1732.1" r="5.8"/>
<circle cx="1862.6" cy="1748.9" r="5.8"/>
<circle cx="1863.3" cy="1745.5" r="5.8"/>
<circle cx="1863.9" cy="1750.9" r="5.8"/>
<circle cx="1865.4" cy="1755" r="5.8"/>
<circle cx="1866" cy="1740.9" r="5.8"/>
<circle cx="1866.9" cy="1749.6" r="5.8"/>
<circle cx="1867.2" cy="1749.8" r="5.8"/>
<circle cx="1867.7" cy="1741.3" r="5.8"/>
<circle cx="1868.1" cy="1733.8" r="5.8"/>
<circle cx="1868.5" cy="1744" r="5.8"/>
<circle cx="1868.7" cy="1699" r="5.8"/>
<circle cx="1869.8" cy="1751.3" r="5.8"/>
<circle cx="1870.1" cy="1753.8" r="5.8"/>
<circle cx="1870.1" cy="1733.2" r="5.8"/>
<circle cx="1870.5" cy="1756.1" r="5.8"/>
<circle cx="1871" cy="1755.8" r="5.8"/>
<circle cx="1872.2" cy="1749.9" r="5.8"/>
<circle cx="1874" cy="1742.4" r="5.8"/>
<circle cx="1874.2" cy="1755.9" r="5.8"/>
<circle cx="1875.2" cy="1750.5" r="5.8"/>
<circle cx="1875.6" cy="1751.7" r="5.8"/>
<circle cx="1875.6" cy="1747.2" r="5.8"/>
<circle cx="1875.7" cy="1728.2" r="5.8"/>
<circle cx="1876.6" cy="1755.5" r="5.8"/>
<circle cx="1876.7" cy="1752.8" r="5.8"/>
<circle cx="1877.3" cy="1748.4" r="5.8"/>
<circle cx="1877.4" cy="1750.6" r="5.8"/>
<circle cx="1878.3" cy="1751.3" r="5.8"/>
<circle cx="1879.9" cy="1753.9" r="5.8"/>
<circle cx="1880" cy="1743.5" r="5.8"/>
<circle cx="1880.5" cy="1752.1" r="5.8"/>
<circle cx="1880.9" cy="1746.7" r="5.8"/>
<circle cx="1881.1" cy="1750.5" r="5.8"/>
<circle cx="1881.5" cy="1737.9" r="5.8"/>
<circle cx="1881.9" cy="1745.4" r="5.8"/>
<circle cx="1881.9" cy="1729.9" r="5.8"/>
<circle cx="1882" cy="1750.3" r="5.8"/>
<circle cx="1882.3" cy="1755.5" r="5.8"/>
<circle cx="1883" cy="1750" r="5.8"/>
<circle cx="1883.8" cy="1751.1" r="5.8"/>
<circle cx="1884.6" cy="1752.4" r="5.8"/>
<circle cx="1886.1" cy="1687" r="5.8"/>
<circle cx="1887" cy="1739.5" r="5.8"/>
<circle cx="1887.2" cy="1746.2" r="5.8"/>
<circle cx="1887.4" cy="1715.1" r="5.8"/>
<circle cx="1887.5" cy="1729.8" r="5.8"/>
<circle cx="1887.6" cy="1750.1" r="5.8"/>
<circle cx="1888.5" cy="1734.2" r="5.8"/>
<circle cx="1888.8" cy="1731.1" r="5.8"/>
<circle cx="1888.9" cy="1736.8" r="5.8"/>
<circle cx="1889.4" cy="1755.4" r="5.8"/>
<circle cx="1890.2" cy="1743.6" r="5.8"/>
<circle cx="1890.8" cy="1754.2" r="5.8"/>
<circle cx="1890.9" cy="1749.7" r="5.8"/>
<circle cx="1890.9" cy="1724.1" r="5.8"/>
<circle cx="1891.2" cy="1755.4" r="5.8"/>
<circle cx="1891.4" cy="1692.9" r="5.8"/>
<circle cx="1891.5" cy="1728" r="5.8"/>
<circle cx="1892.8" cy="1732.2" r="5.8"/>
<circle cx="1892.8" cy="1755" r="5.8"/>
<circle cx="1893.8" cy="1749.5" r="5.8"/>
<circle cx="1894.8" cy="1752.2" r="5.8"/>
<circle cx="1894.8" cy="1753.4" r="5.8"/>
<circle cx="1895" cy="1748.6" r="5.8"/>
<circle cx="1895.1" cy="1754.6" r="5.8"/>
<circle cx="1895.5" cy="1742.5" r="5.8"/>
<circle cx="1896.1" cy="1755.1" r="5.8"/>
<circle cx="1896.9" cy="1748.1" r="5.8"/>
<circle cx="1897.2" cy="1753.4" r="5.8"/>
<circle cx="1898.1" cy="1751.6" r="5.8"/>
<circle cx="1898.2" cy="1747" r="5.8"/>
<circle cx="1899" cy="1734" r="5.8"/>
<circle cx="1901.4" cy="1754.8" r="5.8"/>
<circle cx="1902.2" cy="1755.7" r="5.8"/>
<circle cx="1902.2" cy="1699" r="5.8"/>
<circle cx="1902.3" cy="1754.4" r="5.8"/>
<circle cx="1903.3" cy="1748.7" r="5.8"/>
<circle cx="1904.6" cy="1751" r="5.8"/>
<circle cx="1904.7" cy="1750.5" r="5.8"/>
<circle cx="1904.8" cy="1721.8" r="5.8"/>
<circle cx="1905" cy="1751.4" r="5.8"/>
<circle cx="1905.7" cy="1747.8" r="5.8"/>
<circle cx="1905.7" cy="1742.3" r="5.8"/>
<circle cx="1905.9" cy="1749.3" r="5.8"/>
<circle cx="1906.1" cy="1738.4" r="5.8"/>
<circle cx="1906.2" cy="1751" r="5.8"/>
<circle cx="1906.2" cy="1749.3" r="5.8"/>
<circle cx="1906.4" cy="1750.3" r="5.8"/>
<circle cx="1906.4" cy="1749.9" r="5.8"/>
<circle cx="1907.8" cy="1735.7" r="5.8"/>
<circle cx="1907.9" cy="1749.6" r="5.8"/>
<circle cx="1908.3" cy="1745.7" r="5.8"/>
<circle cx="1909.1" cy="1748" r="5.8"/>
<circle cx="1909.4" cy="1753.5" r="5.8"/>
<circle cx="1909.7" cy="1736.8" r="5.8"/>
<circle cx="1910.3" cy="1751" r="5.8"/>
<circle cx="1910.6" cy="1755.6" r="5.8"/>
<circle cx="1911.3" cy="1752" r="5.8"/>
<circle cx="1911.7" cy="1753.7" r="5.8"/>
<circle cx="1912.2" cy="1734.3" r="5.8"/>
<circle cx="1912.5" cy="1743.7" r="5.8"/>
<circle cx="1913.2" cy="1748.5" r="5.8"/>
<circle cx="1913.8" cy="1747.7" r="5.8"/>
<circle cx="1914.1" cy="1736.3" r="5.8"/>
<circle cx="1914.2" cy="1732.7" r="5.8"/>
<circle cx="1914.2" cy="1732.8" r="5.8"/>
<circle cx="1914.5" cy="1747.5" r="5.8"/>
<circle cx="1914.6" cy="1754.1" r="5.8"/>
<circle cx="1914.7" cy="1751.7" r="5.8"/>
<circle cx="1915.7" cy="1741.2" r="5.8"/>
<circle cx="1916.3" cy="1756.4" r="5.8"/>
<circle cx="1916.4" cy="1747.1" r="5.8"/>
<circle cx="1916.7" cy="1751.4" r="5.8"/>
<circle cx="1916.9" cy="1754.5" r="5.8"/>
<circle cx="1917" cy="1752.4" r="5.8"/>
<circle cx="1917.3" cy="1750.2" r="5.8"/>
<circle cx="1917.5" cy="1725.1" r="5.8"/>
<circle cx="1917.8" cy="1735.5" r="5.8"/>
<circle cx="1918.3" cy="1755" r="5.8"/>
<circle cx="1918.8" cy="1753.5" r="5.8"/>
<circle cx="1919.3" cy="1752.7" r="5.8"/>
<circle cx="1919.9" cy="1755.1" r="5.8"/>
<circle cx="1920" cy="1754.6" r="5.8"/>
<circle cx="1920.3" cy="1737.6" r="5.8"/>
<circle cx="1921" cy="1718.5" r="5.8"/>
<circle cx="1921.3" cy="1754.8" r="5.8"/>
<circle cx="1921.4" cy="1728.1" r="5.8"/>
<circle cx="1922.4" cy="1748.2" r="5.8"/>
<circle cx="1922.7" cy="1737.5" r="5.8"/>
<circle cx="1923.1" cy="1750.6" r="5.8"/>
<circle cx="1923.2" cy="1753.9" r="5.8"/>
<circle cx="1923.4" cy="1728" r="5.8"/>
<circle cx="1923.4" cy="1752.5" r="5.8"/>
<circle cx="1924" cy="1743.6" r="5.8"/>
<circle cx="1924" cy="1751.5" r="5.8"/>
<circle cx="1924.2" cy="1749.2" r="5.8"/>
<circle cx="1925.1" cy="1733.9" r="5.8"/>
<circle cx="1925.2" cy="1749.3" r="5.8"/>
<circle cx="1925.7" cy="1713.8" r="5.8"/>
<circle cx="1926.6" cy="1749.4" r="5.8"/>
<circle cx="1926.9" cy="1754.9" r="5.8"/>
<circle cx="1927.2" cy="1751.9" r="5.8"/>
<circle cx="1928.7" cy="1742.7" r="5.8"/>
<circle cx="1930.7" cy="1736.7" r="5.8"/>
<circle cx="1930.7" cy="1727.7" r="5.8"/>
<circle cx="1930.7" cy="1738.6" r="5.8"/>
<circle cx="1931" cy="1719" r="5.8"/>
<circle cx="1931" cy="1753.1" r="5.8"/>
<circle cx="1931.1" cy="1750.5" r="5.8"/>
<circle cx="1931.8" cy="1753" r="5.8"/>
<circle cx="1932.5" cy="1750.6" r="5.8"/>
<circle cx="1932.6" cy="1749.2" r="5.8"/>
<circle cx="1932.7" cy="1729" r="5.8"/>
<circle cx="1932.9" cy="1751.3" r="5.8"/>
<circle cx="1934.5" cy="1753.5" r="5.8"/>
<circle cx="1934.7" cy="1743.2" r="5.8"/>
<circle cx="1935.6" cy="1739.6" r="5.8"/>
<circle cx="1936.6" cy="1749.1" r="5.8"/>
<circle cx="1936.7" cy="1746.8" r="5.8"/>
<circle cx="1937.5" cy="1752.3" r="5.8"/>
<circle cx="1937.8" cy="1739.8" r="5.8"/>
<circle cx="1937.9" cy="1754.5" r="5.8"/>
<circle cx="1938" cy="1752.6" r="5.8"/>
<circle cx="1938.5" cy="1749.1" r="5.8"/>
<circle cx="1938.9" cy="1751.5" r="5.8"/>
<circle cx="1939.1" cy="1745.9" r="5.8"/>
<circle cx="1939.4" cy="1732.9" r="5.8"/>
<circle cx="1939.5" cy="1736.2" r="5.8"/>
<circle cx="1939.6" cy="1748.2" r="5.8"/>
<circle cx="1940.8" cy="1739.6" r="5.8"/>
<circle cx="1941.5" cy="1749.7" r="5.8"/>
<circle cx="1942.7" cy="1734.6" r="5.8"/>
<circle cx="1944" cy="1742.4" r="5.8"/>
<circle cx="1944.3" cy="1754.2" r="5.8"/>
<circle cx="1944.4" cy="1754.6" r="5.8"/>
<circle cx="1944.8" cy="1733.3" r="5.8"/>
<circle cx="1945.3" cy="1749.2" r="5.8"/>
<circle cx="1946.9" cy="1747.6" r="5.8"/>
<circle cx="1947" cy="1755.7" r="5.8"/>
<circle cx="1948.4" cy="1750" r="5.8"/>
<circle cx="1948.6" cy="1755.4" r="5.8"/>
<circle cx="1948.9" cy="1755" r="5.8"/>
<circle cx="1948.9" cy="1755.6" r="5.8"/>
<circle cx="1949" cy="1741.9" r="5.8"/>
<circle cx="1949.1" cy="1753.4" r="5.8"/>
<circle cx="1949.6" cy="1745.8" r="5.8"/>
<circle cx="1950.9" cy="1754" r="5.8"/>
<circle cx="1951.8" cy="1751" r="5.8"/>
<circle cx="1951.9" cy="1755.4" r="5.8"/>
<circle cx="1952" cy="1731.4" r="5.8"/>
<circle cx="1953" cy="1754.4" r="5.8"/>
<circle cx="1953.1" cy="1712.4" r="5.8"/>
<circle cx="1953.7" cy="1752.1" r="5.8"/>
<circle cx="1954" cy="1742.2" r="5.8"/>
<circle cx="1955" cy="1751.1" r="5.8"/>
<circle cx="1955.2" cy="1739.6" r="5.8"/>
<circle cx="1955.3" cy="1749.4" r="5.8"/>
<circle cx="1955.3" cy="1752" r="5.8"/>
<circle cx="1956.1" cy="1749.5" r="5.8"/>
<circle cx="1956.7" cy="1751" r="5.8"/>
<circle cx="1957.1" cy="1716.4" r="5.8"/>
<circle cx="1958" cy="1754.9" r="5.8"/>
<circle cx="1958.2" cy="1742.5" r="5.8"/>
<circle cx="1958.5" cy="1743.9" r="5.8"/>
<circle cx="1958.9" cy="1730.8" r="5.8"/>
<circle cx="1959.4" cy="1753.9" r="5.8"/>
<circle cx="1959.7" cy="1754.3" r="5.8"/>
<circle cx="1959.9" cy="1755.9" r="5.8"/>
<circle cx="1960.3" cy="1737.5" r="5.8"/>
<circle cx="1960.6" cy="1755" r="5.8"/>
<circle cx="1960.6" cy="1751.6" r="5.8"/>
<circle cx="1960.6" cy="1750.9" r="5.8"/>
<circle cx="1960.9" cy="1755.3" r="5.8"/>
<circle cx="1962.2" cy="1734.5" r="5.8"/>
<circle cx="1962.2" cy="1753.9" r="5.8"/>
<circle cx="1962.6" cy="1748.9" r="5.8"/>
<circle cx="1962.8" cy="1756.4" r="5.8"/>
<circle cx="1963" cy="1753.4" r="5.8"/>
<circle cx="1964.1" cy="1748.1" r="5.8"/>
<circle cx="1964.4" cy="1741.1" r="5.8"/>
<circle cx="1964.6" cy="1752.4" r="5.8"/>
<circle cx="1965.9" cy="1748" r="5.8"/>
<circle cx="1966.8" cy="1753.5" r="5.8"/>
<circle cx="1967.3" cy="1742.1" r="5.8"/>
<circle cx="1967.4" cy="1749" r="5.8"/>
<circle cx="1968.1" cy="1723.9" r="5.8"/>
<circle cx="1968.2" cy="1745.9" r="5.8"/>
<circle cx="1968.8" cy="1742.7" r="5.8"/>
<circle cx="1969" cy="1740.9" r="5.8"/>
<circle cx="1969.4" cy="1737.9" r="5.8"/>
<circle cx="1969.6" cy="1749.4" r="5.8"/>
<circle cx="1969.8" cy="1739.5" r="5.8"/>
<circle cx="1970.3" cy="1753.9" r="5.8"/>
<circle cx="1971.6" cy="1747.5" r="5.8"/>
<circle cx="1971.8" cy="1721.7" r="5.8"/>
<circle cx="1971.8" cy="1756.1" r="5.8"/>
<circle cx="1971.9" cy="1751.8" r="5.8"/>
<circle cx="1972.1" cy="1755.5" r="5.8"/>
<circle cx="1972.4" cy="1755.2" r="5.8"/>
<circle cx="1972.7" cy="1755.8" r="5.8"/>
<circle cx="1972.7" cy="1748.9" r="5.8"/>
<circle cx="1972.8" cy="1732.9" r="5.8"/>
<circle cx="1973.4" cy="1755.6" r="5.8"/>
<circle cx="1973.9" cy="1728.5" r="5.8"/>
<circle cx="1974.1" cy="1753.3" r="5.8"/>
<circle cx="1974.5" cy="1738.8" r="5.8"/>
<circle cx="1975.4" cy="1730.5" r="5.8"/>
<circle cx="1975.4" cy="1748.3" r="5.8"/>
<circle cx="1976.1" cy="1736" r="5.8"/>
<circle cx="1976.2" cy="1755.2" r="5.8"/>
<circle cx="1976.6" cy="1732.3" r="5.8"/>
<circle cx="1976.7" cy="1748.1" r="5.8"/>
<circle cx="1976.9" cy="1731.7" r="5.8"/>
<circle cx="1977.1" cy="1752.6" r="5.8"/>
<circle cx="1977.4" cy="1752.7" r="5.8"/>
<circle cx="1977.6" cy="1732.9" r="5.8"/>
<circle cx="1978" cy="1752.8" r="5.8"/>
<circle cx="1978.1" cy="1753.4" r="5.8"/>
<circle cx="1978.5" cy="1748.4" r="5.8"/>
<circle cx="1978.5" cy="1750.9" r="5.8"/>
<circle cx="1979.8" cy="1752.1" r="5.8"/>
<circle cx="1979.9" cy="1751.2" r="5.8"/>
<circle cx="1980" cy="1755.9" r="5.8"/>
<circle cx="1980.3" cy="1732.3" r="5.8"/>
<circle cx="1981" cy="1755.4" r="5.8"/>
<circle cx="1981.1" cy="1753.2" r="5.8"/>
<circle cx="1982" cy="1704.4" r="5.8"/>
<circle cx="1983.5" cy="1749.2" r="5.8"/>
<circle cx="1983.9" cy="1754" r="5.8"/>
<circle cx="1984.2" cy="1730.4" r="5.8"/>
<circle cx="1984.2" cy="1742.7" r="5.8"/>
<circle cx="1984.3" cy="1755.7" r="5.8"/>
<circle cx="1984.5" cy="1745.9" r="5.8"/>
<circle cx="1984.6" cy="1735.6" r="5.8"/>
<circle cx="1985.3" cy="1738.7" r="5.8"/>
<circle cx="1985.7" cy="1643.6" r="5.8"/>
<circle cx="1985.7" cy="1679.5" r="5.8"/>
<circle cx="1986.5" cy="1746.8" r="5.8"/>
<circle cx="1987.6" cy="1751.9" r="5.8"/>
<circle cx="1987.6" cy="1745.7" r="5.8"/>
<circle cx="1987.7" cy="1753.5" r="5.8"/>
<circle cx="1988.2" cy="1752.4" r="5.8"/>
<circle cx="1988.8" cy="1745.2" r="5.8"/>
<circle cx="1989.1" cy="1722.7" r="5.8"/>
<circle cx="1989.3" cy="1739" r="5.8"/>
<circle cx="1989.5" cy="1750.3" r="5.8"/>
<circle cx="1989.5" cy="1750.6" r="5.8"/>
<circle cx="1989.9" cy="1756.2" r="5.8"/>
<circle cx="1992.9" cy="1755.4" r="5.8"/>
<circle cx="1994.3" cy="1750.1" r="5.8"/>
<circle cx="1994.4" cy="1726.4" r="5.8"/>
<circle cx="1994.6" cy="1707.1" r="5.8"/>
<circle cx="1995.8" cy="1742.2" r="5.8"/>
<circle cx="1995.8" cy="1732.6" r="5.8"/>
<circle cx="1996.7" cy="1744.5" r="5.8"/>
<circle cx="1997" cy="1750.6" r="5.8"/>
<circle cx="1997.4" cy="1736.1" r="5.8"/>
<circle cx="1998.3" cy="1735.5" r="5.8"/>
<circle cx="1998.8" cy="1724.4" r="5.8"/>
<circle cx="1999.1" cy="1723.6" r="5.8"/>
<circle cx="2001" cy="1755" r="5.8"/>
<circle cx="2001.3" cy="1754.8" r="5.8"/>
<circle cx="2001.7" cy="1753.3" r="5.8"/>
<circle cx="2001.8" cy="1744.6" r="5.8"/>
<circle cx="2001.9" cy="1753.4" r="5.8"/>
<circle cx="2002.1" cy="1750.7" r="5.8"/>
<circle cx="2002.1" cy="1756.2" r="5.8"/>
<circle cx="2003.5" cy="1732.7" r="5.8"/>
<circle cx="2004.1" cy="1734" r="5.8"/>
<circle cx="2004.3" cy="1736.2" r="5.8"/>
<circle cx="2005.5" cy="1728.6" r="5.8"/>
<circle cx="2005.7" cy="1750.7" r="5.8"/>
<circle cx="2006.7" cy="1753.9" r="5.8"/>
<circle cx="2006.8" cy="1756.4" r="5.8"/>
<circle cx="2007.3" cy="1743.6" r="5.8"/>
<circle cx="2007.9" cy="1753.5" r="5.8"/>
<circle cx="2008" cy="1727.7" r="5.8"/>
<circle cx="2008.1" cy="1756" r="5.8"/>
<circle cx="2009" cy="1751.3" r="5.8"/>
<circle cx="2010.7" cy="1680.3" r="5.8"/>
<circle cx="2010.7" cy="1695" r="5.8"/>
<circle cx="2010.8" cy="1756.4" r="5.8"/>
<circle cx="2011.6" cy="1750" r="5.8"/>
<circle cx="2012" cy="1743.5" r="5.8"/>
<circle cx="2013" cy="1755.1" r="5.8"/>
<circle cx="2013.1" cy="1750.8" r="5.8"/>
<circle cx="2013.3" cy="1754.8" r="5.8"/>
<circle cx="2013.4" cy="1751.4" r="5.8"/>
<circle cx="2013.8" cy="1756.1" r="5.8"/>
<circle cx="2013.8" cy="1754.8" r="5.8"/>
<circle cx="2014.6" cy="1734.8" r="5.8"/>
<circle cx="2015.1" cy="1745" r="5.8"/>
<circle cx="2015.5" cy="1749.7" r="5.8"/>
<circle cx="2015.5" cy="1742.1" r="5.8"/>
<circle cx="2016.2" cy="1741.9" r="5.8"/>
<circle cx="2016.6" cy="1739.4" r="5.8"/>
<circle cx="2017.5" cy="1744.5" r="5.8"/>
<circle cx="2017.6" cy="1748.6" r="5.8"/>
<circle cx="2018.8" cy="1753.9" r="5.8"/>
<circle cx="2019" cy="1732" r="5.8"/>
<circle cx="2019.1" cy="1752" r="5.8"/>
<circle cx="2019.6" cy="1747" r="5.8"/>
<circle cx="2019.8" cy="1745.6" r="5.8"/>
<circle cx="2019.9" cy="1756" r="5.8"/>
<circle cx="2022" cy="1748" r="5.8"/>
<circle cx="2023.3" cy="1743.8" r="5.8"/>
<circle cx="2023.7" cy="1753.8" r="5.8"/>
<circle cx="2023.8" cy="1751" r="5.8"/>
<circle cx="2024.2" cy="1731.1" r="5.8"/>
<circle cx="2024.8" cy="1746.5" r="5.8"/>
<circle cx="2025.1" cy="1750.4" r="5.8"/>
<circle cx="2025.4" cy="1746.4" r="5.8"/>
<circle cx="2027.1" cy="1736.8" r="5.8"/>
<circle cx="2027.2" cy="1754.8" r="5.8"/>
<circle cx="2027.2" cy="1734.3" r="5.8"/>
<circle cx="2027.6" cy="1747.5" r="5.8"/>
<circle cx="2028.4" cy="1751.4" r="5.8"/>
<circle cx="2028.8" cy="1747.1" r="5.8"/>
<circle cx="2029.2" cy="1753.9" r="5.8"/>
<circle cx="2030" cy="1722.3" r="5.8"/>
<circle cx="2030.9" cy="1736.8" r="5.8"/>
<circle cx="2030.9" cy="1741.2" r="5.8"/>
<circle cx="2030.9" cy="1720.6" r="5.8"/>
<circle cx="2031.4" cy="1749.7" r="5.8"/>
<circle cx="2033.9" cy="1739.8" r="5.8"/>
<circle cx="2035.5" cy="1748.9" r="5.8"/>
<circle cx="2035.8" cy="1751.2" r="5.8"/>
<circle cx="2036.1" cy="1713.8" r="5.8"/>
<circle cx="2036.2" cy="1751.5" r="5.8"/>
<circle cx="2037.6" cy="1754.7" r="5.8"/>
<circle cx="2038.3" cy="1752.7" r="5.8"/>
<circle cx="2038.3" cy="1750.4" r="5.8"/>
<circle cx="2038.7" cy="1750.1" r="5.8"/>
<circle cx="2039.5" cy="1750" r="5.8"/>
<circle cx="2039.6" cy="1753.6" r="5.8"/>
<circle cx="2039.6" cy="1741.1" r="5.8"/>
<circle cx="2040.2" cy="1741.5" r="5.8"/>
<circle cx="2040.3" cy="1755" r="5.8"/>
<circle cx="2040.4" cy="1756.4" r="5.8"/>
<circle cx="2042" cy="1727.6" r="5.8"/>
<circle cx="2042" cy="1735.1" r="5.8"/>
<circle cx="2042.1" cy="1745.6" r="5.8"/>
<circle cx="2042.3" cy="1733.7" r="5.8"/>
<circle cx="2042.6" cy="1718.8" r="5.8"/>
<circle cx="2043.3" cy="1755.9" r="5.8"/>
<circle cx="2043.5" cy="1747.3" r="5.8"/>
<circle cx="2043.5" cy="1748.4" r="5.8"/>
<circle cx="2043.6" cy="1753.6" r="5.8"/>
<circle cx="2044.5" cy="1744.8" r="5.8"/>
<circle cx="2045.6" cy="1754.5" r="5.8"/>
<circle cx="2046.2" cy="1736.3" r="5.8"/>
<circle cx="2047.6" cy="1747.9" r="5.8"/>
<circle cx="2048.7" cy="1738.9" r="5.8"/>
<circle cx="2049.4" cy="1731.8" r="5.8"/>
<circle cx="2049.5" cy="1751.5" r="5.8"/>
<circle cx="2050.9" cy="1753" r="5.8"/>
<circle cx="2051.6" cy="1692.3" r="5.8"/>
<circle cx="2051.8" cy="1740.8" r="5.8"/>
<circle cx="2051.9" cy="1750.8" r="5.8"/>
<circle cx="2052.2" cy="1755.3" r="5.8"/>
<circle cx="2052.8" cy="1745.2" r="5.8"/>
<circle cx="2053" cy="1750.2" r="5.8"/>
<circle cx="2053.1" cy="1732.8" r="5.8"/>
<circle cx="2053.5" cy="1745.5" r="5.8"/>
<circle cx="2054.1" cy="1734.9" r="5.8"/>
<circle cx="2054.7" cy="1735.8" r="5.8"/>
<circle cx="2055.2" cy="1754.7" r="5.8"/>
<circle cx="2055.7" cy="1731.2" r="5.8"/>
<circle cx="2056" cy="1748.5" r="5.8"/>
<circle cx="2056.1" cy="1725.9" r="5.8"/>
<circle cx="2056.2" cy="1747.8" r="5.8"/>
<circle cx="2056.2" cy="1750.5" r="5.8"/>
<circle cx="2056.9" cy="1746.1" r="5.8"/>
<circle cx="2057.1" cy="1728.6" r="5.8"/>
<circle cx="2057.3" cy="1732.7" r="5.8"/>
<circle cx="2057.3" cy="1739.7" r="5.8"/>
<circle cx="2057.5" cy="1732.4" r="5.8"/>
<circle cx="2058" cy="1748.9" r="5.8"/>
<circle cx="2058.1" cy="1724" r="5.8"/>
<circle cx="2058.2" cy="1753.4" r="5.8"/>
<circle cx="2058.5" cy="1754" r="5.8"/>
<circle cx="2058.8" cy="1748.7" r="5.8"/>
<circle cx="2059.3" cy="1732.2" r="5.8"/>
<circle cx="2059.8" cy="1729.2" r="5.8"/>
<circle cx="2061.5" cy="1750.8" r="5.8"/>
<circle cx="2062.2" cy="1755.2" r="5.8"/>
<circle cx="2062.9" cy="1755.6" r="5.8"/>
<circle cx="2063.6" cy="1748" r="5.8"/>
<circle cx="2064.6" cy="1751.2" r="5.8"/>
<circle cx="2065.1" cy="1753.5" r="5.8"/>
<circle cx="2065.3" cy="1753.1" r="5.8"/>
<circle cx="2065.8" cy="1743.5" r="5.8"/>
<circle cx="2066.4" cy="1734.6" r="5.8"/>
<circle cx="2066.6" cy="1753.7" r="5.8"/>
<circle cx="2067.3" cy="1753.7" r="5.8"/>
<circle cx="2067.5" cy="1756.2" r="5.8"/>
<circle cx="2067.6" cy="1753.2" r="5.8"/>
<circle cx="2067.8" cy="1754" r="5.8"/>
<circle cx="2067.8" cy="1737" r="5.8"/>
<circle cx="2067.9" cy="1740.5" r="5.8"/>
<circle cx="2068.6" cy="1743" r="5.8"/>
<circle cx="2068.6" cy="1750" r="5.8"/>
<circle cx="2069.2" cy="1746.2" r="5.8"/>
<circle cx="2069.5" cy="1746.6" r="5.8"/>
<circle cx="2069.7" cy="1753.2" r="5.8"/>
<circle cx="2070.4" cy="1736.2" r="5.8"/>
<circle cx="2072" cy="1737.3" r="5.8"/>
<circle cx="2073.4" cy="1752.1" r="5.8"/>
<circle cx="2073.6" cy="1746.6" r="5.8"/>
<circle cx="2074.1" cy="1754.4" r="5.8"/>
<circle cx="2074.1" cy="1744.6" r="5.8"/>
<circle cx="2074.4" cy="1742.1" r="5.8"/>
<circle cx="2075.2" cy="1745.7" r="5.8"/>
<circle cx="2076.3" cy="1672.2" r="5.8"/>
<circle cx="2076.6" cy="1745.6" r="5.8"/>
<circle cx="2077.2" cy="1752.2" r="5.8"/>
<circle cx="2077.9" cy="1750.2" r="5.8"/>
<circle cx="2078.1" cy="1729.3" r="5.8"/>
<circle cx="2078.4" cy="1742.7" r="5.8"/>
<circle cx="2078.4" cy="1750.7" r="5.8"/>
<circle cx="2079.1" cy="1740.1" r="5.8"/>
<circle cx="2080.3" cy="1748.9" r="5.8"/>
<circle cx="2080.5" cy="1751.5" r="5.8"/>
<circle cx="2080.8" cy="1738.6" r="5.8"/>
<circle cx="2081.2" cy="1739.3" r="5.8"/>
<circle cx="2081.7" cy="1751.8" r="5.8"/>
<circle cx="2083.8" cy="1748.6" r="5.8"/>
<circle cx="2083.8" cy="1749.9" r="5.8"/>
<circle cx="2084.2" cy="1733" r="5.8"/>
<circle cx="2085.1" cy="1726.6" r="5.8"/>
<circle cx="2085.3" cy="1747.4" r="5.8"/>
<circle cx="2085.5" cy="1746.1" r="5.8"/>
<circle cx="2085.7" cy="1747.7" r="5.8"/>
<circle cx="2085.7" cy="1715.9" r="5.8"/>
<circle cx="2086.3" cy="1752.5" r="5.8"/>
<circle cx="2087.5" cy="1739.6" r="5.8"/>
<circle cx="2088" cy="1749.1" r="5.8"/>
<circle cx="2088.1" cy="1725.2" r="5.8"/>
<circle cx="2088.3" cy="1755.6" r="5.8"/>
<circle cx="2088.4" cy="1747" r="5.8"/>
<circle cx="2088.9" cy="1740.2" r="5.8"/>
<circle cx="2089.5" cy="1733.3" r="5.8"/>
<circle cx="2089.9" cy="1726.9" r="5.8"/>
<circle cx="2091.6" cy="1731.1" r="5.8"/>
<circle cx="2091.9" cy="1756.2" r="5.8"/>
<circle cx="2092" cy="1751.8" r="5.8"/>
<circle cx="2093.4" cy="1732.4" r="5.8"/>
<circle cx="2093.5" cy="1754.7" r="5.8"/>
<circle cx="2093.7" cy="1741" r="5.8"/>
<circle cx="2094" cy="1750.4" r="5.8"/>
<circle cx="2094.5" cy="1752.2" r="5.8"/>
<circle cx="2094.8" cy="1725.2" r="5.8"/>
<circle cx="2094.8" cy="1749.3" r="5.8"/>
<circle cx="2094.9" cy="1742.7" r="5.8"/>
<circle cx="2095" cy="1748.3" r="5.8"/>
<circle cx="2096" cy="1755.8" r="5.8"/>
<circle cx="2096.6" cy="1749" r="5.8"/>
<circle cx="2097.7" cy="1719.1" r="5.8"/>
<circle cx="2097.7" cy="1754.6" r="5.8"/>
<circle cx="2098.5" cy="1743.3" r="5.8"/>
<circle cx="2098.8" cy="1749.1" r="5.8"/>
<circle cx="2100" cy="1748.3" r="5.8"/>
<circle cx="2101.8" cy="1737.9" r="5.8"/>
<circle cx="2102.8" cy="1728.6" r="5.8"/>
<circle cx="2103.8" cy="1736.9" r="5.8"/>
<circle cx="2104.1" cy="1738.4" r="5.8"/>
<circle cx="2104.4" cy="1727" r="5.8"/>
<circle cx="2105.1" cy="1744.4" r="5.8"/>
<circle cx="2105.5" cy="1740.2" r="5.8"/>
<circle cx="2105.5" cy="1738.6" r="5.8"/>
<circle cx="2105.9" cy="1754" r="5.8"/>
<circle cx="2106.2" cy="1732.7" r="5.8"/>
<circle cx="2106.4" cy="1754.5" r="5.8"/>
<circle cx="2107" cy="1747.5" r="5.8"/>
<circle cx="2108.7" cy="1756.2" r="5.8"/>
<circle cx="2108.8" cy="1742" r="5.8"/>
<circle cx="2108.8" cy="1750.2" r="5.8"/>
<circle cx="2109" cy="1742.9" r="5.8"/>
<circle cx="2109.6" cy="1748.3" r="5.8"/>
<circle cx="2110.3" cy="1756.1" r="5.8"/>
<circle cx="2110.8" cy="1740.1" r="5.8"/>
<circle cx="2111" cy="1753" r="5.8"/>
<circle cx="2111" cy="1734.5" r="5.8"/>
<circle cx="2112.1" cy="1751" r="5.8"/>
<circle cx="2113.2" cy="1754.2" r="5.8"/>
<circle cx="2113.6" cy="1756" r="5.8"/>
<circle cx="2113.7" cy="1752.3" r="5.8"/>
<circle cx="2113.7" cy="1755.5" r="5.8"/>
<circle cx="2114.8" cy="1749.7" r="5.8"/>
<circle cx="2115.2" cy="1740.8" r="5.8"/>
<circle cx="2116" cy="1753.7" r="5.8"/>
<circle cx="2116.6" cy="1751.5" r="5.8"/>
<circle cx="2116.6" cy="1756.3" r="5.8"/>
<circle cx="2117" cy="1733.7" r="5.8"/>
<circle cx="2117.3" cy="1733.7" r="5.8"/>
<circle cx="2117.3" cy="1753.7" r="5.8"/>
<circle cx="2118" cy="1746.5" r="5.8"/>
<circle cx="2119.7" cy="1734" r="5.8"/>
<circle cx="2119.9" cy="1740.7" r="5.8"/>
<circle cx="2120.2" cy="1729.5" r="5.8"/>
<circle cx="2120.6" cy="1755.1" r="5.8"/>
<circle cx="2120.8" cy="1722.2" r="5.8"/>
<circle cx="2121" cy="1733.9" r="5.8"/>
<circle cx="2121.9" cy="1750.3" r="5.8"/>
<circle cx="2122" cy="1743.2" r="5.8"/>
<circle cx="2122.1" cy="1741" r="5.8"/>
<circle cx="2122.8" cy="1752.7" r="5.8"/>
</g>
<g fill="#4dac26" fill-opacity="0.6">
<circle cx="1689.2" cy="1450.4" r="5.8"/>
<circle cx="1613.7" cy="1623.2" r="5.8"/>
<circle cx="1629.4" cy="1667.7" r="5.8"/>
<circle cx="1620" cy="1677.6" r="5.8"/>
<circle cx="1663.2" cy="1676.3" r="5.8"/>
</g>
<g fill="#ab47bc" fill-opacity="0.6">
<circle cx="1606.6" cy="1752.1" r="5.8"/>
</g>
</g>
<rect x="1174" y="1364.6" width="949.5" height="391.8" fill="none" stroke="#1a1a1a" stroke-width="1.7"/>
<line x1="1169.5" y1="1756.4" x2="1174" y2="1756.4" stroke="#1a1a1a" stroke-width="1.5"/>
<line x1="1169.5" y1="1700.4" x2="1174" y2="1700.4" stroke="#1a1a1a" stroke-width="1.5"/>
<line x1="1169.5" y1="1644.5" x2="1174" y2="1644.5" stroke="#1a1a1a" stroke-width="1.5"/>
<line x1="1169.5" y1="1588.5" x2="1174" y2="1588.5" stroke="#1a1a1a" stroke-width="1.5"/>
<line x1="1169.5" y1="1532.5" x2="1174" y2="1532.5" stroke="#1a1a1a" stroke-width="1.5"/>
<line x1="1169.5" y1="1476.5" x2="1174" y2="1476.5" stroke="#1a1a1a" stroke-width="1.5"/>
<line x1="1169.5" y1="1420.6" x2="1174" y2="1420.6" stroke="#1a1a1a" stroke-width="1.5"/>
<line x1="1169.5" y1="1364.6" x2="1174" y2="1364.6" stroke="#1a1a1a" stroke-width="1.5"/>
<line x1="1264.2" y1="1756.4" x2="1264.2" y2="1760.9" stroke="#1a1a1a" stroke-width="1.5"/>
<line x1="1480.4" y1="1756.4" x2="1480.4" y2="1760.9" stroke="#1a1a1a" stroke-width="1.5"/>
<line x1="1696.7" y1="1756.4" x2="1696.7" y2="1760.9" stroke="#1a1a1a" stroke-width="1.5"/>
<line x1="1913.5" y1="1756.4" x2="1913.5" y2="1760.9" stroke="#1a1a1a" stroke-width="1.5"/>
<g font-family="DejaVu Sans Condensed, DejaVu Sans, sans-serif" font-weight="bold" font-stretch="condensed" font-size="17.3" fill="#000"><text transform="translate(1166.5,1761.8) scale(1,1.1)" text-anchor="end">0</text><text transform="translate(1166.5,1705.8) scale(1,1.1)" text-anchor="end">2</text><text transform="translate(1166.5,1649.9) scale(1,1.1)" text-anchor="end">4</text><text transform="translate(1166.5,1593.9) scale(1,1.1)" text-anchor="end">6</text><text transform="translate(1166.5,1537.9) scale(1,1.1)" text-anchor="end">8</text><text transform="translate(1166.5,1481.9) scale(1,1.1)" text-anchor="end">10</text><text transform="translate(1166.5,1426.0) scale(1,1.1)" text-anchor="end">12</text><text transform="translate(1166.5,1370.0) scale(1,1.1)" text-anchor="end">14</text><text transform="translate(1264.2,1776.4) scale(1,1.1)" text-anchor="middle">60000000</text><text transform="translate(1480.4,1776.4) scale(1,1.1)" text-anchor="middle">60500000</text><text transform="translate(1696.7,1776.4) scale(1,1.1)" text-anchor="middle">61000000</text><text transform="translate(1913.5,1776.4) scale(1,1.1)" text-anchor="middle">61500000</text></g>
<text font-family="DejaVu Sans, sans-serif" font-weight="bold" font-size="20.5" x="1648.8" y="1799.7" text-anchor="middle" stroke="#000" stroke-width="0.4">Chromosome Position</text>
<text font-family="DejaVu Sans, sans-serif" font-weight="bold" font-size="20.5" transform="translate(1137.0,1560.5) rotate(-90)" text-anchor="middle" stroke="#000" stroke-width="0.4">-log10Pvalue</text>
<rect x="2007.0" y="1377.6" width="31.5" height="11.3" fill="#fdb672"/>
<text font-family="DejaVu Sans Condensed, DejaVu Sans, sans-serif" font-weight="bold" font-stretch="condensed" font-size="14.9" transform="translate(2051.0,1389.4) scale(1,1.1)">flanking</text>
<rect x="2007.0" y="1400.2" width="31.5" height="11.3" fill="#4fb320"/>
<text font-family="DejaVu Sans Condensed, DejaVu Sans, sans-serif" font-weight="bold" font-stretch="condensed" font-size="14.9" transform="translate(2051.0,1412.0) scale(1,1.1)">intron</text>
<rect x="2007.0" y="1422.8" width="31.5" height="11.3" fill="#a947bb"/>
<text font-family="DejaVu Sans Condensed, DejaVu Sans, sans-serif" font-weight="bold" font-stretch="condensed" font-size="14.9" transform="translate(2051.0,1434.6) scale(1,1.1)">exon</text>
<g stroke="#fff" stroke-width="4" fill="#fff" stroke-linejoin="round"><line x1="1690.4" y1="1443.5" x2="1617.2" y2="1443.5"/><path d="M1609.2,1443.5 L1617.2,1439.5 L1617.2,1447.5 Z"/></g>
<line x1="1690.4" y1="1443.5" x2="1617.2" y2="1443.5" stroke="#000" stroke-width="1.6"/>
<path d="M1609.2,1443.5 L1617.2,1439.5 L1617.2,1447.5 Z" fill="#000"/>
<text font-family="DejaVu Sans, sans-serif" font-weight="bold" font-size="15.5" x="1618.9" y="1437.0" text-anchor="middle" stroke="#fff" stroke-width="3" paint-order="stroke" stroke-linejoin="round">BCL2</text>
<text font-family="Liberation Sans, Arial, sans-serif" font-weight="bold" font-size="46" x="1110" y="1279.2">f</text>
</g>
<g id="panel-g">
<rect x="496.1" y="1987.4" width="64.7" height="391.6" fill="rgb(128,128,128)" fill-opacity="0.32" stroke="rgb(128,128,128)" stroke-opacity="0.32" stroke-width="1.5"/>
<g clip-path="url(#clipg)" stroke="rgb(128,118,110)" stroke-opacity="0.6" stroke-width="1.65">
<g fill="#fdae61" fill-opacity="0.6">
<circle cx="54.3" cy="2353.8" r="5.8"/>
<circle cx="55.1" cy="2350.9" r="5.8"/>
<circle cx="56.2" cy="2375.9" r="5.8"/>
<circle cx="56.8" cy="2343.1" r="5.8"/>
<circle cx="57" cy="2376.9" r="5.8"/>
<circle cx="57.1" cy="2370.7" r="5.8"/>
<circle cx="57.2" cy="2355.9" r="5.8"/>
<circle cx="57.7" cy="2352" r="5.8"/>
<circle cx="57.8" cy="2347.9" r="5.8"/>
<circle cx="57.8" cy="2378.6" r="5.8"/>
<circle cx="58" cy="2346.5" r="5.8"/>
<circle cx="58.2" cy="2347.5" r="5.8"/>
<circle cx="58.6" cy="2356.1" r="5.8"/>
<circle cx="59.1" cy="2376.7" r="5.8"/>
<circle cx="59.3" cy="2376.5" r="5.8"/>
<circle cx="59.7" cy="2373.8" r="5.8"/>
<circle cx="61.3" cy="2377" r="5.8"/>
<circle cx="61.6" cy="2377.5" r="5.8"/>
<circle cx="62.1" cy="2322.1" r="5.8"/>
<circle cx="62.5" cy="2377.9" r="5.8"/>
<circle cx="62.5" cy="2377.5" r="5.8"/>
<circle cx="62.7" cy="2369.4" r="5.8"/>
<circle cx="62.8" cy="2345.4" r="5.8"/>
<circle cx="63.4" cy="2378.4" r="5.8"/>
<circle cx="63.5" cy="2376.1" r="5.8"/>
<circle cx="63.5" cy="2364.9" r="5.8"/>
<circle cx="63.6" cy="2370.5" r="5.8"/>
<circle cx="64.3" cy="2366.6" r="5.8"/>
<circle cx="64.6" cy="2355" r="5.8"/>
<circle cx="65.3" cy="2355.6" r="5.8"/>
<circle cx="65.4" cy="2351.3" r="5.8"/>
<circle cx="66.1" cy="2321.6" r="5.8"/>
<circle cx="66.4" cy="2357.1" r="5.8"/>
<circle cx="67.3" cy="2348.4" r="5.8"/>
<circle cx="67.4" cy="2372.6" r="5.8"/>
<circle cx="67.5" cy="2353.6" r="5.8"/>
<circle cx="67.5" cy="2371.2" r="5.8"/>
<circle cx="67.6" cy="2365.7" r="5.8"/>
<circle cx="68" cy="2377.8" r="5.8"/>
<circle cx="68.5" cy="2356.6" r="5.8"/>
<circle cx="68.7" cy="2377.2" r="5.8"/>
<circle cx="69.2" cy="2355.9" r="5.8"/>
<circle cx="69.8" cy="2377.5" r="5.8"/>
<circle cx="70.1" cy="2374.2" r="5.8"/>
<circle cx="70.7" cy="2371.3" r="5.8"/>
<circle cx="71.3" cy="2376.3" r="5.8"/>
<circle cx="71.3" cy="2375.1" r="5.8"/>
<circle cx="72.5" cy="2372.7" r="5.8"/>
<circle cx="73.1" cy="2357.3" r="5.8"/>
<circle cx="73.9" cy="2374.2" r="5.8"/>
<circle cx="74.8" cy="2370.9" r="5.8"/>
<circle cx="74.9" cy="2376.5" r="5.8"/>
<circle cx="75.2" cy="2362" r="5.8"/>
<circle cx="75.3" cy="2373.7" r="5.8"/>
<circle cx="75.9" cy="2364.1" r="5.8"/>
<circle cx="76.3" cy="2373" r="5.8"/>
<circle cx="77.6" cy="2374.4" r="5.8"/>
<circle cx="77.6" cy="2359.2" r="5.8"/>
<circle cx="77.8" cy="2350" r="5.8"/>
<circle cx="77.8" cy="2353.8" r="5.8"/>
<circle cx="77.9" cy="2360.2" r="5.8"/>
<circle cx="78.6" cy="2364.9" r="5.8"/>
<circle cx="79.2" cy="2347.7" r="5.8"/>
<circle cx="79.4" cy="2371.3" r="5.8"/>
<circle cx="79.9" cy="2377.9" r="5.8"/>
<circle cx="80" cy="2374.5" r="5.8"/>
<circle cx="80.4" cy="2347.2" r="5.8"/>
<circle cx="80.5" cy="2371.9" r="5.8"/>
<circle cx="80.6" cy="2360.9" r="5.8"/>
<circle cx="80.7" cy="2375" r="5.8"/>
<circle cx="81.1" cy="2378.7" r="5.8"/>
<circle cx="82.2" cy="2371.7" r="5.8"/>
<circle cx="82.2" cy="2363.2" r="5.8"/>
<circle cx="82.6" cy="2375.2" r="5.8"/>
<circle cx="82.7" cy="2357" r="5.8"/>
<circle cx="82.9" cy="2362.5" r="5.8"/>
<circle cx="83.8" cy="2362.7" r="5.8"/>
<circle cx="84.8" cy="2379" r="5.8"/>
<circle cx="87.1" cy="2358.4" r="5.8"/>
<circle cx="87.6" cy="2373.7" r="5.8"/>
<circle cx="88" cy="2332.9" r="5.8"/>
<circle cx="88.1" cy="2378.3" r="5.8"/>
<circle cx="88.6" cy="2372.1" r="5.8"/>
<circle cx="88.8" cy="2369.8" r="5.8"/>
<circle cx="88.8" cy="2377.4" r="5.8"/>
<circle cx="89" cy="2378.8" r="5.8"/>
<circle cx="89.1" cy="2364.6" r="5.8"/>
<circle cx="90.7" cy="2376.1" r="5.8"/>
<circle cx="91.1" cy="2369.2" r="5.8"/>
<circle cx="91.4" cy="2379" r="5.8"/>
<circle cx="91.5" cy="2370.3" r="5.8"/>
<circle cx="92" cy="2359.4" r="5.8"/>
<circle cx="92.2" cy="2354.8" r="5.8"/>
<circle cx="92.3" cy="2350.9" r="5.8"/>
<circle cx="92.4" cy="2377.5" r="5.8"/>
<circle cx="92.7" cy="2371.7" r="5.8"/>
<circle cx="94.3" cy="2362" r="5.8"/>
<circle cx="94.4" cy="2353.6" r="5.8"/>
<circle cx="94.8" cy="2354.2" r="5.8"/>
<circle cx="95" cy="2369.8" r="5.8"/>
<circle cx="95.5" cy="2357.5" r="5.8"/>
<circle cx="95.5" cy="2367.8" r="5.8"/>
<circle cx="95.6" cy="2371.6" r="5.8"/>
<circle cx="95.7" cy="2371.6" r="5.8"/>
<circle cx="95.9" cy="2376.7" r="5.8"/>
<circle cx="96.9" cy="2363" r="5.8"/>
<circle cx="97.5" cy="2360.9" r="5.8"/>
<circle cx="98.8" cy="2376.2" r="5.8"/>
<circle cx="100.5" cy="2369.6" r="5.8"/>
<circle cx="100.5" cy="2362.5" r="5.8"/>
<circle cx="100.7" cy="2370.5" r="5.8"/>
<circle cx="100.9" cy="2358.8" r="5.8"/>
<circle cx="100.9" cy="2322.1" r="5.8"/>
<circle cx="100.9" cy="2371.5" r="5.8"/>
<circle cx="101.5" cy="2356.8" r="5.8"/>
<circle cx="101.9" cy="2369.2" r="5.8"/>
<circle cx="102.7" cy="2366.2" r="5.8"/>
<circle cx="104.9" cy="2280.1" r="5.8"/>
<circle cx="104.9" cy="2316.8" r="5.8"/>
<circle cx="106.2" cy="2360.4" r="5.8"/>
<circle cx="106.5" cy="2349.9" r="5.8"/>
<circle cx="107.5" cy="2378" r="5.8"/>
<circle cx="107.5" cy="2359.9" r="5.8"/>
<circle cx="108.5" cy="2356.2" r="5.8"/>
<circle cx="109.5" cy="2363.6" r="5.8"/>
<circle cx="110.2" cy="2356.8" r="5.8"/>
<circle cx="110.4" cy="2352.3" r="5.8"/>
<circle cx="110.7" cy="2356.6" r="5.8"/>
<circle cx="111.3" cy="2375.3" r="5.8"/>
<circle cx="112" cy="2344" r="5.8"/>
<circle cx="112.6" cy="2356.9" r="5.8"/>
<circle cx="112.6" cy="2377.4" r="5.8"/>
<circle cx="113.2" cy="2357.5" r="5.8"/>
<circle cx="113.5" cy="2371" r="5.8"/>
<circle cx="114.3" cy="2373.8" r="5.8"/>
<circle cx="114.7" cy="2358.3" r="5.8"/>
<circle cx="114.9" cy="2355.5" r="5.8"/>
<circle cx="115" cy="2371" r="5.8"/>
<circle cx="115.6" cy="2299.6" r="5.8"/>
<circle cx="116.1" cy="2371.2" r="5.8"/>
<circle cx="116.4" cy="2331" r="5.8"/>
<circle cx="116.7" cy="2355.2" r="5.8"/>
<circle cx="116.7" cy="2378" r="5.8"/>
<circle cx="116.8" cy="2352.7" r="5.8"/>
<circle cx="117.2" cy="2375.3" r="5.8"/>
<circle cx="117.4" cy="2354.1" r="5.8"/>
<circle cx="118.8" cy="2372.8" r="5.8"/>
<circle cx="118.8" cy="2369.7" r="5.8"/>
<circle cx="119.1" cy="2372.4" r="5.8"/>
<circle cx="119.6" cy="2356.5" r="5.8"/>
<circle cx="120.4" cy="2366.5" r="5.8"/>
<circle cx="121.4" cy="2364.2" r="5.8"/>
<circle cx="121.7" cy="2345.7" r="5.8"/>
<circle cx="121.9" cy="2360.3" r="5.8"/>
<circle cx="122.9" cy="2378.9" r="5.8"/>
<circle cx="123.1" cy="2369.2" r="5.8"/>
<circle cx="124.2" cy="2366.2" r="5.8"/>
<circle cx="124.5" cy="2299.6" r="5.8"/>
<circle cx="124.5" cy="2363.6" r="5.8"/>
<circle cx="124.9" cy="2376.3" r="5.8"/>
<circle cx="125.1" cy="2376.7" r="5.8"/>
<circle cx="125.3" cy="2375.3" r="5.8"/>
<circle cx="125.4" cy="2376.6" r="5.8"/>
<circle cx="126.5" cy="2366.6" r="5.8"/>
<circle cx="127.3" cy="2348.4" r="5.8"/>
<circle cx="127.4" cy="2377.7" r="5.8"/>
<circle cx="127.4" cy="2376.3" r="5.8"/>
<circle cx="127.7" cy="2327" r="5.8"/>
<circle cx="127.7" cy="2332.3" r="5.8"/>
<circle cx="127.9" cy="2357.4" r="5.8"/>
<circle cx="128.2" cy="2372.7" r="5.8"/>
<circle cx="128.5" cy="2363.5" r="5.8"/>
<circle cx="128.5" cy="2373.1" r="5.8"/>
<circle cx="129" cy="2354.4" r="5.8"/>
<circle cx="129.9" cy="2353.8" r="5.8"/>
<circle cx="131.2" cy="2375.9" r="5.8"/>
<circle cx="131.6" cy="2368.5" r="5.8"/>
<circle cx="131.8" cy="2375.3" r="5.8"/>
<circle cx="132.2" cy="2362.2" r="5.8"/>
<circle cx="132.2" cy="2313.6" r="5.8"/>
<circle cx="132.2" cy="2372.6" r="5.8"/>
<circle cx="132.4" cy="2369.7" r="5.8"/>
<circle cx="132.5" cy="2374.7" r="5.8"/>
<circle cx="132.5" cy="2375.4" r="5.8"/>
<circle cx="132.6" cy="2369.5" r="5.8"/>
<circle cx="133" cy="2371" r="5.8"/>
<circle cx="133.1" cy="2374.9" r="5.8"/>
<circle cx="133.7" cy="2356.4" r="5.8"/>
<circle cx="134.3" cy="2363.3" r="5.8"/>
<circle cx="135.1" cy="2360.6" r="5.8"/>
<circle cx="137.2" cy="2365.3" r="5.8"/>
<circle cx="137.5" cy="2375.8" r="5.8"/>
<circle cx="137.9" cy="2354.3" r="5.8"/>
<circle cx="139.4" cy="2374.9" r="5.8"/>
<circle cx="139.7" cy="2377.6" r="5.8"/>
<circle cx="140.1" cy="2362.6" r="5.8"/>
<circle cx="140.8" cy="2372.2" r="5.8"/>
<circle cx="141.7" cy="2374.8" r="5.8"/>
<circle cx="141.7" cy="2356.3" r="5.8"/>
<circle cx="142.6" cy="2370.4" r="5.8"/>
<circle cx="142.7" cy="2371.4" r="5.8"/>
<circle cx="142.7" cy="2370.4" r="5.8"/>
<circle cx="143.3" cy="2363" r="5.8"/>
<circle cx="143.5" cy="2378.1" r="5.8"/>
<circle cx="143.5" cy="2378.6" r="5.8"/>
<circle cx="143.8" cy="2377.7" r="5.8"/>
<circle cx="143.8" cy="2377.4" r="5.8"/>
<circle cx="143.9" cy="2361.5" r="5.8"/>
<circle cx="144.1" cy="2371.4" r="5.8"/>
<circle cx="144.6" cy="2350.1" r="5.8"/>
<circle cx="145.3" cy="2374" r="5.8"/>
<circle cx="145.3" cy="2371.7" r="5.8"/>
<circle cx="145.8" cy="2350.9" r="5.8"/>
<circle cx="145.9" cy="2378.2" r="5.8"/>
<circle cx="146.4" cy="2373.1" r="5.8"/>
<circle cx="146.8" cy="2362.7" r="5.8"/>
<circle cx="146.9" cy="2372.1" r="5.8"/>
<circle cx="147" cy="2369.2" r="5.8"/>
<circle cx="147.3" cy="2372.2" r="5.8"/>
<circle cx="147.5" cy="2377.5" r="5.8"/>
<circle cx="148" cy="2370.2" r="5.8"/>
<circle cx="149" cy="2367.3" r="5.8"/>
<circle cx="149.3" cy="2358.3" r="5.8"/>
<circle cx="149.5" cy="2361.7" r="5.8"/>
<circle cx="151.3" cy="2340.4" r="5.8"/>
<circle cx="151.4" cy="2372.9" r="5.8"/>
<circle cx="151.5" cy="2371.7" r="5.8"/>
<circle cx="151.7" cy="2376.7" r="5.8"/>
<circle cx="152.2" cy="2376.4" r="5.8"/>
<circle cx="152.3" cy="2377.6" r="5.8"/>
<circle cx="152.7" cy="2352.6" r="5.8"/>
<circle cx="153.2" cy="2358.5" r="5.8"/>
<circle cx="153.7" cy="2371.6" r="5.8"/>
<circle cx="154.3" cy="2363.6" r="5.8"/>
<circle cx="154.5" cy="2376.6" r="5.8"/>
<circle cx="154.6" cy="2354.9" r="5.8"/>
<circle cx="156.5" cy="2353.6" r="5.8"/>
<circle cx="156.8" cy="2358.9" r="5.8"/>
<circle cx="157.4" cy="2354.4" r="5.8"/>
<circle cx="157.8" cy="2358.5" r="5.8"/>
<circle cx="158.4" cy="2378.4" r="5.8"/>
<circle cx="158.6" cy="2367.7" r="5.8"/>
<circle cx="158.9" cy="2372.4" r="5.8"/>
<circle cx="159.8" cy="2350.9" r="5.8"/>
<circle cx="160.1" cy="2374.2" r="5.8"/>
<circle cx="160.6" cy="2375" r="5.8"/>
<circle cx="160.8" cy="2368.4" r="5.8"/>
<circle cx="160.8" cy="2356.7" r="5.8"/>
<circle cx="161.2" cy="2371.7" r="5.8"/>
<circle cx="161.4" cy="2374.3" r="5.8"/>
<circle cx="161.6" cy="2342.8" r="5.8"/>
<circle cx="161.8" cy="2372.2" r="5.8"/>
<circle cx="162.2" cy="2374.4" r="5.8"/>
<circle cx="162.5" cy="2360" r="5.8"/>
<circle cx="164.2" cy="2377.2" r="5.8"/>
<circle cx="164.7" cy="2333.7" r="5.8"/>
<circle cx="165.1" cy="2368.4" r="5.8"/>
<circle cx="165.4" cy="2361.5" r="5.8"/>
<circle cx="165.7" cy="2314.9" r="5.8"/>
<circle cx="165.7" cy="2316" r="5.8"/>
<circle cx="165.7" cy="2375.2" r="5.8"/>
<circle cx="166" cy="2368.7" r="5.8"/>
<circle cx="167.4" cy="2372.7" r="5.8"/>
<circle cx="169" cy="2350.7" r="5.8"/>
<circle cx="169.2" cy="2375" r="5.8"/>
<circle cx="171.3" cy="2378.9" r="5.8"/>
<circle cx="171.5" cy="2376.4" r="5.8"/>
<circle cx="171.9" cy="2372.5" r="5.8"/>
<circle cx="172" cy="2377.5" r="5.8"/>
<circle cx="173.4" cy="2372.4" r="5.8"/>
<circle cx="173.7" cy="2375.1" r="5.8"/>
<circle cx="174" cy="2349.8" r="5.8"/>
<circle cx="174.1" cy="2378.6" r="5.8"/>
<circle cx="174.2" cy="2355" r="5.8"/>
<circle cx="174.4" cy="2378.8" r="5.8"/>
<circle cx="174.6" cy="2363.2" r="5.8"/>
<circle cx="174.7" cy="2370.2" r="5.8"/>
<circle cx="175.3" cy="2357.4" r="5.8"/>
<circle cx="176" cy="2373.8" r="5.8"/>
<circle cx="176.2" cy="2375.2" r="5.8"/>
<circle cx="176.3" cy="2370.8" r="5.8"/>
<circle cx="176.3" cy="2345.3" r="5.8"/>
<circle cx="177.4" cy="2368.6" r="5.8"/>
<circle cx="177.5" cy="2353.7" r="5.8"/>
<circle cx="178.6" cy="2350.5" r="5.8"/>
<circle cx="179.8" cy="2361.8" r="5.8"/>
<circle cx="179.9" cy="2327" r="5.8"/>
<circle cx="180.1" cy="2367.9" r="5.8"/>
<circle cx="180.1" cy="2365.8" r="5.8"/>
<circle cx="180.5" cy="2350.4" r="5.8"/>
<circle cx="180.6" cy="2353.9" r="5.8"/>
<circle cx="180.9" cy="2372" r="5.8"/>
<circle cx="181.3" cy="2340.4" r="5.8"/>
<circle cx="181.3" cy="2349.8" r="5.8"/>
<circle cx="182.2" cy="2375.1" r="5.8"/>
<circle cx="182.2" cy="2372.7" r="5.8"/>
<circle cx="182.7" cy="2371.9" r="5.8"/>
<circle cx="182.8" cy="2372.2" r="5.8"/>
<circle cx="182.9" cy="2366.7" r="5.8"/>
<circle cx="183.2" cy="2378.2" r="5.8"/>
<circle cx="184" cy="2364.7" r="5.8"/>
<circle cx="184.4" cy="2353.2" r="5.8"/>
<circle cx="184.5" cy="2366.7" r="5.8"/>
<circle cx="184.6" cy="2369.3" r="5.8"/>
<circle cx="184.6" cy="2374.1" r="5.8"/>
<circle cx="185.4" cy="2351.3" r="5.8"/>
<circle cx="186.4" cy="2375.8" r="5.8"/>
<circle cx="186.6" cy="2378.7" r="5.8"/>
<circle cx="186.7" cy="2372.6" r="5.8"/>
<circle cx="187.9" cy="2358.1" r="5.8"/>
<circle cx="188.1" cy="2366.8" r="5.8"/>
<circle cx="188.1" cy="2377.2" r="5.8"/>
<circle cx="188.9" cy="2372.2" r="5.8"/>
<circle cx="189.3" cy="2358" r="5.8"/>
<circle cx="190.8" cy="2365.1" r="5.8"/>
<circle cx="191.3" cy="2379" r="5.8"/>
<circle cx="191.4" cy="2332.3" r="5.8"/>
<circle cx="191.5" cy="2358.8" r="5.8"/>
<circle cx="192" cy="2370.5" r="5.8"/>
<circle cx="192.3" cy="2374.3" r="5.8"/>
<circle cx="193.7" cy="2376.4" r="5.8"/>
<circle cx="194.4" cy="2358.4" r="5.8"/>
<circle cx="194.5" cy="2354.1" r="5.8"/>
<circle cx="195.7" cy="2346.1" r="5.8"/>
<circle cx="196.9" cy="2376" r="5.8"/>
<circle cx="197.2" cy="2378.3" r="5.8"/>
<circle cx="197.7" cy="2358.4" r="5.8"/>
<circle cx="198.1" cy="2370.4" r="5.8"/>
<circle cx="199.1" cy="2375.3" r="5.8"/>
<circle cx="199.5" cy="2358" r="5.8"/>
<circle cx="200" cy="2348.7" r="5.8"/>
<circle cx="200.8" cy="2370.4" r="5.8"/>
<circle cx="201.6" cy="2370.8" r="5.8"/>
<circle cx="202.3" cy="2355.1" r="5.8"/>
<circle cx="203.9" cy="2360.4" r="5.8"/>
<circle cx="204.9" cy="2368.6" r="5.8"/>
<circle cx="204.9" cy="2378.5" r="5.8"/>
<circle cx="205.5" cy="2376.2" r="5.8"/>
<circle cx="205.6" cy="2375.9" r="5.8"/>
<circle cx="205.8" cy="2369.3" r="5.8"/>
<circle cx="206.3" cy="2370.1" r="5.8"/>
<circle cx="206.6" cy="2376.2" r="5.8"/>
<circle cx="206.8" cy="2378.3" r="5.8"/>
<circle cx="207.3" cy="2369.9" r="5.8"/>
<circle cx="207.6" cy="2346.6" r="5.8"/>
<circle cx="208.2" cy="2374.5" r="5.8"/>
<circle cx="209.1" cy="2373.1" r="5.8"/>
<circle cx="210.1" cy="2377.9" r="5.8"/>
<circle cx="210.3" cy="2352.1" r="5.8"/>
<circle cx="210.5" cy="2359.7" r="5.8"/>
<circle cx="210.7" cy="2369.3" r="5.8"/>
<circle cx="211" cy="2372.7" r="5.8"/>
<circle cx="211.5" cy="2329.6" r="5.8"/>
<circle cx="212" cy="2359.4" r="5.8"/>
<circle cx="213.7" cy="2349" r="5.8"/>
<circle cx="215.4" cy="2360.6" r="5.8"/>
<circle cx="216" cy="2375.5" r="5.8"/>
<circle cx="217" cy="2371.1" r="5.8"/>
<circle cx="217.2" cy="2376.7" r="5.8"/>
<circle cx="218.1" cy="2367.3" r="5.8"/>
<circle cx="218.3" cy="2369.8" r="5.8"/>
<circle cx="218.6" cy="2376.6" r="5.8"/>
<circle cx="218.8" cy="2370.9" r="5.8"/>
<circle cx="219.3" cy="2372.5" r="5.8"/>
<circle cx="219.4" cy="2378.8" r="5.8"/>
<circle cx="219.9" cy="2371.3" r="5.8"/>
<circle cx="221.7" cy="2378.4" r="5.8"/>
<circle cx="222.2" cy="2376" r="5.8"/>
<circle cx="222.3" cy="2351.7" r="5.8"/>
<circle cx="222.8" cy="2320.3" r="5.8"/>
<circle cx="223" cy="2370.5" r="5.8"/>
<circle cx="223.1" cy="2364.8" r="5.8"/>
<circle cx="223.5" cy="2372" r="5.8"/>
<circle cx="223.5" cy="2360.7" r="5.8"/>
<circle cx="223.7" cy="2371.2" r="5.8"/>
<circle cx="224" cy="2378.3" r="5.8"/>
<circle cx="224.2" cy="2358.9" r="5.8"/>
<circle cx="225.5" cy="2343" r="5.8"/>
<circle cx="225.8" cy="2377.3" r="5.8"/>
<circle cx="226.1" cy="2370.8" r="5.8"/>
<circle cx="226.9" cy="2375.7" r="5.8"/>
<circle cx="228.3" cy="2375.8" r="5.8"/>
<circle cx="228.5" cy="2373.3" r="5.8"/>
<circle cx="228.5" cy="2378.6" r="5.8"/>
<circle cx="229.1" cy="2347.1" r="5.8"/>
<circle cx="229.3" cy="2357.6" r="5.8"/>
<circle cx="229.3" cy="2378.5" r="5.8"/>
<circle cx="230" cy="2365.4" r="5.8"/>
<circle cx="230.1" cy="2364.3" r="5.8"/>
<circle cx="230.3" cy="2371.7" r="5.8"/>
<circle cx="230.6" cy="2364.7" r="5.8"/>
<circle cx="231.1" cy="2355.1" r="5.8"/>
<circle cx="232.9" cy="2369.8" r="5.8"/>
<circle cx="233.2" cy="2368.1" r="5.8"/>
<circle cx="233.6" cy="2361" r="5.8"/>
<circle cx="234.2" cy="2370.9" r="5.8"/>
<circle cx="234.2" cy="2375.4" r="5.8"/>
<circle cx="234.2" cy="2373.7" r="5.8"/>
<circle cx="234.5" cy="2372.4" r="5.8"/>
<circle cx="235" cy="2364.7" r="5.8"/>
<circle cx="235.3" cy="2370.6" r="5.8"/>
<circle cx="235.9" cy="2358.6" r="5.8"/>
<circle cx="236.3" cy="2352.8" r="5.8"/>
<circle cx="237" cy="2353.4" r="5.8"/>
<circle cx="237.1" cy="2371.1" r="5.8"/>
<circle cx="237.5" cy="2336.3" r="5.8"/>
<circle cx="238.3" cy="2366.8" r="5.8"/>
<circle cx="240" cy="2377.8" r="5.8"/>
<circle cx="240.1" cy="2363.3" r="5.8"/>
<circle cx="240.5" cy="2365.3" r="5.8"/>
<circle cx="242.2" cy="2366.6" r="5.8"/>
<circle cx="242.9" cy="2340.4" r="5.8"/>
<circle cx="243.4" cy="2371.1" r="5.8"/>
<circle cx="243.5" cy="2375.7" r="5.8"/>
<circle cx="243.5" cy="2372.6" r="5.8"/>
<circle cx="243.5" cy="2363.6" r="5.8"/>
<circle cx="244.4" cy="2371.3" r="5.8"/>
<circle cx="244.5" cy="2363" r="5.8"/>
<circle cx="245.7" cy="2377.3" r="5.8"/>
<circle cx="246.1" cy="2374.5" r="5.8"/>
<circle cx="246.3" cy="2373.4" r="5.8"/>
<circle cx="246.7" cy="2355.9" r="5.8"/>
<circle cx="247.4" cy="2349.8" r="5.8"/>
<circle cx="248.6" cy="2375.7" r="5.8"/>
<circle cx="248.7" cy="2360.5" r="5.8"/>
<circle cx="249" cy="2362.8" r="5.8"/>
<circle cx="249.1" cy="2374.8" r="5.8"/>
<circle cx="250" cy="2370.3" r="5.8"/>
<circle cx="250.1" cy="2360.6" r="5.8"/>
<circle cx="251" cy="2346.3" r="5.8"/>
<circle cx="251.2" cy="2353.7" r="5.8"/>
<circle cx="251.2" cy="2370.7" r="5.8"/>
<circle cx="251.7" cy="2372.6" r="5.8"/>
<circle cx="252.2" cy="2372.9" r="5.8"/>
<circle cx="252.3" cy="2354.2" r="5.8"/>
<circle cx="253.6" cy="2333.7" r="5.8"/>
<circle cx="254.2" cy="2357.8" r="5.8"/>
<circle cx="254.8" cy="2373" r="5.8"/>
<circle cx="254.9" cy="2376.6" r="5.8"/>
<circle cx="255.2" cy="2374.1" r="5.8"/>
<circle cx="255.2" cy="2370" r="5.8"/>
<circle cx="256.1" cy="2359.7" r="5.8"/>
<circle cx="256.4" cy="2371" r="5.8"/>
<circle cx="256.6" cy="2361.3" r="5.8"/>
<circle cx="258.3" cy="2366.5" r="5.8"/>
<circle cx="258.5" cy="2378.7" r="5.8"/>
<circle cx="260.2" cy="2369.9" r="5.8"/>
<circle cx="260.3" cy="2323.8" r="5.8"/>
<circle cx="262.1" cy="2377.3" r="5.8"/>
<circle cx="262.2" cy="2329.1" r="5.8"/>
<circle cx="262.8" cy="2374" r="5.8"/>
<circle cx="262.8" cy="2352.3" r="5.8"/>
<circle cx="263.6" cy="2352" r="5.8"/>
<circle cx="264.3" cy="2369" r="5.8"/>
<circle cx="264.4" cy="2361.1" r="5.8"/>
<circle cx="264.7" cy="2378.7" r="5.8"/>
<circle cx="265" cy="2373.2" r="5.8"/>
<circle cx="265.3" cy="2362.2" r="5.8"/>
<circle cx="265.8" cy="2346.2" r="5.8"/>
<circle cx="266.3" cy="2360.9" r="5.8"/>
<circle cx="266.8" cy="2377.9" r="5.8"/>
<circle cx="267" cy="2377.6" r="5.8"/>
<circle cx="267.7" cy="2370.6" r="5.8"/>
<circle cx="268.3" cy="2359" r="5.8"/>
<circle cx="268.6" cy="2378.5" r="5.8"/>
<circle cx="269.1" cy="2366.5" r="5.8"/>
<circle cx="269.2" cy="2374.8" r="5.8"/>
<circle cx="269.3" cy="2378.7" r="5.8"/>
<circle cx="269.4" cy="2378.1" r="5.8"/>
<circle cx="270.5" cy="2354.2" r="5.8"/>
<circle cx="271" cy="2370.1" r="5.8"/>
<circle cx="273" cy="2371.6" r="5.8"/>
<circle cx="273" cy="2377.4" r="5.8"/>
<circle cx="273.2" cy="2373.1" r="5.8"/>
<circle cx="274.4" cy="2369.4" r="5.8"/>
<circle cx="275.5" cy="2378.7" r="5.8"/>
<circle cx="275.6" cy="2357.8" r="5.8"/>
<circle cx="275.6" cy="2370.1" r="5.8"/>
<circle cx="277" cy="2351.8" r="5.8"/>
<circle cx="277.8" cy="2379" r="5.8"/>
<circle cx="277.9" cy="2366.5" r="5.8"/>
<circle cx="278.2" cy="2375.1" r="5.8"/>
<circle cx="278.8" cy="2350.5" r="5.8"/>
<circle cx="279.2" cy="2352.2" r="5.8"/>
<circle cx="280" cy="2375.2" r="5.8"/>
<circle cx="280.5" cy="2355.4" r="5.8"/>
<circle cx="280.5" cy="2371.5" r="5.8"/>
<circle cx="280.6" cy="2371.4" r="5.8"/>
<circle cx="280.7" cy="2376" r="5.8"/>
<circle cx="281.1" cy="2358.1" r="5.8"/>
<circle cx="281.7" cy="2365.3" r="5.8"/>
<circle cx="281.7" cy="2332.3" r="5.8"/>
<circle cx="282.9" cy="2370.5" r="5.8"/>
<circle cx="283.4" cy="2369.9" r="5.8"/>
<circle cx="283.7" cy="2378.7" r="5.8"/>
<circle cx="283.9" cy="2355.2" r="5.8"/>
<circle cx="284.6" cy="2355.7" r="5.8"/>
<circle cx="285.5" cy="2374.7" r="5.8"/>
<circle cx="286.1" cy="2379" r="5.8"/>
<circle cx="286.2" cy="2347" r="5.8"/>
<circle cx="287.1" cy="2366.7" r="5.8"/>
<circle cx="287.9" cy="2378.3" r="5.8"/>
<circle cx="288.3" cy="2363.8" r="5.8"/>
<circle cx="288.4" cy="2361" r="5.8"/>
<circle cx="288.9" cy="2355.6" r="5.8"/>
<circle cx="289.7" cy="2347.6" r="5.8"/>
<circle cx="289.7" cy="2353.8" r="5.8"/>
<circle cx="290.6" cy="2378.2" r="5.8"/>
<circle cx="290.6" cy="2356.4" r="5.8"/>
<circle cx="290.9" cy="2379" r="5.8"/>
<circle cx="292.6" cy="2372.7" r="5.8"/>
<circle cx="293.7" cy="2355.1" r="5.8"/>
<circle cx="293.8" cy="2313.6" r="5.8"/>
<circle cx="293.8" cy="2375.6" r="5.8"/>
<circle cx="294.2" cy="2365.1" r="5.8"/>
<circle cx="294.2" cy="2364.4" r="5.8"/>
<circle cx="294.6" cy="2371" r="5.8"/>
<circle cx="295.7" cy="2361.8" r="5.8"/>
<circle cx="296.5" cy="2329.6" r="5.8"/>
<circle cx="296.5" cy="2351" r="5.8"/>
<circle cx="297.3" cy="2346.8" r="5.8"/>
<circle cx="297.3" cy="2371.8" r="5.8"/>
<circle cx="299" cy="2374.1" r="5.8"/>
<circle cx="299.1" cy="2313.6" r="5.8"/>
<circle cx="299.3" cy="2377.3" r="5.8"/>
<circle cx="299.8" cy="2372.7" r="5.8"/>
<circle cx="299.9" cy="2364.7" r="5.8"/>
<circle cx="300.3" cy="2365.8" r="5.8"/>
<circle cx="301.8" cy="2332.3" r="5.8"/>
<circle cx="302.5" cy="2375.1" r="5.8"/>
<circle cx="302.9" cy="2361.1" r="5.8"/>
<circle cx="303" cy="2355.5" r="5.8"/>
<circle cx="303.2" cy="2372.4" r="5.8"/>
<circle cx="303.8" cy="2374" r="5.8"/>
<circle cx="303.9" cy="2356.8" r="5.8"/>
<circle cx="304.1" cy="2366.8" r="5.8"/>
<circle cx="304.5" cy="2376.5" r="5.8"/>
<circle cx="304.6" cy="2365.5" r="5.8"/>
<circle cx="305.3" cy="2370.4" r="5.8"/>
<circle cx="305.9" cy="2374.7" r="5.8"/>
<circle cx="306.4" cy="2358" r="5.8"/>
<circle cx="308.3" cy="2378.2" r="5.8"/>
<circle cx="308.9" cy="2373" r="5.8"/>
<circle cx="309" cy="2311.7" r="5.8"/>
<circle cx="309.4" cy="2375.6" r="5.8"/>
<circle cx="309.7" cy="2350.9" r="5.8"/>
<circle cx="312" cy="2323.8" r="5.8"/>
<circle cx="312.7" cy="2373.8" r="5.8"/>
<circle cx="312.8" cy="2377.3" r="5.8"/>
<circle cx="312.9" cy="2344.4" r="5.8"/>
<circle cx="313" cy="2374.4" r="5.8"/>
<circle cx="315.4" cy="2378.8" r="5.8"/>
<circle cx="315.4" cy="2367.4" r="5.8"/>
<circle cx="315.5" cy="2376.5" r="5.8"/>
<circle cx="315.9" cy="2364.5" r="5.8"/>
<circle cx="316" cy="2377" r="5.8"/>
<circle cx="316.4" cy="2354.8" r="5.8"/>
<circle cx="316.6" cy="2365.8" r="5.8"/>
<circle cx="316.6" cy="2369.7" r="5.8"/>
<circle cx="317.2" cy="2366.3" r="5.8"/>
<circle cx="317.3" cy="2350.1" r="5.8"/>
<circle cx="317.3" cy="2364.9" r="5.8"/>
<circle cx="317.6" cy="2358.4" r="5.8"/>
<circle cx="317.9" cy="2355.8" r="5.8"/>
<circle cx="318.7" cy="2327" r="5.8"/>
<circle cx="319.2" cy="2360.2" r="5.8"/>
<circle cx="319.5" cy="2370.5" r="5.8"/>
<circle cx="319.7" cy="2374.6" r="5.8"/>
<circle cx="320.5" cy="2378.5" r="5.8"/>
<circle cx="321.2" cy="2377.2" r="5.8"/>
<circle cx="321.8" cy="2377.4" r="5.8"/>
<circle cx="321.9" cy="2352" r="5.8"/>
<circle cx="322.3" cy="2350.1" r="5.8"/>
<circle cx="323.3" cy="2378.3" r="5.8"/>
<circle cx="323.8" cy="2362.8" r="5.8"/>
<circle cx="324.2" cy="2377.2" r="5.8"/>
<circle cx="324.9" cy="2358.2" r="5.8"/>
<circle cx="325" cy="2361.4" r="5.8"/>
<circle cx="326" cy="2377.7" r="5.8"/>
<circle cx="326.1" cy="2373.1" r="5.8"/>
<circle cx="326.3" cy="2360.2" r="5.8"/>
<circle cx="326.4" cy="2373" r="5.8"/>
<circle cx="326.7" cy="2371.1" r="5.8"/>
<circle cx="327.5" cy="2361.6" r="5.8"/>
<circle cx="328.7" cy="2375.2" r="5.8"/>
<circle cx="329.2" cy="2368.1" r="5.8"/>
<circle cx="329.2" cy="2369.5" r="5.8"/>
<circle cx="330.4" cy="2365.9" r="5.8"/>
<circle cx="330.8" cy="2365.7" r="5.8"/>
<circle cx="331.2" cy="2361.2" r="5.8"/>
<circle cx="331.6" cy="2370.5" r="5.8"/>
<circle cx="331.7" cy="2378.7" r="5.8"/>
<circle cx="331.9" cy="2372.1" r="5.8"/>
<circle cx="332.8" cy="2377" r="5.8"/>
<circle cx="333.9" cy="2372.3" r="5.8"/>
<circle cx="334" cy="2324.3" r="5.8"/>
<circle cx="334.8" cy="2378.7" r="5.8"/>
<circle cx="335.3" cy="2368.6" r="5.8"/>
<circle cx="335.5" cy="2375.2" r="5.8"/>
<circle cx="335.5" cy="2365.6" r="5.8"/>
<circle cx="336.5" cy="2371.1" r="5.8"/>
<circle cx="336.6" cy="2352.1" r="5.8"/>
<circle cx="336.7" cy="2351.8" r="5.8"/>
<circle cx="337.5" cy="2351.2" r="5.8"/>
<circle cx="337.8" cy="2372.8" r="5.8"/>
<circle cx="338" cy="2337.7" r="5.8"/>
<circle cx="338.2" cy="2370.3" r="5.8"/>
<circle cx="338.8" cy="2365.3" r="5.8"/>
<circle cx="339.3" cy="2364.8" r="5.8"/>
<circle cx="339.9" cy="2372.5" r="5.8"/>
<circle cx="340" cy="2371.2" r="5.8"/>
<circle cx="340.1" cy="2356.7" r="5.8"/>
<circle cx="340.7" cy="2374.8" r="5.8"/>
<circle cx="341.5" cy="2306.9" r="5.8"/>
<circle cx="341.5" cy="2316.3" r="5.8"/>
<circle cx="341.9" cy="2351.7" r="5.8"/>
<circle cx="342" cy="2287.6" r="5.8"/>
<circle cx="342.7" cy="2369.8" r="5.8"/>
<circle cx="342.8" cy="2367.3" r="5.8"/>
<circle cx="343.5" cy="2345.2" r="5.8"/>
<circle cx="343.7" cy="2351.7" r="5.8"/>
<circle cx="346.2" cy="2378.6" r="5.8"/>
<circle cx="346.5" cy="2369.9" r="5.8"/>
<circle cx="346.7" cy="2357" r="5.8"/>
<circle cx="347.8" cy="2370.8" r="5.8"/>
<circle cx="348.7" cy="2319.5" r="5.8"/>
<circle cx="348.8" cy="2368.5" r="5.8"/>
<circle cx="349" cy="2367.8" r="5.8"/>
<circle cx="349.4" cy="2357.1" r="5.8"/>
<circle cx="349.9" cy="2353.6" r="5.8"/>
<circle cx="350.1" cy="2351.7" r="5.8"/>
<circle cx="350.6" cy="2374.8" r="5.8"/>
<circle cx="350.9" cy="2376.7" r="5.8"/>
<circle cx="351.2" cy="2366.2" r="5.8"/>
<circle cx="351.7" cy="2375.3" r="5.8"/>
<circle cx="351.8" cy="2377.4" r="5.8"/>
<circle cx="351.8" cy="2358" r="5.8"/>
<circle cx="352" cy="2354.4" r="5.8"/>
<circle cx="352.3" cy="2369.3" r="5.8"/>
<circle cx="352.6" cy="2376.6" r="5.8"/>
<circle cx="352.9" cy="2373.8" r="5.8"/>
<circle cx="353.3" cy="2375.9" r="5.8"/>
<circle cx="355.4" cy="2359.2" r="5.8"/>
<circle cx="355.4" cy="2321.6" r="5.8"/>
<circle cx="355.4" cy="2337.7" r="5.8"/>
<circle cx="356" cy="2373.3" r="5.8"/>
<circle cx="356" cy="2374.6" r="5.8"/>
<circle cx="356.3" cy="2354.2" r="5.8"/>
<circle cx="357.9" cy="2363.6" r="5.8"/>
<circle cx="358.4" cy="2347.8" r="5.8"/>
<circle cx="358.4" cy="2357.7" r="5.8"/>
<circle cx="359.2" cy="2365.5" r="5.8"/>
<circle cx="359.3" cy="2376.9" r="5.8"/>
<circle cx="359.5" cy="2369.7" r="5.8"/>
<circle cx="359.9" cy="2370.3" r="5.8"/>
<circle cx="359.9" cy="2376.9" r="5.8"/>
<circle cx="360.1" cy="2348.7" r="5.8"/>
<circle cx="360.5" cy="2378.2" r="5.8"/>
<circle cx="360.5" cy="2368.6" r="5.8"/>
<circle cx="360.7" cy="2373.9" r="5.8"/>
<circle cx="360.8" cy="2378" r="5.8"/>
<circle cx="361.3" cy="2361.5" r="5.8"/>
<circle cx="362.1" cy="2335" r="5.8"/>
<circle cx="362.3" cy="2372.2" r="5.8"/>
<circle cx="363" cy="2378.6" r="5.8"/>
<circle cx="363.5" cy="2372.3" r="5.8"/>
<circle cx="364" cy="2373.8" r="5.8"/>
<circle cx="364.7" cy="2372.2" r="5.8"/>
<circle cx="364.9" cy="2372.2" r="5.8"/>
<circle cx="365.8" cy="2371.4" r="5.8"/>
<circle cx="365.9" cy="2374.6" r="5.8"/>
<circle cx="366" cy="2379" r="5.8"/>
<circle cx="366.3" cy="2357.5" r="5.8"/>
<circle cx="367" cy="2353.4" r="5.8"/>
<circle cx="367.6" cy="2373.3" r="5.8"/>
<circle cx="368" cy="2377.4" r="5.8"/>
<circle cx="368.2" cy="2353.8" r="5.8"/>
<circle cx="368.6" cy="2374.2" r="5.8"/>
<circle cx="369.2" cy="2374.2" r="5.8"/>
<circle cx="369.9" cy="2353.2" r="5.8"/>
<circle cx="369.9" cy="2368.9" r="5.8"/>
<circle cx="370" cy="2371.1" r="5.8"/>
<circle cx="370.3" cy="2371.9" r="5.8"/>
<circle cx="370.5" cy="2376.3" r="5.8"/>
<circle cx="371.4" cy="2346.9" r="5.8"/>
<circle cx="371.6" cy="2378.5" r="5.8"/>
<circle cx="372.1" cy="2352.5" r="5.8"/>
<circle cx="373.1" cy="2374.8" r="5.8"/>
<circle cx="374" cy="2363.3" r="5.8"/>
<circle cx="375.1" cy="2353.6" r="5.8"/>
<circle cx="375.2" cy="2372.5" r="5.8"/>
<circle cx="375.2" cy="2369.4" r="5.8"/>
<circle cx="375.9" cy="2349.7" r="5.8"/>
<circle cx="376" cy="2369.7" r="5.8"/>
<circle cx="376.5" cy="2370.8" r="5.8"/>
<circle cx="376.7" cy="2365.7" r="5.8"/>
<circle cx="377.2" cy="2369.3" r="5.8"/>
<circle cx="377.6" cy="2374.1" r="5.8"/>
<circle cx="380" cy="2370.2" r="5.8"/>
<circle cx="380.3" cy="2376.1" r="5.8"/>
<circle cx="380.8" cy="2360.2" r="5.8"/>
<circle cx="380.8" cy="2375.3" r="5.8"/>
<circle cx="381.4" cy="2370.8" r="5.8"/>
<circle cx="381.8" cy="2371.6" r="5.8"/>
<circle cx="381.9" cy="2347.2" r="5.8"/>
<circle cx="382.4" cy="2365.8" r="5.8"/>
<circle cx="382.8" cy="2357" r="5.8"/>
<circle cx="382.9" cy="2361.4" r="5.8"/>
<circle cx="383.5" cy="2378.6" r="5.8"/>
<circle cx="383.5" cy="2364.9" r="5.8"/>
<circle cx="383.9" cy="2372" r="5.8"/>
<circle cx="384.7" cy="2375.7" r="5.8"/>
<circle cx="384.9" cy="2368.1" r="5.8"/>
<circle cx="385.7" cy="2375.3" r="5.8"/>
<circle cx="385.8" cy="2353.5" r="5.8"/>
<circle cx="386" cy="2358.6" r="5.8"/>
<circle cx="387.6" cy="2364.1" r="5.8"/>
<circle cx="389.4" cy="2371.8" r="5.8"/>
<circle cx="389.7" cy="2376.3" r="5.8"/>
<circle cx="390.7" cy="2368.3" r="5.8"/>
<circle cx="390.7" cy="2324.3" r="5.8"/>
<circle cx="391" cy="2369.7" r="5.8"/>
<circle cx="392.3" cy="2370.7" r="5.8"/>
<circle cx="392.4" cy="2364.6" r="5.8"/>
<circle cx="393" cy="2375.2" r="5.8"/>
<circle cx="393.1" cy="2376.9" r="5.8"/>
<circle cx="394.4" cy="2374.1" r="5.8"/>
<circle cx="395.3" cy="2362.9" r="5.8"/>
<circle cx="395.6" cy="2353.8" r="5.8"/>
<circle cx="397" cy="2362.4" r="5.8"/>
<circle cx="397.5" cy="2373.9" r="5.8"/>
<circle cx="398.3" cy="2371.2" r="5.8"/>
<circle cx="400.3" cy="2376.5" r="5.8"/>
<circle cx="400.4" cy="2375.8" r="5.8"/>
<circle cx="401.2" cy="2371.9" r="5.8"/>
<circle cx="401.5" cy="2371.2" r="5.8"/>
<circle cx="401.7" cy="2370" r="5.8"/>
<circle cx="401.9" cy="2367.5" r="5.8"/>
<circle cx="402.1" cy="2358.8" r="5.8"/>
<circle cx="402.1" cy="2367" r="5.8"/>
<circle cx="403.3" cy="2371.5" r="5.8"/>
<circle cx="403.4" cy="2379" r="5.8"/>
<circle cx="404.8" cy="2370.7" r="5.8"/>
<circle cx="405.1" cy="2371.3" r="5.8"/>
<circle cx="405.7" cy="2367.5" r="5.8"/>
<circle cx="406.4" cy="2369.8" r="5.8"/>
<circle cx="406.9" cy="2374.7" r="5.8"/>
<circle cx="409.8" cy="2372.6" r="5.8"/>
<circle cx="410.3" cy="2353.8" r="5.8"/>
<circle cx="410.5" cy="2374.8" r="5.8"/>
<circle cx="410.8" cy="2320.8" r="5.8"/>
<circle cx="411.1" cy="2373.6" r="5.8"/>
<circle cx="411.3" cy="2374.3" r="5.8"/>
<circle cx="411.6" cy="2374.1" r="5.8"/>
<circle cx="411.7" cy="2373.2" r="5.8"/>
<circle cx="412.1" cy="2364.4" r="5.8"/>
<circle cx="412.3" cy="2364.4" r="5.8"/>
<circle cx="413.3" cy="2362.3" r="5.8"/>
<circle cx="413.4" cy="2362.9" r="5.8"/>
<circle cx="413.5" cy="2372.7" r="5.8"/>
<circle cx="413.7" cy="2378.9" r="5.8"/>
<circle cx="415.2" cy="2362.7" r="5.8"/>
<circle cx="417.2" cy="2363.7" r="5.8"/>
<circle cx="417.9" cy="2361.6" r="5.8"/>
<circle cx="418" cy="2378.4" r="5.8"/>
<circle cx="419.4" cy="2369.6" r="5.8"/>
<circle cx="420.3" cy="2377.7" r="5.8"/>
<circle cx="420.8" cy="2363.4" r="5.8"/>
<circle cx="421.2" cy="2367.2" r="5.8"/>
<circle cx="421.4" cy="2352.9" r="5.8"/>
<circle cx="421.5" cy="2378" r="5.8"/>
<circle cx="423.2" cy="2374.4" r="5.8"/>
<circle cx="423.3" cy="2371.2" r="5.8"/>
<circle cx="423.4" cy="2360.9" r="5.8"/>
<circle cx="423.4" cy="2375.7" r="5.8"/>
<circle cx="424.9" cy="2368.5" r="5.8"/>
<circle cx="425" cy="2361.9" r="5.8"/>
<circle cx="425.2" cy="2365.2" r="5.8"/>
<circle cx="425.4" cy="2376.5" r="5.8"/>
<circle cx="426" cy="2358.2" r="5.8"/>
<circle cx="426" cy="2361.6" r="5.8"/>
<circle cx="426.2" cy="2373.5" r="5.8"/>
<circle cx="426.8" cy="2376.5" r="5.8"/>
<circle cx="427.7" cy="2369.6" r="5.8"/>
<circle cx="427.8" cy="2358.6" r="5.8"/>
<circle cx="428.3" cy="2377.1" r="5.8"/>
<circle cx="428.7" cy="2361.5" r="5.8"/>
<circle cx="428.8" cy="2375.2" r="5.8"/>
<circle cx="429.3" cy="2373.6" r="5.8"/>
<circle cx="429.4" cy="2376.2" r="5.8"/>
<circle cx="429.4" cy="2356.8" r="5.8"/>
<circle cx="429.8" cy="2371.6" r="5.8"/>
<circle cx="429.9" cy="2377.2" r="5.8"/>
<circle cx="430.7" cy="2362.8" r="5.8"/>
<circle cx="430.8" cy="2359.7" r="5.8"/>
<circle cx="431.9" cy="2345.2" r="5.8"/>
<circle cx="432" cy="2378.4" r="5.8"/>
<circle cx="432.8" cy="2348" r="5.8"/>
<circle cx="432.8" cy="2372.8" r="5.8"/>
<circle cx="433.1" cy="2365.4" r="5.8"/>
<circle cx="433.8" cy="2377.2" r="5.8"/>
<circle cx="434.7" cy="2374.4" r="5.8"/>
<circle cx="435.6" cy="2352.8" r="5.8"/>
<circle cx="436.2" cy="2360.5" r="5.8"/>
<circle cx="436.8" cy="2370.2" r="5.8"/>
<circle cx="437.3" cy="2369.8" r="5.8"/>
<circle cx="437.6" cy="2369.8" r="5.8"/>
<circle cx="437.9" cy="2324.3" r="5.8"/>
<circle cx="437.9" cy="2335" r="5.8"/>
<circle cx="438.7" cy="2377.4" r="5.8"/>
<circle cx="438.9" cy="2365.4" r="5.8"/>
<circle cx="439.1" cy="2370.5" r="5.8"/>
<circle cx="439.3" cy="2366" r="5.8"/>
<circle cx="439.8" cy="2369.6" r="5.8"/>
<circle cx="440.2" cy="2371.7" r="5.8"/>
<circle cx="441.2" cy="2359.6" r="5.8"/>
<circle cx="442.1" cy="2377.9" r="5.8"/>
<circle cx="442.5" cy="2375.3" r="5.8"/>
<circle cx="443" cy="2366.3" r="5.8"/>
<circle cx="443.4" cy="2372.1" r="5.8"/>
<circle cx="443.5" cy="2370.8" r="5.8"/>
<circle cx="443.9" cy="2375.5" r="5.8"/>
<circle cx="444.9" cy="2357.8" r="5.8"/>
<circle cx="445.3" cy="2373.6" r="5.8"/>
<circle cx="445.4" cy="2371.1" r="5.8"/>
<circle cx="445.7" cy="2378.9" r="5.8"/>
<circle cx="446.3" cy="2347.5" r="5.8"/>
<circle cx="446.6" cy="2378.3" r="5.8"/>
<circle cx="448" cy="2378.3" r="5.8"/>
<circle cx="448.1" cy="2374" r="5.8"/>
<circle cx="448.7" cy="2359.6" r="5.8"/>
<circle cx="448.7" cy="2373" r="5.8"/>
<circle cx="449.1" cy="2345.7" r="5.8"/>
<circle cx="449.4" cy="2372.3" r="5.8"/>
<circle cx="449.6" cy="2355" r="5.8"/>
<circle cx="449.7" cy="2356.1" r="5.8"/>
<circle cx="450.2" cy="2369.7" r="5.8"/>
<circle cx="451" cy="2349.9" r="5.8"/>
<circle cx="451.1" cy="2372.7" r="5.8"/>
<circle cx="451.4" cy="2374.8" r="5.8"/>
<circle cx="452.8" cy="2375.1" r="5.8"/>
<circle cx="453.9" cy="2349.6" r="5.8"/>
<circle cx="454.5" cy="2334.5" r="5.8"/>
<circle cx="454.8" cy="2373.9" r="5.8"/>
<circle cx="455.2" cy="2377" r="5.8"/>
<circle cx="456.7" cy="2373.9" r="5.8"/>
<circle cx="456.9" cy="2355.7" r="5.8"/>
<circle cx="457.1" cy="2370.5" r="5.8"/>
<circle cx="457.5" cy="2369.2" r="5.8"/>
<circle cx="457.7" cy="2373.6" r="5.8"/>
<circle cx="458.1" cy="2349.7" r="5.8"/>
<circle cx="458.8" cy="2376.1" r="5.8"/>
<circle cx="459.4" cy="2353.5" r="5.8"/>
<circle cx="459.6" cy="2362.7" r="5.8"/>
<circle cx="459.6" cy="2378.7" r="5.8"/>
<circle cx="460.6" cy="2350.2" r="5.8"/>
<circle cx="461.8" cy="2377.9" r="5.8"/>
<circle cx="462.5" cy="2354.6" r="5.8"/>
<circle cx="462.6" cy="2376.2" r="5.8"/>
<circle cx="462.9" cy="2355.5" r="5.8"/>
<circle cx="463.4" cy="2374.7" r="5.8"/>
<circle cx="464.3" cy="2362.9" r="5.8"/>
<circle cx="465.7" cy="2318.4" r="5.8"/>
<circle cx="465.7" cy="2341.7" r="5.8"/>
<circle cx="466.3" cy="2359.7" r="5.8"/>
<circle cx="466.7" cy="2365.3" r="5.8"/>
<circle cx="467.3" cy="2369.8" r="5.8"/>
<circle cx="467.8" cy="2377.8" r="5.8"/>
<circle cx="468.4" cy="2370.6" r="5.8"/>
<circle cx="469.2" cy="2369.8" r="5.8"/>
<circle cx="469.5" cy="2374.1" r="5.8"/>
<circle cx="469.7" cy="2352.7" r="5.8"/>
<circle cx="469.9" cy="2361.5" r="5.8"/>
<circle cx="470.4" cy="2360.8" r="5.8"/>
<circle cx="470.6" cy="2374.2" r="5.8"/>
<circle cx="470.9" cy="2353.3" r="5.8"/>
<circle cx="471" cy="2377.9" r="5.8"/>
<circle cx="471.2" cy="2369.8" r="5.8"/>
<circle cx="473" cy="2372.5" r="5.8"/>
<circle cx="473.7" cy="2368" r="5.8"/>
<circle cx="474.1" cy="2348.3" r="5.8"/>
<circle cx="475.4" cy="2372.7" r="5.8"/>
<circle cx="475.8" cy="2357.6" r="5.8"/>
<circle cx="476" cy="2374.5" r="5.8"/>
<circle cx="476.1" cy="2352.2" r="5.8"/>
<circle cx="476.2" cy="2371.6" r="5.8"/>
<circle cx="476.6" cy="2357.6" r="5.8"/>
<circle cx="477.7" cy="2359.1" r="5.8"/>
<circle cx="477.8" cy="2370.1" r="5.8"/>
<circle cx="479.8" cy="2376.2" r="5.8"/>
<circle cx="480.5" cy="2379" r="5.8"/>
<circle cx="480.6" cy="2376.4" r="5.8"/>
<circle cx="481.9" cy="2377" r="5.8"/>
<circle cx="482.8" cy="2356.5" r="5.8"/>
<circle cx="482.8" cy="2375.9" r="5.8"/>
<circle cx="483.6" cy="2373.2" r="5.8"/>
<circle cx="484.1" cy="2369.6" r="5.8"/>
<circle cx="484.5" cy="2362.4" r="5.8"/>
<circle cx="484.9" cy="2365.6" r="5.8"/>
<circle cx="485.3" cy="2334.5" r="5.8"/>
<circle cx="485.9" cy="2360.9" r="5.8"/>
<circle cx="486.7" cy="2378.9" r="5.8"/>
<circle cx="486.8" cy="2345.9" r="5.8"/>
<circle cx="487" cy="2378.1" r="5.8"/>
<circle cx="487.8" cy="2365.3" r="5.8"/>
<circle cx="489.5" cy="2357.4" r="5.8"/>
<circle cx="489.7" cy="2364.5" r="5.8"/>
<circle cx="490.1" cy="2374.9" r="5.8"/>
<circle cx="490.3" cy="2376.3" r="5.8"/>
<circle cx="490.8" cy="2370.3" r="5.8"/>
<circle cx="491.3" cy="2371.8" r="5.8"/>
<circle cx="492" cy="2339" r="5.8"/>
<circle cx="492.4" cy="2371.2" r="5.8"/>
<circle cx="492.5" cy="2354" r="5.8"/>
<circle cx="492.7" cy="2377.1" r="5.8"/>
<circle cx="493.1" cy="2374.6" r="5.8"/>
<circle cx="493.9" cy="2369.4" r="5.8"/>
<circle cx="494.4" cy="2355.2" r="5.8"/>
<circle cx="494.9" cy="2366.5" r="5.8"/>
<circle cx="496.5" cy="2373.4" r="5.8"/>
<circle cx="496.7" cy="2378.3" r="5.8"/>
<circle cx="497.4" cy="2372.1" r="5.8"/>
<circle cx="497.5" cy="2351.8" r="5.8"/>
<circle cx="498.1" cy="2373.1" r="5.8"/>
<circle cx="498.4" cy="2369.6" r="5.8"/>
<circle cx="498.9" cy="2347.5" r="5.8"/>
<circle cx="499" cy="2375.2" r="5.8"/>
<circle cx="499.8" cy="2371.8" r="5.8"/>
<circle cx="560.3" cy="2373.5" r="5.8"/>
<circle cx="560.9" cy="2360.4" r="5.8"/>
<circle cx="561.1" cy="2369.9" r="5.8"/>
<circle cx="561.3" cy="2376.7" r="5.8"/>
<circle cx="561.7" cy="2359.8" r="5.8"/>
<circle cx="561.7" cy="2355.1" r="5.8"/>
<circle cx="562.5" cy="2378.5" r="5.8"/>
<circle cx="562.6" cy="2357.3" r="5.8"/>
<circle cx="562.7" cy="2363" r="5.8"/>
<circle cx="562.9" cy="2373.3" r="5.8"/>
<circle cx="563.5" cy="2357.4" r="5.8"/>
<circle cx="563.7" cy="2363.2" r="5.8"/>
<circle cx="563.7" cy="2378.1" r="5.8"/>
<circle cx="563.8" cy="2357.1" r="5.8"/>
<circle cx="564" cy="2377" r="5.8"/>
<circle cx="564.1" cy="2373.5" r="5.8"/>
<circle cx="564.2" cy="2368.3" r="5.8"/>
<circle cx="564.9" cy="2372.1" r="5.8"/>
<circle cx="566.2" cy="2372.8" r="5.8"/>
<circle cx="566.4" cy="2355.1" r="5.8"/>
<circle cx="567" cy="2374.8" r="5.8"/>
<circle cx="567" cy="2364.8" r="5.8"/>
<circle cx="567.6" cy="2372.3" r="5.8"/>
<circle cx="568.1" cy="2374.9" r="5.8"/>
<circle cx="568.3" cy="2366.5" r="5.8"/>
<circle cx="568.6" cy="2356.8" r="5.8"/>
<circle cx="568.8" cy="2351" r="5.8"/>
<circle cx="569.3" cy="2361.4" r="5.8"/>
<circle cx="569.6" cy="2376.6" r="5.8"/>
<circle cx="569.7" cy="2367.7" r="5.8"/>
<circle cx="570.3" cy="2371.6" r="5.8"/>
<circle cx="570.7" cy="2376.3" r="5.8"/>
<circle cx="571.5" cy="2371.7" r="5.8"/>
<circle cx="571.9" cy="2363.8" r="5.8"/>
<circle cx="572.8" cy="2360.4" r="5.8"/>
<circle cx="573.4" cy="2359.2" r="5.8"/>
<circle cx="575" cy="2361.5" r="5.8"/>
<circle cx="575" cy="2377.9" r="5.8"/>
<circle cx="575" cy="2376" r="5.8"/>
<circle cx="575.3" cy="2358.4" r="5.8"/>
<circle cx="575.7" cy="2377.1" r="5.8"/>
<circle cx="576.3" cy="2370.6" r="5.8"/>
<circle cx="576.4" cy="2370.9" r="5.8"/>
<circle cx="577.2" cy="2353.1" r="5.8"/>
<circle cx="577.5" cy="2376.7" r="5.8"/>
<circle cx="579.1" cy="2370.5" r="5.8"/>
<circle cx="579.2" cy="2378.8" r="5.8"/>
<circle cx="580.5" cy="2369.3" r="5.8"/>
<circle cx="580.6" cy="2370.9" r="5.8"/>
<circle cx="580.8" cy="2369" r="5.8"/>
<circle cx="581.1" cy="2371.9" r="5.8"/>
<circle cx="581.7" cy="2358.7" r="5.8"/>
<circle cx="582.5" cy="2357.6" r="5.8"/>
<circle cx="582.6" cy="2372.7" r="5.8"/>
<circle cx="583.2" cy="2360.6" r="5.8"/>
<circle cx="583.3" cy="2376.6" r="5.8"/>
<circle cx="583.7" cy="2377.8" r="5.8"/>
<circle cx="583.9" cy="2353.3" r="5.8"/>
<circle cx="584.4" cy="2371.2" r="5.8"/>
<circle cx="585.1" cy="2351" r="5.8"/>
<circle cx="585.6" cy="2376.5" r="5.8"/>
<circle cx="586.1" cy="2368.2" r="5.8"/>
<circle cx="586.3" cy="2351.6" r="5.8"/>
<circle cx="586.7" cy="2373.9" r="5.8"/>
<circle cx="587.9" cy="2377.5" r="5.8"/>
<circle cx="588.4" cy="2373.9" r="5.8"/>
<circle cx="590.1" cy="2365.3" r="5.8"/>
<circle cx="590.6" cy="2374.4" r="5.8"/>
<circle cx="590.9" cy="2373.7" r="5.8"/>
<circle cx="591.3" cy="2378.9" r="5.8"/>
<circle cx="592.2" cy="2377.9" r="5.8"/>
<circle cx="592.5" cy="2356.9" r="5.8"/>
<circle cx="592.7" cy="2378.9" r="5.8"/>
<circle cx="593.2" cy="2358.4" r="5.8"/>
<circle cx="593.8" cy="2355.6" r="5.8"/>
<circle cx="594.1" cy="2367.1" r="5.8"/>
<circle cx="594.7" cy="2378.2" r="5.8"/>
<circle cx="594.9" cy="2335.3" r="5.8"/>
<circle cx="595.7" cy="2378.3" r="5.8"/>
<circle cx="596.2" cy="2360.7" r="5.8"/>
<circle cx="596.3" cy="2376.2" r="5.8"/>
<circle cx="596.5" cy="2373.7" r="5.8"/>
<circle cx="596.6" cy="2370.4" r="5.8"/>
<circle cx="597.1" cy="2367" r="5.8"/>
<circle cx="597.2" cy="2374.9" r="5.8"/>
<circle cx="597.2" cy="2375.5" r="5.8"/>
<circle cx="597.7" cy="2351.9" r="5.8"/>
<circle cx="598.6" cy="2374.3" r="5.8"/>
<circle cx="598.9" cy="2352.3" r="5.8"/>
<circle cx="599.1" cy="2377.2" r="5.8"/>
<circle cx="599.3" cy="2370.6" r="5.8"/>
<circle cx="600.2" cy="2350.9" r="5.8"/>
<circle cx="600.8" cy="2372.6" r="5.8"/>
<circle cx="601.4" cy="2367.3" r="5.8"/>
<circle cx="603.4" cy="2375.5" r="5.8"/>
<circle cx="603.5" cy="2347.6" r="5.8"/>
<circle cx="603.7" cy="2344.5" r="5.8"/>
<circle cx="604.3" cy="2358.2" r="5.8"/>
<circle cx="604.3" cy="2365.3" r="5.8"/>
<circle cx="605.5" cy="2365.6" r="5.8"/>
<circle cx="605.5" cy="2376.8" r="5.8"/>
<circle cx="605.7" cy="2377.5" r="5.8"/>
<circle cx="606.8" cy="2361.4" r="5.8"/>
<circle cx="607.2" cy="2377.4" r="5.8"/>
<circle cx="607.5" cy="2372.3" r="5.8"/>
<circle cx="607.5" cy="2374.2" r="5.8"/>
<circle cx="607.8" cy="2362.3" r="5.8"/>
<circle cx="608.2" cy="2365.6" r="5.8"/>
<circle cx="608.5" cy="2376.6" r="5.8"/>
<circle cx="608.7" cy="2374.6" r="5.8"/>
<circle cx="609.3" cy="2360.5" r="5.8"/>
<circle cx="609.5" cy="2374.6" r="5.8"/>
<circle cx="609.7" cy="2374.1" r="5.8"/>
<circle cx="610.8" cy="2377.7" r="5.8"/>
<circle cx="611.3" cy="2370.5" r="5.8"/>
<circle cx="611.8" cy="2350.6" r="5.8"/>
<circle cx="612" cy="2354.9" r="5.8"/>
<circle cx="612.1" cy="2378.9" r="5.8"/>
<circle cx="612.7" cy="2371.6" r="5.8"/>
<circle cx="612.7" cy="2371.4" r="5.8"/>
<circle cx="613.1" cy="2365.9" r="5.8"/>
<circle cx="613.3" cy="2372.5" r="5.8"/>
<circle cx="613.6" cy="2323.2" r="5.8"/>
<circle cx="613.6" cy="2329" r="5.8"/>
<circle cx="614.7" cy="2372" r="5.8"/>
<circle cx="615.1" cy="2375.2" r="5.8"/>
<circle cx="615.1" cy="2370.2" r="5.8"/>
<circle cx="616.1" cy="2371.2" r="5.8"/>
<circle cx="617.6" cy="2356.5" r="5.8"/>
<circle cx="617.9" cy="2356.1" r="5.8"/>
<circle cx="618.8" cy="2352.2" r="5.8"/>
<circle cx="619.4" cy="2347" r="5.8"/>
<circle cx="619.9" cy="2367.6" r="5.8"/>
<circle cx="621.4" cy="2351.7" r="5.8"/>
<circle cx="621.6" cy="2336.1" r="5.8"/>
<circle cx="622.9" cy="2365.8" r="5.8"/>
<circle cx="623.3" cy="2355.6" r="5.8"/>
<circle cx="623.3" cy="2377.1" r="5.8"/>
<circle cx="624.8" cy="2374.7" r="5.8"/>
<circle cx="625.6" cy="2360.1" r="5.8"/>
<circle cx="626.3" cy="2369.3" r="5.8"/>
<circle cx="626.9" cy="2371.2" r="5.8"/>
<circle cx="627.3" cy="2375.7" r="5.8"/>
<circle cx="627.4" cy="2377.9" r="5.8"/>
<circle cx="628" cy="2370.7" r="5.8"/>
<circle cx="628.6" cy="2370.6" r="5.8"/>
<circle cx="628.7" cy="2371.5" r="5.8"/>
<circle cx="628.8" cy="2347.6" r="5.8"/>
<circle cx="629.2" cy="2377" r="5.8"/>
<circle cx="629.4" cy="2368.3" r="5.8"/>
<circle cx="629.8" cy="2369.4" r="5.8"/>
<circle cx="632.2" cy="2376.8" r="5.8"/>
<circle cx="633.5" cy="2375.8" r="5.8"/>
<circle cx="634.3" cy="2372.7" r="5.8"/>
<circle cx="636.1" cy="2376.4" r="5.8"/>
<circle cx="636.4" cy="2377.8" r="5.8"/>
<circle cx="636.4" cy="2378.8" r="5.8"/>
<circle cx="636.6" cy="2372.7" r="5.8"/>
<circle cx="637.1" cy="2371.9" r="5.8"/>
<circle cx="637.8" cy="2346.4" r="5.8"/>
<circle cx="638.3" cy="2366.3" r="5.8"/>
<circle cx="638.7" cy="2374" r="5.8"/>
<circle cx="638.8" cy="2375" r="5.8"/>
<circle cx="638.8" cy="2372.4" r="5.8"/>
<circle cx="639.1" cy="2348.3" r="5.8"/>
<circle cx="639.6" cy="2358.7" r="5.8"/>
<circle cx="640.3" cy="2368.7" r="5.8"/>
<circle cx="640.9" cy="2351.4" r="5.8"/>
<circle cx="641.4" cy="2353.4" r="5.8"/>
<circle cx="641.6" cy="2346.2" r="5.8"/>
<circle cx="642.6" cy="2368" r="5.8"/>
<circle cx="643.7" cy="2373.7" r="5.8"/>
<circle cx="644.6" cy="2360.4" r="5.8"/>
<circle cx="645.4" cy="2354.2" r="5.8"/>
<circle cx="646.3" cy="2371.3" r="5.8"/>
<circle cx="646.4" cy="2364.1" r="5.8"/>
<circle cx="647.8" cy="2375.3" r="5.8"/>
<circle cx="648.2" cy="2357.5" r="5.8"/>
<circle cx="649" cy="2377.2" r="5.8"/>
<circle cx="649.4" cy="2376.9" r="5.8"/>
<circle cx="651.7" cy="2350.9" r="5.8"/>
<circle cx="653.2" cy="2374.2" r="5.8"/>
<circle cx="654.1" cy="2372.6" r="5.8"/>
<circle cx="654.5" cy="2370.5" r="5.8"/>
<circle cx="655.1" cy="2378.4" r="5.8"/>
<circle cx="655.6" cy="2373.8" r="5.8"/>
<circle cx="656" cy="2370.3" r="5.8"/>
<circle cx="656.1" cy="2376.3" r="5.8"/>
<circle cx="656.8" cy="2357.5" r="5.8"/>
<circle cx="656.8" cy="2359" r="5.8"/>
<circle cx="657.1" cy="2367.4" r="5.8"/>
<circle cx="657.8" cy="2375.5" r="5.8"/>
<circle cx="658.4" cy="2377.4" r="5.8"/>
<circle cx="658.6" cy="2374" r="5.8"/>
<circle cx="659" cy="2358.3" r="5.8"/>
<circle cx="659.5" cy="2378.5" r="5.8"/>
<circle cx="659.5" cy="2365.5" r="5.8"/>
<circle cx="660.8" cy="2370.9" r="5.8"/>
<circle cx="661.1" cy="2368.4" r="5.8"/>
<circle cx="661.3" cy="2355.2" r="5.8"/>
<circle cx="661.6" cy="2362.7" r="5.8"/>
<circle cx="662" cy="2370.4" r="5.8"/>
<circle cx="662.4" cy="2374" r="5.8"/>
<circle cx="662.5" cy="2361.7" r="5.8"/>
<circle cx="662.6" cy="2376.9" r="5.8"/>
<circle cx="662.8" cy="2373.4" r="5.8"/>
<circle cx="663.1" cy="2362.5" r="5.8"/>
<circle cx="663.9" cy="2341.9" r="5.8"/>
<circle cx="664.1" cy="2376.7" r="5.8"/>
<circle cx="664.3" cy="2359.1" r="5.8"/>
<circle cx="664.6" cy="2369.4" r="5.8"/>
<circle cx="665.3" cy="2332.4" r="5.8"/>
<circle cx="665.5" cy="2364.9" r="5.8"/>
<circle cx="666" cy="2375.1" r="5.8"/>
<circle cx="667.6" cy="2371" r="5.8"/>
<circle cx="668.8" cy="2372" r="5.8"/>
<circle cx="669.6" cy="2351.8" r="5.8"/>
<circle cx="669.9" cy="2349" r="5.8"/>
<circle cx="670.1" cy="2355.2" r="5.8"/>
<circle cx="671.1" cy="2358.6" r="5.8"/>
<circle cx="672.3" cy="2362.6" r="5.8"/>
<circle cx="672.4" cy="2357.2" r="5.8"/>
<circle cx="672.6" cy="2375.9" r="5.8"/>
<circle cx="673.3" cy="2348.8" r="5.8"/>
<circle cx="673.7" cy="2369.7" r="5.8"/>
<circle cx="673.9" cy="2349.1" r="5.8"/>
<circle cx="673.9" cy="2372.6" r="5.8"/>
<circle cx="674.4" cy="2359.3" r="5.8"/>
<circle cx="674.5" cy="2366.1" r="5.8"/>
<circle cx="675.3" cy="2377.6" r="5.8"/>
<circle cx="675.8" cy="2373.4" r="5.8"/>
<circle cx="676.5" cy="2371.8" r="5.8"/>
<circle cx="676.7" cy="2374.3" r="5.8"/>
<circle cx="677.1" cy="2378.9" r="5.8"/>
<circle cx="677.2" cy="2369.6" r="5.8"/>
<circle cx="677.8" cy="2373.1" r="5.8"/>
<circle cx="678.1" cy="2376" r="5.8"/>
<circle cx="678.2" cy="2350.1" r="5.8"/>
<circle cx="679.1" cy="2357" r="5.8"/>
<circle cx="679.3" cy="2376.8" r="5.8"/>
<circle cx="681.2" cy="2378" r="5.8"/>
<circle cx="681.5" cy="2370.5" r="5.8"/>
<circle cx="681.9" cy="2366.3" r="5.8"/>
<circle cx="682.2" cy="2371.6" r="5.8"/>
<circle cx="682.5" cy="2377" r="5.8"/>
<circle cx="682.9" cy="2363.8" r="5.8"/>
<circle cx="683.7" cy="2366.6" r="5.8"/>
<circle cx="685.5" cy="2355.4" r="5.8"/>
<circle cx="686" cy="2370.3" r="5.8"/>
<circle cx="686.6" cy="2369.8" r="5.8"/>
<circle cx="686.7" cy="2377.9" r="5.8"/>
<circle cx="687.2" cy="2346.9" r="5.8"/>
<circle cx="689.3" cy="2378.8" r="5.8"/>
<circle cx="689.6" cy="2368.5" r="5.8"/>
<circle cx="689.9" cy="2370.3" r="5.8"/>
<circle cx="690.6" cy="2373" r="5.8"/>
<circle cx="691.1" cy="2344.8" r="5.8"/>
<circle cx="691.1" cy="2347.6" r="5.8"/>
<circle cx="691.7" cy="2352.4" r="5.8"/>
<circle cx="692" cy="2358.2" r="5.8"/>
<circle cx="692.1" cy="2361.7" r="5.8"/>
<circle cx="692.6" cy="2374.9" r="5.8"/>
<circle cx="692.9" cy="2372.6" r="5.8"/>
<circle cx="693.2" cy="2347.6" r="5.8"/>
<circle cx="693.9" cy="2356.1" r="5.8"/>
<circle cx="694.3" cy="2377.8" r="5.8"/>
<circle cx="695.8" cy="2356.2" r="5.8"/>
<circle cx="696.6" cy="2378" r="5.8"/>
<circle cx="696.6" cy="2375.6" r="5.8"/>
<circle cx="696.7" cy="2373.1" r="5.8"/>
<circle cx="696.8" cy="2365" r="5.8"/>
<circle cx="696.9" cy="2375.3" r="5.8"/>
<circle cx="696.9" cy="2368.4" r="5.8"/>
<circle cx="696.9" cy="2367.3" r="5.8"/>
<circle cx="697.6" cy="2370.7" r="5.8"/>
<circle cx="698.7" cy="2371.5" r="5.8"/>
<circle cx="699" cy="2378.8" r="5.8"/>
<circle cx="700.1" cy="2366.6" r="5.8"/>
<circle cx="701.2" cy="2368.3" r="5.8"/>
<circle cx="702.2" cy="2374.5" r="5.8"/>
<circle cx="702.4" cy="2374.7" r="5.8"/>
<circle cx="702.5" cy="2377.8" r="5.8"/>
<circle cx="702.5" cy="2369.3" r="5.8"/>
<circle cx="702.5" cy="2372.7" r="5.8"/>
<circle cx="702.8" cy="2364.1" r="5.8"/>
<circle cx="703.9" cy="2375.6" r="5.8"/>
<circle cx="704.4" cy="2376.7" r="5.8"/>
<circle cx="705.2" cy="2364.9" r="5.8"/>
<circle cx="705.9" cy="2378.6" r="5.8"/>
<circle cx="706.2" cy="2356.6" r="5.8"/>
<circle cx="706.5" cy="2376" r="5.8"/>
<circle cx="706.6" cy="2370.8" r="5.8"/>
<circle cx="708.1" cy="2377.1" r="5.8"/>
<circle cx="709.1" cy="2359.3" r="5.8"/>
<circle cx="709.2" cy="2374" r="5.8"/>
<circle cx="710" cy="2356.5" r="5.8"/>
<circle cx="710.2" cy="2363.3" r="5.8"/>
<circle cx="710.7" cy="2336.1" r="5.8"/>
<circle cx="711.9" cy="2343.2" r="5.8"/>
<circle cx="712.3" cy="2373.9" r="5.8"/>
<circle cx="713" cy="2369.2" r="5.8"/>
<circle cx="713.8" cy="2366.7" r="5.8"/>
<circle cx="713.9" cy="2366.3" r="5.8"/>
<circle cx="714.4" cy="2370.8" r="5.8"/>
<circle cx="714.5" cy="2365.7" r="5.8"/>
<circle cx="715.2" cy="2374.8" r="5.8"/>
<circle cx="715.7" cy="2365.9" r="5.8"/>
<circle cx="715.7" cy="2353.7" r="5.8"/>
<circle cx="717.8" cy="2373.2" r="5.8"/>
<circle cx="717.9" cy="2352.6" r="5.8"/>
<circle cx="719.3" cy="2378.9" r="5.8"/>
<circle cx="719.4" cy="2375.8" r="5.8"/>
<circle cx="720.8" cy="2356.2" r="5.8"/>
<circle cx="721.8" cy="2357.7" r="5.8"/>
<circle cx="721.9" cy="2348.1" r="5.8"/>
<circle cx="722.8" cy="2332.4" r="5.8"/>
<circle cx="724.1" cy="2376.8" r="5.8"/>
<circle cx="724.6" cy="2375.7" r="5.8"/>
<circle cx="725.9" cy="2377.1" r="5.8"/>
<circle cx="726.7" cy="2374.5" r="5.8"/>
<circle cx="728.3" cy="2362.2" r="5.8"/>
<circle cx="729.4" cy="2371.4" r="5.8"/>
<circle cx="729.5" cy="2370.5" r="5.8"/>
<circle cx="730.6" cy="2376.8" r="5.8"/>
<circle cx="730.6" cy="2353.9" r="5.8"/>
<circle cx="730.7" cy="2371.7" r="5.8"/>
<circle cx="731" cy="2373.7" r="5.8"/>
<circle cx="731.6" cy="2355.4" r="5.8"/>
<circle cx="731.8" cy="2374.7" r="5.8"/>
<circle cx="731.9" cy="2369.6" r="5.8"/>
<circle cx="732.3" cy="2378.7" r="5.8"/>
<circle cx="732.4" cy="2370.1" r="5.8"/>
<circle cx="732.5" cy="2371.3" r="5.8"/>
<circle cx="733" cy="2354" r="5.8"/>
<circle cx="733.3" cy="2372.6" r="5.8"/>
<circle cx="733.3" cy="2358.4" r="5.8"/>
<circle cx="733.6" cy="2375.3" r="5.8"/>
<circle cx="733.7" cy="2378" r="5.8"/>
<circle cx="734" cy="2378" r="5.8"/>
<circle cx="734" cy="2370.2" r="5.8"/>
<circle cx="734.4" cy="2355.7" r="5.8"/>
<circle cx="734.7" cy="2378.5" r="5.8"/>
<circle cx="735" cy="2373.7" r="5.8"/>
<circle cx="736" cy="2359.4" r="5.8"/>
<circle cx="736.1" cy="2373.6" r="5.8"/>
<circle cx="736.4" cy="2378.5" r="5.8"/>
<circle cx="736.4" cy="2377.7" r="5.8"/>
<circle cx="737" cy="2378.6" r="5.8"/>
<circle cx="737.1" cy="2377.9" r="5.8"/>
<circle cx="737.2" cy="2371.1" r="5.8"/>
<circle cx="737.7" cy="2363.2" r="5.8"/>
<circle cx="738.1" cy="2349.1" r="5.8"/>
<circle cx="738.5" cy="2349.5" r="5.8"/>
<circle cx="738.6" cy="2371.8" r="5.8"/>
<circle cx="739" cy="2378.6" r="5.8"/>
<circle cx="739.6" cy="2371.2" r="5.8"/>
<circle cx="740" cy="2350.5" r="5.8"/>
<circle cx="740.2" cy="2375.7" r="5.8"/>
<circle cx="740.5" cy="2365.6" r="5.8"/>
<circle cx="741.2" cy="2363.4" r="5.8"/>
<circle cx="741.5" cy="2370.7" r="5.8"/>
<circle cx="741.5" cy="2356" r="5.8"/>
<circle cx="741.5" cy="2373" r="5.8"/>
<circle cx="741.7" cy="2376.5" r="5.8"/>
<circle cx="742.7" cy="2371.8" r="5.8"/>
<circle cx="743.3" cy="2356.8" r="5.8"/>
<circle cx="743.4" cy="2358.6" r="5.8"/>
<circle cx="743.6" cy="2369.3" r="5.8"/>
<circle cx="744.2" cy="2352.2" r="5.8"/>
<circle cx="745.7" cy="2339" r="5.8"/>
<circle cx="745.8" cy="2346.6" r="5.8"/>
<circle cx="746.2" cy="2370.7" r="5.8"/>
<circle cx="746.4" cy="2370.3" r="5.8"/>
<circle cx="747" cy="2373.7" r="5.8"/>
<circle cx="748.9" cy="2375.9" r="5.8"/>
<circle cx="749" cy="2369.7" r="5.8"/>
<circle cx="750.1" cy="2332.4" r="5.8"/>
<circle cx="751.1" cy="2354.9" r="5.8"/>
<circle cx="751.2" cy="2359.5" r="5.8"/>
<circle cx="751.8" cy="2373.9" r="5.8"/>
<circle cx="752.4" cy="2371.8" r="5.8"/>
<circle cx="752.9" cy="2378.7" r="5.8"/>
<circle cx="753.3" cy="2354.2" r="5.8"/>
<circle cx="753.8" cy="2378.5" r="5.8"/>
<circle cx="754" cy="2346.5" r="5.8"/>
<circle cx="754.2" cy="2367.2" r="5.8"/>
<circle cx="754.7" cy="2377.2" r="5.8"/>
<circle cx="756.2" cy="2354.9" r="5.8"/>
<circle cx="756.3" cy="2371.1" r="5.8"/>
<circle cx="756.5" cy="2371" r="5.8"/>
<circle cx="757.3" cy="2365.9" r="5.8"/>
<circle cx="757.8" cy="2374.1" r="5.8"/>
<circle cx="758.7" cy="2366.5" r="5.8"/>
<circle cx="758.8" cy="2377.2" r="5.8"/>
<circle cx="759.4" cy="2368.3" r="5.8"/>
<circle cx="759.7" cy="2374.9" r="5.8"/>
<circle cx="760.8" cy="2375.8" r="5.8"/>
<circle cx="760.8" cy="2376.8" r="5.8"/>
<circle cx="760.9" cy="2369.9" r="5.8"/>
<circle cx="761.6" cy="2370.5" r="5.8"/>
<circle cx="761.9" cy="2372.6" r="5.8"/>
<circle cx="762" cy="2361.2" r="5.8"/>
<circle cx="762" cy="2370.1" r="5.8"/>
<circle cx="762.8" cy="2378.3" r="5.8"/>
<circle cx="762.8" cy="2353.5" r="5.8"/>
<circle cx="763.1" cy="2375.4" r="5.8"/>
<circle cx="763.9" cy="2362.8" r="5.8"/>
<circle cx="764.6" cy="2378.9" r="5.8"/>
<circle cx="765.5" cy="2357.8" r="5.8"/>
<circle cx="766" cy="2368.5" r="5.8"/>
<circle cx="766" cy="2377.7" r="5.8"/>
<circle cx="766.3" cy="2370.9" r="5.8"/>
<circle cx="766.9" cy="2370.1" r="5.8"/>
<circle cx="767" cy="2354.3" r="5.8"/>
<circle cx="767.1" cy="2360.1" r="5.8"/>
<circle cx="767.1" cy="2377.4" r="5.8"/>
<circle cx="768.1" cy="2373.3" r="5.8"/>
<circle cx="768.2" cy="2352.8" r="5.8"/>
<circle cx="768.7" cy="2362.6" r="5.8"/>
<circle cx="768.9" cy="2376.2" r="5.8"/>
<circle cx="770.7" cy="2358.6" r="5.8"/>
<circle cx="771.4" cy="2378.8" r="5.8"/>
<circle cx="772.1" cy="2372.5" r="5.8"/>
<circle cx="772.5" cy="2376.1" r="5.8"/>
<circle cx="772.8" cy="2365.4" r="5.8"/>
<circle cx="772.8" cy="2371.4" r="5.8"/>
<circle cx="773.5" cy="2371.8" r="5.8"/>
<circle cx="774.3" cy="2348.5" r="5.8"/>
<circle cx="774.6" cy="2373.4" r="5.8"/>
<circle cx="774.7" cy="2372.9" r="5.8"/>
<circle cx="775.3" cy="2377.9" r="5.8"/>
<circle cx="775.6" cy="2372.4" r="5.8"/>
<circle cx="775.9" cy="2365.9" r="5.8"/>
<circle cx="776.4" cy="2369.3" r="5.8"/>
<circle cx="776.7" cy="2360.3" r="5.8"/>
<circle cx="777.4" cy="2372.4" r="5.8"/>
<circle cx="777.7" cy="2359.3" r="5.8"/>
<circle cx="779.1" cy="2356.1" r="5.8"/>
<circle cx="779.1" cy="2364.8" r="5.8"/>
<circle cx="779.3" cy="2370.5" r="5.8"/>
<circle cx="780.1" cy="2360.2" r="5.8"/>
<circle cx="780.2" cy="2330.4" r="5.8"/>
<circle cx="780.2" cy="2334.1" r="5.8"/>
<circle cx="780.6" cy="2371.3" r="5.8"/>
<circle cx="782.4" cy="2371.8" r="5.8"/>
<circle cx="782.5" cy="2366" r="5.8"/>
<circle cx="783" cy="2365.3" r="5.8"/>
<circle cx="783.7" cy="2377" r="5.8"/>
<circle cx="783.9" cy="2375.8" r="5.8"/>
<circle cx="784" cy="2348.7" r="5.8"/>
<circle cx="785.2" cy="2365.9" r="5.8"/>
<circle cx="785.6" cy="2372.8" r="5.8"/>
<circle cx="785.9" cy="2365.3" r="5.8"/>
<circle cx="785.9" cy="2372.2" r="5.8"/>
<circle cx="787.7" cy="2375.8" r="5.8"/>
<circle cx="787.8" cy="2369.3" r="5.8"/>
<circle cx="788.1" cy="2375.8" r="5.8"/>
<circle cx="788.4" cy="2375.9" r="5.8"/>
<circle cx="788.5" cy="2374.4" r="5.8"/>
<circle cx="789.5" cy="2377" r="5.8"/>
<circle cx="790.2" cy="2350.1" r="5.8"/>
<circle cx="790.4" cy="2377.6" r="5.8"/>
<circle cx="790.6" cy="2370.3" r="5.8"/>
<circle cx="790.8" cy="2377.9" r="5.8"/>
<circle cx="790.8" cy="2377.6" r="5.8"/>
<circle cx="791.7" cy="2362.2" r="5.8"/>
<circle cx="792.6" cy="2375.3" r="5.8"/>
<circle cx="792.7" cy="2351.3" r="5.8"/>
<circle cx="792.9" cy="2373.3" r="5.8"/>
<circle cx="793.1" cy="2370.4" r="5.8"/>
<circle cx="794.6" cy="2351.8" r="5.8"/>
<circle cx="795" cy="2375.5" r="5.8"/>
<circle cx="795.1" cy="2361.8" r="5.8"/>
<circle cx="796.5" cy="2351.1" r="5.8"/>
<circle cx="797.4" cy="2377.5" r="5.8"/>
<circle cx="797.5" cy="2296.8" r="5.8"/>
<circle cx="797.5" cy="2315.2" r="5.8"/>
<circle cx="798" cy="2357.5" r="5.8"/>
<circle cx="798.9" cy="2338.2" r="5.8"/>
<circle cx="800.9" cy="2323.2" r="5.8"/>
<circle cx="803.1" cy="2343.8" r="5.8"/>
<circle cx="803.2" cy="2373.7" r="5.8"/>
<circle cx="804" cy="2347.9" r="5.8"/>
<circle cx="804.1" cy="2373.9" r="5.8"/>
<circle cx="805.4" cy="2372.5" r="5.8"/>
<circle cx="805.5" cy="2379" r="5.8"/>
<circle cx="806.5" cy="2363.9" r="5.8"/>
<circle cx="806.6" cy="2370.6" r="5.8"/>
<circle cx="807.4" cy="2372.6" r="5.8"/>
<circle cx="808.3" cy="2366.9" r="5.8"/>
<circle cx="808.7" cy="2354.8" r="5.8"/>
<circle cx="809" cy="2373.5" r="5.8"/>
<circle cx="809" cy="2370.5" r="5.8"/>
<circle cx="809.4" cy="2372.5" r="5.8"/>
<circle cx="809.7" cy="2371.9" r="5.8"/>
<circle cx="809.9" cy="2371.5" r="5.8"/>
<circle cx="810.6" cy="2374.8" r="5.8"/>
<circle cx="810.8" cy="2365.8" r="5.8"/>
<circle cx="810.9" cy="2377.1" r="5.8"/>
<circle cx="811.8" cy="2362.1" r="5.8"/>
<circle cx="812.1" cy="2372.3" r="5.8"/>
<circle cx="812.6" cy="2373.9" r="5.8"/>
<circle cx="812.7" cy="2371.1" r="5.8"/>
<circle cx="814.1" cy="2314.6" r="5.8"/>
<circle cx="814.7" cy="2375.2" r="5.8"/>
<circle cx="815" cy="2371.6" r="5.8"/>
<circle cx="815.2" cy="2378.6" r="5.8"/>
<circle cx="816.8" cy="2378.2" r="5.8"/>
<circle cx="817.4" cy="2370.4" r="5.8"/>
<circle cx="818.4" cy="2358.7" r="5.8"/>
<circle cx="819.1" cy="2377.6" r="5.8"/>
<circle cx="819.1" cy="2367.6" r="5.8"/>
<circle cx="819.6" cy="2353.7" r="5.8"/>
<circle cx="819.7" cy="2346.8" r="5.8"/>
<circle cx="820.1" cy="2356.6" r="5.8"/>
<circle cx="820.2" cy="2347.9" r="5.8"/>
<circle cx="820.9" cy="2378" r="5.8"/>
<circle cx="821.1" cy="2355.3" r="5.8"/>
<circle cx="821.2" cy="2363.4" r="5.8"/>
<circle cx="821.5" cy="2348.9" r="5.8"/>
<circle cx="821.7" cy="2361.1" r="5.8"/>
<circle cx="822.4" cy="2372.7" r="5.8"/>
<circle cx="823.7" cy="2370" r="5.8"/>
<circle cx="823.9" cy="2374.3" r="5.8"/>
<circle cx="825.5" cy="2353.3" r="5.8"/>
<circle cx="827.4" cy="2363.3" r="5.8"/>
<circle cx="827.6" cy="2311.1" r="5.8"/>
<circle cx="828.4" cy="2371.1" r="5.8"/>
<circle cx="829.1" cy="2339" r="5.8"/>
<circle cx="829.2" cy="2374.1" r="5.8"/>
<circle cx="829.2" cy="2373.4" r="5.8"/>
<circle cx="829.4" cy="2372.5" r="5.8"/>
<circle cx="829.9" cy="2330.4" r="5.8"/>
<circle cx="830.1" cy="2370.1" r="5.8"/>
<circle cx="831.5" cy="2374.1" r="5.8"/>
<circle cx="833.2" cy="2374.1" r="5.8"/>
<circle cx="834.2" cy="2360.5" r="5.8"/>
<circle cx="835.8" cy="2371.2" r="5.8"/>
<circle cx="836.3" cy="2369.9" r="5.8"/>
<circle cx="837.2" cy="2372.3" r="5.8"/>
<circle cx="837.4" cy="2374.1" r="5.8"/>
<circle cx="837.6" cy="2360.8" r="5.8"/>
<circle cx="837.6" cy="2365.3" r="5.8"/>
<circle cx="837.6" cy="2361.5" r="5.8"/>
<circle cx="838.2" cy="2377.3" r="5.8"/>
<circle cx="838.7" cy="2373.3" r="5.8"/>
<circle cx="838.8" cy="2377.9" r="5.8"/>
<circle cx="838.9" cy="2373.5" r="5.8"/>
<circle cx="839" cy="2375.2" r="5.8"/>
<circle cx="839.1" cy="2378.4" r="5.8"/>
<circle cx="839.1" cy="2368" r="5.8"/>
<circle cx="839.4" cy="2367.9" r="5.8"/>
<circle cx="840.5" cy="2375.3" r="5.8"/>
<circle cx="841.1" cy="2332.4" r="5.8"/>
<circle cx="841.4" cy="2376" r="5.8"/>
<circle cx="841.7" cy="2346.9" r="5.8"/>
<circle cx="841.8" cy="2370.3" r="5.8"/>
<circle cx="842.1" cy="2373.6" r="5.8"/>
<circle cx="842.3" cy="2379" r="5.8"/>
<circle cx="842.4" cy="2378.2" r="5.8"/>
<circle cx="843" cy="2351" r="5.8"/>
<circle cx="843" cy="2352.4" r="5.8"/>
<circle cx="844.1" cy="2376" r="5.8"/>
<circle cx="844.3" cy="2356.4" r="5.8"/>
<circle cx="844.5" cy="2371.9" r="5.8"/>
<circle cx="845.1" cy="2348.6" r="5.8"/>
<circle cx="845.3" cy="2363.6" r="5.8"/>
<circle cx="845.9" cy="2354" r="5.8"/>
<circle cx="846.7" cy="2375.4" r="5.8"/>
<circle cx="848.2" cy="2371.5" r="5.8"/>
<circle cx="848.3" cy="2369.4" r="5.8"/>
<circle cx="848.3" cy="2377.9" r="5.8"/>
<circle cx="848.5" cy="2377" r="5.8"/>
<circle cx="850.1" cy="2378.5" r="5.8"/>
<circle cx="851.4" cy="2373.3" r="5.8"/>
<circle cx="853.2" cy="2375" r="5.8"/>
<circle cx="854.1" cy="2378.4" r="5.8"/>
<circle cx="854.4" cy="2357.7" r="5.8"/>
<circle cx="855" cy="2374.6" r="5.8"/>
<circle cx="855.5" cy="2325.5" r="5.8"/>
<circle cx="855.7" cy="2379" r="5.8"/>
<circle cx="855.8" cy="2370.7" r="5.8"/>
<circle cx="856.5" cy="2359.3" r="5.8"/>
<circle cx="858.7" cy="2371.3" r="5.8"/>
<circle cx="860.4" cy="2376.5" r="5.8"/>
<circle cx="860.5" cy="2370.7" r="5.8"/>
<circle cx="860.7" cy="2371.7" r="5.8"/>
<circle cx="860.8" cy="2365.6" r="5.8"/>
<circle cx="861.6" cy="2378.1" r="5.8"/>
<circle cx="862" cy="2371.9" r="5.8"/>
<circle cx="862.3" cy="2378.5" r="5.8"/>
<circle cx="862.7" cy="2375.2" r="5.8"/>
<circle cx="862.8" cy="2371.6" r="5.8"/>
<circle cx="864.3" cy="2374.1" r="5.8"/>
<circle cx="864.4" cy="2373.7" r="5.8"/>
<circle cx="864.9" cy="2375.3" r="5.8"/>
<circle cx="868.7" cy="2370.3" r="5.8"/>
<circle cx="869.4" cy="2378.9" r="5.8"/>
<circle cx="870.4" cy="2370" r="5.8"/>
<circle cx="870.5" cy="2376.5" r="5.8"/>
<circle cx="870.6" cy="2375.9" r="5.8"/>
<circle cx="871.2" cy="2364.5" r="5.8"/>
<circle cx="871.3" cy="2368.8" r="5.8"/>
<circle cx="871.7" cy="2365.8" r="5.8"/>
<circle cx="872.1" cy="2365.1" r="5.8"/>
<circle cx="873.6" cy="2373.5" r="5.8"/>
<circle cx="873.7" cy="2371.8" r="5.8"/>
<circle cx="873.8" cy="2373.7" r="5.8"/>
<circle cx="874.5" cy="2341" r="5.8"/>
<circle cx="877.1" cy="2371.8" r="5.8"/>
<circle cx="877.9" cy="2378.6" r="5.8"/>
<circle cx="879.8" cy="2370.4" r="5.8"/>
<circle cx="880.4" cy="2360.3" r="5.8"/>
<circle cx="880.8" cy="2365.7" r="5.8"/>
<circle cx="880.9" cy="2368.6" r="5.8"/>
<circle cx="880.9" cy="2357" r="5.8"/>
<circle cx="881.5" cy="2373.7" r="5.8"/>
<circle cx="882.2" cy="2376.5" r="5.8"/>
<circle cx="884.2" cy="2349.9" r="5.8"/>
<circle cx="884.4" cy="2363.8" r="5.8"/>
<circle cx="884.5" cy="2362.2" r="5.8"/>
<circle cx="887.5" cy="2366.3" r="5.8"/>
<circle cx="887.6" cy="2375.6" r="5.8"/>
<circle cx="888" cy="2363.4" r="5.8"/>
<circle cx="888" cy="2331.8" r="5.8"/>
<circle cx="888.7" cy="2370.7" r="5.8"/>
<circle cx="888.8" cy="2374.9" r="5.8"/>
<circle cx="888.8" cy="2367.1" r="5.8"/>
<circle cx="889.8" cy="2376.5" r="5.8"/>
<circle cx="890.2" cy="2374.4" r="5.8"/>
<circle cx="890.9" cy="2370.7" r="5.8"/>
<circle cx="891.1" cy="2356.4" r="5.8"/>
<circle cx="891.4" cy="2358.6" r="5.8"/>
<circle cx="892.3" cy="2335.3" r="5.8"/>
<circle cx="892.4" cy="2371.4" r="5.8"/>
<circle cx="892.8" cy="2368" r="5.8"/>
<circle cx="893" cy="2370.1" r="5.8"/>
<circle cx="893" cy="2379" r="5.8"/>
<circle cx="893.1" cy="2353.1" r="5.8"/>
<circle cx="893.2" cy="2371.1" r="5.8"/>
<circle cx="894.1" cy="2372.7" r="5.8"/>
<circle cx="894.4" cy="2367.3" r="5.8"/>
<circle cx="895.2" cy="2376.7" r="5.8"/>
<circle cx="895.3" cy="2372.1" r="5.8"/>
<circle cx="895.4" cy="2376" r="5.8"/>
<circle cx="895.9" cy="2368" r="5.8"/>
<circle cx="896" cy="2361.1" r="5.8"/>
<circle cx="896.1" cy="2378.8" r="5.8"/>
<circle cx="896.4" cy="2369.3" r="5.8"/>
<circle cx="896.7" cy="2377.4" r="5.8"/>
<circle cx="897.4" cy="2372.7" r="5.8"/>
<circle cx="897.9" cy="2378.6" r="5.8"/>
<circle cx="898" cy="2352" r="5.8"/>
<circle cx="898.2" cy="2372.5" r="5.8"/>
<circle cx="898.8" cy="2370.1" r="5.8"/>
<circle cx="899" cy="2374.6" r="5.8"/>
<circle cx="899.9" cy="2373.8" r="5.8"/>
<circle cx="900.6" cy="2355.8" r="5.8"/>
<circle cx="900.7" cy="2372.6" r="5.8"/>
<circle cx="900.8" cy="2359.6" r="5.8"/>
<circle cx="901.6" cy="2379" r="5.8"/>
<circle cx="901.9" cy="2373.2" r="5.8"/>
<circle cx="902" cy="2375.8" r="5.8"/>
<circle cx="902.1" cy="2371.9" r="5.8"/>
<circle cx="903" cy="2377.5" r="5.8"/>
<circle cx="904.3" cy="2363" r="5.8"/>
<circle cx="905.8" cy="2377.1" r="5.8"/>
<circle cx="906.4" cy="2376.2" r="5.8"/>
<circle cx="906.4" cy="2377.4" r="5.8"/>
<circle cx="907.3" cy="2362.7" r="5.8"/>
<circle cx="907.4" cy="2366.5" r="5.8"/>
<circle cx="908.4" cy="2369.3" r="5.8"/>
<circle cx="908.7" cy="2371.4" r="5.8"/>
<circle cx="909.9" cy="2373.5" r="5.8"/>
<circle cx="910.3" cy="2375.8" r="5.8"/>
<circle cx="910.8" cy="2372" r="5.8"/>
<circle cx="911.6" cy="2370.1" r="5.8"/>
<circle cx="911.8" cy="2366.7" r="5.8"/>
<circle cx="911.9" cy="2368.4" r="5.8"/>
<circle cx="912.1" cy="2378.2" r="5.8"/>
<circle cx="913.1" cy="2376.8" r="5.8"/>
<circle cx="913.8" cy="2369" r="5.8"/>
<circle cx="914" cy="2375.3" r="5.8"/>
<circle cx="914.3" cy="2377.4" r="5.8"/>
<circle cx="915.9" cy="2375.8" r="5.8"/>
<circle cx="916" cy="2375.8" r="5.8"/>
<circle cx="916.1" cy="2349.9" r="5.8"/>
<circle cx="916.8" cy="2374" r="5.8"/>
<circle cx="917.9" cy="2374.3" r="5.8"/>
<circle cx="918.9" cy="2375.4" r="5.8"/>
<circle cx="919.5" cy="2355.8" r="5.8"/>
<circle cx="920" cy="2358.5" r="5.8"/>
<circle cx="920.5" cy="2372" r="5.8"/>
<circle cx="920.5" cy="2363" r="5.8"/>
<circle cx="922.5" cy="2336.1" r="5.8"/>
<circle cx="922.6" cy="2357.7" r="5.8"/>
<circle cx="923.1" cy="2371.1" r="5.8"/>
<circle cx="923.7" cy="2359.1" r="5.8"/>
<circle cx="924.3" cy="2372.6" r="5.8"/>
<circle cx="925.3" cy="2378.7" r="5.8"/>
<circle cx="925.5" cy="2378.4" r="5.8"/>
<circle cx="927.3" cy="2370.2" r="5.8"/>
<circle cx="927.4" cy="2376.2" r="5.8"/>
<circle cx="927.4" cy="2374.7" r="5.8"/>
<circle cx="927.7" cy="2367.6" r="5.8"/>
<circle cx="929.9" cy="2372.5" r="5.8"/>
<circle cx="930.2" cy="2375.6" r="5.8"/>
<circle cx="930.5" cy="2372.4" r="5.8"/>
<circle cx="930.9" cy="2377.5" r="5.8"/>
<circle cx="931.1" cy="2361.1" r="5.8"/>
<circle cx="931.1" cy="2376" r="5.8"/>
<circle cx="931.9" cy="2373" r="5.8"/>
<circle cx="932.3" cy="2367.7" r="5.8"/>
<circle cx="933.5" cy="2363.5" r="5.8"/>
<circle cx="933.7" cy="2377.6" r="5.8"/>
<circle cx="934.2" cy="2369.8" r="5.8"/>
<circle cx="934.5" cy="2371.3" r="5.8"/>
<circle cx="934.9" cy="2356.1" r="5.8"/>
<circle cx="936.8" cy="2341" r="5.8"/>
<circle cx="937.1" cy="2371.3" r="5.8"/>
<circle cx="938.3" cy="2368.7" r="5.8"/>
<circle cx="938.9" cy="2370.6" r="5.8"/>
<circle cx="939.1" cy="2371.2" r="5.8"/>
<circle cx="939.7" cy="2323.8" r="5.8"/>
<circle cx="940.3" cy="2364.5" r="5.8"/>
<circle cx="940.5" cy="2351" r="5.8"/>
<circle cx="940.8" cy="2372.2" r="5.8"/>
<circle cx="941.9" cy="2368.4" r="5.8"/>
<circle cx="942.7" cy="2377.9" r="5.8"/>
<circle cx="942.9" cy="2360.6" r="5.8"/>
<circle cx="943.6" cy="2353.6" r="5.8"/>
<circle cx="944.1" cy="2347.7" r="5.8"/>
<circle cx="944.5" cy="2349.7" r="5.8"/>
<circle cx="944.6" cy="2373.9" r="5.8"/>
<circle cx="944.9" cy="2372.5" r="5.8"/>
<circle cx="944.9" cy="2375.2" r="5.8"/>
<circle cx="945.1" cy="2375.2" r="5.8"/>
<circle cx="945.2" cy="2375.4" r="5.8"/>
<circle cx="945.2" cy="2376.1" r="5.8"/>
<circle cx="946.1" cy="2374.3" r="5.8"/>
<circle cx="946.7" cy="2371.2" r="5.8"/>
<circle cx="947.7" cy="2369" r="5.8"/>
<circle cx="947.9" cy="2352.4" r="5.8"/>
<circle cx="948.9" cy="2336.1" r="5.8"/>
<circle cx="949" cy="2355.5" r="5.8"/>
<circle cx="949.2" cy="2347.6" r="5.8"/>
<circle cx="949.4" cy="2347.7" r="5.8"/>
<circle cx="949.6" cy="2378.8" r="5.8"/>
<circle cx="950.7" cy="2377.3" r="5.8"/>
<circle cx="951.3" cy="2369.7" r="5.8"/>
<circle cx="952" cy="2366.4" r="5.8"/>
<circle cx="952.1" cy="2349.9" r="5.8"/>
<circle cx="952.6" cy="2368.8" r="5.8"/>
<circle cx="953" cy="2369.5" r="5.8"/>
<circle cx="953.1" cy="2369.8" r="5.8"/>
<circle cx="954.4" cy="2375.8" r="5.8"/>
<circle cx="954.8" cy="2361.8" r="5.8"/>
<circle cx="954.8" cy="2374.6" r="5.8"/>
<circle cx="955.6" cy="2375" r="5.8"/>
<circle cx="955.9" cy="2347.5" r="5.8"/>
<circle cx="956.3" cy="2369.8" r="5.8"/>
<circle cx="956.6" cy="2361.6" r="5.8"/>
<circle cx="956.6" cy="2349" r="5.8"/>
<circle cx="957.4" cy="2355.8" r="5.8"/>
<circle cx="957.6" cy="2355.1" r="5.8"/>
<circle cx="958" cy="2377" r="5.8"/>
<circle cx="958.4" cy="2364.5" r="5.8"/>
<circle cx="959" cy="2356.1" r="5.8"/>
<circle cx="959.4" cy="2378.8" r="5.8"/>
<circle cx="959.9" cy="2359.1" r="5.8"/>
<circle cx="960.1" cy="2369.4" r="5.8"/>
<circle cx="960.1" cy="2370" r="5.8"/>
<circle cx="960.3" cy="2369.7" r="5.8"/>
<circle cx="960.5" cy="2361.1" r="5.8"/>
<circle cx="960.5" cy="2373.9" r="5.8"/>
<circle cx="960.7" cy="2374.8" r="5.8"/>
<circle cx="960.7" cy="2374.3" r="5.8"/>
<circle cx="963.1" cy="2355.2" r="5.8"/>
<circle cx="964.8" cy="2354.1" r="5.8"/>
<circle cx="965.2" cy="2370.7" r="5.8"/>
<circle cx="965.3" cy="2358.9" r="5.8"/>
<circle cx="965.9" cy="2350.9" r="5.8"/>
<circle cx="966.2" cy="2377" r="5.8"/>
<circle cx="966.4" cy="2372.5" r="5.8"/>
<circle cx="966.6" cy="2354.2" r="5.8"/>
<circle cx="966.9" cy="2374.7" r="5.8"/>
<circle cx="967" cy="2295.1" r="5.8"/>
<circle cx="967" cy="2351.4" r="5.8"/>
<circle cx="968" cy="2377.7" r="5.8"/>
<circle cx="968.2" cy="2377" r="5.8"/>
<circle cx="969.2" cy="2377.7" r="5.8"/>
<circle cx="970.1" cy="2373.1" r="5.8"/>
<circle cx="970.5" cy="2375.3" r="5.8"/>
<circle cx="972" cy="2359" r="5.8"/>
<circle cx="972" cy="2362.3" r="5.8"/>
<circle cx="972.1" cy="2370.1" r="5.8"/>
<circle cx="972.6" cy="2372" r="5.8"/>
<circle cx="973" cy="2358.3" r="5.8"/>
<circle cx="973.4" cy="2377.4" r="5.8"/>
<circle cx="973.9" cy="2373.3" r="5.8"/>
<circle cx="975.2" cy="2374.3" r="5.8"/>
<circle cx="975.9" cy="2375.3" r="5.8"/>
<circle cx="977.2" cy="2371.5" r="5.8"/>
<circle cx="977.3" cy="2374.3" r="5.8"/>
<circle cx="977.6" cy="2374.4" r="5.8"/>
<circle cx="977.6" cy="2360.6" r="5.8"/>
<circle cx="978.9" cy="2375.6" r="5.8"/>
<circle cx="979.6" cy="2366.6" r="5.8"/>
<circle cx="980.8" cy="2377.6" r="5.8"/>
<circle cx="981.6" cy="2363.5" r="5.8"/>
<circle cx="981.8" cy="2358.6" r="5.8"/>
<circle cx="981.9" cy="2369.1" r="5.8"/>
<circle cx="982.4" cy="2376.6" r="5.8"/>
<circle cx="983.4" cy="2362.5" r="5.8"/>
<circle cx="984.2" cy="2369.9" r="5.8"/>
<circle cx="984.2" cy="2353.8" r="5.8"/>
<circle cx="984.5" cy="2353.8" r="5.8"/>
<circle cx="985" cy="2374.1" r="5.8"/>
<circle cx="987.1" cy="2376" r="5.8"/>
<circle cx="987.9" cy="2378.6" r="5.8"/>
<circle cx="988.2" cy="2374.9" r="5.8"/>
<circle cx="988.4" cy="2373.1" r="5.8"/>
<circle cx="988.7" cy="2355" r="5.8"/>
<circle cx="989.8" cy="2362.8" r="5.8"/>
<circle cx="989.9" cy="2378.2" r="5.8"/>
<circle cx="990" cy="2370.6" r="5.8"/>
<circle cx="990" cy="2349.1" r="5.8"/>
<circle cx="990" cy="2357.7" r="5.8"/>
<circle cx="990.1" cy="2364.7" r="5.8"/>
<circle cx="991.2" cy="2375.8" r="5.8"/>
<circle cx="991.3" cy="2378" r="5.8"/>
<circle cx="992.2" cy="2365.3" r="5.8"/>
<circle cx="993.1" cy="2375.6" r="5.8"/>
<circle cx="993.2" cy="2375.4" r="5.8"/>
<circle cx="993.3" cy="2377.8" r="5.8"/>
<circle cx="993.4" cy="2362.7" r="5.8"/>
<circle cx="993.5" cy="2365.5" r="5.8"/>
<circle cx="993.5" cy="2374" r="5.8"/>
<circle cx="993.8" cy="2364.3" r="5.8"/>
<circle cx="993.9" cy="2373.6" r="5.8"/>
<circle cx="994.2" cy="2370" r="5.8"/>
<circle cx="994.9" cy="2369.5" r="5.8"/>
<circle cx="995" cy="2353.9" r="5.8"/>
<circle cx="995.2" cy="2352.5" r="5.8"/>
<circle cx="995.4" cy="2372.5" r="5.8"/>
<circle cx="995.4" cy="2352.3" r="5.8"/>
<circle cx="995.4" cy="2376.9" r="5.8"/>
<circle cx="995.8" cy="2356.2" r="5.8"/>
<circle cx="996.7" cy="2367.4" r="5.8"/>
<circle cx="997" cy="2376.3" r="5.8"/>
<circle cx="997.6" cy="2378.8" r="5.8"/>
<circle cx="997.6" cy="2373.3" r="5.8"/>
<circle cx="997.8" cy="2364.2" r="5.8"/>
<circle cx="999.1" cy="2372.5" r="5.8"/>
<circle cx="999.2" cy="2371.7" r="5.8"/>
<circle cx="999.4" cy="2370.4" r="5.8"/>
<circle cx="999.7" cy="2371.1" r="5.8"/>
<circle cx="999.8" cy="2372.1" r="5.8"/>
<circle cx="1000" cy="2373.8" r="5.8"/>
<circle cx="1001.8" cy="2374.3" r="5.8"/>
<circle cx="1002.4" cy="2362.7" r="5.8"/>
<circle cx="1002.6" cy="2363.9" r="5.8"/>
<circle cx="1002.8" cy="2369.7" r="5.8"/>
</g>
<g fill="#4dac26" fill-opacity="0.6">
<circle cx="497.9" cy="2223.2" r="5.8"/>
<circle cx="499.2" cy="2320.3" r="5.8"/>
<circle cx="534.5" cy="2343.9" r="5.8"/>
<circle cx="518.7" cy="2350.5" r="5.8"/>
<circle cx="541.7" cy="2353.4" r="5.8"/>
<circle cx="524.5" cy="2353.4" r="5.8"/>
<circle cx="515.9" cy="2357.7" r="5.8"/>
<circle cx="505.8" cy="2364" r="5.8"/>
<circle cx="513" cy="2372.6" r="5.8"/>
<circle cx="547.5" cy="2367.8" r="5.8"/>
<circle cx="556.1" cy="2362" r="5.8"/>
<circle cx="533.1" cy="2364.9" r="5.8"/>
</g>
<g fill="#ab47bc" fill-opacity="0.6">
<circle cx="496.7" cy="2096.9" r="5.8"/>
<circle cx="534.5" cy="2360" r="5.8"/>
</g>
</g>
<rect x="54" y="1987.4" width="948.5" height="391.6" fill="none" stroke="#1a1a1a" stroke-width="1.7"/>
<line x1="49.5" y1="2379.0" x2="54" y2="2379.0" stroke="#1a1a1a" stroke-width="1.5"/>
<line x1="49.5" y1="2313.7" x2="54" y2="2313.7" stroke="#1a1a1a" stroke-width="1.5"/>
<line x1="49.5" y1="2248.5" x2="54" y2="2248.5" stroke="#1a1a1a" stroke-width="1.5"/>
<line x1="49.5" y1="2183.2" x2="54" y2="2183.2" stroke="#1a1a1a" stroke-width="1.5"/>
<line x1="49.5" y1="2117.9" x2="54" y2="2117.9" stroke="#1a1a1a" stroke-width="1.5"/>
<line x1="49.5" y1="2052.7" x2="54" y2="2052.7" stroke="#1a1a1a" stroke-width="1.5"/>
<line x1="49.5" y1="1987.4" x2="54" y2="1987.4" stroke="#1a1a1a" stroke-width="1.5"/>
<line x1="57.2" y1="2379.0" x2="57.2" y2="2383.5" stroke="#1a1a1a" stroke-width="1.5"/>
<line x1="278.6" y1="2379.0" x2="278.6" y2="2383.5" stroke="#1a1a1a" stroke-width="1.5"/>
<line x1="499.7" y1="2379.0" x2="499.7" y2="2383.5" stroke="#1a1a1a" stroke-width="1.5"/>
<line x1="721.4" y1="2379.0" x2="721.4" y2="2383.5" stroke="#1a1a1a" stroke-width="1.5"/>
<line x1="943.1" y1="2379.0" x2="943.1" y2="2383.5" stroke="#1a1a1a" stroke-width="1.5"/>
<g font-family="DejaVu Sans Condensed, DejaVu Sans, sans-serif" font-weight="bold" font-stretch="condensed" font-size="17.3" fill="#000" clip-path="url(#clipL)"><text transform="translate(46.5,2384.4) scale(1,1.1)" text-anchor="end">0</text><text transform="translate(46.5,2319.1) scale(1,1.1)" text-anchor="end">2</text><text transform="translate(46.5,2253.9) scale(1,1.1)" text-anchor="end">4</text><text transform="translate(46.5,2188.6) scale(1,1.1)" text-anchor="end">6</text><text transform="translate(46.5,2123.3) scale(1,1.1)" text-anchor="end">8</text><text transform="translate(46.5,2058.1) scale(1,1.1)" text-anchor="end">10</text><text transform="translate(46.5,1992.8) scale(1,1.1)" text-anchor="end">12</text><text transform="translate(57.2,2399.0) scale(1,1.1)" text-anchor="middle">133500000</text><text transform="translate(278.6,2399.0) scale(1,1.1)" text-anchor="middle">134000000</text><text transform="translate(499.7,2399.0) scale(1,1.1)" text-anchor="middle">134500000</text><text transform="translate(721.4,2399.0) scale(1,1.1)" text-anchor="middle">135000000</text><text transform="translate(943.1,2399.0) scale(1,1.1)" text-anchor="middle">135500000</text></g>
<text font-family="DejaVu Sans, sans-serif" font-weight="bold" font-size="20.5" x="528.2" y="2422.3" text-anchor="middle" stroke="#000" stroke-width="0.4">Chromosome Position</text>
<text font-family="DejaVu Sans, sans-serif" font-weight="bold" font-size="20.5" transform="translate(17.0,2183.2) rotate(-90)" text-anchor="middle" stroke="#000" stroke-width="0.4">-log10Pvalue</text>
<rect x="886.0" y="2000.4" width="31.5" height="11.3" fill="#fdb672"/>
<text font-family="DejaVu Sans Condensed, DejaVu Sans, sans-serif" font-weight="bold" font-stretch="condensed" font-size="14.9" transform="translate(930.0,2012.2) scale(1,1.1)">flanking</text>
<rect x="886.0" y="2023.0" width="31.5" height="11.3" fill="#4fb320"/>
<text font-family="DejaVu Sans Condensed, DejaVu Sans, sans-serif" font-weight="bold" font-stretch="condensed" font-size="14.9" transform="translate(930.0,2034.8) scale(1,1.1)">intron</text>
<rect x="886.0" y="2045.6" width="31.5" height="11.3" fill="#a947bb"/>
<text font-family="DejaVu Sans Condensed, DejaVu Sans, sans-serif" font-weight="bold" font-stretch="condensed" font-size="14.9" transform="translate(930.0,2057.4) scale(1,1.1)">exon</text>
<g stroke="#fff" stroke-width="4" fill="#fff" stroke-linejoin="round"><line x1="560.2" y1="2085.7" x2="505.9" y2="2085.7"/><path d="M497.9,2085.7 L505.9,2081.7 L505.9,2089.7 Z"/></g>
<line x1="560.2" y1="2085.7" x2="505.9" y2="2085.7" stroke="#000" stroke-width="1.6"/>
<path d="M497.9,2085.7 L505.9,2081.7 L505.9,2089.7 Z" fill="#000"/>
<text font-family="DejaVu Sans, sans-serif" font-weight="bold" font-size="15.5" x="509.8" y="2081.0" text-anchor="middle" stroke="#fff" stroke-width="3" paint-order="stroke" stroke-linejoin="round">SGK1</text>
<text font-family="Liberation Sans, Arial, sans-serif" font-weight="bold" font-size="46" x="12" y="1902.3">g</text>
</g>
</svg>
</body></html>
